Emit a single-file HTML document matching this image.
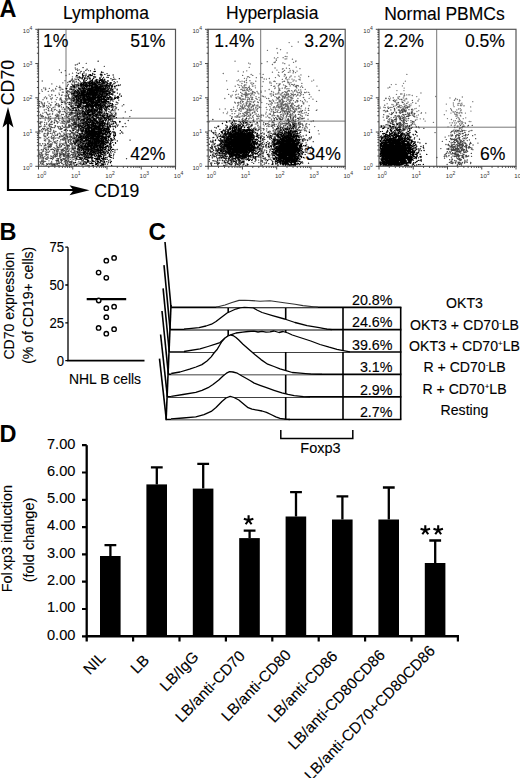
<!DOCTYPE html>
<html><head><meta charset="utf-8"><style>
html,body{margin:0;padding:0;background:#fff;overflow:hidden;width:520px;height:778px;}
svg{display:block;font-family:"Liberation Sans", sans-serif;}
text{stroke:#000;stroke-width:0.12px;}
text.t,text.b{stroke:none;}
</style></head><body>
<svg width="520" height="778" viewBox="0 0 520 778">
<rect width="520" height="778" fill="#fff"/>
<path d="M66 29.3V166.3 M38.5 118.2H175.5" stroke="#777" stroke-width="1" fill="none"/>
<path d="M103.3 123.4h.1M105.4 97.2h.1M97.7 121.9h.1M115.4 113.3h.1M100.6 87.1h.1M103.2 93.1h.1M110.2 99.9h.1M97.8 107.3h.1M112.2 118.9h.1M112.3 103.6h.1M105.2 117.8h.1M100.9 85.6h.1M104.3 66.4h.1M96.5 101.6h.1M114.9 112.0h.1M107.3 101.3h.1M102.8 92.9h.1M101.9 111.5h.1M110.2 131.1h.1M115.5 104.7h.1M99.8 96.6h.1M103.7 95.0h.1M97.0 131.6h.1M110.8 105.5h.1M107.9 114.0h.1M119.8 121.9h.1M106.3 120.0h.1M104.5 94.0h.1M103.0 118.4h.1M111.8 117.0h.1M97.8 112.4h.1M111.3 119.1h.1M108.4 98.7h.1M104.1 105.0h.1M101.9 99.2h.1M113.0 115.9h.1M117.6 97.5h.1M104.5 111.1h.1M110.0 91.8h.1M116.9 104.4h.1M103.5 101.3h.1M105.6 104.5h.1M100.1 107.7h.1M106.2 103.6h.1M106.5 103.1h.1M104.6 79.1h.1M102.8 120.4h.1M98.0 97.9h.1M99.3 102.8h.1M101.4 95.2h.1M110.7 119.0h.1M104.1 94.2h.1M102.1 112.6h.1M110.7 121.3h.1M110.2 127.4h.1M102.7 121.4h.1M103.4 114.1h.1M110.8 90.4h.1M109.1 122.8h.1M102.2 121.5h.1M108.4 116.9h.1M106.8 116.5h.1M113.4 107.0h.1M102.0 99.4h.1M112.0 120.1h.1M109.5 122.6h.1M101.2 92.6h.1M113.0 117.9h.1M112.2 109.3h.1M99.5 117.6h.1M118.3 109.7h.1M100.4 120.5h.1M101.7 119.4h.1M105.2 117.6h.1M111.4 88.3h.1M110.3 116.8h.1M106.5 106.8h.1M114.8 91.6h.1M109.3 115.3h.1M115.0 88.5h.1M123.2 117.8h.1M108.1 128.1h.1M92.2 99.7h.1M104.4 118.1h.1M100.8 112.1h.1M107.5 114.6h.1M107.6 88.8h.1M99.9 114.1h.1M100.4 108.0h.1M105.5 115.8h.1M105.9 106.4h.1M92.0 120.4h.1M112.6 109.8h.1M107.2 115.1h.1M106.9 124.0h.1M108.7 108.7h.1M101.1 119.1h.1M106.7 109.3h.1M113.0 113.1h.1M113.2 99.6h.1M109.7 116.3h.1M105.4 122.1h.1M102.2 105.3h.1M114.7 116.6h.1M110.0 111.9h.1M104.5 92.2h.1M94.4 110.9h.1M101.9 123.3h.1M95.8 100.2h.1M114.3 83.5h.1M108.1 109.0h.1M102.7 98.2h.1M105.4 130.8h.1M122.2 105.9h.1M114.1 106.4h.1M99.1 98.4h.1M106.2 109.6h.1M99.8 99.2h.1M96.9 94.9h.1M108.0 105.6h.1M121.1 96.1h.1M116.2 123.3h.1M107.3 91.5h.1M104.8 105.5h.1M108.2 97.6h.1M113.1 88.8h.1M98.4 127.7h.1M96.0 79.6h.1M118.1 125.0h.1M108.6 88.4h.1M116.5 107.6h.1M108.4 135.3h.1M115.7 79.3h.1M103.4 88.9h.1M109.9 123.2h.1M116.2 108.7h.1M113.0 99.5h.1M104.3 106.0h.1M112.3 94.2h.1M103.1 108.0h.1M98.6 125.5h.1M110.1 101.6h.1M115.3 108.2h.1M112.0 121.8h.1M99.5 131.8h.1M112.2 99.0h.1M111.0 110.3h.1M104.3 99.3h.1M92.2 98.2h.1M113.0 101.4h.1M112.3 98.4h.1M110.0 84.4h.1M96.7 81.1h.1M98.1 97.2h.1M113.0 108.1h.1M111.8 121.9h.1M109.9 99.7h.1M105.5 104.3h.1M109.3 114.9h.1M103.8 115.9h.1M105.1 105.0h.1M101.8 105.8h.1M108.5 130.3h.1M104.5 102.2h.1M112.7 100.2h.1M111.3 85.8h.1M102.2 112.0h.1M118.0 103.1h.1M100.3 130.8h.1M109.7 102.2h.1M113.5 116.8h.1M114.7 118.3h.1M93.8 127.4h.1M113.0 89.8h.1M114.3 126.4h.1M115.6 106.6h.1M93.7 105.1h.1M103.0 102.5h.1M106.4 101.4h.1M104.3 102.1h.1M61.3 72.5h.1M80.7 112.0h.1M77.7 101.0h.1M70.7 88.3h.1M76.8 79.4h.1M93.0 108.2h.1M79.8 98.7h.1M74.6 102.2h.1M89.0 93.2h.1M71.8 87.6h.1M76.2 105.1h.1M73.5 86.0h.1M75.6 105.5h.1M82.2 78.4h.1M81.2 86.3h.1M72.2 80.7h.1M76.4 109.8h.1M77.8 77.6h.1M74.4 84.0h.1M77.0 102.9h.1M72.3 98.4h.1M72.2 119.0h.1M77.5 115.4h.1M70.2 102.5h.1M80.1 103.3h.1M75.9 76.8h.1M70.9 86.7h.1M73.0 92.5h.1M74.0 94.1h.1M76.1 81.5h.1M78.0 86.2h.1M75.8 87.1h.1M71.3 107.2h.1M87.0 100.5h.1M83.4 92.5h.1M78.0 93.1h.1M83.7 99.1h.1M79.4 88.7h.1M75.5 93.2h.1M77.8 77.9h.1M95.4 103.0h.1M84.0 106.1h.1M84.3 99.8h.1M74.5 101.0h.1M81.3 99.8h.1M92.6 117.5h.1M80.1 98.1h.1M84.5 82.1h.1M85.8 85.0h.1M81.6 103.5h.1M87.9 107.2h.1M78.8 104.1h.1M80.6 104.8h.1M72.9 98.0h.1M95.1 80.3h.1M79.3 88.5h.1M78.0 76.9h.1M86.6 91.9h.1M73.9 81.6h.1M77.2 97.0h.1M71.9 94.2h.1M77.4 75.4h.1M74.6 103.7h.1M80.9 104.0h.1M76.3 81.3h.1M73.1 97.5h.1M75.2 103.5h.1M76.4 92.9h.1M73.7 105.0h.1M83.5 97.9h.1M81.8 107.3h.1M78.2 97.9h.1M69.1 94.2h.1M80.7 101.3h.1M68.5 104.2h.1M78.4 98.6h.1M77.5 91.2h.1M73.2 87.6h.1M71.6 92.0h.1M72.5 89.8h.1M91.1 98.1h.1M75.4 97.7h.1M75.8 95.0h.1M83.7 95.9h.1M80.0 97.7h.1M84.3 112.4h.1M68.9 108.6h.1M69.8 89.8h.1M99.7 100.3h.1M76.9 92.4h.1M75.2 94.8h.1M78.3 93.3h.1M83.9 89.2h.1M69.1 81.4h.1M79.1 69.8h.1M77.0 98.0h.1M81.7 108.4h.1M78.4 86.2h.1M73.6 101.2h.1M71.3 91.7h.1M60.7 98.8h.1M83.8 87.3h.1M67.3 93.4h.1M74.5 94.6h.1M88.4 70.6h.1M74.4 98.1h.1M81.3 94.3h.1M75.8 69.5h.1M81.9 102.7h.1M77.4 95.4h.1M73.8 98.0h.1M86.3 99.6h.1M75.4 91.4h.1M68.2 84.4h.1M75.0 91.0h.1M80.8 91.2h.1M69.7 119.3h.1M82.5 115.3h.1M82.3 90.6h.1M91.5 91.4h.1M72.9 99.2h.1M81.6 101.8h.1M65.9 88.4h.1M74.4 85.1h.1M77.9 116.3h.1M79.9 107.0h.1M76.8 79.2h.1M76.6 76.9h.1M73.1 86.9h.1M74.2 98.1h.1M79.2 101.5h.1M80.9 92.1h.1M81.5 78.5h.1M83.9 98.0h.1M85.2 102.1h.1M65.1 95.7h.1M73.7 90.4h.1M76.1 101.8h.1M72.9 95.1h.1M84.2 83.7h.1M82.2 96.7h.1M76.5 81.9h.1M78.0 106.0h.1M85.7 100.7h.1M74.8 85.0h.1M75.1 97.9h.1M83.3 109.0h.1M80.3 72.8h.1M86.7 94.2h.1M79.7 113.3h.1M82.2 79.1h.1M73.5 93.9h.1M70.9 80.4h.1M77.1 94.9h.1M59.4 69.9h.1M79.9 78.3h.1M83.7 89.9h.1M77.7 97.1h.1M75.7 99.7h.1M84.5 100.2h.1M76.9 108.0h.1M83.8 103.2h.1M91.9 103.6h.1M82.0 85.2h.1M83.5 94.0h.1M80.5 129.9h.1M78.9 120.0h.1M79.0 104.6h.1M77.6 103.6h.1M84.4 106.3h.1M66.4 91.3h.1M75.4 116.8h.1M81.6 91.6h.1M71.5 94.8h.1M76.5 119.1h.1M72.5 73.2h.1M80.1 99.6h.1M83.0 77.1h.1M86.9 88.6h.1M80.5 94.7h.1M72.4 91.9h.1M78.9 97.5h.1M81.0 87.4h.1M86.6 94.6h.1M62.8 82.8h.1M79.7 91.5h.1M65.0 80.7h.1M82.0 102.8h.1M80.2 81.7h.1M80.5 103.2h.1M83.1 91.2h.1M79.8 92.4h.1M72.9 108.5h.1M79.5 96.8h.1M85.2 75.1h.1M76.4 101.1h.1M77.4 64.2h.1M69.1 98.6h.1M84.9 91.3h.1M73.8 80.5h.1M72.2 96.5h.1M74.2 92.3h.1M71.4 117.5h.1M75.5 90.9h.1M85.7 116.8h.1M82.5 110.7h.1M86.7 89.0h.1M87.1 86.8h.1M71.2 110.0h.1M80.4 94.2h.1M87.2 97.4h.1M92.5 92.9h.1M67.7 82.5h.1M67.7 91.6h.1M80.3 85.2h.1M74.9 79.0h.1M70.5 92.5h.1M79.7 115.1h.1M71.9 113.3h.1M62.0 95.0h.1M77.0 97.2h.1M78.0 101.3h.1M81.4 110.5h.1M83.5 99.1h.1M78.4 90.5h.1M75.6 91.4h.1M72.7 108.1h.1M66.2 124.1h.1M74.2 88.8h.1M83.8 73.3h.1M81.5 104.5h.1M90.9 94.8h.1M76.1 97.2h.1M65.2 109.2h.1M82.7 96.4h.1M84.1 81.2h.1M69.3 74.2h.1M66.4 95.2h.1M78.2 83.0h.1M81.9 98.9h.1M69.7 81.7h.1M74.9 91.8h.1M72.0 79.6h.1M69.2 91.7h.1M68.3 90.8h.1M78.1 102.2h.1M74.6 110.4h.1M72.7 93.7h.1M59.7 86.2h.1M88.8 117.1h.1M70.8 99.7h.1M76.2 102.4h.1M69.5 102.4h.1M79.7 111.6h.1M67.0 106.8h.1M77.7 103.1h.1M75.9 104.1h.1M83.2 86.3h.1M69.8 89.0h.1M72.8 94.5h.1M75.5 96.7h.1M91.1 95.9h.1M67.3 99.1h.1M79.0 96.0h.1M72.7 91.0h.1M79.2 77.9h.1M81.5 104.9h.1M78.0 102.2h.1M78.8 86.1h.1M79.0 101.2h.1M73.2 100.0h.1M75.6 96.5h.1M66.0 75.5h.1M74.7 82.5h.1M71.9 89.1h.1M75.4 113.4h.1M82.0 86.3h.1M79.6 91.9h.1M80.2 83.5h.1M84.4 90.3h.1M61.1 99.5h.1M79.9 73.0h.1M76.9 64.6h.1M76.4 103.0h.1M68.3 96.1h.1M80.7 89.1h.1M84.7 106.4h.1M83.9 106.4h.1M76.5 72.7h.1M81.3 93.9h.1M83.2 107.9h.1M89.2 88.4h.1M85.2 92.3h.1M78.0 106.2h.1M77.7 92.8h.1M78.2 82.6h.1M78.6 88.2h.1M73.7 81.1h.1M82.2 101.8h.1M72.4 76.8h.1M71.7 106.7h.1M79.4 77.6h.1M73.2 96.2h.1M75.4 79.6h.1M63.2 92.2h.1M82.3 106.9h.1M77.0 108.0h.1M76.2 110.1h.1M80.1 94.7h.1M78.4 96.9h.1M72.4 98.3h.1M90.4 102.5h.1M74.0 91.3h.1M83.5 107.8h.1M89.2 99.3h.1M72.9 108.3h.1M77.6 101.0h.1M71.6 103.2h.1M84.0 87.7h.1M74.8 91.1h.1M69.7 81.5h.1M85.8 92.5h.1M83.2 93.8h.1M71.1 104.9h.1M84.9 81.9h.1M78.3 131.3h.1M95.2 94.4h.1M88.5 109.5h.1M73.3 107.1h.1M75.2 68.0h.1M71.2 92.8h.1M77.9 111.9h.1M77.3 69.0h.1M81.9 104.2h.1M77.6 85.6h.1M67.2 90.6h.1M71.6 98.2h.1M86.5 75.2h.1M84.7 97.9h.1M75.9 88.6h.1M76.1 87.5h.1M75.9 103.4h.1M77.2 134.3h.1M65.8 99.5h.1M83.0 101.8h.1M72.6 95.1h.1M78.0 87.7h.1M60.1 98.5h.1M78.6 112.4h.1M85.9 97.8h.1M82.6 125.2h.1M49.8 145.1h.1M75.1 96.6h.1M78.2 154.6h.1M89.8 97.1h.1M57.8 150.1h.1M58.7 122.1h.1M40.8 106.6h.1M46.7 105.7h.1M76.8 164.8h.1M52.5 113.7h.1M85.4 133.8h.1M54.9 107.0h.1M79.5 135.3h.1M57.1 156.2h.1M77.4 116.2h.1M61.1 149.9h.1M49.4 125.2h.1M49.1 103.5h.1M53.3 155.8h.1M44.6 124.3h.1M83.2 145.2h.1M86.0 163.7h.1M79.5 150.4h.1M83.9 143.7h.1M79.4 152.0h.1M81.9 113.1h.1M71.0 163.8h.1M49.2 114.2h.1M53.8 91.0h.1M58.5 138.2h.1M48.0 134.1h.1M39.9 106.9h.1M87.6 134.8h.1M58.6 118.2h.1M69.8 155.8h.1M44.0 135.4h.1M82.7 137.7h.1M77.2 105.7h.1M40.6 163.4h.1M48.9 116.6h.1M76.8 141.6h.1M41.4 153.7h.1M39.7 137.4h.1M44.6 122.3h.1M45.8 145.5h.1M78.3 150.1h.1M78.8 105.1h.1M67.9 116.8h.1M54.2 109.9h.1M78.9 88.1h.1M71.2 144.1h.1M48.2 118.3h.1M74.3 162.9h.1M67.7 127.5h.1M58.8 161.5h.1M65.8 99.7h.1M51.0 122.1h.1M68.7 157.8h.1M45.6 161.3h.1M89.3 155.2h.1M80.9 148.0h.1M64.1 121.5h.1M88.9 165.5h.1M73.4 141.0h.1M68.3 156.2h.1M71.8 128.6h.1M74.6 162.9h.1M89.5 144.2h.1M78.9 149.8h.1M50.7 105.6h.1M41.5 129.7h.1M85.9 100.1h.1M76.5 125.1h.1M68.5 140.6h.1M63.7 119.9h.1M87.4 83.7h.1M40.7 131.0h.1M46.5 152.6h.1M54.8 127.1h.1M89.9 153.7h.1M74.3 127.8h.1M69.4 139.4h.1M56.2 120.9h.1M46.6 98.7h.1M39.4 154.0h.1M45.8 136.9h.1M47.5 154.7h.1M64.8 154.2h.1M57.4 153.8h.1M88.9 127.2h.1M85.9 120.1h.1M67.1 114.0h.1M47.1 133.7h.1M54.8 142.9h.1M39.9 158.6h.1M58.3 150.9h.1M86.2 140.6h.1M54.8 119.7h.1M82.3 141.6h.1M58.8 119.3h.1M72.2 159.1h.1M56.8 114.2h.1M80.2 129.4h.1M50.0 113.9h.1M46.7 113.3h.1M41.2 153.0h.1M58.1 111.8h.1M76.3 122.5h.1M62.3 92.2h.1M81.9 161.4h.1M68.7 160.7h.1M66.0 126.8h.1M64.2 161.9h.1M40.6 114.3h.1M68.9 116.5h.1M48.3 139.8h.1M42.8 113.2h.1M43.8 161.2h.1M47.0 164.7h.1M70.5 103.2h.1M53.2 132.2h.1M53.7 130.5h.1M59.8 165.7h.1M87.8 165.5h.1M51.8 95.1h.1M54.0 163.9h.1M51.4 145.7h.1M54.7 133.9h.1M53.8 131.4h.1M81.3 158.3h.1M88.9 103.9h.1M58.8 128.5h.1M83.2 100.5h.1M44.0 128.5h.1M63.3 155.1h.1M80.9 157.0h.1M43.1 105.4h.1M89.9 116.2h.1M59.1 149.1h.1M64.2 108.8h.1M87.2 93.2h.1M85.9 159.0h.1M49.3 88.3h.1M62.0 160.3h.1M76.4 142.6h.1M62.2 128.3h.1M86.9 120.7h.1M48.8 128.1h.1M88.7 160.6h.1M70.5 141.4h.1M70.1 105.8h.1M73.7 140.2h.1M52.1 121.7h.1M61.4 160.9h.1M49.8 107.4h.1M80.0 135.6h.1M55.6 88.3h.1M45.9 117.5h.1M84.3 149.6h.1M56.2 143.6h.1M87.4 161.9h.1M61.4 107.0h.1M72.0 133.5h.1M79.0 100.8h.1M65.1 148.8h.1M87.1 101.1h.1M80.2 162.1h.1M84.4 135.0h.1M65.9 138.7h.1M45.2 126.2h.1M47.4 128.6h.1M46.0 159.3h.1M66.0 152.7h.1M87.5 127.7h.1M67.0 156.0h.1M60.6 127.0h.1M44.3 97.9h.1M57.8 114.3h.1M48.0 130.5h.1M62.0 131.8h.1M62.1 109.1h.1M86.6 149.3h.1M58.9 115.2h.1M84.0 145.9h.1M40.7 137.8h.1M56.3 145.8h.1M75.7 160.4h.1M61.5 149.8h.1M42.6 143.7h.1M56.9 148.0h.1M67.0 137.1h.1M50.7 156.0h.1M43.1 107.2h.1M77.5 106.9h.1M70.2 131.4h.1M56.5 162.0h.1M58.6 105.6h.1M55.4 115.2h.1M83.1 151.9h.1M53.9 139.0h.1M85.4 108.1h.1M60.1 90.0h.1M63.8 123.2h.1M51.7 110.6h.1M43.0 159.9h.1M48.9 137.1h.1M51.4 136.4h.1M61.0 143.5h.1M63.9 135.5h.1M82.0 115.2h.1M57.0 151.1h.1M77.9 151.4h.1M51.6 161.3h.1M63.1 135.2h.1M42.4 104.2h.1M84.4 164.3h.1M56.7 86.3h.1M71.5 107.1h.1M67.4 149.5h.1M63.6 158.7h.1M50.8 163.2h.1M80.9 142.4h.1M62.8 118.6h.1M45.3 89.8h.1M43.6 151.2h.1M64.4 145.4h.1M67.6 102.5h.1M52.7 151.9h.1M50.6 163.6h.1M81.3 110.2h.1M73.7 142.9h.1M45.9 130.0h.1M80.1 143.7h.1M41.5 102.7h.1M81.9 160.7h.1M81.6 120.1h.1M44.9 145.4h.1M89.5 114.8h.1M84.9 109.5h.1M47.7 164.1h.1M72.2 117.0h.1M62.4 163.8h.1M45.9 158.6h.1M49.1 139.9h.1M49.1 140.2h.1M73.1 89.7h.1M68.0 153.3h.1M88.5 148.0h.1M54.3 141.8h.1M63.3 155.9h.1M57.7 133.9h.1M58.2 127.3h.1M68.6 151.5h.1M79.0 135.6h.1M73.7 143.1h.1M44.4 106.6h.1M52.7 111.7h.1M70.8 109.8h.1M77.7 155.2h.1M57.1 164.9h.1M62.1 139.5h.1M41.0 154.2h.1M65.2 103.0h.1M54.2 123.1h.1M65.6 163.0h.1M69.4 120.4h.1M47.3 107.3h.1M42.4 131.2h.1M75.2 153.2h.1M75.7 165.6h.1M89.4 90.1h.1M64.4 145.1h.1M42.0 157.4h.1M42.5 156.0h.1M88.5 161.9h.1M76.4 145.7h.1M47.0 157.9h.1M60.3 128.9h.1M48.6 142.1h.1M78.5 139.3h.1M76.2 131.8h.1M86.2 132.3h.1M72.4 149.5h.1M59.4 106.5h.1M85.4 157.0h.1M58.2 149.7h.1M76.4 111.7h.1M49.8 124.7h.1M52.8 157.5h.1M69.7 130.5h.1M53.6 157.8h.1M82.8 128.6h.1M86.3 128.0h.1M69.5 165.4h.1M68.2 127.5h.1M64.6 130.2h.1M48.5 108.9h.1M56.6 154.3h.1M84.6 97.6h.1M73.4 154.0h.1M78.2 135.8h.1M59.9 158.6h.1M48.9 144.1h.1M79.4 163.4h.1M60.0 137.0h.1M78.6 114.1h.1M42.0 162.1h.1M56.6 160.5h.1M72.0 157.4h.1M86.4 142.7h.1M48.8 117.5h.1M89.1 86.9h.1M73.3 155.8h.1M48.8 146.5h.1M39.3 131.7h.1M86.3 136.9h.1M73.3 154.4h.1M75.7 114.6h.1M59.8 87.6h.1M43.0 99.7h.1M63.1 165.7h.1M71.6 112.4h.1M52.8 165.1h.1M87.9 89.3h.1M78.4 147.3h.1M39.5 137.8h.1M53.7 135.6h.1M84.9 80.4h.1M77.0 140.6h.1M79.8 143.8h.1M48.2 157.1h.1M83.9 156.9h.1M72.4 155.7h.1M59.3 94.7h.1M73.7 159.5h.1M51.1 137.6h.1M84.7 159.1h.1M42.6 161.3h.1M52.3 98.0h.1M75.5 129.4h.1M60.0 136.4h.1M84.0 142.9h.1M81.1 162.9h.1M73.5 90.6h.1M57.0 142.9h.1M61.1 135.4h.1M55.6 104.6h.1M54.6 148.1h.1M39.1 150.8h.1M51.8 102.3h.1M74.3 101.0h.1M66.4 135.1h.1M55.5 163.9h.1M55.3 156.9h.1M47.8 146.8h.1M42.5 128.4h.1M46.5 163.6h.1M70.5 134.1h.1M86.4 105.1h.1M73.9 142.6h.1M56.3 99.6h.1M67.5 158.8h.1M45.4 136.2h.1M42.7 151.3h.1M41.7 158.0h.1M67.7 154.4h.1M68.7 154.6h.1M46.5 154.2h.1M87.0 127.6h.1M45.7 89.4h.1M64.8 116.6h.1M71.9 146.0h.1M40.1 122.0h.1M52.5 165.6h.1M65.9 122.0h.1M73.4 149.6h.1M73.6 103.2h.1M72.6 132.8h.1M42.3 155.2h.1M41.5 161.4h.1M82.8 96.7h.1M46.1 155.3h.1M57.2 164.4h.1M81.8 88.2h.1M40.8 155.9h.1M82.7 92.1h.1M72.2 147.7h.1M58.4 165.6h.1M50.9 98.5h.1M65.3 151.9h.1M81.0 101.8h.1M48.9 141.7h.1M51.2 124.5h.1M64.2 139.9h.1M80.2 152.6h.1M60.0 110.9h.1M59.7 120.6h.1M88.1 102.4h.1M66.0 129.3h.1M79.0 97.9h.1M73.2 89.4h.1M66.7 151.1h.1M60.9 149.3h.1M72.2 89.4h.1M81.4 146.2h.1M45.9 147.5h.1M52.4 124.3h.1M49.4 120.2h.1M80.2 114.4h.1M55.2 142.9h.1M61.6 104.5h.1M65.0 139.3h.1M87.8 129.1h.1M48.0 152.6h.1M83.2 114.0h.1M62.0 121.7h.1M57.4 134.7h.1M87.1 122.8h.1M44.0 148.0h.1M39.3 105.5h.1M85.2 161.7h.1M80.7 163.2h.1M66.2 103.7h.1M52.2 135.0h.1M78.6 124.4h.1M46.6 124.3h.1M60.5 111.6h.1M47.3 138.6h.1M59.5 155.2h.1M62.2 154.1h.1M61.8 152.0h.1M89.1 144.7h.1M58.0 160.1h.1M65.9 142.9h.1M46.3 155.1h.1M53.0 163.9h.1M50.3 158.2h.1M88.6 141.1h.1M45.1 119.9h.1M71.6 143.0h.1M81.3 150.4h.1M87.0 150.3h.1M74.8 128.5h.1M47.8 152.1h.1M85.9 123.3h.1M65.1 103.9h.1M65.7 164.0h.1M84.5 161.8h.1M39.3 130.5h.1M75.6 139.4h.1M77.7 86.4h.1M73.0 163.7h.1M48.5 125.1h.1M85.5 143.5h.1M50.8 104.7h.1M55.2 105.1h.1M81.5 141.9h.1M85.9 147.4h.1M52.1 165.2h.1M63.2 149.0h.1M82.3 143.4h.1M66.2 143.0h.1M50.2 118.5h.1M57.6 126.3h.1M71.1 144.4h.1M75.8 104.8h.1M54.4 120.9h.1M48.3 108.3h.1M78.7 90.8h.1M54.1 132.5h.1M51.2 126.6h.1M53.3 140.0h.1M50.4 128.5h.1M45.4 96.8h.1M58.4 158.6h.1M48.2 91.4h.1M71.8 87.9h.1M43.8 88.0h.1M56.9 154.4h.1M87.3 126.2h.1M62.1 163.4h.1M84.4 122.1h.1M50.2 129.3h.1M79.0 149.0h.1M42.9 163.4h.1M87.5 161.5h.1M88.0 126.8h.1M74.1 147.9h.1M48.9 95.1h.1M77.5 140.9h.1M79.9 145.7h.1M72.2 118.7h.1M78.5 146.3h.1M51.6 121.2h.1M78.7 153.1h.1M50.1 96.6h.1M64.6 137.4h.1M58.9 163.6h.1M49.5 144.6h.1M51.8 163.0h.1M84.1 163.4h.1M41.7 152.9h.1M63.8 155.3h.1M63.3 151.2h.1M44.2 136.7h.1M42.8 154.5h.1M61.0 154.4h.1M56.9 158.7h.1M51.8 83.9h.1M51.6 90.9h.1M50.3 133.4h.1M71.4 150.1h.1M88.8 130.1h.1M54.3 127.3h.1M59.1 87.6h.1M74.4 143.2h.1M54.3 163.9h.1M45.0 143.7h.1M71.9 115.8h.1M56.8 145.0h.1M55.4 126.0h.1M83.8 94.3h.1M41.2 149.9h.1M84.4 80.9h.1M70.1 157.4h.1M81.4 83.7h.1M67.4 153.8h.1M75.1 124.7h.1M84.1 124.7h.1M47.4 135.3h.1M44.2 110.0h.1M67.9 112.2h.1M63.2 149.9h.1M65.3 161.3h.1M57.0 105.3h.1M89.0 118.5h.1M69.6 165.3h.1M69.9 148.3h.1M40.0 161.7h.1M52.7 127.6h.1M53.0 153.2h.1M89.6 149.7h.1M45.6 151.8h.1M64.5 134.3h.1M76.2 120.1h.1M70.5 125.9h.1M77.7 105.6h.1M57.1 97.6h.1M46.9 127.1h.1M50.2 158.4h.1M66.8 123.2h.1M65.3 140.1h.1M59.4 156.5h.1M85.8 101.1h.1M59.1 126.4h.1M49.4 126.4h.1M69.5 149.8h.1M68.5 161.0h.1M78.9 84.1h.1M67.3 139.0h.1M63.4 120.7h.1M48.0 128.7h.1M50.6 119.0h.1M78.2 129.6h.1M88.1 125.7h.1M83.4 135.9h.1M50.6 116.3h.1M60.4 127.9h.1M82.8 113.4h.1M81.8 130.2h.1M41.5 149.6h.1M52.8 89.8h.1M48.6 106.2h.1M39.5 154.6h.1M49.9 119.6h.1M66.4 96.5h.1M75.3 154.4h.1M76.5 140.4h.1M67.6 117.4h.1M69.3 127.2h.1M65.3 158.8h.1M79.4 149.5h.1M72.0 118.8h.1M73.7 115.1h.1M85.0 140.4h.1M44.5 103.0h.1M40.5 114.3h.1M65.9 155.4h.1M61.5 150.6h.1M85.3 88.7h.1M54.4 132.2h.1M73.3 128.6h.1M74.3 151.4h.1M50.8 130.6h.1M60.1 157.5h.1M48.9 110.9h.1M48.3 145.8h.1M62.2 119.2h.1M47.7 143.9h.1M67.3 108.8h.1M70.2 159.4h.1M62.7 126.3h.1M67.6 147.8h.1M48.7 152.1h.1M68.1 133.7h.1M82.5 138.6h.1M82.2 102.8h.1M44.2 138.8h.1M55.2 138.2h.1M75.5 160.5h.1M68.9 124.9h.1M58.4 106.7h.1M81.4 129.1h.1M84.6 154.2h.1M67.5 85.3h.1M51.4 90.8h.1M63.2 139.8h.1M56.3 150.2h.1M45.0 133.5h.1M87.0 111.1h.1M74.1 147.0h.1M42.2 115.5h.1M47.9 132.5h.1M86.1 112.5h.1M42.4 161.2h.1M73.3 128.2h.1M67.8 148.7h.1M64.3 109.8h.1M74.1 143.3h.1M55.8 120.3h.1M70.7 102.8h.1M83.7 122.0h.1M68.0 95.5h.1M65.5 142.9h.1M70.0 139.8h.1M48.1 158.2h.1M55.7 89.1h.1M75.4 129.3h.1M67.7 165.5h.1M44.6 124.5h.1M83.2 94.6h.1M59.7 155.1h.1M51.2 99.6h.1M46.2 149.9h.1M86.1 137.8h.1M76.1 159.5h.1M54.4 136.9h.1M48.4 147.8h.1M82.4 116.9h.1M46.1 165.4h.1M65.4 112.4h.1M72.9 157.2h.1M86.8 147.9h.1M73.8 134.7h.1M44.0 126.6h.1M65.3 98.5h.1M85.4 154.7h.1M52.4 114.2h.1M43.0 159.2h.1M41.5 160.1h.1M81.5 112.6h.1M86.6 119.9h.1M62.3 149.7h.1M54.3 153.0h.1M59.0 93.1h.1M47.7 156.6h.1M61.0 156.0h.1M62.8 144.2h.1M66.0 160.3h.1M43.9 165.0h.1M88.7 112.1h.1M70.7 163.2h.1M68.0 158.6h.1M81.1 141.9h.1M41.0 101.8h.1M68.7 164.2h.1M57.5 151.7h.1M71.5 126.4h.1M86.8 122.6h.1M42.1 163.6h.1M47.4 114.5h.1M56.6 156.3h.1M66.0 131.9h.1M81.2 148.9h.1M76.3 156.3h.1M66.8 100.4h.1M48.4 117.2h.1M64.4 102.2h.1M61.2 128.8h.1M44.3 105.5h.1M85.6 161.7h.1M81.8 154.3h.1M70.1 141.5h.1M51.2 110.7h.1M68.2 112.6h.1M55.2 142.2h.1M71.9 161.2h.1M40.4 162.6h.1M69.6 162.4h.1M67.3 122.6h.1M86.2 148.9h.1M67.9 137.3h.1M78.8 139.8h.1M49.9 147.6h.1M67.0 120.2h.1M55.2 117.9h.1M89.2 129.6h.1M87.8 114.7h.1M51.1 158.6h.1M70.6 126.0h.1M42.2 91.3h.1M66.7 144.9h.1M89.2 165.5h.1M45.7 139.3h.1M76.1 119.2h.1M65.1 160.9h.1M89.7 144.6h.1M59.5 144.0h.1M81.1 133.2h.1M69.2 153.4h.1M79.7 147.2h.1M82.4 139.1h.1M71.9 123.5h.1M56.5 154.1h.1M69.2 161.4h.1M79.2 99.3h.1M80.8 88.9h.1M71.0 100.4h.1M62.0 159.3h.1M42.8 143.8h.1M44.5 128.5h.1M71.7 165.0h.1M58.9 163.3h.1M73.4 130.5h.1M65.3 126.3h.1M59.0 138.2h.1M49.0 142.2h.1M82.1 157.5h.1M52.5 159.6h.1M71.0 119.4h.1M43.7 158.2h.1M88.1 97.4h.1M46.4 112.4h.1M64.4 130.2h.1M80.3 97.2h.1M50.5 124.5h.1M71.7 89.1h.1M59.5 155.4h.1M88.1 147.6h.1M45.4 117.2h.1M48.4 137.6h.1M66.6 127.9h.1M73.6 156.2h.1M68.2 120.1h.1M47.9 115.0h.1M63.8 153.7h.1M41.8 152.5h.1M73.2 149.3h.1M55.4 95.5h.1M88.0 91.8h.1M59.1 162.5h.1M41.2 164.8h.1M39.1 112.0h.1M55.5 135.4h.1M52.0 133.4h.1M87.5 119.3h.1M78.7 97.6h.1M57.4 116.6h.1M51.9 164.2h.1M42.0 131.9h.1M44.9 112.2h.1M76.7 97.2h.1M41.4 145.7h.1M78.9 157.4h.1M58.8 116.5h.1M73.7 152.4h.1M70.2 87.9h.1M44.1 104.0h.1M77.4 145.2h.1M83.7 99.7h.1M44.2 133.5h.1M88.5 134.9h.1M80.0 89.2h.1M69.7 156.4h.1M74.3 151.4h.1M40.9 154.5h.1M50.2 146.1h.1M85.2 119.1h.1M82.9 148.7h.1M49.7 140.8h.1M66.7 144.2h.1M56.2 152.2h.1M48.1 119.8h.1M78.8 161.6h.1M73.3 133.3h.1M42.0 122.0h.1M72.9 137.9h.1M39.1 164.8h.1M43.4 149.3h.1M59.8 99.9h.1M40.3 118.6h.1M65.3 147.4h.1M73.7 164.0h.1M51.8 138.6h.1M74.4 138.8h.1M42.2 81.0h.1M43.1 106.7h.1M64.2 155.4h.1M40.0 115.6h.1M77.6 138.5h.1M84.4 148.0h.1M79.7 153.1h.1M67.8 145.6h.1M88.7 121.5h.1M79.7 141.8h.1M85.0 148.8h.1M82.5 96.3h.1M82.4 164.4h.1M77.5 144.0h.1M85.2 165.0h.1M43.0 158.7h.1M79.9 89.9h.1M73.4 98.2h.1M57.2 158.3h.1M61.0 115.9h.1M44.3 161.5h.1M54.5 165.2h.1M75.3 153.2h.1M66.9 144.3h.1M86.2 131.6h.1M51.6 161.3h.1M50.3 144.6h.1M76.5 99.6h.1M87.8 150.7h.1M57.4 123.3h.1M58.8 104.8h.1M41.3 126.1h.1M50.6 158.5h.1M85.3 151.6h.1M88.8 127.1h.1M63.8 156.5h.1M82.5 140.0h.1M49.6 123.9h.1M71.9 100.7h.1M85.5 147.9h.1M56.5 116.1h.1M71.4 136.4h.1M76.8 115.3h.1M45.7 144.7h.1M51.8 94.7h.1M69.0 118.8h.1M51.8 144.4h.1M46.8 157.6h.1M46.8 150.8h.1M78.8 119.7h.1M62.2 128.5h.1M67.1 136.0h.1M71.2 163.4h.1M55.2 109.3h.1M72.4 154.4h.1M61.8 102.2h.1M43.3 157.4h.1M65.5 101.8h.1M64.2 127.3h.1M74.0 126.3h.1M87.9 147.0h.1M41.0 122.0h.1M70.2 155.4h.1M74.7 165.5h.1M63.2 150.2h.1M60.7 87.8h.1M75.1 99.9h.1M66.4 155.3h.1M59.9 129.3h.1M72.2 136.8h.1M69.8 157.7h.1M43.0 149.9h.1M57.0 137.8h.1M84.5 120.7h.1M46.7 97.8h.1M65.4 102.1h.1M71.3 93.8h.1M44.7 128.7h.1M48.8 163.4h.1M55.1 101.8h.1M69.4 137.0h.1M45.0 143.7h.1M78.0 163.1h.1M79.9 146.3h.1M50.9 141.4h.1M66.4 149.5h.1M82.7 131.4h.1M61.0 153.9h.1M67.9 157.2h.1M59.6 113.0h.1M76.6 137.9h.1M70.8 121.8h.1M77.2 103.5h.1M88.4 130.2h.1M78.6 143.0h.1M68.0 137.2h.1M51.6 127.5h.1M64.9 139.8h.1M87.2 136.3h.1M89.2 89.1h.1M44.8 148.4h.1M73.1 154.4h.1M39.7 133.2h.1M44.1 146.0h.1M57.6 115.5h.1M43.5 150.9h.1M72.0 132.8h.1M64.2 145.3h.1M58.3 147.4h.1M82.3 131.1h.1M56.8 110.3h.1M51.2 162.9h.1M53.1 156.7h.1M39.7 127.4h.1M75.7 127.0h.1M71.7 157.8h.1M59.9 152.2h.1M80.6 118.7h.1M55.6 156.3h.1M49.5 123.9h.1M40.2 157.5h.1M47.7 101.8h.1M61.6 163.4h.1M55.5 126.0h.1M61.4 162.0h.1M41.3 116.0h.1M39.9 126.6h.1M73.3 116.6h.1M59.9 141.8h.1M79.0 116.6h.1M82.1 147.5h.1M57.1 147.8h.1M62.1 153.1h.1M77.9 132.6h.1M45.4 130.8h.1M80.0 116.3h.1M57.4 135.0h.1M51.3 137.9h.1M62.6 118.7h.1M71.8 139.9h.1M81.7 108.7h.1M80.8 130.1h.1M40.3 122.7h.1M46.9 138.3h.1M55.9 153.6h.1M41.6 89.8h.1M61.5 131.6h.1M61.8 100.5h.1M65.5 125.1h.1M56.5 151.3h.1M50.8 145.0h.1M68.8 150.1h.1M41.4 155.9h.1M40.6 124.0h.1M76.8 126.6h.1M48.3 110.4h.1M46.7 123.0h.1M51.2 143.9h.1M68.1 147.2h.1M50.8 149.7h.1M72.6 138.5h.1M71.5 93.4h.1M59.3 145.6h.1M86.2 157.8h.1M77.4 159.3h.1M45.6 88.1h.1M50.3 126.9h.1M44.1 135.3h.1M75.2 144.3h.1M48.4 154.8h.1M61.8 89.1h.1M43.3 160.8h.1M83.7 131.4h.1M76.9 164.5h.1M72.7 154.4h.1M74.5 128.4h.1M57.2 163.6h.1M48.3 133.5h.1M39.4 101.5h.1M59.6 111.6h.1M85.3 138.4h.1M39.9 152.6h.1M48.5 121.6h.1M65.6 162.9h.1M42.3 116.9h.1M53.8 165.1h.1M77.2 145.8h.1M49.5 151.2h.1M54.2 127.7h.1M53.0 138.2h.1M49.1 125.0h.1M80.0 136.3h.1M87.4 157.5h.1M68.9 153.1h.1M51.6 156.5h.1M51.0 129.6h.1M74.0 120.4h.1M75.5 142.2h.1M80.6 163.7h.1M45.5 149.4h.1M48.7 114.7h.1M56.1 154.6h.1M60.6 160.0h.1M80.4 151.3h.1M43.0 150.6h.1M53.9 147.6h.1M44.4 140.5h.1M80.0 128.2h.1M75.1 150.1h.1M80.1 130.3h.1M54.8 109.3h.1M65.5 160.6h.1M84.2 161.7h.1M39.5 103.6h.1M79.7 155.3h.1M78.0 144.1h.1M60.9 123.2h.1M78.4 123.1h.1M77.5 105.9h.1M47.8 132.1h.1M88.3 112.7h.1M86.9 147.4h.1M51.7 163.3h.1M87.7 120.4h.1M66.6 117.0h.1M64.8 137.5h.1M78.4 102.4h.1M85.6 105.5h.1M51.7 109.3h.1M44.8 156.7h.1M81.7 136.2h.1M61.3 154.3h.1M66.9 157.0h.1M63.2 120.8h.1M83.7 109.1h.1M67.8 94.9h.1M74.8 151.1h.1M78.1 138.6h.1M67.4 146.3h.1M69.6 108.5h.1M43.8 134.9h.1M47.1 129.1h.1M42.0 102.9h.1M59.8 105.4h.1M78.4 149.4h.1M51.1 146.6h.1M83.4 130.2h.1M42.0 103.5h.1M56.3 116.9h.1M50.5 131.6h.1M87.8 151.4h.1M47.1 129.8h.1M82.4 152.4h.1M65.2 126.0h.1M52.4 142.9h.1M60.0 152.0h.1M45.2 130.1h.1M69.8 133.8h.1M72.8 93.9h.1M61.3 102.0h.1M79.3 147.9h.1M78.0 100.0h.1M73.2 110.4h.1M77.2 134.9h.1M60.6 162.3h.1M65.7 153.6h.1M62.3 125.7h.1M46.1 109.3h.1M74.3 129.3h.1M61.4 95.3h.1M73.3 119.3h.1M48.3 149.5h.1M50.5 144.0h.1M43.4 162.5h.1M85.3 121.8h.1M74.0 130.0h.1M54.4 151.2h.1M41.2 116.5h.1M55.8 115.3h.1M78.7 165.1h.1M84.8 124.6h.1M47.1 159.4h.1M86.1 128.9h.1M48.9 160.8h.1M40.3 156.8h.1M45.3 120.1h.1M39.5 93.3h.1M50.9 146.8h.1M78.2 124.1h.1M63.2 123.2h.1M79.3 150.0h.1M43.3 129.5h.1M77.0 118.7h.1M45.5 158.6h.1M55.1 154.8h.1M86.6 155.5h.1M76.1 122.9h.1M76.1 165.1h.1M71.8 136.7h.1M57.4 122.0h.1M70.8 105.1h.1M60.7 155.6h.1M79.2 149.4h.1M73.2 162.9h.1M84.3 99.6h.1M81.6 94.0h.1M81.7 160.2h.1M43.4 116.5h.1M39.6 123.3h.1M58.2 103.8h.1M87.2 136.1h.1M69.7 112.2h.1M68.3 94.8h.1M81.0 163.8h.1M71.1 105.1h.1M44.3 126.1h.1M62.9 111.6h.1M83.2 156.5h.1M80.0 154.0h.1M41.7 161.9h.1M89.9 134.2h.1M65.3 154.3h.1M53.4 155.7h.1M60.7 157.3h.1M87.1 107.1h.1M84.7 135.3h.1" stroke="#555" stroke-width="1.3" stroke-linecap="round" fill="none"/>
<path d="M81.9 97.7h.1M68.6 125.5h.1M71.0 136.6h.1M76.9 138.3h.1M76.2 157.9h.1M83.7 130.9h.1M81.3 103.9h.1M93.6 112.4h.1M85.4 122.8h.1M91.5 139.2h.1M71.2 101.8h.1M74.3 136.9h.1M84.3 132.4h.1M78.9 106.4h.1M83.8 131.7h.1M80.4 108.3h.1M72.5 121.2h.1M93.5 116.1h.1M88.4 125.4h.1M64.1 101.1h.1M72.6 130.3h.1M78.3 84.2h.1M84.3 114.4h.1M77.5 111.6h.1M65.9 148.2h.1M85.6 130.5h.1M76.3 113.0h.1M89.0 106.0h.1M80.9 121.9h.1M87.2 110.6h.1M85.7 159.5h.1M86.1 73.9h.1M73.6 122.4h.1M87.4 79.3h.1M80.0 139.0h.1M66.9 107.6h.1M74.6 148.7h.1M75.1 112.0h.1M82.4 139.8h.1M84.3 124.8h.1M68.2 141.5h.1M84.7 121.7h.1M77.6 70.5h.1M68.7 108.9h.1M85.7 94.7h.1M71.3 137.5h.1M67.5 130.5h.1M85.0 121.4h.1M86.3 129.1h.1M72.3 124.7h.1M87.7 111.6h.1M87.2 154.7h.1M73.6 125.4h.1M96.2 118.0h.1M77.7 96.3h.1M80.2 110.7h.1M56.8 121.5h.1M83.9 118.3h.1M72.7 113.2h.1M82.2 120.5h.1M62.9 102.1h.1M88.6 121.5h.1M91.3 94.9h.1M95.2 106.6h.1M51.7 108.7h.1M83.5 136.2h.1M81.3 129.7h.1M51.1 122.6h.1M71.7 101.7h.1M77.5 114.5h.1M91.1 135.0h.1M70.8 142.7h.1M80.1 96.1h.1M77.8 114.0h.1M81.6 123.2h.1M74.7 127.3h.1M86.3 121.5h.1M87.0 132.8h.1M66.1 96.6h.1M88.4 148.0h.1M71.6 101.8h.1M75.9 122.4h.1M88.4 130.3h.1M79.2 141.3h.1M83.5 136.9h.1M85.4 136.3h.1M83.7 143.3h.1M73.5 118.8h.1M69.8 134.3h.1M84.5 147.8h.1M85.2 108.5h.1M81.6 97.5h.1M76.7 104.3h.1M86.1 145.7h.1M78.2 142.8h.1M66.1 115.4h.1M80.9 125.7h.1M83.0 129.6h.1M85.4 139.5h.1M70.4 89.3h.1M71.7 112.0h.1M81.4 117.1h.1M74.4 127.0h.1M77.9 122.9h.1M86.9 116.1h.1M82.0 126.5h.1M94.9 77.5h.1M93.9 135.7h.1M88.1 136.8h.1M101.4 110.3h.1M78.7 128.7h.1M77.8 156.9h.1M90.3 152.9h.1M74.0 122.9h.1M74.5 100.3h.1M80.8 124.4h.1M82.0 116.5h.1M66.1 136.3h.1M80.9 99.7h.1M75.9 118.4h.1M78.4 126.3h.1M80.3 113.6h.1M77.0 139.8h.1M88.3 102.1h.1M83.1 100.4h.1M77.1 115.7h.1M79.4 136.0h.1M88.1 116.5h.1M85.8 111.5h.1M90.1 135.6h.1M77.6 125.5h.1M80.1 112.6h.1M96.8 123.8h.1M78.5 117.6h.1M93.9 132.2h.1M86.4 124.2h.1M75.0 107.9h.1M66.4 113.5h.1M84.6 114.5h.1M72.6 128.1h.1M72.6 128.2h.1M63.4 107.4h.1M89.5 118.4h.1M79.8 127.0h.1M79.1 140.6h.1M82.4 126.0h.1M81.1 155.3h.1M79.8 122.1h.1M83.5 134.3h.1M76.5 116.1h.1M55.9 104.5h.1M85.5 123.5h.1M82.7 130.0h.1M79.1 127.3h.1M93.1 124.2h.1M66.5 115.9h.1M53.1 107.5h.1M92.2 116.5h.1M82.6 129.7h.1M64.3 138.1h.1M75.3 65.0h.1M84.5 132.2h.1M68.1 140.3h.1M83.9 143.4h.1M97.9 128.3h.1M91.4 133.2h.1M78.7 114.0h.1M81.8 120.2h.1M70.5 130.7h.1M80.1 102.8h.1M76.0 108.0h.1M70.1 125.1h.1M66.9 98.7h.1M96.2 122.6h.1M79.7 96.1h.1M69.8 125.0h.1M75.2 122.1h.1M92.2 112.0h.1M93.4 105.4h.1M73.4 112.9h.1M80.7 83.0h.1M86.9 114.8h.1M75.8 123.7h.1M68.4 142.4h.1M70.2 112.9h.1M79.0 118.6h.1M72.0 145.6h.1M67.4 151.6h.1M76.8 113.2h.1M87.3 139.7h.1M85.0 142.0h.1M76.9 130.6h.1M96.0 104.6h.1M71.9 105.4h.1M78.2 131.6h.1M66.7 161.9h.1M85.9 118.6h.1M77.8 148.7h.1M63.9 154.4h.1M71.5 100.1h.1M95.0 111.3h.1M85.4 147.7h.1M79.9 138.5h.1M86.6 131.1h.1M64.6 121.5h.1M71.5 132.5h.1M67.0 110.8h.1M71.5 164.9h.1M75.5 101.8h.1M83.6 90.6h.1M87.9 124.2h.1M87.6 146.6h.1M102.9 113.2h.1M74.5 120.7h.1M78.7 104.0h.1M83.4 120.4h.1M71.5 104.1h.1M76.3 104.3h.1M82.5 96.2h.1M71.0 112.2h.1M83.1 153.8h.1M89.8 120.7h.1M68.9 125.0h.1M58.4 160.3h.1M79.6 110.7h.1M69.5 104.4h.1M80.4 130.7h.1M74.8 100.4h.1M81.5 127.4h.1M88.9 141.6h.1M86.1 103.0h.1M75.6 112.6h.1M68.4 151.0h.1M56.6 103.3h.1M59.4 109.9h.1M71.7 125.8h.1M79.6 116.2h.1M72.7 106.9h.1M73.4 149.3h.1M64.4 111.6h.1M63.9 127.4h.1M63.2 114.5h.1M84.2 117.7h.1M60.9 97.9h.1M84.6 137.7h.1M70.5 114.2h.1M83.3 143.7h.1M80.6 101.5h.1M85.2 113.3h.1M89.0 129.9h.1M71.4 123.6h.1M69.7 110.3h.1M74.4 119.3h.1M71.4 99.2h.1M84.2 122.6h.1M77.2 75.7h.1M78.3 124.6h.1M81.9 145.1h.1M73.9 137.1h.1M88.0 136.4h.1M61.7 114.4h.1M80.2 130.1h.1M82.6 114.7h.1M71.2 120.1h.1M71.9 119.9h.1M86.2 63.3h.1M75.2 137.7h.1M60.9 129.5h.1M66.0 136.2h.1M87.1 105.2h.1M70.2 133.7h.1M89.8 130.0h.1M90.3 83.0h.1M76.2 91.1h.1M82.9 122.6h.1M70.6 110.1h.1M74.4 121.4h.1M71.8 110.6h.1M83.3 147.6h.1M66.5 88.7h.1M76.8 98.0h.1M78.4 104.7h.1M82.6 98.0h.1M59.0 111.6h.1M62.0 121.1h.1M70.1 98.4h.1M76.0 128.0h.1M79.2 144.4h.1M79.7 140.6h.1M96.0 156.4h.1M83.8 141.3h.1M83.2 121.1h.1M73.6 152.6h.1M84.9 133.9h.1M84.1 154.2h.1M83.9 118.4h.1M76.9 85.3h.1M83.5 101.5h.1M91.5 124.8h.1M70.8 131.3h.1M58.6 118.2h.1M85.2 139.1h.1M84.5 101.8h.1M75.8 109.6h.1M73.9 138.9h.1M102.5 122.7h.1M73.7 123.5h.1M67.0 146.2h.1M73.6 140.8h.1M82.4 108.1h.1M72.4 125.3h.1M74.4 92.3h.1M80.6 121.7h.1M74.0 128.6h.1M79.0 91.8h.1M77.5 148.9h.1M68.4 156.5h.1M78.5 130.5h.1M67.5 137.9h.1M86.2 147.9h.1M69.5 118.9h.1M75.7 140.0h.1M61.6 128.6h.1M73.9 95.4h.1M66.7 106.3h.1M91.2 112.2h.1M76.8 140.5h.1M82.5 123.7h.1M62.2 139.1h.1M66.8 113.8h.1M76.3 99.9h.1M65.7 157.8h.1M74.2 128.7h.1M79.1 118.6h.1M80.5 142.6h.1M76.5 102.8h.1M84.7 118.4h.1M71.8 97.2h.1M81.1 130.4h.1M88.5 126.3h.1M79.7 115.1h.1M78.9 110.8h.1M74.8 95.7h.1M78.3 107.7h.1M83.8 143.4h.1M75.6 115.9h.1M62.8 143.9h.1M79.2 107.0h.1M76.5 120.6h.1M82.0 114.1h.1M78.1 117.5h.1M91.8 135.4h.1M67.1 86.4h.1M69.2 134.9h.1M83.6 134.1h.1M68.6 122.1h.1M80.7 123.4h.1M77.6 118.2h.1M60.3 134.0h.1M83.7 123.0h.1M89.9 107.4h.1M79.6 124.7h.1M65.3 138.6h.1M84.7 128.5h.1M68.5 122.6h.1M76.7 125.6h.1M81.4 113.5h.1M70.8 114.1h.1M62.8 89.4h.1M76.5 118.9h.1M77.4 139.1h.1M70.2 115.3h.1M70.8 106.4h.1M84.3 137.6h.1M76.9 124.9h.1M73.6 124.5h.1M72.5 130.2h.1M79.2 134.1h.1M78.6 121.3h.1M76.2 107.7h.1M65.5 152.1h.1M74.4 123.0h.1M72.2 108.7h.1M78.3 125.2h.1M87.9 142.6h.1M86.1 97.6h.1M83.4 144.6h.1M78.7 119.7h.1M74.9 156.5h.1M80.7 133.6h.1M73.5 120.2h.1M74.7 143.7h.1M70.3 144.0h.1M77.2 116.0h.1M77.0 126.1h.1M93.9 113.2h.1M82.5 137.9h.1M74.4 97.9h.1M84.5 119.0h.1M73.5 85.4h.1M86.5 132.2h.1M84.5 83.7h.1M103.0 103.9h.1M68.2 126.6h.1M77.0 116.0h.1M76.7 114.4h.1M80.3 105.5h.1M83.9 114.0h.1M69.2 91.9h.1M71.3 127.6h.1M80.3 135.9h.1M86.2 135.2h.1M67.9 121.4h.1M64.1 143.1h.1M87.7 130.0h.1M85.0 138.5h.1M87.2 128.8h.1M69.2 122.6h.1M75.9 109.0h.1M79.7 76.9h.1M81.5 133.1h.1M76.7 120.1h.1M77.3 156.2h.1M86.5 88.1h.1M73.9 136.5h.1M72.9 105.8h.1M73.9 122.0h.1M73.3 106.9h.1M78.8 128.1h.1M75.9 121.6h.1M73.9 137.1h.1M90.0 124.6h.1M80.3 130.3h.1M74.8 144.0h.1M88.7 131.0h.1M72.9 119.8h.1M77.7 143.3h.1M76.9 120.2h.1M72.7 129.1h.1M74.4 116.6h.1M78.4 110.7h.1M65.3 70.7h.1M74.3 134.0h.1M79.9 102.3h.1M80.1 134.7h.1M80.3 153.0h.1M97.9 99.5h.1M83.4 137.2h.1M76.5 120.5h.1M76.6 129.9h.1M77.7 101.6h.1M81.4 122.6h.1M75.1 124.8h.1M90.7 146.6h.1M68.2 158.9h.1M83.1 127.5h.1M82.0 115.9h.1M67.9 160.1h.1M83.1 120.3h.1M82.5 121.2h.1M72.2 123.9h.1M97.6 130.1h.1M83.8 134.3h.1M74.9 112.3h.1M73.6 120.3h.1M71.3 154.4h.1M79.9 149.6h.1M78.2 129.8h.1M65.6 126.9h.1M68.8 118.3h.1M71.5 139.8h.1M74.2 113.4h.1M74.6 124.4h.1M72.0 114.4h.1M83.2 111.6h.1M85.8 122.9h.1M78.3 122.3h.1M58.9 112.3h.1M76.3 121.2h.1M82.5 123.4h.1M77.0 114.2h.1M80.0 111.1h.1M78.5 119.9h.1M64.9 134.3h.1M56.0 141.2h.1M83.0 125.5h.1M73.2 117.7h.1M81.2 121.8h.1M75.1 155.0h.1M76.2 137.9h.1M89.4 106.0h.1M67.4 121.4h.1M77.6 113.2h.1M68.3 116.1h.1M78.3 93.5h.1M81.7 122.8h.1M83.2 99.1h.1M78.9 112.2h.1" stroke="#444" stroke-width="1.3" stroke-linecap="round" fill="none"/>
<path d="M106.3 110.4h.1M92.9 130.6h.1M125.9 126.6h.1M75.9 132.8h.1M102.7 133.2h.1M102.1 115.3h.1M98.8 129.4h.1M82.2 139.4h.1M82.0 120.6h.1M92.8 121.5h.1M96.8 110.8h.1M81.1 135.5h.1M82.8 149.9h.1M102.3 107.8h.1M108.0 134.8h.1M88.9 136.6h.1M87.2 118.1h.1M86.9 120.4h.1M125.3 111.9h.1M101.5 115.2h.1M94.8 127.3h.1M107.7 133.4h.1M123.1 126.7h.1M109.6 136.0h.1M78.4 127.8h.1M94.5 110.4h.1M90.7 143.6h.1M91.4 140.2h.1M80.9 116.2h.1M90.9 147.7h.1M82.5 131.2h.1M99.6 126.9h.1M96.1 149.5h.1M78.6 93.6h.1M75.0 104.9h.1M89.8 134.3h.1M103.4 122.1h.1M101.5 113.3h.1M94.7 144.4h.1M55.8 131.5h.1M89.6 109.1h.1M86.6 116.9h.1M91.5 136.0h.1M80.9 147.9h.1M90.3 99.9h.1M87.5 128.5h.1M128.2 120.5h.1M104.0 103.2h.1M93.2 123.2h.1M94.9 105.0h.1M94.1 118.5h.1M97.8 145.9h.1M90.6 131.9h.1M95.3 135.3h.1M107.9 133.0h.1M105.5 129.9h.1M99.2 137.7h.1M111.5 110.6h.1M98.2 120.8h.1M83.7 136.2h.1M74.5 116.2h.1M87.1 119.9h.1M94.8 140.7h.1M100.3 144.9h.1M108.5 117.8h.1M88.6 115.1h.1M85.8 132.9h.1M104.8 128.9h.1M109.7 116.9h.1M89.8 133.0h.1M99.6 132.5h.1M112.1 126.5h.1M99.4 162.8h.1M94.9 142.7h.1M70.5 135.8h.1M111.5 138.5h.1M103.3 163.1h.1M97.0 139.4h.1M89.9 116.4h.1M80.5 129.6h.1M94.3 126.4h.1M94.2 118.3h.1M108.7 128.8h.1M80.9 128.7h.1M112.9 124.8h.1M95.9 119.4h.1M109.8 136.1h.1M83.8 105.3h.1M99.7 136.0h.1M110.2 125.7h.1M96.9 129.0h.1M77.8 95.4h.1M91.5 146.9h.1M102.0 103.6h.1M78.7 114.6h.1M78.1 133.7h.1M98.3 117.8h.1M84.1 120.4h.1M103.7 97.2h.1M81.4 120.0h.1M73.4 128.3h.1M86.2 134.2h.1M113.5 121.9h.1M85.1 128.3h.1M95.5 131.1h.1M98.5 117.0h.1M84.1 116.0h.1M108.6 150.5h.1M97.7 114.7h.1M100.9 141.3h.1M75.3 126.5h.1M74.5 144.3h.1M62.4 117.4h.1M93.3 132.2h.1M92.8 129.8h.1M104.2 122.7h.1M113.4 129.5h.1M92.5 115.8h.1M92.3 124.6h.1M101.0 120.5h.1M113.9 135.3h.1M85.6 124.4h.1M103.1 107.8h.1M92.6 120.8h.1M91.5 124.3h.1M105.3 114.1h.1M86.1 142.5h.1M82.7 130.7h.1M103.6 136.3h.1M95.3 115.9h.1M92.4 120.5h.1M94.0 138.4h.1M101.5 107.3h.1M91.1 130.3h.1M104.8 126.7h.1M100.5 119.2h.1M113.4 126.7h.1M110.8 111.9h.1M105.9 128.5h.1M93.1 110.1h.1M97.0 109.3h.1M88.5 143.4h.1M129.8 116.6h.1M92.9 98.6h.1M102.3 138.0h.1M111.9 115.7h.1M79.2 80.6h.1M85.7 124.9h.1M90.8 137.4h.1M83.6 130.1h.1M80.4 147.5h.1M89.4 124.0h.1M111.1 133.2h.1M104.3 112.7h.1M96.0 127.7h.1M95.9 145.2h.1M75.7 132.0h.1M104.0 127.7h.1M100.7 100.3h.1M82.6 120.8h.1M98.1 109.1h.1M93.3 135.5h.1M89.4 116.2h.1M83.7 130.2h.1M87.5 112.8h.1M84.3 149.7h.1M101.2 110.6h.1M100.0 127.4h.1M99.5 159.2h.1M93.4 128.4h.1M90.7 114.4h.1M120.1 133.5h.1M73.3 138.3h.1M110.0 136.7h.1M99.9 100.4h.1M96.5 128.4h.1M89.5 98.4h.1M93.0 149.9h.1M81.4 126.5h.1M79.0 119.7h.1M94.3 134.2h.1M75.8 131.9h.1M105.7 110.4h.1M109.0 146.4h.1M54.4 122.5h.1M77.0 103.1h.1M98.9 143.6h.1M98.2 145.3h.1M97.0 141.7h.1M100.7 132.7h.1M104.6 114.2h.1M106.0 137.7h.1M117.1 149.5h.1M96.0 136.1h.1M106.0 146.2h.1M76.2 115.7h.1M94.1 138.7h.1M81.0 137.7h.1M112.4 106.5h.1M123.7 104.7h.1M102.2 116.4h.1M80.1 126.7h.1M94.3 131.5h.1M96.0 122.8h.1M98.1 124.8h.1M108.8 124.2h.1M107.1 126.8h.1M63.9 133.2h.1M112.1 132.1h.1M89.7 125.0h.1M89.0 129.0h.1M112.7 119.9h.1M92.5 135.9h.1M79.3 119.2h.1M79.8 146.8h.1M96.4 125.4h.1M106.6 129.2h.1M113.7 115.9h.1M93.7 121.2h.1M90.1 127.8h.1M115.2 125.9h.1M90.2 117.7h.1M113.2 110.7h.1M98.5 126.2h.1M98.6 127.7h.1M92.9 132.8h.1M99.3 141.8h.1M90.2 121.7h.1M87.6 100.0h.1M94.1 123.8h.1M87.9 101.9h.1M99.4 109.1h.1M96.7 139.0h.1M92.6 133.0h.1M93.3 117.4h.1M93.0 117.5h.1M116.6 124.6h.1M95.6 103.0h.1M88.6 131.9h.1M92.2 121.2h.1M103.7 149.5h.1M93.3 112.0h.1M93.9 138.7h.1M92.6 116.9h.1M97.7 138.9h.1M100.4 113.1h.1M101.0 135.2h.1M76.1 120.0h.1M82.9 115.1h.1M64.2 123.8h.1M105.3 131.9h.1M109.0 131.0h.1M111.3 146.1h.1M97.4 136.4h.1M109.5 91.6h.1M95.3 120.5h.1M94.3 99.9h.1M77.2 120.8h.1M86.3 133.8h.1M88.6 108.4h.1M106.7 110.4h.1M115.6 127.6h.1M90.1 122.0h.1M100.2 146.2h.1M99.0 129.9h.1M86.4 132.6h.1M75.1 148.4h.1M86.7 119.2h.1M78.5 125.7h.1M91.9 112.9h.1M94.0 129.1h.1M93.5 139.1h.1M93.7 143.5h.1M101.5 125.3h.1M84.5 116.5h.1M106.3 115.8h.1M75.7 107.7h.1M96.4 127.3h.1M100.3 143.4h.1M86.2 95.0h.1M76.6 97.6h.1M103.3 143.9h.1M87.6 104.9h.1M105.0 130.1h.1M104.9 109.5h.1M95.6 135.9h.1M95.7 135.9h.1M107.5 128.0h.1M100.2 136.5h.1M84.5 126.5h.1M97.7 133.1h.1M102.3 149.5h.1M98.1 140.1h.1M97.9 117.3h.1M93.9 115.4h.1M94.3 122.7h.1M84.5 122.9h.1M78.6 126.8h.1M109.1 118.0h.1M88.1 134.3h.1M98.3 126.3h.1M77.7 130.6h.1M97.6 126.0h.1M85.8 133.9h.1M131.1 110.3h.1M83.5 146.4h.1M84.1 130.4h.1M106.9 131.7h.1M109.3 133.8h.1M70.5 140.0h.1M98.7 135.5h.1M106.2 129.0h.1M81.1 123.6h.1M103.8 104.6h.1M89.4 128.7h.1M83.7 121.9h.1M91.5 121.9h.1M90.2 157.2h.1M79.1 101.8h.1M122.4 126.7h.1M90.2 141.7h.1M86.8 138.5h.1M105.8 142.1h.1M94.8 109.5h.1M111.6 113.5h.1M92.5 134.0h.1M99.8 122.1h.1M96.8 148.2h.1M97.6 129.0h.1M93.2 128.6h.1M94.4 131.7h.1M115.6 122.5h.1M87.5 127.6h.1M89.1 117.3h.1M91.6 125.6h.1M102.5 119.8h.1M100.4 129.4h.1M106.8 107.6h.1M79.7 106.7h.1M98.7 132.0h.1M93.6 129.0h.1M92.2 113.6h.1M97.6 123.1h.1M72.2 112.5h.1M98.9 152.6h.1M97.4 105.8h.1M78.6 148.4h.1M94.5 115.4h.1M114.1 131.6h.1M91.0 122.7h.1M102.7 121.2h.1M93.0 138.3h.1M86.0 136.7h.1M84.7 122.4h.1M90.9 114.3h.1M111.1 153.1h.1M105.4 144.4h.1M87.3 128.0h.1M107.5 122.3h.1M94.1 130.0h.1M87.4 127.2h.1M100.8 141.7h.1M84.8 113.6h.1M77.0 126.4h.1M111.0 116.0h.1M73.9 143.1h.1M102.1 149.6h.1M77.5 125.0h.1M95.3 133.2h.1M93.3 144.4h.1M90.4 122.3h.1M69.7 114.0h.1M94.4 139.7h.1M95.2 132.8h.1M85.0 123.5h.1M94.9 145.2h.1M107.5 129.2h.1M87.1 103.0h.1M98.7 130.7h.1M82.0 125.4h.1M100.2 150.6h.1M103.3 126.0h.1M125.1 123.5h.1M106.4 131.9h.1M100.8 129.4h.1M112.4 107.9h.1M83.9 127.7h.1M108.4 121.9h.1M89.2 144.4h.1M88.4 157.4h.1M108.7 111.7h.1M98.5 113.6h.1M111.4 115.2h.1M78.6 117.7h.1M98.9 117.2h.1M89.5 126.9h.1M92.5 140.4h.1M73.2 109.3h.1M106.8 106.2h.1M98.2 102.3h.1M84.1 140.6h.1M79.8 143.5h.1M85.5 106.3h.1M112.3 105.0h.1M94.6 127.9h.1M91.8 140.4h.1M101.6 139.4h.1M95.9 128.7h.1M98.5 135.1h.1M104.6 130.5h.1M99.7 119.0h.1M106.2 151.0h.1M81.7 126.2h.1M96.6 111.8h.1M91.6 120.1h.1M97.1 106.2h.1M95.4 126.4h.1M88.3 140.5h.1M91.7 109.8h.1M107.0 140.9h.1M89.3 153.4h.1M81.2 131.1h.1M102.9 111.2h.1M107.3 115.1h.1M92.7 121.9h.1M97.4 109.6h.1M86.0 110.0h.1M93.5 122.9h.1M108.9 123.9h.1M105.4 134.1h.1M97.7 110.6h.1M92.7 150.6h.1M76.8 140.0h.1M99.6 137.8h.1M101.3 117.8h.1M108.4 148.9h.1M119.7 121.8h.1M100.4 149.8h.1M107.2 140.2h.1M82.8 114.6h.1M110.1 120.3h.1M106.2 150.6h.1M112.0 139.3h.1M103.9 124.2h.1M101.3 128.9h.1M113.4 128.8h.1M88.2 116.2h.1M103.6 123.6h.1M108.7 117.7h.1M86.8 120.7h.1M80.4 143.3h.1M59.1 163.6h.1M84.3 155.0h.1M75.1 158.6h.1M84.9 147.0h.1M86.8 165.1h.1M92.1 157.5h.1M82.9 122.6h.1M84.1 152.7h.1M70.7 161.6h.1M59.9 147.3h.1M69.7 143.8h.1M72.6 146.8h.1M80.1 158.0h.1M57.6 163.7h.1M64.8 156.5h.1M79.4 139.0h.1M87.4 149.6h.1M67.7 148.2h.1M68.8 139.8h.1M55.5 148.8h.1M81.5 152.5h.1M95.1 144.6h.1M40.0 126.4h.1M92.0 160.1h.1M78.0 150.1h.1M78.3 159.6h.1M82.1 140.1h.1M98.1 151.1h.1M82.6 147.6h.1M66.3 160.4h.1M76.6 136.1h.1M61.2 146.7h.1M65.5 141.2h.1M62.9 158.6h.1M83.9 146.5h.1M57.0 155.3h.1M62.6 149.5h.1M74.0 138.0h.1M105.2 152.5h.1M80.9 135.7h.1M79.1 152.4h.1M60.6 139.9h.1M53.0 158.2h.1M57.2 146.6h.1M100.4 147.2h.1M49.6 146.4h.1M64.1 154.8h.1M90.9 148.4h.1M83.4 129.6h.1M47.6 164.3h.1M71.7 148.1h.1M70.5 164.5h.1M64.7 159.0h.1M95.4 151.1h.1M45.6 140.8h.1M67.8 161.5h.1M80.5 114.0h.1M54.6 150.4h.1M63.9 159.5h.1M53.5 149.7h.1M85.3 157.9h.1M88.8 149.9h.1M67.6 145.6h.1M77.3 149.7h.1M55.0 165.4h.1M76.8 152.8h.1M85.3 127.0h.1M105.2 153.6h.1M73.9 145.8h.1M72.5 148.7h.1M76.6 136.7h.1M69.8 164.5h.1M66.3 165.5h.1M76.8 137.0h.1M62.9 144.3h.1M74.8 133.9h.1M88.4 131.1h.1M65.9 135.2h.1M83.4 131.6h.1M59.9 153.3h.1M67.7 162.6h.1M92.2 155.7h.1M61.7 145.7h.1M91.7 155.9h.1M51.1 164.9h.1M70.9 151.5h.1M87.1 156.9h.1M83.8 151.3h.1M58.0 147.9h.1M54.8 156.6h.1M86.6 138.8h.1M82.1 131.9h.1M65.4 163.2h.1M73.1 135.0h.1M86.0 143.5h.1M52.4 149.1h.1M78.1 138.6h.1M74.1 155.1h.1M71.7 162.4h.1M47.2 134.9h.1M75.2 147.0h.1M61.9 160.3h.1M54.0 164.4h.1M73.7 162.5h.1M74.5 153.0h.1M40.0 155.9h.1M51.5 158.4h.1M85.2 133.3h.1M87.6 148.4h.1M82.2 136.8h.1M76.9 141.1h.1M39.9 143.7h.1M93.6 137.7h.1M107.2 157.2h.1M84.0 138.5h.1M85.6 162.9h.1M74.4 165.1h.1M86.8 153.7h.1M55.1 125.6h.1M69.9 125.4h.1M60.7 154.5h.1M66.1 164.9h.1M64.6 150.6h.1M76.5 157.1h.1M57.9 159.9h.1M63.4 154.9h.1M88.5 139.1h.1M58.1 161.9h.1M70.0 136.4h.1M90.9 155.9h.1M65.8 129.5h.1M78.9 125.1h.1M62.0 152.3h.1M81.7 149.3h.1M54.7 164.7h.1M100.8 146.9h.1M59.5 136.5h.1M106.7 157.9h.1M89.1 151.1h.1M90.3 152.8h.1M66.7 165.1h.1M82.6 126.9h.1M80.8 157.8h.1M47.8 143.5h.1M82.1 157.8h.1M70.3 162.0h.1M92.7 150.3h.1M93.0 150.3h.1M63.3 138.2h.1M63.8 164.4h.1M76.0 145.6h.1M83.1 162.8h.1M66.8 134.0h.1M82.4 140.3h.1M90.8 149.1h.1M76.7 164.4h.1M59.5 153.8h.1M85.5 156.1h.1M67.0 145.3h.1M66.9 157.1h.1M59.3 133.2h.1M101.2 163.4h.1M79.9 152.9h.1M75.5 148.4h.1M84.2 156.8h.1M61.4 159.6h.1M69.5 126.7h.1M67.6 163.8h.1M111.2 140.7h.1M85.2 155.9h.1M112.8 131.6h.1M58.3 158.8h.1M126.5 158.7h.1M88.4 151.4h.1M64.3 137.7h.1M68.8 153.8h.1M54.0 141.8h.1M40.0 145.1h.1M90.6 146.0h.1M55.3 155.3h.1M78.7 136.9h.1M78.1 149.1h.1M63.0 153.9h.1M73.7 148.5h.1M71.5 152.1h.1M73.7 162.7h.1M73.7 135.4h.1M57.2 149.4h.1M59.8 146.0h.1M74.8 157.3h.1M94.3 155.6h.1M95.6 164.1h.1M77.8 153.2h.1M87.5 153.8h.1M74.8 142.8h.1M90.0 161.5h.1M74.9 141.7h.1M68.5 155.7h.1M72.8 152.6h.1M54.3 154.7h.1M72.9 157.4h.1M63.7 155.2h.1M87.7 144.8h.1M101.0 141.8h.1M68.1 145.2h.1M82.4 146.4h.1M82.4 149.8h.1M46.8 149.1h.1M83.3 164.4h.1M79.7 157.8h.1M76.6 151.3h.1M56.4 163.8h.1M61.8 136.5h.1M80.3 159.4h.1M57.5 140.7h.1M99.0 133.7h.1M75.3 151.8h.1M64.2 148.0h.1M74.4 165.6h.1M75.7 126.7h.1M56.9 154.1h.1M92.4 155.4h.1M67.4 136.5h.1M57.7 153.0h.1M87.3 140.1h.1M72.0 144.1h.1M76.0 156.6h.1M82.5 148.6h.1M56.0 160.3h.1M85.1 132.7h.1M62.9 136.2h.1M62.3 122.9h.1M84.0 142.8h.1M84.3 152.4h.1M80.0 147.9h.1M71.9 161.1h.1M69.1 146.0h.1M70.4 138.0h.1M76.1 154.1h.1M57.0 135.2h.1M49.1 131.3h.1M42.9 164.4h.1M91.6 114.3h.1M51.4 149.3h.1M97.5 133.7h.1M63.1 139.9h.1M90.7 151.6h.1M45.3 154.0h.1M61.0 159.5h.1M105.6 157.7h.1M86.1 150.9h.1M75.6 155.4h.1M57.5 160.7h.1M82.4 158.1h.1M65.7 142.8h.1M49.6 164.2h.1M88.2 161.1h.1M81.6 142.5h.1M85.4 145.1h.1M63.2 153.6h.1M65.1 160.8h.1M91.3 152.2h.1M79.5 133.7h.1M60.0 144.7h.1M80.3 163.9h.1M83.5 134.5h.1M74.1 150.4h.1M64.3 130.3h.1M78.7 147.4h.1M74.7 157.0h.1M62.0 150.7h.1M77.7 147.0h.1M53.1 137.4h.1M76.0 127.5h.1M67.7 155.4h.1M87.4 151.8h.1M88.8 130.9h.1M108.4 162.7h.1" stroke="#333" stroke-width="1.3" stroke-linecap="round" fill="none"/>
<path d="M99.6 78.1h.1M106.8 99.7h.1M102.6 80.6h.1M94.0 89.7h.1M108.6 85.5h.1M106.9 77.3h.1M106.2 86.8h.1M109.1 93.3h.1M109.7 87.8h.1M101.8 95.1h.1M92.5 86.6h.1M92.3 89.0h.1M111.4 86.5h.1M107.0 91.2h.1M102.7 101.3h.1M99.0 91.4h.1M102.2 90.3h.1M102.2 85.0h.1M99.6 84.1h.1M97.1 98.5h.1M117.2 81.8h.1M103.6 83.1h.1M97.8 88.4h.1M92.9 86.2h.1M96.9 101.7h.1M107.0 73.6h.1M107.3 91.3h.1M100.5 93.6h.1M102.4 81.7h.1M99.9 84.8h.1M94.2 91.8h.1M111.1 99.6h.1M104.6 83.0h.1M119.3 78.7h.1M96.7 95.3h.1M101.0 98.9h.1M108.2 86.8h.1M100.3 74.6h.1M92.3 98.4h.1M95.4 87.7h.1M102.7 96.3h.1M104.4 88.7h.1M101.3 86.6h.1M109.0 86.1h.1M108.9 98.6h.1M104.3 98.3h.1M102.2 75.1h.1M100.2 82.9h.1M105.9 100.6h.1M108.4 86.6h.1M102.4 80.2h.1M105.1 89.0h.1M99.7 88.3h.1M92.1 88.4h.1M95.0 85.9h.1M107.4 87.0h.1M105.1 86.0h.1M113.1 91.2h.1M102.4 83.7h.1M108.1 87.1h.1M111.3 88.1h.1M109.0 97.5h.1M97.7 91.4h.1M100.7 88.3h.1M102.9 92.5h.1M95.1 91.6h.1M105.3 96.1h.1M109.2 92.3h.1M98.6 100.7h.1M115.8 97.7h.1M100.0 88.7h.1M100.6 86.3h.1M100.3 94.7h.1M97.0 92.4h.1M104.9 88.4h.1M102.1 79.4h.1M113.6 77.1h.1M106.3 91.3h.1M105.8 94.0h.1M100.4 94.2h.1M92.1 80.6h.1M101.4 95.7h.1M96.0 85.5h.1M108.7 91.5h.1M101.8 91.7h.1M113.7 83.8h.1M107.1 85.2h.1M107.8 75.5h.1M103.6 83.0h.1M103.5 77.3h.1M106.6 91.8h.1M108.5 89.4h.1M97.0 94.9h.1M105.4 91.3h.1M120.3 84.9h.1M101.4 91.3h.1M100.2 86.5h.1M97.2 93.0h.1M91.9 91.0h.1M110.3 82.6h.1M102.4 89.0h.1M104.1 89.4h.1M114.9 87.0h.1M119.6 94.8h.1M95.8 100.1h.1M109.4 86.6h.1M106.4 86.7h.1M104.8 74.4h.1M105.4 88.2h.1M101.8 86.2h.1M113.1 75.0h.1M106.3 90.9h.1M104.4 92.8h.1M110.7 84.2h.1M108.3 86.6h.1M105.2 82.7h.1M104.3 94.0h.1M114.3 79.1h.1M105.6 87.0h.1M101.4 101.7h.1M96.0 89.3h.1M99.6 92.0h.1M94.7 88.0h.1M102.8 81.4h.1M103.8 88.8h.1M87.7 91.6h.1M102.1 82.4h.1M106.6 91.2h.1M103.2 97.1h.1M95.3 96.0h.1M110.9 78.7h.1M97.1 82.7h.1M93.4 78.5h.1M94.5 96.0h.1M101.9 93.0h.1M108.9 93.6h.1M110.2 83.3h.1M103.5 81.4h.1M93.7 89.5h.1M97.4 89.7h.1M95.7 83.4h.1M100.8 89.9h.1M89.6 93.2h.1M102.8 90.5h.1M106.5 82.2h.1M101.0 75.3h.1M105.2 87.3h.1M95.4 90.1h.1M91.8 87.3h.1M97.5 86.2h.1M110.1 84.5h.1M109.2 93.7h.1M98.8 88.7h.1M110.4 89.8h.1M99.7 82.7h.1M112.6 85.0h.1M105.4 90.1h.1M98.8 82.5h.1M107.6 80.8h.1M96.6 86.9h.1M95.5 96.8h.1M91.8 90.2h.1M103.8 98.5h.1M101.6 88.1h.1M101.5 87.0h.1M99.1 80.0h.1M112.1 85.3h.1M99.0 98.3h.1M96.9 91.1h.1M110.7 93.8h.1M111.9 93.6h.1M104.4 88.9h.1M89.8 87.7h.1M97.8 89.8h.1M106.3 93.4h.1M102.1 92.0h.1M112.9 92.2h.1M92.4 90.0h.1M106.7 84.0h.1M97.6 87.3h.1M111.3 82.9h.1M101.5 95.5h.1M109.2 75.3h.1M97.5 87.6h.1M92.1 104.5h.1M94.2 86.8h.1M97.8 81.6h.1M94.8 88.9h.1M110.4 97.4h.1M111.4 88.0h.1M103.9 93.0h.1M94.8 89.6h.1M101.2 86.6h.1M97.2 109.5h.1M112.2 89.5h.1M104.2 85.5h.1M105.4 85.8h.1M99.2 91.5h.1M87.9 91.7h.1M96.6 94.0h.1M94.2 89.9h.1M104.6 79.7h.1M102.7 92.5h.1M96.4 87.0h.1M99.3 87.1h.1M113.0 79.4h.1M95.3 85.3h.1M95.6 84.3h.1M100.4 88.8h.1M97.1 79.6h.1M99.0 89.3h.1M105.7 89.8h.1M114.1 81.7h.1M89.5 84.9h.1M101.9 83.4h.1M102.3 94.9h.1M101.4 72.6h.1M100.7 86.8h.1M99.6 78.2h.1M109.0 86.2h.1M98.7 94.5h.1M101.1 84.9h.1M102.0 89.9h.1M102.8 83.5h.1M100.8 101.6h.1M109.0 94.9h.1M101.9 96.3h.1M103.2 80.4h.1M101.6 81.8h.1M95.0 96.0h.1M96.2 87.7h.1M94.6 87.3h.1M103.3 91.2h.1M97.0 80.8h.1M94.6 94.0h.1M103.7 89.1h.1M105.7 92.1h.1M89.7 84.6h.1M113.8 92.3h.1M102.2 84.4h.1M101.3 95.2h.1M109.5 96.3h.1M102.5 94.9h.1M97.8 92.4h.1M117.4 93.1h.1M94.5 71.4h.1M101.3 94.4h.1M107.9 87.2h.1M94.5 89.6h.1M101.3 87.2h.1M104.7 80.0h.1M118.8 85.5h.1M95.8 93.3h.1M101.7 98.2h.1M106.6 85.0h.1M102.6 83.1h.1M93.6 98.4h.1M104.9 83.3h.1M102.8 102.5h.1M105.1 89.3h.1M109.9 83.3h.1M109.1 95.4h.1M104.9 100.0h.1M104.2 79.7h.1M94.3 99.1h.1M101.1 87.2h.1M103.5 98.7h.1M99.2 86.5h.1M102.7 78.7h.1M96.2 92.3h.1M112.7 95.0h.1M117.1 102.6h.1M99.3 100.2h.1M104.8 93.5h.1M100.4 87.5h.1M110.8 85.6h.1M105.0 87.1h.1M102.5 83.6h.1M100.4 87.2h.1M102.9 72.5h.1M95.0 90.2h.1M106.7 88.8h.1M97.0 105.7h.1M105.7 93.9h.1M102.9 85.9h.1M109.7 92.7h.1M101.9 81.0h.1M109.2 85.1h.1M95.5 76.9h.1M106.3 98.3h.1M100.4 92.9h.1M103.4 81.4h.1M102.5 88.6h.1M108.6 95.2h.1M87.9 92.2h.1M104.3 91.5h.1M91.5 83.4h.1M110.4 84.9h.1M88.2 89.6h.1M95.0 95.0h.1" stroke="#111" stroke-width="1.3" stroke-linecap="round" fill="none"/>
<path d="M93.0 102.5h.1M95.8 95.0h.1M90.4 70.8h.1M84.5 95.9h.1M88.7 85.6h.1M83.6 91.7h.1M93.6 111.0h.1M105.7 85.1h.1M88.3 85.6h.1M87.1 110.1h.1M97.7 97.1h.1M96.4 111.1h.1M94.0 99.2h.1M84.2 87.4h.1M92.7 95.4h.1M99.6 108.0h.1M80.2 105.2h.1M88.7 96.0h.1M74.9 96.5h.1M80.7 94.9h.1M75.5 90.4h.1M90.8 114.9h.1M81.0 96.1h.1M95.6 85.0h.1M94.5 91.3h.1M91.2 103.1h.1M69.1 102.3h.1M87.9 94.7h.1M92.5 89.5h.1M94.1 96.2h.1M78.5 79.7h.1M88.5 83.3h.1M83.7 103.8h.1M85.3 91.3h.1M103.1 99.7h.1M85.3 107.9h.1M92.7 102.3h.1M101.4 96.2h.1M87.5 116.8h.1M91.9 102.5h.1M94.0 92.5h.1M93.6 103.2h.1M81.4 100.0h.1M93.7 87.6h.1M105.9 96.7h.1M78.3 94.4h.1M101.2 76.8h.1M94.1 94.3h.1M86.9 93.2h.1M112.0 91.7h.1M100.2 79.9h.1M81.6 92.5h.1M93.7 95.6h.1M98.5 97.0h.1M91.2 84.9h.1M99.5 102.2h.1M92.4 84.1h.1M99.3 93.8h.1M106.7 108.7h.1M86.6 89.2h.1M94.9 91.0h.1M88.6 106.5h.1M94.2 92.3h.1M81.7 93.1h.1M87.5 98.2h.1M91.1 106.2h.1M101.5 74.5h.1M103.9 87.9h.1M80.4 86.2h.1M85.5 85.4h.1M99.1 87.7h.1M74.1 87.8h.1M88.6 98.9h.1M92.1 87.3h.1M104.9 97.2h.1M99.5 99.9h.1M89.9 88.9h.1M89.5 97.3h.1M90.6 111.9h.1M107.5 99.1h.1M88.9 89.8h.1M90.1 95.4h.1M96.3 87.1h.1M91.9 98.6h.1M91.1 104.4h.1M82.4 88.0h.1M92.9 94.0h.1M88.8 106.8h.1M104.1 91.2h.1M99.2 97.8h.1M92.8 86.1h.1M99.3 88.1h.1M89.8 91.0h.1M103.0 116.7h.1M92.9 92.1h.1M98.5 91.0h.1M80.7 90.6h.1M96.3 94.4h.1M77.0 102.2h.1M73.7 97.8h.1M90.1 115.5h.1M84.5 98.0h.1M94.6 109.8h.1M114.3 98.6h.1M85.1 101.8h.1M87.1 82.3h.1M95.0 94.8h.1M97.7 95.3h.1M91.3 93.7h.1M91.0 75.5h.1M99.7 104.4h.1M97.9 92.3h.1M83.2 91.8h.1M92.2 93.6h.1M93.3 93.8h.1M83.0 99.9h.1M95.5 83.9h.1M84.8 87.2h.1M102.2 98.8h.1M94.8 97.4h.1M93.8 92.4h.1M87.4 90.5h.1M91.9 88.1h.1M74.0 95.4h.1M82.3 107.2h.1M96.4 85.9h.1M72.8 110.5h.1M101.0 104.0h.1M76.4 91.7h.1M100.2 103.4h.1M85.0 82.1h.1M100.4 79.6h.1M94.2 83.7h.1M78.4 92.1h.1M104.9 92.9h.1M106.7 91.1h.1M92.4 96.9h.1M90.4 75.7h.1M91.5 100.7h.1M83.7 82.5h.1M103.4 89.7h.1M87.8 92.1h.1M92.5 85.0h.1M85.5 83.0h.1M87.1 86.4h.1M80.9 95.9h.1M104.9 101.6h.1M91.5 101.4h.1M102.2 86.6h.1M93.1 88.5h.1M86.4 87.3h.1M89.9 100.3h.1M87.7 76.6h.1M93.1 107.8h.1M89.4 91.4h.1M90.2 88.6h.1M79.9 99.2h.1M85.3 105.8h.1M108.7 99.3h.1M86.6 106.0h.1M83.0 97.3h.1M96.2 107.7h.1M106.4 107.8h.1M79.2 95.1h.1M91.0 109.7h.1M87.0 97.6h.1M76.3 96.8h.1M100.0 87.2h.1M92.8 93.3h.1M93.7 103.4h.1M85.9 83.5h.1M97.3 102.2h.1M87.9 99.3h.1M91.6 98.6h.1M82.5 75.0h.1M81.4 95.0h.1M105.7 102.2h.1M88.2 88.8h.1M95.8 96.9h.1M92.7 73.4h.1M88.8 102.4h.1M88.2 89.7h.1M99.0 104.3h.1M90.1 78.5h.1M91.6 102.6h.1M93.2 93.7h.1M104.2 103.7h.1M99.5 87.2h.1M96.6 90.1h.1M87.6 117.3h.1M79.9 88.1h.1M102.0 89.3h.1M102.2 93.4h.1M91.7 86.3h.1M98.1 107.3h.1M100.4 112.4h.1M100.9 89.3h.1M101.8 79.6h.1M88.7 107.1h.1M107.4 106.5h.1M81.2 103.8h.1M101.2 107.0h.1M97.7 87.8h.1M101.3 94.4h.1M110.9 82.9h.1M107.1 82.5h.1M82.1 105.3h.1M77.0 89.6h.1M100.8 117.7h.1M83.4 96.7h.1M92.9 89.9h.1M101.0 103.6h.1M77.4 113.1h.1M73.0 100.6h.1M95.5 84.4h.1M93.4 99.5h.1M90.7 109.1h.1M93.4 91.3h.1M84.8 88.7h.1M78.6 105.7h.1M91.4 97.3h.1M83.8 85.5h.1M77.4 92.4h.1M97.8 88.8h.1M92.4 98.8h.1M96.9 97.0h.1M83.6 106.9h.1M86.7 102.7h.1M83.5 81.1h.1M84.6 99.9h.1M94.9 104.5h.1M85.6 100.3h.1M96.4 105.8h.1M96.2 90.8h.1M112.2 87.0h.1M79.8 104.8h.1M101.4 85.9h.1M92.1 75.5h.1M92.9 105.7h.1M79.2 89.1h.1M88.6 93.1h.1M100.1 82.7h.1M92.2 83.4h.1M93.8 85.0h.1M90.2 92.6h.1M104.0 99.5h.1M92.8 74.2h.1M72.1 103.1h.1M86.4 84.8h.1M74.3 85.9h.1M62.1 102.4h.1M88.0 95.3h.1M105.7 81.4h.1M93.4 113.5h.1M81.9 87.8h.1M84.1 98.3h.1M103.7 97.9h.1M94.5 109.4h.1M93.5 91.7h.1M92.5 105.6h.1M93.4 89.0h.1M100.7 106.7h.1M98.2 88.8h.1M95.0 92.6h.1M83.1 114.0h.1M97.9 99.0h.1M86.5 97.0h.1M103.4 117.3h.1M80.9 99.4h.1M91.7 88.2h.1M92.9 103.0h.1M80.4 84.8h.1M109.4 106.7h.1M106.9 107.5h.1M88.6 90.6h.1M100.3 90.0h.1M96.6 97.7h.1M68.2 96.1h.1M95.4 86.7h.1M92.4 101.4h.1M93.8 76.6h.1M82.8 91.9h.1M90.4 92.2h.1M91.3 93.4h.1M104.3 98.9h.1M96.2 84.3h.1M92.9 101.6h.1M107.5 94.3h.1M87.7 89.8h.1M89.3 83.0h.1M75.7 84.8h.1M107.9 99.4h.1M102.2 86.8h.1M101.7 96.6h.1M99.4 106.1h.1M94.0 105.8h.1M95.0 110.8h.1M90.6 93.2h.1M91.1 85.7h.1M93.5 105.7h.1M107.4 98.9h.1M98.3 106.7h.1M92.4 96.1h.1M87.5 107.4h.1M87.0 104.0h.1M108.2 102.8h.1M97.8 100.8h.1M93.6 99.8h.1M89.7 98.2h.1M82.5 98.1h.1M92.4 105.4h.1M101.3 91.1h.1M89.3 112.5h.1M90.8 95.0h.1M90.9 105.4h.1M94.0 95.1h.1M77.9 93.7h.1M90.8 115.3h.1M84.9 93.1h.1M101.4 83.9h.1M85.7 89.2h.1M98.5 93.0h.1M107.5 116.5h.1M90.0 98.0h.1M87.3 104.9h.1M94.8 86.5h.1M93.0 99.3h.1M83.6 102.4h.1M97.4 113.1h.1M112.1 89.4h.1M90.5 101.7h.1M91.1 98.9h.1M83.1 86.3h.1M96.0 95.8h.1M81.2 93.5h.1M82.5 73.9h.1M105.2 101.7h.1M84.4 101.1h.1M103.3 91.8h.1M107.5 83.3h.1M95.5 110.1h.1M98.3 98.5h.1M111.5 105.7h.1M91.1 109.4h.1M87.4 91.1h.1M80.1 103.7h.1M93.4 93.7h.1M107.1 95.4h.1M102.1 95.2h.1M84.1 96.0h.1M84.9 106.6h.1M88.2 97.2h.1M95.8 94.5h.1M91.0 93.4h.1M95.0 99.2h.1M95.8 87.5h.1M90.2 91.2h.1M92.6 95.5h.1M95.0 90.6h.1M92.2 94.9h.1M97.8 90.2h.1M110.8 115.0h.1M98.6 108.6h.1M93.5 100.3h.1M77.0 95.5h.1M96.7 116.8h.1M74.5 99.1h.1M79.6 95.2h.1M101.1 98.9h.1M99.7 98.9h.1M91.6 109.4h.1M76.8 95.8h.1M89.5 115.9h.1M86.6 87.6h.1M99.0 102.6h.1M114.4 86.5h.1M95.1 113.3h.1M85.6 92.9h.1M81.9 95.4h.1M92.5 104.8h.1M91.3 107.9h.1M82.1 85.4h.1M94.1 92.7h.1M82.1 82.7h.1M103.6 97.3h.1M103.1 95.0h.1M103.3 92.7h.1M88.5 89.5h.1M97.9 92.3h.1M91.7 88.9h.1M89.3 101.0h.1M89.8 110.4h.1M80.7 77.7h.1M79.3 94.9h.1M100.5 92.0h.1M91.2 100.7h.1M95.1 87.0h.1M102.5 94.6h.1M76.5 86.1h.1M85.6 102.6h.1M94.7 96.9h.1M96.7 94.5h.1M89.4 99.5h.1M102.8 93.7h.1M95.0 81.2h.1M81.5 101.7h.1M84.2 98.7h.1M100.7 94.5h.1M97.4 105.4h.1M75.0 107.6h.1M105.8 85.6h.1M98.7 88.6h.1M105.8 110.7h.1M89.4 109.5h.1M90.2 89.0h.1M82.3 84.8h.1M117.1 89.9h.1M91.3 91.3h.1M108.1 81.0h.1M86.9 96.3h.1M94.6 83.8h.1M77.1 84.5h.1M89.4 104.7h.1M102.3 89.5h.1M81.1 95.3h.1M103.2 102.0h.1M96.2 103.7h.1M83.1 92.8h.1M88.2 96.4h.1M88.6 88.2h.1M92.5 112.6h.1M87.9 102.2h.1M85.1 85.5h.1M90.1 96.0h.1M83.2 102.8h.1M80.7 100.6h.1M92.5 113.4h.1M101.4 109.0h.1M78.5 90.9h.1M93.0 95.2h.1M86.8 83.8h.1M83.7 98.4h.1M101.1 97.4h.1M88.1 121.7h.1M107.2 96.9h.1M85.6 76.1h.1M96.7 89.6h.1M90.8 97.1h.1M85.8 84.1h.1M98.6 87.8h.1M91.5 92.5h.1M98.7 99.2h.1M92.6 94.4h.1M82.7 87.6h.1M92.0 103.5h.1M93.5 90.9h.1M102.1 91.3h.1M84.4 82.9h.1M92.6 88.5h.1M76.6 102.2h.1M99.2 80.6h.1M82.7 95.3h.1M75.8 102.8h.1M92.4 92.4h.1M103.5 98.3h.1M78.5 85.4h.1M82.7 108.4h.1M85.9 106.5h.1M82.3 98.2h.1M96.6 79.3h.1M85.3 86.1h.1M86.1 105.3h.1M98.5 112.3h.1M85.8 98.8h.1M97.1 107.8h.1M83.8 90.2h.1M81.5 94.2h.1M75.6 96.0h.1M110.7 100.0h.1M90.0 81.5h.1M95.3 104.9h.1M92.7 108.6h.1M94.5 85.1h.1M93.5 83.1h.1M111.1 99.3h.1M83.1 89.8h.1M78.2 73.5h.1M83.4 103.7h.1M80.3 97.5h.1M100.1 91.5h.1M100.8 116.1h.1M83.9 97.3h.1M79.8 88.8h.1M89.6 97.0h.1M106.2 86.1h.1M66.2 88.8h.1M98.0 99.7h.1M82.8 90.7h.1M102.9 91.7h.1M82.8 111.9h.1M90.3 104.2h.1M78.7 103.6h.1M83.7 101.0h.1M106.2 100.6h.1M100.8 109.8h.1M89.2 95.8h.1M84.7 113.6h.1M75.0 87.0h.1M89.3 93.6h.1M92.7 82.9h.1M92.2 92.7h.1M92.1 100.9h.1M82.3 109.8h.1M92.4 89.7h.1M92.6 96.1h.1M105.3 92.6h.1M110.7 89.0h.1M91.7 84.7h.1M85.7 96.6h.1M92.4 79.5h.1M87.2 97.1h.1M85.9 96.2h.1M92.4 89.8h.1M83.1 86.4h.1M98.8 82.8h.1M92.0 113.8h.1M95.4 83.3h.1M91.3 110.8h.1M86.1 101.7h.1M84.0 92.5h.1M90.7 85.0h.1M87.8 105.9h.1M95.2 112.4h.1M93.0 87.1h.1M80.1 93.2h.1M93.6 106.0h.1M80.2 99.2h.1M87.1 115.0h.1M90.2 90.6h.1M73.3 101.2h.1M93.9 84.1h.1M94.4 115.9h.1M91.5 89.1h.1M89.0 75.0h.1M89.5 94.8h.1M83.7 94.7h.1M90.4 114.2h.1M87.8 92.8h.1M93.9 95.9h.1M81.6 101.6h.1M95.2 111.1h.1M94.4 95.4h.1M91.7 105.9h.1M88.8 100.9h.1M98.2 93.2h.1M77.2 96.7h.1M97.4 96.3h.1M95.3 87.3h.1M95.7 107.5h.1M96.6 82.8h.1M86.8 107.1h.1M90.5 105.1h.1M99.1 95.1h.1M97.1 88.7h.1M95.0 93.8h.1M78.6 100.5h.1M98.1 103.1h.1M104.1 98.7h.1M102.6 105.4h.1M95.2 90.7h.1M78.2 98.2h.1M102.0 81.1h.1M91.6 103.3h.1M68.9 97.5h.1M96.6 92.1h.1M78.8 107.0h.1M80.7 102.6h.1M87.0 69.2h.1M105.1 96.4h.1M89.5 82.2h.1M95.6 106.1h.1M109.6 119.6h.1M108.1 91.1h.1M92.0 96.7h.1M90.7 93.6h.1M81.0 99.3h.1M86.4 102.1h.1M97.0 108.2h.1M96.8 86.6h.1M94.0 110.9h.1M102.5 87.2h.1M85.7 98.6h.1M92.5 107.0h.1M99.9 102.8h.1M98.5 87.1h.1M103.2 89.3h.1M96.8 91.6h.1M90.1 95.5h.1M96.4 106.9h.1M83.5 83.7h.1M77.4 100.4h.1M98.5 101.8h.1M92.5 101.3h.1M95.9 100.4h.1M76.9 110.4h.1M89.5 100.6h.1M87.3 104.1h.1M84.8 101.4h.1M71.6 113.0h.1M89.8 78.0h.1M101.5 108.2h.1M96.6 93.5h.1M87.3 93.3h.1M92.9 86.8h.1M100.2 78.2h.1M66.8 92.4h.1M91.8 89.5h.1M98.2 100.7h.1M99.5 82.0h.1M109.2 109.6h.1M103.8 98.6h.1M96.0 93.6h.1M95.9 89.3h.1M100.5 88.5h.1M87.9 85.3h.1M92.6 90.8h.1M101.6 96.1h.1M111.6 94.3h.1M91.5 82.6h.1M92.5 93.5h.1M94.9 87.5h.1M105.8 97.5h.1M92.7 113.7h.1M107.0 101.9h.1M83.8 93.0h.1M91.2 80.6h.1M91.1 82.6h.1M100.5 80.0h.1M102.9 102.9h.1M78.7 88.7h.1M84.3 96.6h.1M96.2 90.1h.1M86.7 96.9h.1M78.5 109.3h.1M102.9 89.5h.1M97.7 92.8h.1M97.7 88.3h.1M88.5 104.3h.1M102.8 86.3h.1M90.7 85.2h.1M103.4 82.8h.1M84.3 82.6h.1M84.9 100.5h.1M94.9 120.4h.1M86.3 86.5h.1M99.4 105.0h.1M95.5 98.4h.1M84.2 85.5h.1M93.7 93.4h.1M89.7 93.8h.1M101.7 89.4h.1M87.0 114.3h.1M88.8 77.9h.1M104.5 99.6h.1M114.3 99.1h.1M112.0 90.5h.1M93.6 97.4h.1M95.1 104.3h.1M107.6 97.5h.1M91.8 100.0h.1M83.7 102.6h.1M94.1 76.7h.1M97.3 110.0h.1M85.1 117.6h.1M77.4 105.3h.1M79.4 105.6h.1M99.3 82.6h.1M85.8 94.9h.1M91.7 88.3h.1M95.0 90.4h.1M98.9 105.2h.1M89.8 88.4h.1M97.7 94.8h.1M84.5 77.9h.1M89.6 94.5h.1M83.3 96.9h.1M103.8 89.3h.1M92.7 89.2h.1M86.0 113.9h.1M89.7 84.5h.1M90.9 86.0h.1M99.7 88.3h.1M77.8 107.4h.1M83.1 116.0h.1M89.4 99.2h.1M117.1 89.2h.1M102.1 91.9h.1M91.9 106.1h.1M99.8 87.3h.1M112.5 109.8h.1M90.8 109.5h.1M89.5 96.7h.1M104.5 102.1h.1M97.7 103.1h.1M99.4 110.8h.1M88.2 86.0h.1M111.3 107.2h.1M109.2 92.4h.1M98.4 88.7h.1M99.5 97.0h.1M73.7 94.0h.1M99.1 86.6h.1M91.2 80.8h.1M97.1 87.1h.1M99.5 109.8h.1M89.8 114.6h.1M76.9 102.2h.1M96.5 107.3h.1M86.0 91.1h.1M89.9 95.3h.1M87.3 98.7h.1M89.8 85.7h.1M71.1 86.6h.1M104.6 96.9h.1M95.4 93.0h.1M103.6 85.9h.1M111.8 99.7h.1M93.2 93.5h.1M75.9 105.7h.1M84.5 96.0h.1M81.5 93.1h.1M88.2 97.2h.1M93.8 94.4h.1M74.0 89.7h.1M96.3 92.2h.1M78.7 103.1h.1M95.8 102.1h.1M92.0 108.2h.1M90.0 79.9h.1M92.3 92.3h.1M87.9 92.1h.1M87.2 97.6h.1M77.0 91.7h.1M92.7 91.1h.1M110.5 103.4h.1M111.8 97.7h.1M105.6 84.9h.1M99.7 108.7h.1M86.6 105.5h.1M106.7 90.5h.1M92.5 103.9h.1M92.3 89.0h.1M90.2 106.7h.1M93.9 93.9h.1M88.9 88.4h.1M92.2 92.5h.1M82.7 88.7h.1M89.5 97.8h.1M114.7 97.7h.1M92.3 96.3h.1M90.7 90.7h.1M98.1 61.2h.1M99.7 96.9h.1M82.4 78.0h.1M91.0 98.3h.1M101.7 106.7h.1M95.6 98.6h.1M94.2 92.3h.1M107.8 94.3h.1M86.6 94.7h.1M93.8 90.8h.1M88.1 90.5h.1M107.2 87.2h.1M74.5 107.3h.1M86.6 95.9h.1M88.0 105.1h.1M99.3 93.6h.1M98.8 96.7h.1M106.3 94.4h.1M78.0 100.4h.1M100.1 103.9h.1M90.2 98.3h.1M86.7 89.6h.1M98.1 88.6h.1M84.3 111.8h.1M73.3 93.3h.1M89.5 93.2h.1M78.8 109.9h.1M86.8 106.3h.1M96.5 101.1h.1M96.0 92.2h.1M108.1 118.4h.1M91.1 99.7h.1M78.4 101.2h.1M85.8 94.4h.1M84.3 82.6h.1M81.4 83.3h.1M97.1 99.9h.1M86.9 99.7h.1M74.2 93.7h.1M99.6 84.9h.1M91.9 82.3h.1M96.4 92.9h.1M94.0 82.2h.1M99.0 104.5h.1M93.4 107.0h.1M104.7 122.9h.1M97.0 104.3h.1M96.7 90.4h.1M96.9 87.7h.1M79.2 63.2h.1M91.4 90.3h.1M90.5 94.3h.1M95.0 105.2h.1M80.1 101.8h.1M108.5 101.6h.1M94.0 98.0h.1M81.5 102.3h.1M76.8 109.8h.1M90.3 85.9h.1M92.1 91.7h.1M86.2 82.8h.1M93.9 111.4h.1M86.9 108.3h.1M98.2 103.1h.1M86.1 84.6h.1M92.6 97.6h.1M102.3 93.8h.1M117.4 96.8h.1M83.4 94.2h.1M88.6 100.9h.1M85.0 92.2h.1M100.5 104.1h.1M82.1 98.3h.1M88.4 93.2h.1M92.7 94.9h.1M83.7 91.8h.1M83.9 103.7h.1M88.5 93.4h.1M73.0 98.8h.1M79.3 92.3h.1M89.1 81.9h.1M94.4 104.6h.1M91.2 85.9h.1M76.1 102.5h.1M88.6 100.0h.1M100.6 80.3h.1M98.3 87.0h.1M92.3 91.1h.1M84.6 88.2h.1M99.0 84.8h.1M87.5 103.0h.1M81.9 93.7h.1M85.4 99.7h.1M106.8 91.9h.1M95.1 98.9h.1M104.0 88.9h.1M88.4 95.7h.1M101.9 101.5h.1M87.3 96.4h.1M91.5 91.7h.1M116.6 85.7h.1M100.3 97.6h.1M88.2 99.3h.1M92.2 93.5h.1M96.1 88.7h.1M104.5 101.2h.1M88.4 119.6h.1M76.5 93.1h.1M90.3 99.2h.1M93.1 99.6h.1M94.0 71.6h.1M105.5 97.2h.1M96.0 89.3h.1M100.7 109.2h.1M82.5 93.6h.1M101.2 88.6h.1M112.9 93.9h.1M100.3 97.6h.1M95.4 90.7h.1M94.5 95.5h.1M110.0 83.1h.1M84.2 93.9h.1M91.9 103.4h.1M97.4 114.7h.1M100.1 102.7h.1M88.8 98.6h.1M95.9 107.2h.1M90.4 105.7h.1M94.1 111.8h.1M91.7 106.3h.1M82.2 94.9h.1M92.8 98.5h.1M101.3 97.7h.1M83.8 98.9h.1M90.7 97.9h.1M99.3 88.6h.1M82.8 76.0h.1M94.7 89.6h.1M82.9 76.8h.1M103.8 96.6h.1M115.0 96.0h.1M112.2 80.1h.1M90.9 102.5h.1M100.0 104.2h.1M94.1 96.9h.1M94.0 111.8h.1M107.7 113.8h.1M80.5 84.5h.1M103.0 105.8h.1M92.5 100.2h.1M106.4 100.0h.1M94.8 104.9h.1M86.6 89.2h.1M95.6 90.4h.1M100.0 88.1h.1M93.3 88.8h.1M97.6 95.1h.1M88.0 82.2h.1M72.7 86.1h.1M101.6 101.5h.1M99.6 95.3h.1M94.4 99.6h.1M93.6 78.1h.1M102.8 88.6h.1M88.7 90.7h.1M86.3 96.3h.1M91.2 90.4h.1M104.3 104.9h.1M79.8 95.4h.1M104.3 96.2h.1M86.9 96.1h.1M82.5 102.7h.1M105.0 91.5h.1M92.1 106.7h.1M80.6 100.4h.1M89.6 97.5h.1M101.8 96.4h.1M104.3 100.9h.1M88.9 105.6h.1M96.9 105.0h.1M99.8 99.6h.1M86.9 104.3h.1M96.4 97.1h.1M92.7 107.9h.1M87.9 95.7h.1M88.3 76.3h.1M93.6 108.7h.1M93.3 97.0h.1M87.6 84.9h.1M89.0 94.1h.1M103.6 87.6h.1M95.0 116.0h.1M101.4 100.7h.1M104.4 81.1h.1M98.6 101.2h.1M114.6 92.2h.1M85.2 114.2h.1M100.7 86.0h.1M90.0 74.7h.1M110.6 96.6h.1M109.2 92.7h.1M74.4 92.0h.1M83.8 75.7h.1M99.3 100.1h.1M100.5 111.9h.1M100.0 77.9h.1M92.3 107.1h.1M97.3 90.6h.1M99.2 118.3h.1M92.3 100.1h.1M102.8 94.2h.1M71.5 106.5h.1M99.0 101.0h.1M83.2 90.4h.1M102.1 102.7h.1M90.8 91.1h.1M84.6 79.0h.1M96.6 115.3h.1M84.3 92.7h.1M84.3 90.2h.1M78.1 99.2h.1M92.7 81.2h.1M97.7 83.1h.1M102.7 91.3h.1M91.7 91.1h.1M103.0 96.7h.1M93.2 106.7h.1M92.1 91.5h.1M98.4 100.7h.1M103.1 101.7h.1M89.8 85.7h.1M90.7 98.2h.1M91.5 87.0h.1M93.8 106.1h.1M84.4 100.3h.1M102.8 96.2h.1M89.2 83.3h.1M97.4 97.1h.1M85.2 88.7h.1M96.4 102.7h.1M96.7 94.9h.1M89.0 88.3h.1M112.2 104.8h.1M96.5 102.9h.1M109.9 90.4h.1M102.1 107.0h.1M86.7 93.2h.1M89.4 93.1h.1M97.1 97.2h.1M93.6 88.8h.1M93.5 91.8h.1M90.3 94.5h.1M75.8 110.5h.1M90.9 110.2h.1M71.9 93.5h.1M96.5 111.3h.1M86.1 95.6h.1M86.2 99.6h.1M90.9 104.4h.1M95.6 98.8h.1M79.4 118.9h.1M76.4 98.3h.1M82.9 84.6h.1M73.6 108.4h.1M83.8 92.1h.1M108.1 93.1h.1M83.0 67.6h.1M99.2 105.5h.1M80.0 103.8h.1M95.8 103.6h.1M90.0 105.3h.1M92.4 112.1h.1M98.4 95.6h.1M109.7 104.9h.1M94.8 88.9h.1M94.2 92.6h.1M83.8 106.0h.1M98.5 99.7h.1M90.7 83.3h.1M100.9 99.4h.1M92.6 94.3h.1M109.5 88.2h.1M74.2 100.1h.1M90.2 92.2h.1M101.4 81.1h.1M89.7 85.4h.1M85.5 112.8h.1M90.5 81.6h.1M79.9 98.1h.1M94.1 101.8h.1M116.2 102.1h.1M103.9 84.4h.1M82.5 92.9h.1M84.7 97.3h.1M89.2 103.6h.1M102.5 89.9h.1M85.2 84.9h.1M86.4 105.5h.1M101.4 106.5h.1M101.2 99.5h.1M89.4 90.2h.1M82.4 99.9h.1M78.3 97.0h.1M86.4 104.0h.1M71.8 84.1h.1M100.1 97.1h.1M87.0 94.5h.1M97.6 85.5h.1M110.7 98.0h.1M104.1 96.3h.1M82.1 92.1h.1M101.3 99.8h.1M104.0 82.5h.1M85.9 95.5h.1M83.9 100.1h.1M92.0 98.7h.1M77.8 106.2h.1M107.0 84.6h.1M70.1 81.7h.1M82.5 98.3h.1M90.4 100.3h.1M90.8 116.1h.1M94.6 101.9h.1M95.6 87.7h.1M91.0 103.7h.1M103.8 88.0h.1M72.7 81.9h.1M93.0 120.8h.1M86.2 99.1h.1M94.3 102.8h.1M95.1 101.4h.1M84.3 113.2h.1M86.9 98.7h.1M100.5 107.6h.1M96.3 86.2h.1M86.5 82.8h.1M112.4 109.6h.1M114.9 110.0h.1M79.1 100.9h.1M95.9 98.1h.1M116.8 97.6h.1M100.4 89.5h.1M95.1 110.6h.1M91.0 102.3h.1M87.9 100.8h.1M91.0 99.6h.1M87.8 106.0h.1M100.1 100.8h.1M89.2 103.1h.1M88.8 84.9h.1M81.6 100.8h.1M92.5 116.8h.1M84.5 91.1h.1M91.3 94.8h.1M102.9 104.5h.1M96.5 105.1h.1M97.8 101.9h.1M96.4 80.6h.1M93.6 100.8h.1M91.8 84.8h.1M90.1 88.2h.1M100.2 101.2h.1M82.7 93.2h.1M105.7 103.7h.1M93.3 125.9h.1M85.9 103.4h.1M88.4 102.9h.1M86.6 87.5h.1M94.5 89.9h.1M86.2 85.9h.1M103.9 90.9h.1M85.6 85.6h.1M71.4 89.7h.1M86.1 94.0h.1M73.9 86.5h.1M92.6 82.5h.1M103.1 83.1h.1M99.2 100.3h.1M80.3 96.6h.1M85.8 105.7h.1M109.9 105.9h.1M96.0 92.8h.1M93.0 102.4h.1M103.0 82.3h.1M116.3 117.7h.1M105.3 107.4h.1M94.3 94.0h.1M96.4 84.9h.1M98.9 99.6h.1M87.2 78.2h.1M82.9 88.6h.1M93.5 103.1h.1M84.0 96.7h.1M92.4 91.3h.1M93.9 105.0h.1M115.2 86.1h.1M84.9 98.7h.1M91.8 91.3h.1M91.4 87.9h.1M97.2 100.4h.1M102.9 86.6h.1M88.3 114.1h.1M85.2 90.4h.1M77.4 114.9h.1M84.2 85.6h.1M98.1 101.8h.1M93.4 84.6h.1M83.4 83.3h.1M89.5 97.5h.1M93.3 102.4h.1M97.8 83.9h.1M87.4 107.2h.1M90.6 88.4h.1M75.7 97.2h.1M82.1 99.6h.1M108.4 101.6h.1M72.2 78.9h.1M89.8 111.4h.1M95.1 101.3h.1M89.4 92.0h.1M85.3 86.3h.1M92.4 79.9h.1M93.0 83.1h.1M92.2 101.2h.1M75.2 92.8h.1M91.6 85.3h.1M84.9 91.0h.1M87.8 110.9h.1M95.2 92.9h.1M99.1 90.4h.1M101.5 108.8h.1M88.3 100.4h.1M101.8 96.4h.1M104.2 90.2h.1M103.8 81.3h.1M106.2 84.9h.1M91.6 91.4h.1M91.3 93.9h.1M100.8 99.4h.1M80.0 101.2h.1M95.0 98.1h.1M88.0 98.1h.1M89.5 86.4h.1M76.5 75.5h.1M84.5 91.1h.1M92.8 86.9h.1M101.4 89.8h.1M102.4 93.4h.1M92.2 84.2h.1M91.2 85.5h.1M85.1 95.0h.1M96.8 97.1h.1M90.6 89.8h.1M98.8 100.7h.1M109.6 93.9h.1M92.7 86.3h.1M78.8 96.4h.1M84.8 113.9h.1M79.1 89.6h.1M81.6 107.1h.1M105.4 109.1h.1M95.2 110.2h.1M78.6 88.2h.1M99.2 115.1h.1M105.0 97.1h.1M89.6 93.6h.1M86.6 93.8h.1M89.8 101.7h.1M95.7 96.5h.1M99.1 94.3h.1M104.2 108.2h.1M104.5 89.1h.1M104.3 86.1h.1M105.9 103.5h.1M99.3 102.7h.1M78.5 106.4h.1M91.8 85.8h.1M96.0 106.3h.1M89.4 100.6h.1M101.7 112.7h.1M89.6 84.1h.1M84.2 98.1h.1M106.7 93.4h.1M99.3 80.9h.1M95.1 89.2h.1M101.8 106.7h.1M103.1 91.5h.1M96.2 89.1h.1M69.7 104.2h.1M86.6 105.4h.1M88.7 105.4h.1M83.7 88.5h.1M94.9 95.4h.1M104.3 105.8h.1M88.4 89.8h.1M82.2 88.9h.1M112.3 103.9h.1M88.7 110.8h.1M81.3 85.1h.1M95.3 71.3h.1M97.0 82.2h.1M86.3 86.4h.1M100.5 94.7h.1M88.4 101.9h.1M84.2 94.6h.1M94.7 89.3h.1M100.3 97.5h.1M87.0 86.9h.1M96.1 95.6h.1M92.1 89.9h.1M119.8 121.5h.1M86.3 103.8h.1M106.1 88.1h.1M92.5 86.5h.1M91.8 91.8h.1M99.9 80.4h.1M101.5 89.1h.1M105.0 89.0h.1M96.1 104.4h.1M87.3 91.9h.1M87.9 88.5h.1M97.8 83.3h.1M98.5 84.8h.1M106.3 95.4h.1M97.0 94.0h.1M103.1 106.8h.1M107.4 90.0h.1M94.6 106.1h.1M78.9 98.4h.1M81.8 96.0h.1M79.3 76.9h.1M108.1 83.7h.1M84.9 103.0h.1M104.7 109.3h.1M98.6 98.0h.1M109.3 103.2h.1M102.5 92.1h.1M92.0 92.5h.1M91.1 89.7h.1M93.8 105.3h.1M94.7 99.3h.1M88.0 93.8h.1M92.7 92.9h.1M108.3 101.3h.1M76.8 99.1h.1M95.5 88.1h.1M84.4 112.3h.1M94.8 98.4h.1M101.0 96.1h.1M92.5 110.0h.1M100.3 105.7h.1M77.9 95.2h.1M103.5 101.1h.1M87.3 85.8h.1M98.9 89.9h.1M94.7 74.5h.1M68.4 107.6h.1M85.8 78.0h.1M95.1 102.5h.1M107.8 88.1h.1M95.7 86.7h.1M95.4 94.1h.1M79.6 98.5h.1M106.6 101.8h.1M110.2 112.8h.1M93.3 99.4h.1M90.9 104.4h.1M77.6 90.3h.1M101.4 102.8h.1M118.7 97.5h.1M99.8 91.6h.1M105.0 95.1h.1M98.1 95.4h.1M83.6 97.8h.1M105.7 99.8h.1M81.3 91.2h.1M91.0 89.0h.1M95.6 103.1h.1M101.4 79.9h.1M97.0 90.1h.1M96.7 110.7h.1M85.8 70.3h.1M80.8 89.4h.1M93.6 102.5h.1M86.3 80.3h.1M80.6 120.7h.1M81.0 71.4h.1M88.3 109.6h.1M75.4 110.8h.1M80.2 104.7h.1M77.5 93.9h.1M94.7 99.4h.1M96.9 87.5h.1M112.1 103.7h.1M78.8 85.4h.1M86.5 93.4h.1M101.7 105.5h.1M90.9 85.4h.1M89.9 92.5h.1M109.2 97.6h.1M89.8 83.3h.1M82.0 107.1h.1M80.5 99.2h.1M96.2 81.6h.1M95.9 95.6h.1M80.0 88.6h.1M83.6 89.8h.1M98.1 96.7h.1M98.5 89.3h.1M86.9 105.2h.1M98.9 89.3h.1M98.4 105.3h.1M76.1 95.6h.1M90.0 104.1h.1M96.9 90.9h.1M87.6 91.2h.1M72.7 85.1h.1M90.3 101.5h.1M100.1 104.9h.1M108.0 116.1h.1M72.2 108.3h.1M117.8 98.4h.1M82.3 94.0h.1M102.1 99.7h.1M104.7 95.7h.1M102.3 109.9h.1M94.4 105.0h.1M82.0 88.1h.1M99.0 89.5h.1M86.2 109.0h.1M69.0 98.9h.1M119.9 93.8h.1M99.7 107.3h.1M110.3 92.3h.1M84.3 93.3h.1M106.9 91.6h.1M108.1 77.4h.1M107.8 104.2h.1M92.8 84.5h.1M81.6 90.6h.1M91.3 88.9h.1M72.1 102.9h.1M76.8 95.3h.1M93.9 96.1h.1M83.6 80.0h.1M91.4 95.2h.1M92.0 82.0h.1M111.3 98.9h.1M105.3 99.5h.1M92.6 95.8h.1M104.5 115.4h.1M85.6 101.0h.1M89.8 101.7h.1M101.6 97.4h.1M81.2 94.2h.1M90.3 105.2h.1M80.5 106.5h.1M94.1 83.6h.1M108.5 106.0h.1M85.9 100.9h.1M95.1 105.1h.1M84.5 100.4h.1M82.1 84.2h.1M81.3 84.9h.1M106.8 113.3h.1M115.4 98.4h.1M97.6 82.5h.1M86.2 99.3h.1M99.7 92.6h.1M89.8 78.5h.1M100.6 74.2h.1M95.8 80.8h.1M95.7 98.6h.1M98.8 95.5h.1M87.5 93.6h.1M89.2 98.7h.1M76.6 101.7h.1M88.8 76.0h.1M79.5 93.1h.1M91.6 88.1h.1M83.9 84.3h.1M94.0 90.8h.1M97.3 94.8h.1M79.5 93.5h.1M85.3 82.2h.1M84.0 91.4h.1M100.1 115.2h.1M109.2 86.0h.1M101.1 80.0h.1M89.7 98.6h.1M106.9 101.7h.1M78.6 100.4h.1M107.2 85.4h.1M86.8 105.5h.1M66.6 88.5h.1M118.2 85.2h.1M108.0 90.2h.1M83.2 95.0h.1M94.6 102.8h.1M91.0 101.9h.1M94.0 95.8h.1M78.9 104.9h.1M86.5 96.8h.1M97.4 104.5h.1M95.1 82.7h.1M104.4 81.0h.1M93.8 103.4h.1M115.3 82.8h.1M86.2 93.1h.1M95.5 95.1h.1M74.8 91.4h.1M81.1 91.7h.1M105.6 109.2h.1M84.0 72.0h.1M98.0 104.4h.1M92.4 117.8h.1M83.1 96.2h.1M89.7 95.8h.1M88.1 102.9h.1M88.4 113.4h.1M100.2 84.7h.1M99.2 96.8h.1M87.5 94.2h.1M84.4 101.3h.1M95.7 97.5h.1M92.0 102.3h.1M102.8 92.0h.1M118.2 96.5h.1M101.0 89.6h.1M92.7 89.7h.1M91.4 94.7h.1M84.9 94.7h.1M84.4 84.9h.1M83.5 110.9h.1M89.2 94.7h.1M88.9 82.9h.1M100.1 106.5h.1M89.2 88.9h.1M91.1 100.8h.1M81.4 95.8h.1M108.6 98.4h.1M97.8 97.6h.1M110.0 90.5h.1M100.6 96.4h.1M107.2 115.3h.1M90.6 74.7h.1M99.8 96.6h.1M118.7 100.1h.1M81.4 86.0h.1M104.2 83.0h.1M109.1 116.5h.1M97.0 92.5h.1M100.3 115.8h.1M105.2 101.1h.1M86.6 96.7h.1M97.0 100.5h.1M84.6 102.0h.1M86.4 107.2h.1M87.0 100.1h.1M91.6 97.4h.1M94.4 97.7h.1M97.4 108.8h.1M79.2 103.8h.1M112.3 86.5h.1M104.2 90.0h.1M100.1 99.1h.1M89.5 90.1h.1M92.1 92.4h.1M98.3 86.9h.1M97.0 93.5h.1M76.6 100.0h.1M100.2 105.5h.1M121.4 96.1h.1M75.0 115.7h.1M102.7 95.3h.1M96.6 126.3h.1M91.9 105.5h.1M106.4 100.7h.1M81.5 91.3h.1M94.6 69.2h.1M107.3 94.5h.1M91.1 97.7h.1M88.9 114.3h.1M94.1 82.9h.1M88.7 114.1h.1M108.1 93.6h.1M84.1 102.9h.1M101.5 71.9h.1M80.8 97.3h.1M88.5 136.6h.1M86.0 126.1h.1M105.2 164.2h.1M87.6 148.2h.1M104.7 133.4h.1M97.6 156.9h.1M103.0 141.4h.1M110.3 148.6h.1M101.4 142.5h.1M102.1 123.6h.1M87.7 153.6h.1M89.6 141.4h.1M101.0 123.9h.1M108.5 127.6h.1M107.3 153.3h.1M115.2 133.5h.1M98.1 139.7h.1M97.2 148.8h.1M104.1 140.9h.1M95.7 116.1h.1M95.0 148.6h.1M86.6 153.1h.1M103.9 152.0h.1M86.4 163.3h.1M99.9 144.5h.1M83.4 150.7h.1M104.8 162.8h.1M86.8 134.6h.1M102.7 165.0h.1M82.0 165.0h.1M91.8 150.7h.1M88.7 151.8h.1M96.1 125.8h.1M91.4 156.1h.1M75.9 143.9h.1M98.1 145.2h.1M99.2 141.3h.1M86.1 159.4h.1M100.4 147.3h.1M88.7 128.6h.1M87.0 146.3h.1M95.6 149.9h.1M89.7 128.1h.1M115.0 132.5h.1M82.3 133.3h.1M101.8 129.9h.1M103.9 144.2h.1M78.7 154.3h.1M100.3 156.9h.1M91.4 154.3h.1M98.8 156.1h.1M105.2 159.0h.1M92.3 133.3h.1M86.5 149.4h.1M72.3 143.8h.1M97.2 137.1h.1M87.6 132.2h.1M98.2 131.4h.1M97.5 135.0h.1M83.7 120.5h.1M110.2 146.8h.1M104.7 138.7h.1M102.7 140.6h.1M85.4 144.1h.1M92.0 149.9h.1M90.9 130.1h.1M92.0 137.4h.1M85.9 114.9h.1M99.2 105.7h.1M97.4 109.9h.1M98.6 162.1h.1M91.2 111.6h.1M106.5 146.1h.1M97.1 161.2h.1M72.2 132.1h.1M90.1 163.4h.1M103.7 153.2h.1M93.4 148.3h.1M89.9 128.1h.1M101.2 146.9h.1M91.7 132.4h.1M90.4 119.5h.1M89.2 119.9h.1M91.0 131.0h.1M81.3 138.7h.1M100.8 129.1h.1M89.5 141.2h.1M98.5 135.5h.1M98.7 133.0h.1M105.7 121.0h.1M104.4 118.0h.1M90.6 128.0h.1M94.1 143.6h.1M109.8 155.0h.1M107.4 146.5h.1M92.8 137.9h.1M78.1 119.4h.1M108.5 139.3h.1M96.3 107.1h.1M96.6 134.7h.1M96.0 163.7h.1M101.0 144.2h.1M100.0 156.2h.1M82.0 133.6h.1M104.7 118.6h.1M91.0 132.1h.1M91.5 133.4h.1M110.2 157.4h.1M92.6 128.2h.1M79.7 133.9h.1M96.9 137.2h.1M100.1 134.1h.1M94.8 120.7h.1M84.9 140.8h.1M88.8 144.8h.1M84.8 145.2h.1M97.3 121.3h.1M102.5 137.7h.1M104.2 113.3h.1M89.3 153.1h.1M97.5 124.1h.1M100.2 135.3h.1M91.2 132.7h.1M94.2 130.7h.1M113.6 123.5h.1M97.2 112.9h.1M103.0 165.4h.1M91.8 143.3h.1M95.9 143.4h.1M95.3 137.9h.1M105.6 147.7h.1M113.3 139.8h.1M105.7 157.3h.1M101.3 147.0h.1M96.0 144.2h.1M90.4 135.6h.1M94.1 143.7h.1M100.7 156.9h.1M88.8 108.3h.1M103.4 137.5h.1M87.1 133.2h.1M80.4 135.0h.1M86.9 109.8h.1M81.3 150.5h.1M83.8 126.8h.1M105.1 136.1h.1M93.8 131.9h.1M97.4 114.4h.1M105.3 132.8h.1M106.2 111.9h.1M91.2 125.4h.1M106.8 134.8h.1M98.8 139.4h.1M95.5 140.3h.1M99.3 137.4h.1M88.8 146.0h.1M94.6 121.2h.1M100.7 130.3h.1M92.3 129.6h.1M94.4 136.8h.1M103.7 130.4h.1M107.5 126.7h.1M102.0 164.2h.1M106.3 140.2h.1M92.1 134.4h.1M92.9 135.7h.1M98.2 136.2h.1M92.9 160.4h.1M91.2 146.7h.1M109.5 156.4h.1M93.8 92.7h.1M87.3 144.4h.1M99.6 155.4h.1M96.2 140.0h.1M106.0 113.8h.1M91.8 148.4h.1M91.3 130.5h.1M89.6 112.6h.1M94.3 130.2h.1M111.1 155.4h.1M85.7 157.6h.1M109.4 150.4h.1M86.9 123.8h.1M102.6 122.0h.1M100.9 138.4h.1M97.9 117.9h.1M81.5 159.3h.1M98.6 146.2h.1M86.8 152.9h.1M117.3 140.9h.1M93.7 138.5h.1M97.1 142.2h.1M85.8 111.3h.1M91.4 154.5h.1M84.5 153.3h.1M103.8 133.7h.1M93.3 139.4h.1M100.3 144.1h.1M89.7 163.2h.1M91.2 146.1h.1M106.4 140.3h.1M87.2 132.0h.1M80.2 117.1h.1M99.0 130.7h.1M85.8 140.7h.1M91.8 135.9h.1M103.2 140.8h.1M88.5 150.8h.1M103.0 146.2h.1M89.7 143.8h.1M108.2 149.5h.1M106.8 142.5h.1M91.5 139.2h.1M93.7 146.7h.1M88.4 113.8h.1M97.2 158.5h.1M105.3 120.4h.1M83.2 152.3h.1M103.3 139.9h.1M84.2 156.3h.1M88.2 140.2h.1M80.3 125.6h.1M113.4 155.8h.1M96.0 142.5h.1M97.6 141.5h.1M89.8 141.0h.1M104.6 154.8h.1M77.6 152.0h.1M95.7 143.2h.1M114.3 116.5h.1M92.3 133.7h.1M95.6 141.4h.1M88.6 145.5h.1M95.7 138.4h.1M103.7 157.7h.1M97.2 138.1h.1M98.7 139.4h.1M92.5 142.2h.1M98.2 117.3h.1M96.0 154.2h.1M107.9 146.2h.1M101.7 135.6h.1M93.4 122.7h.1M74.7 143.0h.1M101.6 160.8h.1M101.9 130.2h.1M87.7 123.9h.1M78.5 146.1h.1M85.8 115.9h.1M103.4 106.5h.1M86.4 133.2h.1M91.6 129.5h.1M97.4 135.7h.1M105.9 131.6h.1M95.3 144.8h.1M94.6 136.5h.1M90.8 130.9h.1M109.4 133.0h.1M104.6 149.3h.1M94.7 154.2h.1M83.6 153.4h.1M88.8 150.3h.1M100.4 90.4h.1M89.4 124.8h.1M103.1 135.2h.1M98.6 143.0h.1M98.0 115.6h.1M101.1 161.2h.1M99.7 144.4h.1M88.2 130.6h.1M92.7 142.3h.1M115.4 134.7h.1M85.2 128.5h.1M91.5 147.5h.1M104.6 133.1h.1M94.1 118.7h.1M88.6 130.4h.1M84.3 138.2h.1M100.1 123.7h.1M104.2 158.8h.1M107.4 123.6h.1M104.4 153.3h.1M86.7 125.8h.1M96.9 141.9h.1M89.7 157.7h.1M97.0 137.1h.1M101.9 122.1h.1M104.6 141.6h.1M106.3 117.6h.1M91.5 148.3h.1M86.8 140.1h.1M94.0 138.2h.1M83.1 134.1h.1M95.5 135.2h.1M98.0 155.6h.1M93.8 149.0h.1M100.1 125.0h.1M92.8 163.4h.1M95.5 120.6h.1M83.3 150.0h.1M95.9 142.8h.1M88.3 158.0h.1M91.7 145.4h.1M94.7 155.9h.1M97.1 139.7h.1M81.5 154.6h.1M82.2 145.2h.1M99.5 129.6h.1M98.6 158.0h.1M103.1 147.0h.1M106.6 142.7h.1M99.7 131.6h.1M95.3 146.8h.1M86.7 118.0h.1M87.5 119.6h.1M91.5 150.8h.1M97.8 116.8h.1M97.4 161.7h.1M95.5 136.0h.1M94.2 143.9h.1M100.9 141.2h.1M97.3 146.4h.1M98.0 135.9h.1M98.1 134.6h.1M90.9 138.2h.1M86.7 155.9h.1M99.7 157.1h.1M99.0 159.2h.1M93.6 145.6h.1M92.0 137.1h.1M114.9 114.9h.1M89.0 149.8h.1M93.7 152.7h.1M97.8 134.1h.1M85.7 152.2h.1M96.5 159.5h.1M110.8 141.6h.1M103.4 156.0h.1M100.9 144.8h.1M100.5 114.1h.1M96.5 133.1h.1M103.6 134.0h.1M94.2 148.1h.1M91.9 127.2h.1M96.4 133.6h.1M103.2 125.7h.1M98.3 139.6h.1M101.2 141.2h.1M78.3 154.8h.1M105.6 152.1h.1M115.4 142.6h.1M106.8 143.8h.1M92.8 141.8h.1M88.3 141.8h.1M97.9 163.4h.1M87.1 102.9h.1M101.7 137.5h.1M91.0 144.8h.1M103.7 157.1h.1M107.1 123.7h.1M78.2 145.4h.1M98.0 153.1h.1M89.6 133.5h.1M83.5 111.5h.1M90.3 134.8h.1M93.6 122.1h.1M104.3 149.9h.1M82.6 127.4h.1M112.7 142.3h.1M100.6 128.1h.1M100.1 132.6h.1M95.4 123.8h.1M85.5 146.0h.1M100.0 162.5h.1M98.8 136.9h.1M101.7 154.0h.1M117.3 126.0h.1M101.7 144.8h.1M108.8 119.1h.1M84.1 158.6h.1M85.8 157.8h.1M92.3 112.0h.1M89.9 118.6h.1M101.4 125.5h.1M92.8 154.7h.1M110.3 133.7h.1M108.4 137.6h.1M102.0 150.8h.1M92.2 141.9h.1M100.7 143.5h.1M102.4 135.3h.1M86.4 157.0h.1M98.5 128.5h.1M101.5 165.3h.1M97.3 135.1h.1M108.9 128.2h.1M105.8 149.8h.1M88.5 146.9h.1M96.6 110.4h.1M88.4 143.4h.1M100.4 119.9h.1M88.1 127.7h.1M103.3 151.9h.1M98.8 127.2h.1M103.8 145.4h.1M94.3 134.4h.1M110.5 138.7h.1M94.0 122.5h.1M107.2 123.5h.1M99.2 126.5h.1M101.2 142.0h.1M111.1 140.0h.1M98.4 154.6h.1M107.4 142.6h.1M82.9 142.0h.1M102.9 144.9h.1M93.4 138.1h.1M94.4 144.4h.1M95.6 151.8h.1M98.4 151.8h.1M109.6 131.8h.1M79.7 113.5h.1M95.9 127.9h.1M89.4 144.2h.1M105.4 102.6h.1M91.9 132.8h.1M99.4 146.7h.1M92.1 131.5h.1M101.2 123.2h.1M92.1 160.7h.1M95.9 136.1h.1M83.4 159.8h.1M98.1 159.4h.1M102.8 123.0h.1M105.0 125.8h.1M77.9 135.9h.1M79.8 123.4h.1M83.7 141.0h.1M91.4 120.1h.1M95.7 139.8h.1M94.8 156.1h.1M94.9 143.0h.1M101.7 135.9h.1M91.5 163.0h.1M84.8 126.4h.1M84.9 154.3h.1M113.5 135.3h.1M75.5 143.0h.1M94.0 140.3h.1M107.9 141.7h.1M99.6 139.0h.1M88.4 128.0h.1M95.5 131.2h.1M102.8 146.4h.1M105.8 138.1h.1M87.9 122.3h.1M102.0 129.1h.1M97.6 129.3h.1M104.9 138.9h.1M107.3 142.4h.1M92.6 141.0h.1M83.2 129.9h.1M98.9 139.9h.1M110.6 119.1h.1M101.3 96.4h.1M97.5 138.8h.1M115.9 114.8h.1M86.7 125.4h.1M103.2 121.5h.1M90.7 149.0h.1M95.9 121.4h.1M96.3 143.7h.1M108.4 132.2h.1M87.5 121.0h.1M91.0 115.9h.1M82.0 146.4h.1M99.6 145.2h.1M91.6 151.0h.1M86.4 143.5h.1M92.4 143.6h.1M104.3 137.5h.1M94.0 140.9h.1M100.8 134.1h.1M100.0 125.9h.1M82.2 111.4h.1M103.9 143.1h.1M97.0 145.9h.1M103.9 141.5h.1M78.4 124.8h.1M81.4 136.3h.1M77.3 132.3h.1M88.0 123.1h.1M104.4 138.5h.1M100.3 133.0h.1M95.2 130.8h.1M96.6 149.4h.1M102.0 123.2h.1M92.9 145.7h.1M98.9 129.9h.1M96.7 145.5h.1M76.9 140.1h.1M92.2 142.6h.1M107.0 124.3h.1M92.1 127.4h.1M94.3 126.2h.1M90.3 141.6h.1M91.4 150.2h.1M105.1 155.1h.1M93.2 131.4h.1M86.8 140.2h.1M69.1 114.7h.1M90.6 105.7h.1M78.8 125.9h.1M80.0 128.9h.1M102.3 115.6h.1M101.5 112.2h.1M79.2 146.8h.1M102.7 126.8h.1M99.4 113.7h.1M101.7 141.4h.1M81.7 134.0h.1M85.3 148.9h.1M83.3 127.4h.1M86.1 162.5h.1M103.0 115.7h.1M84.2 119.2h.1M85.7 136.7h.1M87.4 127.3h.1M97.2 159.8h.1M92.6 114.7h.1M102.8 127.7h.1M89.5 142.2h.1M84.5 147.0h.1M91.2 153.6h.1M95.8 143.7h.1M97.8 131.5h.1M110.9 141.2h.1M90.5 151.4h.1M95.8 133.8h.1M106.9 134.1h.1M89.9 131.6h.1M88.2 128.9h.1M86.1 121.6h.1M98.8 130.2h.1M99.8 115.3h.1M94.1 144.1h.1M95.7 114.6h.1M102.7 163.8h.1M83.4 154.9h.1M95.2 135.2h.1M96.2 129.6h.1M101.4 156.7h.1M93.4 141.1h.1M89.8 146.7h.1M91.4 127.6h.1M80.2 154.3h.1M95.1 126.4h.1M90.2 139.9h.1M99.2 112.5h.1M86.5 128.5h.1M91.5 145.8h.1M86.9 131.6h.1M86.2 131.6h.1M101.2 150.1h.1M91.3 137.2h.1M99.0 156.8h.1M85.7 102.1h.1M96.0 146.7h.1M80.8 145.8h.1M91.1 115.2h.1M90.9 118.8h.1M100.1 151.4h.1M96.7 122.3h.1M93.7 128.7h.1M102.3 147.2h.1M96.8 133.3h.1M99.7 145.3h.1M101.7 125.3h.1M94.6 142.7h.1M92.6 154.4h.1M97.9 143.1h.1M91.6 105.4h.1M98.4 147.9h.1M104.5 139.1h.1M102.4 124.7h.1M91.9 159.0h.1M84.2 112.2h.1M94.0 128.7h.1M104.5 161.7h.1M91.9 137.5h.1M93.3 118.3h.1M101.3 139.6h.1M91.1 143.1h.1M93.8 146.3h.1M109.6 154.0h.1M107.7 124.8h.1M100.4 145.5h.1M97.4 149.2h.1M86.9 134.1h.1M99.8 124.2h.1M95.6 123.9h.1M97.0 149.4h.1M90.7 150.1h.1M95.0 125.8h.1M93.5 118.2h.1M97.8 156.7h.1M107.2 115.0h.1M98.2 140.6h.1M81.0 126.1h.1M86.9 112.0h.1M81.7 140.0h.1M88.4 135.3h.1M99.8 159.7h.1M90.0 135.4h.1M97.4 153.5h.1M88.7 153.8h.1M83.0 130.4h.1M83.2 125.2h.1M87.8 162.2h.1M107.1 132.7h.1M83.7 137.8h.1M105.6 133.8h.1M106.4 136.2h.1M93.5 129.1h.1M94.7 149.3h.1M89.9 156.9h.1M94.9 132.6h.1M100.7 117.6h.1M95.2 138.9h.1M103.5 116.0h.1M105.1 128.6h.1M98.0 156.5h.1M94.5 143.8h.1M98.0 122.3h.1M85.6 149.8h.1M98.5 104.6h.1M96.8 127.8h.1M87.7 160.9h.1M113.3 149.3h.1M86.8 117.6h.1M87.7 113.3h.1M97.4 150.9h.1M78.6 137.4h.1M88.3 129.3h.1M82.1 144.3h.1M86.9 129.6h.1M93.9 109.5h.1M97.8 150.2h.1M104.4 128.5h.1M101.9 123.2h.1M105.1 118.3h.1M100.0 141.9h.1M91.1 126.1h.1M104.5 147.5h.1M90.9 134.2h.1M89.8 154.3h.1M108.0 132.4h.1M101.7 128.4h.1M96.9 108.8h.1M101.4 121.8h.1M102.5 148.9h.1M94.2 119.5h.1M85.0 122.7h.1M96.1 143.2h.1M89.3 145.3h.1M106.6 128.1h.1M99.4 139.3h.1M88.1 114.2h.1M94.9 133.7h.1M84.7 151.6h.1M95.4 162.6h.1M99.7 135.7h.1M97.3 134.3h.1M78.6 144.9h.1M92.2 154.7h.1M99.3 145.4h.1M97.6 127.0h.1M104.9 143.5h.1M84.1 152.6h.1M99.5 127.5h.1M89.5 118.2h.1M96.7 145.8h.1M98.5 143.6h.1M100.9 152.6h.1M90.1 139.5h.1M96.6 128.6h.1M85.1 131.7h.1M83.0 122.8h.1M99.7 124.1h.1M94.6 129.8h.1M81.3 131.0h.1M87.8 154.8h.1M95.2 119.9h.1M108.2 137.5h.1M103.9 129.4h.1M101.8 160.4h.1M79.8 142.1h.1M94.2 132.7h.1M99.1 150.4h.1M98.4 139.2h.1M98.5 131.2h.1M93.0 161.2h.1M109.9 148.9h.1M107.5 164.1h.1M94.2 155.5h.1M86.7 149.8h.1M112.5 140.3h.1M90.3 122.1h.1M105.2 148.9h.1M111.2 139.4h.1M87.0 148.4h.1M97.5 138.2h.1M92.0 128.0h.1M99.4 123.3h.1M97.7 148.8h.1M111.5 157.6h.1M100.0 134.0h.1M94.9 145.1h.1M104.6 159.0h.1M92.7 125.9h.1M91.9 133.3h.1M114.0 121.7h.1M88.0 155.9h.1M90.8 142.3h.1M95.4 131.5h.1M86.0 113.7h.1M77.1 135.7h.1M104.0 153.2h.1M88.3 134.0h.1M90.4 132.1h.1M91.8 147.9h.1M86.7 120.0h.1M85.9 139.2h.1M96.4 147.3h.1M115.4 126.8h.1M101.3 126.0h.1M101.3 142.1h.1M82.2 136.9h.1M94.8 134.9h.1M84.9 141.5h.1M101.6 141.7h.1M93.1 124.6h.1M95.3 128.5h.1M94.2 145.1h.1M90.0 155.1h.1M82.1 158.6h.1M99.9 125.8h.1M83.2 154.7h.1M85.0 149.7h.1M92.5 138.0h.1M89.0 145.7h.1M97.2 150.8h.1M103.6 165.1h.1M97.1 122.8h.1M96.7 147.4h.1M95.2 136.4h.1M102.3 135.4h.1M79.3 155.6h.1M98.1 150.7h.1M87.1 123.4h.1M84.5 134.3h.1M95.0 141.9h.1M91.7 117.5h.1M100.0 151.4h.1M104.4 137.4h.1M75.2 140.9h.1M94.4 143.5h.1M111.6 165.4h.1M102.4 139.1h.1M107.3 133.2h.1M95.9 164.4h.1M82.8 131.1h.1M85.4 130.7h.1M101.0 117.9h.1M103.1 154.6h.1M88.8 142.6h.1M92.7 145.5h.1M97.2 141.0h.1M80.1 136.5h.1M92.0 126.9h.1M108.8 127.0h.1M113.6 145.0h.1M94.1 140.4h.1M110.6 162.8h.1M90.5 127.3h.1M88.1 131.3h.1M76.0 123.4h.1M103.1 159.0h.1M91.8 120.3h.1M114.9 150.0h.1M97.8 159.9h.1M96.6 136.5h.1M79.7 149.3h.1M107.8 107.0h.1M91.9 132.8h.1M93.6 114.0h.1M76.3 141.1h.1M102.9 138.7h.1M103.4 127.2h.1M89.9 152.6h.1M95.8 143.9h.1M98.3 130.8h.1M103.2 131.0h.1M95.9 116.8h.1M109.7 135.9h.1M89.9 128.1h.1M91.1 144.8h.1M73.4 130.5h.1M88.2 150.5h.1M103.6 145.1h.1M97.3 135.2h.1M88.1 112.2h.1M98.0 131.0h.1M77.9 156.4h.1M92.6 135.0h.1M99.5 147.9h.1M101.0 131.5h.1M88.5 111.0h.1M102.8 144.9h.1M110.9 143.4h.1M91.4 130.1h.1M101.3 133.1h.1M81.8 142.9h.1M78.4 129.8h.1M100.2 143.8h.1M95.4 135.6h.1M96.7 103.7h.1M90.1 136.5h.1M92.6 129.8h.1M101.9 126.2h.1M109.7 144.6h.1M93.2 131.4h.1M81.0 146.6h.1M105.9 154.9h.1M100.2 140.8h.1M100.9 115.7h.1M96.6 127.8h.1M114.8 152.2h.1M95.7 134.8h.1M99.4 126.7h.1M79.3 137.3h.1M90.1 146.1h.1M89.2 142.5h.1M94.8 148.2h.1M98.0 126.4h.1M88.7 134.6h.1M109.8 134.9h.1M86.0 138.4h.1M91.2 107.6h.1M97.1 135.2h.1M84.4 118.8h.1M99.9 159.3h.1M100.4 161.8h.1M92.6 163.6h.1M111.3 150.7h.1M95.8 131.5h.1M97.5 152.9h.1M86.9 135.7h.1M80.8 147.8h.1M89.7 125.3h.1M92.3 130.0h.1M91.2 145.6h.1M101.6 165.0h.1M74.8 138.4h.1M106.5 119.7h.1M90.3 138.3h.1M90.7 124.6h.1M85.7 136.7h.1M102.7 130.8h.1M91.6 137.8h.1M97.0 153.0h.1M77.8 152.7h.1M105.0 142.6h.1M98.4 138.8h.1M99.8 140.5h.1M105.6 140.6h.1M93.4 147.3h.1M93.7 138.8h.1M101.2 146.2h.1M98.7 119.3h.1M93.0 150.5h.1M95.5 164.7h.1M90.8 141.5h.1M101.2 117.8h.1M103.0 158.8h.1M95.1 133.9h.1M111.1 94.4h.1M82.0 135.5h.1M93.1 147.8h.1M109.7 144.5h.1M91.5 157.2h.1M81.5 148.0h.1M107.0 140.6h.1M99.7 109.5h.1M84.9 122.3h.1M101.7 141.5h.1M86.4 148.8h.1M83.7 123.6h.1M93.8 129.7h.1M91.0 145.8h.1M85.7 110.5h.1M92.0 109.9h.1M86.5 135.4h.1M95.6 142.5h.1M94.9 131.7h.1M101.4 104.8h.1M91.2 139.2h.1M83.7 119.1h.1M83.9 148.5h.1M93.0 137.3h.1M108.2 142.7h.1M102.3 148.3h.1M89.6 131.0h.1M103.1 151.1h.1M85.2 157.3h.1M103.7 144.7h.1M91.8 158.6h.1M101.6 129.5h.1M100.4 152.4h.1M92.7 142.8h.1M97.9 124.2h.1M86.0 137.7h.1M94.5 131.0h.1M104.3 130.6h.1M130.0 140.1h.1M101.1 154.6h.1M95.9 134.1h.1M86.5 140.7h.1M104.1 117.0h.1M81.0 140.4h.1M88.3 156.0h.1M98.2 150.9h.1M84.8 145.9h.1M108.2 131.0h.1M104.4 124.4h.1M90.3 137.4h.1M90.4 119.0h.1M83.9 120.5h.1M83.2 152.8h.1M98.9 125.2h.1M100.4 165.5h.1M98.1 117.6h.1M97.4 145.2h.1M90.3 121.4h.1M98.2 141.4h.1M82.6 123.4h.1M95.2 139.4h.1M107.7 136.5h.1M106.4 132.1h.1M91.2 146.4h.1M92.3 161.2h.1M106.9 130.0h.1M110.4 152.0h.1M82.3 140.1h.1M91.5 138.4h.1M105.5 106.6h.1M88.0 128.7h.1M100.6 111.9h.1M92.5 134.2h.1M115.4 135.4h.1M94.0 144.0h.1M92.3 165.5h.1M104.1 158.1h.1M100.9 132.3h.1M85.9 145.9h.1M97.0 163.6h.1M83.7 141.4h.1M88.7 141.9h.1M84.1 146.3h.1M83.8 116.5h.1M89.3 126.8h.1M86.8 143.8h.1M99.6 146.9h.1M101.9 125.2h.1M93.1 134.0h.1M85.6 137.0h.1M102.0 136.6h.1M77.8 149.1h.1M78.6 140.4h.1M101.3 141.3h.1M100.7 117.8h.1M103.4 123.1h.1M93.3 143.6h.1M84.4 115.1h.1M90.8 142.8h.1M100.0 129.0h.1M88.6 126.7h.1M89.1 148.4h.1M83.2 128.7h.1M85.2 126.0h.1M102.3 128.7h.1M99.0 139.6h.1M85.9 107.2h.1M90.3 138.5h.1M99.8 135.1h.1M85.1 152.9h.1M93.7 133.2h.1M76.8 101.9h.1M84.4 158.5h.1M98.7 122.5h.1M102.8 137.8h.1M85.2 118.3h.1M88.5 122.4h.1M101.9 131.3h.1M91.8 151.5h.1M90.5 151.2h.1M99.6 129.8h.1M96.8 146.1h.1M104.6 133.1h.1M101.9 140.3h.1M90.2 140.9h.1M94.1 147.9h.1M94.6 129.5h.1M83.6 136.7h.1M86.8 141.9h.1M103.4 140.0h.1M81.6 126.7h.1M103.6 164.3h.1M97.6 131.7h.1M93.9 149.9h.1M99.7 141.6h.1M99.2 156.8h.1M105.5 106.0h.1M93.2 135.4h.1M93.0 120.2h.1M111.2 140.5h.1M87.3 146.1h.1M92.3 120.2h.1M89.1 131.7h.1M95.3 158.5h.1M97.0 117.6h.1M114.7 135.9h.1M79.6 134.2h.1M98.9 134.2h.1M89.2 158.1h.1M93.9 128.5h.1M90.9 126.6h.1M95.6 153.5h.1M103.7 147.8h.1M82.2 112.8h.1M106.4 148.1h.1M92.0 148.1h.1M108.0 129.4h.1M98.7 141.8h.1M105.7 142.5h.1M100.0 131.3h.1M104.4 129.8h.1M95.7 128.5h.1M88.1 134.5h.1M100.9 118.7h.1M101.3 137.9h.1M113.1 116.3h.1M78.1 139.6h.1M93.5 137.3h.1M104.2 123.1h.1M84.5 151.2h.1M113.3 158.2h.1M107.3 118.2h.1M87.7 157.5h.1M107.4 141.8h.1M105.3 137.7h.1M101.8 129.6h.1M98.5 138.4h.1M97.3 159.2h.1M87.8 146.6h.1M90.8 132.3h.1M101.5 128.5h.1M96.4 132.3h.1M111.0 147.2h.1M74.8 122.7h.1M92.4 138.5h.1M97.6 132.8h.1M98.5 127.3h.1M95.8 144.4h.1M88.2 146.7h.1M108.0 117.4h.1M89.6 123.1h.1M101.3 156.3h.1M92.8 143.2h.1M85.1 146.2h.1M107.3 131.0h.1M73.9 132.8h.1M88.0 145.3h.1M99.0 131.1h.1M92.2 122.0h.1M101.7 138.5h.1M94.4 151.9h.1M91.4 123.2h.1M113.7 154.2h.1M93.4 148.9h.1M94.0 125.7h.1M86.1 138.6h.1M88.9 137.9h.1M100.8 147.9h.1M100.1 148.4h.1M95.3 119.1h.1M89.4 118.5h.1M101.2 153.8h.1M80.8 140.2h.1M92.4 144.7h.1M93.2 143.4h.1M88.1 161.2h.1M96.6 120.6h.1M89.7 154.7h.1M88.5 126.3h.1M110.7 149.3h.1M101.7 158.4h.1M105.6 118.0h.1M95.8 144.5h.1M103.6 134.4h.1M102.0 134.2h.1M105.7 139.1h.1M115.5 122.9h.1M93.5 124.2h.1M97.6 148.2h.1M95.0 151.0h.1M65.5 130.1h.1M83.5 116.9h.1M100.8 154.8h.1M90.5 143.8h.1M105.1 123.2h.1M106.4 129.9h.1M91.9 142.1h.1M107.6 124.3h.1M110.3 162.2h.1M99.4 140.5h.1M87.1 144.3h.1M107.9 123.2h.1M94.1 125.0h.1M92.3 126.8h.1M96.5 142.6h.1M90.9 134.6h.1M104.6 134.2h.1M102.1 143.2h.1M105.9 141.8h.1M100.4 160.4h.1M88.7 135.6h.1M94.1 123.5h.1M102.9 138.3h.1M92.0 160.1h.1M120.3 130.3h.1M93.4 139.2h.1M90.5 133.2h.1M105.3 144.5h.1M101.9 142.3h.1M95.3 126.5h.1M93.5 135.1h.1M99.1 152.4h.1M102.6 154.7h.1M102.0 152.1h.1M92.9 151.2h.1M99.2 133.6h.1M102.7 133.1h.1M102.0 152.2h.1M69.3 121.2h.1M87.9 137.6h.1M88.9 111.1h.1M93.5 132.9h.1M97.0 128.1h.1M103.3 120.7h.1M100.8 147.0h.1M94.4 127.7h.1M95.7 133.1h.1M110.5 134.7h.1M90.3 127.7h.1M98.1 159.5h.1M108.8 131.2h.1M98.4 141.4h.1M78.1 119.3h.1M98.7 131.5h.1M92.2 133.7h.1M94.5 134.0h.1M104.4 129.9h.1M99.5 140.6h.1M93.3 161.5h.1M103.1 136.6h.1M99.2 136.5h.1M96.4 132.8h.1M97.7 162.3h.1M92.6 146.7h.1M91.6 148.9h.1M95.7 128.1h.1M87.4 136.3h.1M84.8 141.6h.1M106.6 140.3h.1M93.5 125.9h.1M95.3 127.0h.1M94.4 146.1h.1M95.7 143.1h.1M95.7 107.5h.1M96.1 139.9h.1M88.7 157.2h.1M103.4 129.0h.1M89.6 142.1h.1M104.3 117.1h.1M79.2 150.8h.1M86.5 122.1h.1M103.9 120.1h.1M94.2 133.9h.1M98.7 129.5h.1M86.6 120.0h.1M96.2 145.3h.1M76.7 141.9h.1M91.7 162.9h.1M90.0 119.9h.1M100.1 115.1h.1M102.9 133.9h.1M88.2 144.1h.1M109.2 143.8h.1M90.5 154.5h.1M78.0 116.6h.1M75.3 126.4h.1M108.6 136.6h.1M94.8 150.9h.1M90.0 145.5h.1M89.1 132.3h.1M86.2 123.5h.1M107.0 151.5h.1M94.8 152.5h.1M93.8 135.9h.1M75.5 162.4h.1M102.7 120.8h.1M92.4 130.6h.1M93.5 128.6h.1M108.8 131.7h.1M93.3 125.7h.1M105.4 130.6h.1M95.5 137.8h.1M89.1 131.9h.1M99.8 148.3h.1M90.4 137.3h.1M105.9 138.5h.1M103.7 160.2h.1M96.0 143.2h.1M100.7 140.8h.1M100.3 138.3h.1M93.2 139.5h.1M103.1 147.0h.1M93.6 126.8h.1M100.7 155.4h.1M87.4 161.7h.1M96.4 155.5h.1M99.0 131.3h.1M88.8 115.2h.1M92.0 132.1h.1M91.0 140.8h.1M101.7 150.7h.1M89.4 135.9h.1M99.3 134.1h.1M108.5 160.9h.1M98.6 128.7h.1M81.8 154.2h.1M96.6 151.9h.1M104.4 119.0h.1M93.1 142.7h.1M105.0 130.4h.1M100.8 124.6h.1M99.1 111.4h.1M93.3 115.5h.1M91.2 144.7h.1M93.4 132.9h.1M96.1 142.6h.1M100.0 122.9h.1M99.2 133.9h.1M93.0 134.6h.1M96.1 115.9h.1M98.9 114.1h.1M81.8 145.0h.1M89.1 140.7h.1M88.8 124.9h.1M93.9 137.1h.1M93.3 148.3h.1M93.4 165.5h.1M88.2 125.5h.1M101.3 147.6h.1M81.7 139.5h.1M95.7 160.1h.1M86.0 100.6h.1M110.1 159.9h.1M91.8 138.4h.1M92.3 111.0h.1M96.3 150.0h.1M93.9 154.0h.1M95.1 156.3h.1M108.8 156.2h.1M97.6 138.1h.1M102.7 127.6h.1M105.2 131.8h.1M87.4 138.1h.1M110.0 144.5h.1M101.5 131.5h.1M103.8 139.3h.1M88.3 151.5h.1M102.6 143.3h.1M115.1 121.7h.1M100.5 130.2h.1M93.6 119.3h.1M97.3 121.4h.1M103.4 146.6h.1M105.3 124.0h.1M100.6 123.2h.1M106.0 134.6h.1M108.2 150.3h.1M85.2 133.3h.1M91.5 133.3h.1M87.7 152.1h.1M96.5 145.5h.1M107.9 145.3h.1M101.2 152.5h.1M86.8 123.7h.1M93.2 141.7h.1M104.4 129.2h.1M91.2 153.7h.1M94.8 150.6h.1M98.3 123.2h.1M80.2 158.3h.1M102.3 121.3h.1M98.6 155.8h.1M100.5 141.6h.1M87.4 125.7h.1M89.1 122.1h.1M90.6 134.1h.1M97.8 138.2h.1M96.3 128.1h.1M96.8 146.9h.1M110.9 117.9h.1M106.8 138.5h.1M89.6 138.6h.1M90.1 110.9h.1M110.3 143.1h.1M93.0 119.9h.1M107.4 101.7h.1M109.3 129.5h.1M91.1 135.2h.1M93.4 151.9h.1M96.4 131.4h.1M88.3 160.3h.1M87.4 159.8h.1M92.3 154.7h.1M102.9 158.1h.1M91.9 143.7h.1M93.9 130.3h.1M91.7 148.1h.1M84.1 152.8h.1M108.3 142.1h.1M75.8 134.9h.1M90.1 115.4h.1M100.4 148.5h.1M83.8 143.7h.1M100.8 119.3h.1M106.3 140.0h.1M88.4 149.2h.1M97.4 136.9h.1M86.2 150.1h.1M100.0 149.7h.1M96.4 116.7h.1M97.5 134.1h.1M107.3 145.7h.1M99.7 152.1h.1M107.1 159.4h.1M101.1 110.2h.1M85.5 137.6h.1M97.9 149.1h.1M99.8 156.7h.1M83.4 163.5h.1M107.0 124.7h.1M96.2 133.0h.1M98.8 122.9h.1M88.0 150.7h.1M96.3 118.9h.1M98.2 156.1h.1M92.9 152.4h.1M96.3 145.8h.1M77.6 106.4h.1M107.2 128.5h.1M86.2 149.6h.1M77.1 117.6h.1M87.5 135.0h.1M88.6 137.0h.1M100.3 151.7h.1M87.9 142.7h.1M98.1 142.6h.1M87.5 132.0h.1M114.4 138.6h.1M100.3 136.5h.1M112.3 149.3h.1M87.0 135.9h.1M101.3 153.9h.1M87.5 113.4h.1M100.6 156.3h.1M101.4 136.0h.1M82.1 155.3h.1M86.0 139.8h.1M85.7 151.2h.1M82.9 160.7h.1M89.4 130.3h.1M87.5 139.7h.1M83.4 136.0h.1M96.5 141.6h.1M100.3 114.5h.1M84.5 136.0h.1M90.9 134.8h.1M95.7 126.9h.1M93.6 135.6h.1M89.7 115.7h.1M102.5 159.2h.1M102.8 145.1h.1M93.8 125.6h.1M112.5 121.2h.1M110.4 142.7h.1M92.2 113.8h.1M94.6 141.9h.1M105.7 128.1h.1M88.8 133.5h.1M99.0 142.3h.1M96.0 139.2h.1M93.6 147.9h.1M82.2 119.3h.1M91.0 153.0h.1M78.6 118.6h.1M115.0 139.8h.1M108.4 120.0h.1M106.0 126.2h.1M98.1 157.9h.1M104.1 130.2h.1M106.4 128.9h.1M104.2 130.1h.1M103.4 133.8h.1M87.8 159.8h.1M99.2 121.0h.1M91.0 120.1h.1M85.5 147.0h.1M85.9 114.8h.1M99.2 133.0h.1M104.5 155.2h.1M83.9 138.4h.1M110.4 131.3h.1M108.0 127.9h.1M92.3 124.8h.1M91.6 129.6h.1M94.9 140.4h.1M103.9 156.8h.1M92.3 152.7h.1M86.1 130.0h.1M98.4 127.5h.1M78.0 148.7h.1M96.7 111.4h.1M105.4 131.8h.1M98.1 133.5h.1M102.1 121.9h.1M99.7 123.6h.1M101.7 143.4h.1M96.7 113.8h.1M88.5 124.7h.1M93.6 128.6h.1M94.9 139.4h.1M106.2 117.9h.1M109.3 154.3h.1M99.1 133.6h.1M89.1 134.3h.1M89.3 132.8h.1M93.9 128.2h.1M107.3 123.6h.1M98.3 155.1h.1M95.0 141.1h.1M89.0 136.5h.1M103.0 152.8h.1M98.0 127.6h.1M95.1 147.4h.1M96.4 138.4h.1M109.8 124.9h.1M94.1 149.3h.1M109.9 115.9h.1M106.1 147.6h.1M95.9 124.9h.1M103.0 144.0h.1M94.4 158.4h.1M88.5 146.4h.1M93.2 129.1h.1M87.8 137.5h.1M99.8 132.5h.1M95.6 120.6h.1M100.3 121.6h.1M102.5 138.5h.1M69.0 145.8h.1M98.1 111.8h.1M80.2 136.8h.1M96.9 145.3h.1M88.0 139.5h.1M96.4 123.0h.1M107.1 153.1h.1M81.0 119.8h.1M97.1 147.3h.1M94.8 161.4h.1M79.4 107.6h.1M101.0 141.5h.1M95.8 142.4h.1M91.2 141.1h.1M89.4 126.4h.1M122.8 133.1h.1M92.2 117.1h.1M80.2 139.6h.1M87.6 145.6h.1M92.4 127.9h.1M92.2 124.0h.1M94.8 130.7h.1M86.6 137.5h.1M100.1 138.5h.1M91.4 136.1h.1M83.9 138.6h.1M88.6 118.3h.1M92.2 97.4h.1M102.7 146.7h.1M99.6 158.5h.1M92.6 116.7h.1M95.7 127.8h.1M97.3 142.0h.1M112.8 151.6h.1M90.3 147.1h.1M99.5 156.4h.1M101.7 136.8h.1M87.4 143.7h.1M97.1 143.6h.1M96.9 131.2h.1M91.5 155.2h.1M100.3 146.7h.1M104.2 151.9h.1M105.1 131.8h.1M93.9 152.7h.1M97.1 122.0h.1M115.5 143.3h.1M86.1 99.1h.1M97.4 122.7h.1M103.1 148.4h.1M96.8 130.9h.1M101.1 140.1h.1M97.0 113.7h.1M101.9 160.3h.1M106.4 146.3h.1M93.6 137.1h.1M97.2 143.6h.1M95.0 142.3h.1M92.1 158.3h.1M95.3 140.7h.1M85.9 115.9h.1M101.8 133.8h.1M110.0 156.4h.1M110.0 145.9h.1M106.3 131.3h.1M87.3 146.5h.1M108.4 139.2h.1M89.4 146.5h.1M95.0 114.2h.1M111.2 124.3h.1M86.4 147.3h.1M102.7 134.2h.1M97.9 142.7h.1M88.1 132.9h.1M99.1 141.0h.1M91.6 129.3h.1M104.4 128.3h.1M105.9 136.4h.1M83.8 116.2h.1M91.2 106.6h.1M92.8 157.5h.1M85.5 136.0h.1M86.0 154.0h.1M96.3 139.3h.1M93.7 139.7h.1M81.5 147.3h.1M90.9 148.0h.1M99.9 119.9h.1M85.2 155.2h.1M87.6 123.3h.1M109.0 140.5h.1M81.7 138.7h.1M84.0 161.9h.1M98.7 132.4h.1M85.4 146.5h.1M93.4 138.3h.1M91.7 143.6h.1M100.3 125.0h.1M74.0 124.1h.1M76.8 142.4h.1M85.1 114.6h.1M104.1 125.2h.1M94.2 146.9h.1M81.0 128.5h.1M99.7 124.5h.1M101.5 121.3h.1M93.4 139.7h.1M92.7 132.2h.1M99.2 139.7h.1M105.8 134.8h.1M96.8 164.6h.1M100.0 131.1h.1M95.1 108.9h.1M92.3 139.2h.1M87.7 137.6h.1M97.7 139.8h.1M92.9 114.0h.1M93.4 154.1h.1M103.4 137.1h.1M99.6 136.9h.1M102.9 114.4h.1M82.1 144.5h.1M100.2 136.6h.1M90.5 157.3h.1M88.6 131.5h.1M88.3 119.5h.1M105.8 139.4h.1M102.5 124.2h.1M89.4 143.6h.1M85.8 121.7h.1M95.6 135.6h.1M91.6 134.2h.1M109.6 137.0h.1M83.1 130.0h.1M79.9 125.7h.1M93.3 136.7h.1M95.6 129.1h.1M96.6 139.8h.1M101.9 133.6h.1M113.1 104.8h.1M92.6 136.6h.1M90.9 157.8h.1M80.5 142.0h.1M97.6 146.3h.1M102.8 144.2h.1M93.3 130.7h.1M105.5 118.1h.1M95.8 149.3h.1M108.4 152.9h.1M98.3 145.8h.1M86.5 143.7h.1M90.1 143.3h.1M82.5 137.1h.1M80.7 141.5h.1M97.8 137.7h.1M102.9 142.3h.1M112.1 123.8h.1M95.0 128.4h.1M93.5 145.8h.1M86.1 132.6h.1M103.9 102.5h.1M98.8 139.4h.1M90.4 104.4h.1M101.4 165.2h.1M100.3 148.0h.1M79.6 147.3h.1M101.8 127.9h.1M96.7 121.2h.1M92.2 134.5h.1M92.0 137.9h.1M110.4 126.4h.1M108.6 139.9h.1M111.0 147.5h.1M85.7 146.2h.1M89.9 122.6h.1M103.2 106.4h.1M85.2 137.6h.1M89.4 128.1h.1M80.2 144.1h.1M111.3 161.3h.1M104.5 161.3h.1M99.4 141.8h.1M97.4 153.6h.1M92.0 161.3h.1M92.1 138.3h.1M100.7 141.6h.1M89.4 149.9h.1M105.9 137.2h.1M91.3 130.5h.1M88.1 126.9h.1M106.5 137.8h.1M94.3 128.8h.1M100.2 149.2h.1M92.0 132.9h.1M76.4 158.7h.1M100.2 155.1h.1M84.1 120.0h.1M104.7 153.3h.1M82.3 132.0h.1M79.6 157.4h.1M98.1 145.1h.1M99.1 137.1h.1M96.4 147.4h.1M85.2 129.8h.1M103.1 142.5h.1M83.1 143.4h.1M91.6 135.7h.1M88.8 143.4h.1M92.3 123.6h.1M102.7 145.9h.1M90.1 120.6h.1M100.3 146.8h.1M101.4 144.7h.1M81.0 148.1h.1M85.6 130.0h.1M90.5 134.7h.1M98.1 140.1h.1M79.1 127.2h.1M101.6 158.4h.1M101.8 131.3h.1M94.1 152.2h.1M83.7 124.6h.1M95.5 142.5h.1M90.9 132.8h.1M100.3 151.4h.1M94.8 133.9h.1M101.7 125.8h.1M91.8 144.6h.1M107.8 121.1h.1M75.9 124.5h.1M86.9 149.1h.1M99.7 111.5h.1M82.7 149.0h.1M101.8 132.5h.1M85.2 125.2h.1M96.3 141.7h.1M87.7 147.2h.1M91.7 129.9h.1M97.0 135.7h.1M94.6 149.6h.1M92.3 149.0h.1M113.8 137.6h.1M95.6 127.4h.1M87.3 124.9h.1M103.4 129.9h.1M102.5 148.0h.1M105.9 146.5h.1M110.7 142.7h.1M87.5 158.1h.1M104.5 134.1h.1M105.2 133.0h.1M95.5 132.9h.1M97.6 165.5h.1M70.0 109.3h.1M90.6 142.6h.1M110.7 144.8h.1M80.3 139.4h.1M97.9 155.1h.1M100.4 149.4h.1M109.4 125.8h.1M80.5 145.6h.1M95.9 133.3h.1M102.8 139.2h.1M84.3 141.4h.1M95.2 131.8h.1M111.5 147.5h.1M106.7 161.7h.1M100.1 153.3h.1M73.3 141.7h.1M94.4 111.3h.1M98.8 154.0h.1M92.9 153.9h.1M94.9 136.0h.1M121.7 132.0h.1M93.7 148.0h.1M87.3 127.3h.1M97.6 150.0h.1M92.8 123.5h.1M92.9 125.8h.1M94.8 139.0h.1M102.1 118.2h.1M97.5 138.8h.1M85.3 146.3h.1M94.4 120.2h.1M99.5 151.9h.1M91.5 130.9h.1M105.3 146.6h.1M102.1 141.8h.1M87.1 132.4h.1M98.2 131.5h.1M112.4 114.8h.1M108.8 129.0h.1M95.0 128.0h.1M103.1 162.0h.1M89.8 153.2h.1M83.2 119.6h.1M100.2 150.2h.1M97.6 142.0h.1M99.9 133.5h.1M95.3 145.4h.1M98.3 150.0h.1M91.1 130.9h.1M99.5 135.0h.1M102.6 141.2h.1M95.0 125.1h.1M102.4 141.5h.1M80.4 137.8h.1M88.8 129.4h.1M107.8 127.1h.1M110.5 143.2h.1M97.6 151.2h.1M94.6 143.6h.1M84.7 126.9h.1M98.6 149.5h.1M102.1 141.3h.1M82.9 147.3h.1M100.3 155.3h.1M99.7 126.3h.1M99.2 137.0h.1M85.9 130.6h.1M100.1 126.7h.1M108.2 152.1h.1M96.6 114.2h.1M85.6 144.9h.1M106.9 131.2h.1M105.3 155.1h.1M90.0 140.1h.1M114.2 136.5h.1M87.0 141.0h.1M98.2 144.4h.1M105.6 139.4h.1M76.2 135.9h.1M104.0 137.0h.1M94.9 146.1h.1M95.4 123.1h.1M86.3 139.0h.1M98.3 137.3h.1M86.1 132.2h.1M87.3 149.3h.1M91.7 120.9h.1M85.1 133.9h.1M108.9 127.0h.1M84.2 146.6h.1M89.1 132.4h.1M92.8 139.7h.1M95.5 144.4h.1M102.2 116.6h.1M102.5 145.3h.1M92.9 128.5h.1M92.2 135.4h.1M95.8 137.4h.1M102.5 150.3h.1M101.4 149.3h.1M91.1 163.7h.1M78.0 141.5h.1M113.7 132.3h.1M103.6 132.0h.1M97.7 148.2h.1M98.4 161.4h.1M91.1 143.8h.1M87.0 130.9h.1M92.7 142.8h.1M93.6 142.6h.1M90.2 139.5h.1M83.1 128.6h.1M92.8 103.4h.1M100.4 131.5h.1M91.3 153.7h.1M95.7 142.0h.1M77.9 108.1h.1M93.7 139.1h.1M94.5 113.1h.1M80.8 141.7h.1M99.0 122.1h.1M88.6 150.2h.1M99.7 128.0h.1M91.9 146.9h.1M100.8 139.3h.1M92.6 122.5h.1M82.7 148.3h.1M94.8 120.2h.1M92.7 157.8h.1M101.1 139.8h.1M91.7 124.6h.1M92.2 113.6h.1M102.8 161.6h.1M105.4 159.3h.1M102.0 121.4h.1M104.3 162.1h.1M99.4 141.3h.1M102.0 135.9h.1M103.0 137.8h.1M98.9 135.2h.1M96.0 159.0h.1M96.7 141.1h.1M115.9 113.2h.1M93.5 151.4h.1M92.4 123.7h.1M95.2 134.0h.1M97.6 126.3h.1M85.9 139.7h.1M78.7 144.5h.1M98.0 142.3h.1M81.8 130.6h.1M97.7 127.8h.1M96.7 150.9h.1M105.3 137.6h.1M98.6 127.7h.1M90.8 150.0h.1M85.5 139.7h.1M88.8 128.4h.1M95.8 158.1h.1M77.9 140.7h.1M96.1 126.5h.1M95.4 134.5h.1M101.0 153.3h.1M92.7 121.8h.1M96.4 158.3h.1M89.2 148.6h.1M91.6 135.1h.1M80.4 158.0h.1M96.6 163.5h.1M108.7 147.4h.1M96.9 141.4h.1M98.6 164.9h.1M87.2 160.0h.1M107.7 126.0h.1M89.0 136.1h.1M102.3 136.0h.1M96.4 133.2h.1M87.3 118.0h.1M104.2 151.7h.1M95.6 140.2h.1M97.0 140.4h.1M99.3 158.8h.1M95.3 131.1h.1M92.3 138.2h.1M99.5 142.8h.1M92.1 132.9h.1M96.1 137.4h.1M89.8 149.8h.1M82.8 138.9h.1M89.8 157.7h.1M91.3 128.4h.1M95.6 141.8h.1M105.6 118.9h.1M81.1 137.3h.1M96.6 129.1h.1M76.7 158.2h.1M86.6 149.5h.1M91.2 146.2h.1M76.3 165.0h.1M79.7 159.3h.1M96.8 149.1h.1M96.2 129.3h.1M94.5 118.6h.1M88.7 138.6h.1M113.8 134.0h.1" stroke="#000" stroke-width="1.3" stroke-linecap="round" fill="none"/>
<rect x="38.5" y="29.3" width="137" height="137" fill="none" stroke="#555" stroke-width="1.2"/>
<path d="M35.3 166.3h3.2M38.5 166.3v3.2M36.9 155.99h1.6M48.81 166.3v1.6M36.9 149.96h1.6M54.84 166.3v1.6M36.9 145.68h1.6M59.12 166.3v1.6M36.9 142.36h1.6M62.44 166.3v1.6M36.9 139.65h1.6M65.15 166.3v1.6M36.9 137.36h1.6M67.44 166.3v1.6M36.9 135.37h1.6M69.43 166.3v1.6M36.9 133.62h1.6M71.18 166.3v1.6M35.3 132.05h3.2M72.75 166.3v3.2M36.9 121.74h1.6M83.06 166.3v1.6M36.9 115.71h1.6M89.09 166.3v1.6M36.9 111.43h1.6M93.37 166.3v1.6M36.9 108.11h1.6M96.69 166.3v1.6M36.9 105.4h1.6M99.4 166.3v1.6M36.9 103.11h1.6M101.69 166.3v1.6M36.9 101.12h1.6M103.68 166.3v1.6M36.9 99.37h1.6M105.43 166.3v1.6M35.3 97.8h3.2M107 166.3v3.2M36.9 87.49h1.6M117.31 166.3v1.6M36.9 81.46h1.6M123.34 166.3v1.6M36.9 77.18h1.6M127.62 166.3v1.6M36.9 73.86h1.6M130.94 166.3v1.6M36.9 71.15h1.6M133.65 166.3v1.6M36.9 68.86h1.6M135.94 166.3v1.6M36.9 66.87h1.6M137.93 166.3v1.6M36.9 65.12h1.6M139.68 166.3v1.6M35.3 63.55h3.2M141.25 166.3v3.2M36.9 53.24h1.6M151.56 166.3v1.6M36.9 47.21h1.6M157.59 166.3v1.6M36.9 42.93h1.6M161.87 166.3v1.6M36.9 39.61h1.6M165.19 166.3v1.6M36.9 36.9h1.6M167.9 166.3v1.6M36.9 34.61h1.6M170.19 166.3v1.6M36.9 32.62h1.6M172.18 166.3v1.6M36.9 30.87h1.6M173.93 166.3v1.6M35.3 29.3h3.2M175.5 166.3v3.2" stroke="#333" stroke-width="0.9" fill="none"/>
<text x="22.8" y="169.9" class="t" font-size="6" fill="#333">10<tspan dy="-2.6" font-size="5">0</tspan></text>
<text x="36.8" y="177.8" class="t" font-size="6" fill="#333">10<tspan dy="-2.6" font-size="5">0</tspan></text>
<text x="22.8" y="135.65" class="t" font-size="6" fill="#333">10<tspan dy="-2.6" font-size="5">1</tspan></text>
<text x="71.05" y="177.8" class="t" font-size="6" fill="#333">10<tspan dy="-2.6" font-size="5">1</tspan></text>
<text x="22.8" y="101.4" class="t" font-size="6" fill="#333">10<tspan dy="-2.6" font-size="5">2</tspan></text>
<text x="105.3" y="177.8" class="t" font-size="6" fill="#333">10<tspan dy="-2.6" font-size="5">2</tspan></text>
<text x="22.8" y="67.15" class="t" font-size="6" fill="#333">10<tspan dy="-2.6" font-size="5">3</tspan></text>
<text x="139.55" y="177.8" class="t" font-size="6" fill="#333">10<tspan dy="-2.6" font-size="5">3</tspan></text>
<text x="22.8" y="32.9" class="t" font-size="6" fill="#333">10<tspan dy="-2.6" font-size="5">4</tspan></text>
<text x="173.8" y="177.8" class="t" font-size="6" fill="#333">10<tspan dy="-2.6" font-size="5">4</tspan></text>
<path d="M260.7 29.3V166.3 M208.2 121.1H345.2" stroke="#777" stroke-width="1" fill="none"/>
<path d="M249.5 101.9h.1M258.4 127.8h.1M238.7 104.0h.1M263.5 130.1h.1M242.8 113.5h.1M243.9 114.3h.1M240.9 89.5h.1M244.6 82.2h.1M263.1 81.7h.1M248.6 119.0h.1M238.1 71.2h.1M245.8 134.9h.1M249.2 104.2h.1M255.1 85.8h.1M244.4 116.4h.1M248.7 87.6h.1M271.8 110.8h.1M246.0 105.3h.1M248.1 131.8h.1M237.1 126.4h.1M255.1 127.1h.1M243.2 101.7h.1M262.6 132.7h.1M257.3 108.8h.1M253.9 112.2h.1M242.9 118.1h.1M244.3 115.0h.1M243.9 85.9h.1M247.8 121.8h.1M244.2 81.4h.1M242.6 118.6h.1M248.0 108.8h.1M246.9 111.4h.1M244.0 90.3h.1M254.8 128.1h.1M255.9 107.4h.1M242.4 125.4h.1M265.1 96.9h.1M250.3 97.1h.1M257.4 111.3h.1M262.9 128.6h.1M235.2 86.2h.1M251.4 99.6h.1M254.8 101.0h.1M257.2 105.2h.1M253.8 101.8h.1M255.6 129.5h.1M234.5 122.9h.1M239.1 110.5h.1M252.0 125.3h.1M230.0 128.7h.1M242.5 98.9h.1M245.6 96.9h.1M250.3 122.6h.1M254.7 148.4h.1M249.2 67.3h.1M240.2 98.8h.1M239.1 124.2h.1M250.6 95.5h.1M252.1 125.8h.1M250.3 114.2h.1M248.3 87.4h.1M248.1 101.7h.1M235.4 116.8h.1M246.9 93.9h.1M253.6 120.7h.1M237.7 115.7h.1M250.8 104.6h.1M253.0 117.2h.1M266.8 103.6h.1M246.6 114.0h.1M245.1 92.1h.1M237.0 135.6h.1M238.0 105.3h.1M233.5 131.1h.1M232.1 148.8h.1M253.1 138.6h.1M247.1 109.8h.1M249.7 112.9h.1M233.8 109.3h.1M230.1 115.7h.1M232.2 95.1h.1M260.8 77.3h.1M256.6 115.9h.1M235.9 110.9h.1M248.0 137.9h.1M248.6 142.9h.1M238.9 85.3h.1M241.8 93.3h.1M255.2 124.1h.1M253.2 131.4h.1M254.8 112.4h.1M249.9 111.2h.1M248.2 76.7h.1M251.4 151.6h.1M245.9 97.4h.1M261.5 120.3h.1M249.1 116.3h.1M251.8 93.9h.1M246.5 125.6h.1M241.6 136.6h.1M246.9 109.2h.1M244.5 112.7h.1M240.5 122.1h.1M254.1 127.9h.1M264.1 125.8h.1M249.7 94.0h.1M246.4 93.2h.1M241.3 100.1h.1M235.0 61.2h.1M252.4 86.1h.1M252.1 106.6h.1M240.6 98.0h.1M248.0 94.8h.1M240.2 126.1h.1M259.3 116.2h.1M248.3 125.0h.1M251.1 107.0h.1M261.7 102.5h.1M228.6 94.4h.1M250.8 114.6h.1M249.6 77.3h.1M244.9 94.3h.1M247.6 120.7h.1M257.9 125.5h.1M241.9 108.9h.1M242.0 89.2h.1M262.0 120.4h.1M256.0 96.7h.1M251.6 107.8h.1M254.3 92.5h.1M248.3 143.1h.1M245.0 137.1h.1M246.3 94.7h.1M250.2 88.9h.1M243.7 109.1h.1M234.2 121.4h.1M246.2 132.8h.1M249.9 109.0h.1M246.4 87.6h.1M253.2 115.4h.1M250.0 114.9h.1M255.7 81.2h.1M248.6 105.3h.1M246.2 104.6h.1M252.4 92.3h.1M255.0 114.1h.1M243.9 129.2h.1M240.4 128.4h.1M258.8 93.9h.1M243.2 99.4h.1M250.7 122.6h.1M243.7 104.0h.1M249.4 103.7h.1M259.3 150.0h.1M261.7 63.5h.1M236.7 98.2h.1M235.5 94.8h.1M219.6 109.1h.1M252.5 141.0h.1M260.6 107.4h.1M249.8 104.9h.1M245.2 112.9h.1M254.5 104.5h.1M239.8 116.9h.1M253.1 156.1h.1M258.9 97.5h.1M257.9 106.3h.1M253.5 108.7h.1M243.4 71.9h.1M244.8 121.0h.1M240.0 108.9h.1M263.1 74.4h.1M258.0 105.1h.1M247.1 113.0h.1M247.0 93.8h.1M249.6 129.7h.1M242.1 99.2h.1M251.9 82.9h.1M251.7 124.6h.1M251.2 107.5h.1M248.0 112.5h.1M226.6 80.8h.1M245.9 84.9h.1M235.8 91.6h.1M233.5 107.2h.1M266.2 107.5h.1M243.4 135.0h.1M245.9 137.9h.1M245.0 112.4h.1M240.4 108.3h.1M261.0 144.4h.1M232.1 111.1h.1M251.5 128.3h.1M242.5 101.2h.1M258.0 108.1h.1M254.5 105.0h.1M248.1 97.4h.1M234.9 116.8h.1M254.0 95.0h.1M255.6 108.0h.1M252.9 117.5h.1M245.0 148.3h.1M252.7 75.4h.1M240.9 111.4h.1M249.4 121.9h.1M250.5 103.7h.1M245.4 125.8h.1M239.1 119.6h.1M245.5 118.8h.1M240.0 102.4h.1M237.4 106.1h.1M256.1 105.9h.1M246.1 92.1h.1M243.0 113.3h.1M243.0 90.8h.1M250.9 93.1h.1M244.6 84.8h.1M241.4 130.0h.1M249.6 99.8h.1M248.5 93.9h.1M239.8 124.4h.1M238.3 102.4h.1M258.2 116.1h.1M245.0 106.7h.1M257.4 116.5h.1M252.3 113.4h.1M246.7 70.8h.1M245.3 136.6h.1M260.9 128.2h.1M241.9 83.6h.1M244.0 126.1h.1M240.4 105.9h.1M246.0 112.1h.1M239.4 133.2h.1M248.3 128.0h.1M236.8 127.7h.1M251.6 146.3h.1M250.1 129.7h.1M249.0 99.1h.1M242.2 86.8h.1M258.0 125.1h.1M264.1 79.0h.1M246.2 103.6h.1M240.8 103.5h.1M252.6 97.3h.1M245.5 134.5h.1M248.5 115.8h.1M252.7 105.9h.1M235.9 126.2h.1M253.3 102.6h.1M238.5 131.7h.1M236.8 147.0h.1M244.0 107.6h.1M259.5 107.0h.1M241.9 130.8h.1M251.1 74.5h.1M239.4 87.3h.1M252.5 91.4h.1M249.9 80.7h.1M256.9 109.9h.1M248.7 115.3h.1M247.3 109.5h.1M231.6 109.5h.1M249.9 126.5h.1M253.8 129.4h.1M248.9 132.4h.1M248.7 107.4h.1M251.9 110.3h.1M254.5 136.6h.1M239.7 117.4h.1M246.6 133.8h.1M250.8 101.4h.1M249.4 109.1h.1M239.2 98.4h.1M230.6 109.6h.1M249.9 117.7h.1M253.2 101.9h.1M261.2 145.4h.1M250.7 83.1h.1M239.9 125.6h.1M250.9 90.3h.1M246.2 115.3h.1M241.5 96.0h.1M235.2 111.3h.1M231.9 111.3h.1M241.3 95.5h.1M243.7 87.9h.1M247.7 97.1h.1M247.3 110.3h.1M249.1 124.6h.1M263.2 139.0h.1M246.6 78.8h.1M258.7 118.2h.1M240.6 101.4h.1M241.1 110.1h.1M242.8 115.7h.1M232.1 124.2h.1M261.0 117.2h.1M249.3 109.5h.1M253.2 138.1h.1M261.6 115.0h.1M250.9 109.8h.1M260.8 130.5h.1M227.4 89.3h.1M257.8 92.9h.1M249.7 136.1h.1M242.5 106.3h.1M256.3 77.7h.1M247.4 124.3h.1M241.3 131.6h.1M230.8 95.9h.1M262.1 86.3h.1M225.2 108.9h.1M247.7 116.3h.1M260.6 99.1h.1M252.6 93.3h.1M241.9 119.3h.1M244.9 119.4h.1M242.0 81.2h.1M249.2 89.7h.1M246.5 103.9h.1M236.3 98.4h.1M234.7 113.6h.1M256.7 119.0h.1M236.4 143.1h.1M237.6 116.2h.1M266.7 126.3h.1M240.0 81.7h.1M235.9 97.3h.1M238.9 128.7h.1M253.5 83.5h.1M240.7 133.8h.1M245.8 119.6h.1M227.5 112.1h.1M241.8 107.5h.1M247.3 88.7h.1M247.4 90.2h.1M259.4 100.1h.1M251.2 101.9h.1M222.5 131.8h.1M233.2 91.3h.1M239.4 98.4h.1M244.4 78.3h.1M247.3 112.6h.1M252.2 109.6h.1M232.6 129.3h.1M228.0 144.1h.1M253.6 119.3h.1M238.3 94.2h.1M226.9 113.7h.1M238.7 114.7h.1M243.0 108.5h.1M236.5 90.2h.1M236.8 115.8h.1M255.4 87.8h.1M237.4 108.1h.1M249.3 104.2h.1M248.6 63.1h.1M243.7 120.5h.1M266.8 147.9h.1M235.3 103.0h.1M268.7 98.5h.1M238.6 126.3h.1M244.5 86.0h.1M249.3 109.9h.1M256.2 113.9h.1M252.7 99.5h.1M243.8 108.3h.1M243.8 94.4h.1M256.8 99.2h.1M259.8 121.5h.1M242.3 93.9h.1M257.2 99.3h.1M251.6 97.1h.1M249.0 118.7h.1M237.5 102.9h.1M236.1 94.3h.1M250.5 115.5h.1M223.2 73.5h.1M242.6 75.4h.1M250.5 114.8h.1M232.7 143.0h.1M260.7 100.8h.1M261.0 115.7h.1M237.8 84.6h.1M245.9 111.8h.1M245.8 113.1h.1M242.3 119.9h.1M242.7 96.2h.1M251.0 144.3h.1M261.0 92.4h.1M247.6 136.9h.1M247.8 90.3h.1M248.1 123.8h.1M241.1 133.7h.1M252.2 148.6h.1M242.7 107.6h.1M238.6 80.0h.1M252.5 124.8h.1M231.1 96.9h.1M242.6 90.3h.1M243.6 99.1h.1M245.8 93.3h.1M233.9 123.4h.1M238.9 113.1h.1M245.7 122.0h.1M252.1 125.2h.1M246.0 102.8h.1M245.2 122.4h.1M239.9 131.6h.1M247.1 143.2h.1M223.3 112.8h.1M252.4 105.1h.1M255.2 93.0h.1M246.8 102.7h.1M238.7 110.0h.1M258.3 114.3h.1M241.2 85.6h.1M258.4 102.5h.1M244.7 106.2h.1M240.5 99.1h.1M245.2 98.8h.1M241.2 116.1h.1M245.6 92.3h.1M251.2 118.3h.1M244.8 90.4h.1M243.1 113.7h.1M246.8 89.8h.1M250.3 131.0h.1M247.0 123.1h.1M251.6 134.0h.1M251.9 94.7h.1M249.4 86.1h.1M253.0 86.1h.1M247.1 105.8h.1M256.6 128.9h.1M250.4 122.6h.1M254.1 121.9h.1M245.4 87.6h.1M235.0 129.3h.1M243.2 123.0h.1M247.3 100.0h.1M250.1 63.9h.1M246.7 95.5h.1M259.4 107.4h.1M236.1 138.2h.1M232.1 113.7h.1M245.5 108.6h.1M241.3 138.5h.1M247.3 137.9h.1M252.5 116.6h.1M269.8 121.0h.1M236.0 132.4h.1M238.0 96.8h.1M246.5 117.1h.1M234.6 102.2h.1M240.6 92.4h.1M257.8 118.8h.1M246.5 129.8h.1M246.8 143.6h.1M256.3 123.9h.1M232.7 130.4h.1M248.0 106.7h.1M246.6 82.7h.1M249.3 98.4h.1M238.7 117.1h.1M243.4 99.2h.1M246.2 144.6h.1M253.1 132.0h.1M240.9 106.4h.1M252.1 141.3h.1M229.3 121.7h.1M250.6 139.7h.1M253.5 106.8h.1M239.4 124.2h.1M244.6 105.8h.1M247.0 110.3h.1M249.4 130.8h.1M257.0 144.7h.1M248.6 112.3h.1M245.1 115.5h.1M245.4 94.1h.1M249.3 106.2h.1M253.5 119.1h.1M249.1 87.4h.1M242.4 102.2h.1M244.2 89.8h.1M240.4 113.7h.1M239.8 126.3h.1M243.0 116.3h.1M242.2 105.0h.1M253.4 91.8h.1M237.1 80.8h.1M247.6 110.4h.1M237.3 137.7h.1M253.6 105.3h.1M249.5 108.9h.1M257.5 102.0h.1M251.5 89.7h.1M238.5 129.4h.1M247.3 123.0h.1M241.8 83.3h.1M242.7 87.6h.1M238.6 134.5h.1M244.5 94.2h.1M247.8 109.3h.1M248.8 91.4h.1M267.5 116.0h.1M245.7 95.9h.1M247.7 99.2h.1M246.3 89.9h.1M244.9 144.6h.1M244.5 157.3h.1M247.5 114.2h.1M245.4 122.3h.1M253.0 120.5h.1M250.5 110.3h.1M239.8 108.5h.1M247.0 103.6h.1M249.5 124.4h.1M244.8 87.9h.1M245.1 95.0h.1M246.2 123.0h.1M252.0 84.6h.1M248.5 139.6h.1M242.6 105.2h.1M246.6 113.6h.1M257.1 134.3h.1M239.2 109.3h.1M252.4 112.6h.1M245.0 99.5h.1M277.4 119.5h.1M252.2 122.8h.1M247.5 94.1h.1M246.1 122.1h.1M234.6 127.9h.1M242.8 118.8h.1M263.4 96.5h.1M250.0 127.2h.1M244.7 135.1h.1M247.0 101.3h.1M247.4 76.9h.1M239.3 97.3h.1M247.9 110.5h.1M251.2 133.9h.1M235.0 132.0h.1M245.1 122.7h.1M224.8 98.5h.1M233.3 124.1h.1M253.8 110.0h.1M257.0 91.5h.1M262.2 77.5h.1M236.5 128.4h.1M246.3 80.5h.1M244.3 133.0h.1M255.7 151.3h.1M249.7 110.8h.1M247.7 94.8h.1M251.9 98.5h.1M302.1 123.7h.1M304.2 121.2h.1M284.3 132.6h.1M298.4 154.3h.1M297.7 136.4h.1M288.3 72.3h.1M291.2 100.3h.1M278.0 150.5h.1M290.6 118.7h.1M280.4 123.8h.1M285.2 120.0h.1M288.8 82.5h.1M298.1 124.6h.1M285.0 111.3h.1M284.7 91.6h.1M283.0 123.6h.1M317.9 155.0h.1M283.0 110.5h.1M292.9 84.7h.1M271.0 111.8h.1M288.2 93.6h.1M274.4 57.9h.1M281.4 103.2h.1M295.9 123.6h.1M306.7 92.2h.1M289.5 112.3h.1M294.4 111.3h.1M289.6 103.7h.1M282.7 105.0h.1M288.6 106.8h.1M298.4 107.8h.1M289.9 111.1h.1M283.4 126.3h.1M282.4 102.8h.1M293.0 94.8h.1M284.0 125.8h.1M297.9 98.5h.1M272.1 164.2h.1M296.1 108.4h.1M278.6 160.6h.1M286.8 120.2h.1M311.1 121.5h.1M299.2 135.3h.1M282.0 124.2h.1M283.4 111.2h.1M297.6 106.3h.1M298.1 92.8h.1M287.4 91.9h.1M296.0 134.1h.1M283.1 57.7h.1M257.2 154.3h.1M299.8 136.0h.1M282.2 106.9h.1M294.3 154.7h.1M285.8 158.0h.1M284.5 140.2h.1M277.8 57.6h.1M296.2 67.1h.1M297.0 129.2h.1M301.7 86.0h.1M295.5 123.3h.1M292.5 104.1h.1M281.9 122.8h.1M288.2 106.0h.1M292.5 113.7h.1M260.1 73.8h.1M274.8 112.4h.1M285.7 92.6h.1M296.8 137.8h.1M303.3 97.4h.1M306.7 123.7h.1M279.3 126.8h.1M288.4 109.6h.1M281.9 93.6h.1M278.7 116.3h.1M283.7 109.8h.1M288.9 131.1h.1M296.7 91.1h.1M271.2 85.4h.1M286.2 129.1h.1M276.6 118.5h.1M303.2 140.5h.1M306.6 144.5h.1M282.4 69.1h.1M279.7 118.5h.1M294.4 116.1h.1M298.2 114.3h.1M276.6 134.5h.1M282.8 158.0h.1M290.6 108.2h.1M275.9 109.4h.1M304.2 127.8h.1M288.0 130.1h.1M288.2 109.5h.1M274.6 132.7h.1M301.1 144.4h.1M272.6 99.9h.1M279.4 141.9h.1M280.8 94.1h.1M286.0 142.4h.1M271.5 91.3h.1M278.8 92.3h.1M294.0 80.0h.1M287.0 104.7h.1M288.8 110.9h.1M298.3 108.5h.1M292.4 103.1h.1M298.6 106.0h.1M287.7 100.1h.1M277.5 102.6h.1M305.8 114.9h.1M268.6 98.4h.1M272.2 115.2h.1M274.7 86.1h.1M313.6 80.1h.1M288.3 129.4h.1M299.4 92.7h.1M270.1 113.6h.1M275.2 87.8h.1M290.9 76.2h.1M282.3 79.3h.1M288.7 90.5h.1M294.1 141.6h.1M288.5 94.4h.1M288.4 116.6h.1M289.8 101.9h.1M285.2 113.6h.1M290.9 82.6h.1M298.2 136.5h.1M277.2 115.8h.1M290.5 100.3h.1M297.3 129.9h.1M285.4 74.9h.1M286.5 94.1h.1M308.0 119.2h.1M299.9 148.0h.1M312.9 99.2h.1M308.2 153.7h.1M283.8 138.9h.1M279.9 90.3h.1M284.4 123.3h.1M297.2 137.9h.1M249.7 88.5h.1M288.1 146.3h.1M300.9 74.9h.1M288.1 143.9h.1M291.2 138.4h.1M285.0 150.7h.1M269.1 131.5h.1M298.1 118.1h.1M284.5 74.3h.1M292.9 153.3h.1M287.9 127.1h.1M309.2 131.6h.1M292.8 98.2h.1M292.4 59.2h.1M286.6 123.3h.1M278.6 90.9h.1M292.1 111.1h.1M299.6 125.1h.1M287.7 81.2h.1M263.7 122.5h.1M279.0 93.9h.1M309.1 98.3h.1M281.4 129.7h.1M289.7 77.2h.1M266.6 98.3h.1M281.3 106.0h.1M278.1 135.7h.1M296.4 109.7h.1M294.6 127.4h.1M293.7 85.7h.1M298.9 76.2h.1M282.3 107.9h.1M306.4 148.5h.1M285.0 123.8h.1M297.8 101.4h.1M311.0 96.8h.1M281.9 143.3h.1M291.8 126.5h.1M286.3 77.8h.1M289.1 65.2h.1M291.0 157.2h.1M286.8 115.3h.1M287.8 112.0h.1M295.5 120.1h.1M273.0 109.6h.1M279.5 108.1h.1M282.1 110.1h.1M272.4 64.5h.1M291.4 103.8h.1M282.6 100.5h.1M278.1 136.8h.1M272.6 134.7h.1M277.8 102.6h.1M292.5 108.5h.1M273.6 113.5h.1M297.7 158.1h.1M294.5 136.8h.1M290.8 95.7h.1M269.0 145.8h.1M279.1 89.5h.1M299.1 138.3h.1M283.4 114.1h.1M279.2 83.9h.1M279.6 101.3h.1M291.8 107.2h.1M267.3 137.0h.1M298.8 142.6h.1M290.1 70.3h.1M276.1 100.1h.1M294.3 137.1h.1M257.6 123.6h.1M273.9 123.9h.1M290.9 127.1h.1M304.0 129.7h.1M274.4 142.4h.1M271.9 102.5h.1M286.7 58.8h.1M288.5 123.1h.1M279.1 96.5h.1M278.7 72.4h.1M304.6 112.8h.1M277.2 93.9h.1M269.6 110.0h.1M282.9 63.0h.1M301.8 123.9h.1M295.0 110.2h.1M286.9 115.9h.1M273.1 94.1h.1M286.4 92.3h.1M319.0 133.9h.1M294.0 126.4h.1M298.9 105.2h.1M269.8 82.9h.1M282.8 123.4h.1M281.2 99.6h.1M306.5 131.2h.1M284.1 94.8h.1M286.6 115.5h.1M282.0 119.7h.1M255.9 98.4h.1M299.9 123.9h.1M266.4 79.1h.1M280.9 142.1h.1M269.9 101.5h.1M280.7 101.3h.1M282.2 107.0h.1M281.6 102.8h.1M303.3 94.7h.1M274.0 115.7h.1M283.8 96.6h.1M293.2 104.2h.1M282.7 115.1h.1M281.5 106.4h.1M308.7 92.4h.1M295.8 129.8h.1M278.0 157.1h.1M290.1 97.2h.1M277.3 131.7h.1M292.3 94.6h.1M271.5 104.9h.1M296.1 85.8h.1M291.4 97.6h.1M291.0 93.5h.1M287.2 108.8h.1M289.7 103.5h.1M277.6 162.1h.1M287.9 90.9h.1M293.8 125.8h.1M292.0 130.7h.1M276.9 70.1h.1M293.5 71.5h.1M273.9 131.7h.1M279.1 84.0h.1M277.7 104.1h.1M280.5 49.7h.1M285.8 86.3h.1M294.7 105.7h.1M298.9 138.0h.1M292.1 159.3h.1M279.0 97.2h.1M295.4 145.8h.1M298.0 111.9h.1M278.7 106.5h.1M274.0 106.9h.1M285.4 106.5h.1M308.6 76.5h.1M283.8 110.3h.1M285.2 85.7h.1M294.9 120.1h.1M275.1 81.6h.1M285.8 150.9h.1M296.4 85.9h.1M283.7 104.4h.1M279.9 136.3h.1M268.6 124.2h.1M304.6 140.2h.1M273.2 143.8h.1M301.6 105.7h.1M279.2 99.9h.1M299.8 127.1h.1M306.0 124.2h.1M277.4 152.3h.1M293.5 62.3h.1M295.2 136.4h.1M300.9 124.1h.1M283.7 105.5h.1M300.7 93.4h.1M288.2 93.9h.1M275.9 94.1h.1M298.2 150.2h.1M301.1 113.1h.1M286.9 106.2h.1M285.7 113.8h.1M295.6 125.7h.1M305.7 130.2h.1M273.4 112.3h.1M298.8 107.9h.1M309.5 94.4h.1M277.3 111.6h.1M293.4 109.4h.1M287.8 98.1h.1M291.0 105.3h.1M300.9 141.9h.1M269.4 131.2h.1M281.4 119.3h.1M271.8 140.7h.1M283.6 115.6h.1M307.7 139.8h.1M275.5 112.4h.1M281.9 146.6h.1M280.3 125.4h.1M291.5 105.5h.1M283.5 84.9h.1M278.4 115.9h.1M278.5 116.1h.1M285.3 87.3h.1M273.5 107.8h.1M260.4 98.8h.1M299.9 119.2h.1M288.5 82.8h.1M280.4 112.4h.1M285.2 157.6h.1M295.1 135.5h.1M277.5 112.2h.1M287.3 148.7h.1M281.1 104.0h.1M300.6 132.3h.1M260.1 120.0h.1M271.5 102.8h.1M302.6 124.5h.1M278.2 92.8h.1M273.5 92.2h.1M261.2 152.7h.1M285.9 97.8h.1M294.5 110.2h.1M290.4 102.2h.1M273.3 95.4h.1M281.1 124.2h.1M305.2 89.3h.1M284.9 88.6h.1M276.6 107.0h.1M296.8 125.7h.1M283.7 146.6h.1M266.2 112.2h.1M277.4 134.5h.1M297.1 145.1h.1M285.1 123.9h.1M285.8 132.7h.1M294.0 108.2h.1M278.3 75.2h.1M270.3 131.3h.1M286.7 86.3h.1M279.9 126.2h.1M286.8 93.6h.1M278.8 85.3h.1M278.6 110.1h.1M271.2 83.1h.1M290.0 114.8h.1M308.4 108.4h.1M273.2 107.7h.1M299.7 148.7h.1M294.4 132.0h.1M279.8 107.3h.1M275.7 132.1h.1M292.9 122.3h.1M283.0 105.2h.1M283.8 81.3h.1M281.9 95.9h.1M308.1 158.9h.1M269.1 114.1h.1M291.8 126.2h.1M308.0 153.2h.1M288.8 95.9h.1M310.7 138.5h.1M287.1 52.9h.1M288.9 88.7h.1M295.7 61.6h.1M279.1 112.6h.1M287.4 113.3h.1M293.5 95.5h.1M279.7 97.6h.1M299.2 122.5h.1M274.2 125.4h.1M285.8 91.9h.1M291.5 94.3h.1M279.2 117.6h.1M298.4 105.3h.1M300.8 108.8h.1M280.9 106.0h.1M289.9 72.0h.1M280.2 121.7h.1M285.9 118.1h.1M292.4 126.0h.1M285.5 129.5h.1M289.1 155.9h.1M282.3 103.6h.1M300.4 117.8h.1M297.6 145.1h.1M280.4 104.2h.1M293.4 140.2h.1M316.5 101.4h.1M282.2 102.4h.1M302.6 87.4h.1M316.9 109.8h.1M285.1 162.0h.1M296.3 156.4h.1M263.1 115.2h.1M302.7 125.3h.1M294.6 140.3h.1M296.7 87.9h.1M289.6 103.3h.1M298.2 108.7h.1M299.9 68.7h.1M295.4 94.4h.1M284.5 98.3h.1M285.7 105.2h.1M287.9 107.8h.1M285.1 59.0h.1M278.3 123.2h.1M273.5 100.9h.1M286.4 123.7h.1M277.3 126.7h.1M283.5 108.4h.1M273.4 154.8h.1M272.4 72.2h.1M282.9 111.3h.1M284.9 114.2h.1M311.5 146.3h.1M286.6 110.0h.1M299.1 125.2h.1M293.0 116.8h.1M290.8 160.9h.1M284.2 104.5h.1M294.6 91.2h.1M293.3 100.6h.1M272.0 122.3h.1M294.9 146.2h.1M285.2 56.4h.1M269.9 81.8h.1M278.9 145.9h.1M295.3 102.3h.1M297.9 94.9h.1M286.2 101.4h.1M301.0 91.3h.1M296.3 86.9h.1M270.4 114.4h.1M275.4 94.1h.1M291.3 153.1h.1M277.5 53.0h.1M280.5 125.1h.1M290.7 95.6h.1M284.2 152.3h.1M279.8 88.8h.1M271.9 124.2h.1M310.2 151.1h.1M272.0 125.7h.1M282.7 97.3h.1M299.5 108.0h.1M286.3 117.0h.1M276.9 147.3h.1M274.7 115.7h.1M300.2 127.1h.1M296.0 86.0h.1M265.7 113.9h.1M272.0 142.1h.1M294.4 105.6h.1M305.4 100.8h.1M281.3 103.3h.1M298.0 139.9h.1M269.6 124.6h.1M268.7 121.9h.1M273.4 95.0h.1M292.9 70.3h.1M289.6 137.5h.1M295.3 101.9h.1M267.7 132.6h.1M305.9 124.6h.1M282.8 98.3h.1M316.9 86.1h.1M290.2 134.4h.1M267.2 61.7h.1M286.9 56.7h.1M277.8 149.5h.1M304.5 92.5h.1M289.8 116.5h.1M301.3 137.6h.1M278.3 162.0h.1M278.7 88.0h.1M288.9 107.8h.1M288.1 133.8h.1M276.8 111.8h.1M293.1 93.1h.1M300.3 134.7h.1M283.3 71.4h.1M281.7 135.5h.1M281.7 110.9h.1M293.2 112.0h.1M285.8 95.5h.1M292.1 106.0h.1M299.6 137.0h.1M283.8 117.9h.1M284.1 138.7h.1M283.8 125.8h.1M303.8 102.8h.1M285.9 105.4h.1M287.9 113.1h.1M283.7 101.2h.1M297.2 145.2h.1M291.7 84.4h.1M274.2 152.8h.1M297.7 95.3h.1M291.7 90.7h.1M300.6 111.2h.1M293.0 81.1h.1M286.5 151.5h.1M275.9 150.9h.1M298.2 146.0h.1M301.0 154.0h.1M277.3 141.7h.1M286.4 68.2h.1M292.3 127.9h.1M285.6 94.8h.1M291.4 132.4h.1M282.8 105.2h.1M279.9 101.2h.1M300.7 89.9h.1M268.0 125.7h.1M294.2 138.1h.1M278.2 86.0h.1M287.4 120.8h.1M279.5 122.7h.1M288.8 109.2h.1M280.1 107.2h.1M290.1 140.2h.1M271.1 143.3h.1M275.0 129.5h.1M285.5 128.8h.1M294.0 130.1h.1M277.6 98.1h.1M308.8 110.4h.1M282.7 112.9h.1M295.7 89.9h.1M266.6 130.9h.1M275.8 156.9h.1M275.7 160.5h.1M273.9 106.7h.1M269.3 100.7h.1M282.1 92.8h.1M277.4 128.3h.1M305.1 110.2h.1M286.1 139.7h.1M290.1 85.9h.1M263.5 115.8h.1M303.7 97.7h.1M304.2 118.2h.1M274.5 106.8h.1M275.0 68.0h.1M278.3 131.6h.1M302.8 113.3h.1M272.0 116.0h.1M275.4 110.0h.1M269.1 89.5h.1M290.0 112.8h.1M296.4 130.6h.1M276.0 151.7h.1M299.7 117.2h.1M288.7 99.3h.1M277.5 140.0h.1M293.2 107.2h.1M301.2 106.5h.1M301.3 111.9h.1M292.8 126.7h.1M301.8 83.4h.1M287.0 114.8h.1M290.6 110.9h.1M307.1 101.8h.1M285.8 152.0h.1M278.0 74.8h.1M273.4 111.4h.1M281.2 116.9h.1M266.0 117.1h.1M276.5 147.3h.1M274.1 62.5h.1M285.0 104.2h.1M271.6 91.5h.1M285.7 78.7h.1M286.9 97.9h.1M295.9 121.8h.1M298.7 105.4h.1M304.7 158.0h.1M284.2 76.1h.1M271.6 120.1h.1M295.8 119.4h.1M291.7 115.2h.1M282.2 127.5h.1M296.3 106.6h.1M309.2 124.5h.1M291.4 106.8h.1M282.5 101.2h.1M289.5 91.0h.1M276.9 102.8h.1M309.5 129.8h.1M273.6 101.3h.1M275.7 130.0h.1M298.6 108.5h.1M285.0 112.9h.1M273.4 143.6h.1M297.7 85.6h.1M300.2 111.2h.1M269.0 134.5h.1M294.5 126.7h.1M298.4 122.4h.1M308.0 146.3h.1M292.6 103.1h.1M295.7 116.5h.1M288.5 155.2h.1M295.3 86.5h.1M306.6 126.8h.1M295.3 128.0h.1M280.4 121.6h.1M286.5 124.1h.1M309.3 94.5h.1M273.3 117.8h.1M280.6 111.5h.1M279.9 123.1h.1M302.0 118.1h.1M277.5 157.7h.1M282.6 137.9h.1M286.6 164.2h.1M293.6 138.3h.1M294.2 124.8h.1M274.5 132.2h.1M274.5 145.8h.1M271.2 96.0h.1M300.1 79.9h.1M284.5 81.4h.1M289.3 132.7h.1M287.3 106.9h.1M270.6 108.1h.1M268.8 117.5h.1M274.7 133.4h.1M309.1 105.7h.1M282.9 95.9h.1M292.8 103.3h.1M275.9 132.6h.1M316.3 110.4h.1M288.3 128.8h.1M269.6 138.5h.1M281.8 108.5h.1M290.9 95.6h.1M298.4 86.0h.1M283.3 102.2h.1M294.6 90.3h.1M290.4 119.1h.1M289.6 83.9h.1M282.6 118.3h.1M291.5 104.5h.1M299.6 132.5h.1M287.1 88.6h.1M283.4 116.3h.1M318.3 130.7h.1M294.9 76.8h.1M294.5 122.0h.1M270.9 101.0h.1M299.4 92.3h.1M269.3 78.5h.1M300.5 115.0h.1M290.9 99.6h.1M281.8 104.8h.1M279.5 130.7h.1M289.1 42.6h.1M282.8 134.1h.1M299.1 111.7h.1M270.2 104.0h.1M285.2 110.7h.1M281.8 134.1h.1M270.1 94.0h.1M298.2 42.0h.1M292.3 120.2h.1M254.8 111.3h.1M271.4 109.3h.1M279.3 107.9h.1M275.3 62.0h.1M289.5 120.3h.1M293.3 96.1h.1M298.7 119.8h.1M278.9 101.7h.1M292.9 91.8h.1M284.5 70.3h.1M292.8 145.5h.1M286.4 111.1h.1M286.8 121.2h.1M283.4 149.2h.1M292.8 124.8h.1M288.3 118.7h.1M276.2 58.9h.1M263.8 139.8h.1M298.2 133.7h.1M295.6 86.7h.1M286.2 77.2h.1M300.2 121.9h.1M286.5 108.9h.1M285.7 146.8h.1M282.4 81.9h.1M301.3 111.2h.1M307.3 127.9h.1M284.8 123.4h.1M280.2 83.8h.1M299.0 79.3h.1M297.1 101.9h.1M294.3 162.8h.1M271.2 93.9h.1M290.5 102.1h.1M289.3 133.1h.1M284.0 123.5h.1M292.3 145.0h.1M285.5 96.8h.1M291.7 97.2h.1M287.1 132.1h.1M284.1 107.4h.1M306.2 112.5h.1M286.8 88.9h.1M294.1 94.7h.1M297.7 94.4h.1M276.8 98.1h.1M285.3 96.2h.1M277.7 105.3h.1M285.4 104.6h.1M274.3 137.9h.1M297.0 154.2h.1M287.3 105.0h.1M273.7 149.3h.1M292.5 124.2h.1M276.3 60.3h.1M271.4 119.1h.1M292.0 79.1h.1M287.9 138.4h.1M279.2 100.5h.1M295.2 149.6h.1M292.4 146.0h.1M289.3 101.3h.1M298.6 90.0h.1M290.6 137.9h.1M301.2 92.4h.1M291.2 110.9h.1M291.1 136.0h.1M256.1 110.0h.1M283.5 129.7h.1M308.5 158.2h.1M281.0 121.1h.1M285.9 129.5h.1M282.5 99.5h.1M267.4 50.3h.1M294.0 116.8h.1M308.3 113.6h.1M305.8 125.8h.1M284.8 114.1h.1M277.5 98.9h.1M281.3 99.1h.1M293.0 114.9h.1M283.0 92.3h.1M296.0 81.0h.1M290.5 119.2h.1M273.7 112.5h.1M274.7 126.4h.1M296.7 100.5h.1M296.7 109.9h.1M287.5 91.6h.1M303.6 103.9h.1M286.7 132.8h.1M284.2 153.2h.1M286.9 106.6h.1M293.5 123.6h.1M262.1 96.0h.1M288.9 79.1h.1M289.0 100.0h.1M278.1 107.6h.1M277.9 106.0h.1M301.0 94.5h.1M282.2 117.3h.1M284.0 139.6h.1M297.6 100.6h.1M273.8 122.6h.1M314.6 126.6h.1M279.1 136.5h.1M280.3 128.5h.1M271.4 136.4h.1M280.5 115.0h.1M276.7 83.6h.1M282.2 88.2h.1M275.0 103.0h.1M260.8 90.8h.1M300.2 95.6h.1M295.6 108.8h.1M294.5 112.7h.1M293.2 103.8h.1M293.9 121.4h.1M279.4 158.2h.1M319.1 90.5h.1M280.6 100.7h.1M273.8 86.4h.1M309.8 139.6h.1M282.8 133.7h.1M287.8 82.7h.1M276.1 124.5h.1M284.3 81.1h.1M292.5 122.5h.1M290.8 114.0h.1M273.7 115.0h.1M295.5 72.6h.1M278.6 118.0h.1M269.9 118.0h.1M297.2 144.2h.1M290.8 116.6h.1M284.7 112.6h.1M278.6 97.5h.1M295.6 126.2h.1M284.2 132.7h.1M279.5 131.2h.1M293.4 134.8h.1M290.3 110.1h.1M273.8 81.3h.1M301.0 115.7h.1M268.7 147.7h.1M278.2 142.8h.1M291.2 98.2h.1M286.1 161.9h.1M296.0 146.1h.1M293.5 133.6h.1M261.0 91.3h.1M301.8 130.0h.1M281.6 136.2h.1M287.2 165.4h.1M278.8 104.2h.1M275.2 108.0h.1M294.2 142.1h.1M292.4 141.1h.1M290.0 135.1h.1M280.0 102.7h.1M304.6 99.6h.1M291.4 120.5h.1M293.7 125.5h.1M288.2 135.6h.1M290.5 97.7h.1M300.1 77.8h.1M298.8 140.0h.1M299.5 112.3h.1M288.6 111.3h.1M288.8 136.8h.1M274.5 81.1h.1M285.2 114.0h.1M281.1 106.4h.1M278.2 125.2h.1M287.3 113.5h.1M288.1 130.1h.1M279.5 84.6h.1M268.6 104.5h.1M284.4 94.2h.1M287.3 139.5h.1M290.7 144.1h.1M277.5 116.5h.1M272.8 130.8h.1M266.9 109.6h.1M287.0 99.8h.1M280.7 146.5h.1M293.7 112.4h.1M271.4 146.3h.1M285.0 87.6h.1M284.8 128.4h.1M288.7 107.3h.1M294.8 124.1h.1M295.9 61.0h.1M266.8 128.9h.1M280.8 94.9h.1M292.0 121.7h.1M293.5 125.1h.1M289.5 134.3h.1M277.3 115.3h.1M291.7 122.3h.1M285.1 108.2h.1M287.1 79.7h.1M300.5 100.7h.1M285.9 103.4h.1M292.1 107.2h.1M303.1 118.5h.1M298.1 120.3h.1M273.3 139.7h.1M275.4 161.0h.1M265.1 90.9h.1M298.7 118.5h.1M285.2 125.1h.1M281.1 109.3h.1M286.2 130.8h.1M274.2 62.6h.1M293.3 130.6h.1M277.3 110.1h.1M297.0 71.1h.1M290.0 108.9h.1M286.4 159.9h.1M293.2 112.5h.1M284.4 163.0h.1M300.3 122.0h.1M305.5 108.1h.1M293.2 131.4h.1M302.5 149.2h.1M269.8 157.3h.1M288.7 123.4h.1M287.0 95.1h.1M282.0 151.1h.1M293.1 72.9h.1M308.3 110.2h.1M292.9 117.0h.1M299.6 127.3h.1M302.4 101.5h.1M301.9 119.1h.1M288.2 136.8h.1M280.7 116.6h.1M299.9 95.9h.1M297.0 133.9h.1M282.5 119.5h.1M305.2 92.6h.1M278.4 98.8h.1M274.1 159.5h.1M286.8 111.5h.1M273.1 128.2h.1M285.8 104.3h.1M286.8 112.0h.1M281.2 114.5h.1M288.2 103.8h.1M273.8 133.5h.1M262.8 140.5h.1M296.4 134.8h.1M297.6 106.2h.1M296.8 100.8h.1M283.0 68.7h.1M292.4 140.9h.1M283.9 108.3h.1M300.4 87.1h.1M274.7 88.6h.1M290.6 134.3h.1M282.4 108.9h.1M295.2 133.3h.1M288.3 119.9h.1M268.2 137.6h.1M284.0 121.6h.1M276.9 48.5h.1M292.5 147.4h.1M296.8 85.3h.1M274.5 151.0h.1M292.1 118.9h.1M276.5 97.3h.1M282.0 103.4h.1M289.2 96.2h.1M300.7 124.2h.1M292.6 127.6h.1M294.5 84.3h.1M282.3 72.2h.1M285.9 145.7h.1M294.2 124.5h.1M289.3 84.3h.1M289.3 139.3h.1M291.9 143.5h.1M305.5 126.8h.1M302.4 127.7h.1M303.0 102.9h.1M291.8 46.3h.1M279.2 132.5h.1M274.9 96.6h.1M289.2 162.6h.1M276.9 105.7h.1M266.6 128.9h.1M284.3 97.4h.1M311.8 81.1h.1M287.8 103.0h.1M289.3 165.4h.1M287.0 115.9h.1M289.4 68.6h.1M273.3 140.0h.1M290.6 143.5h.1M296.3 96.0h.1M290.6 117.9h.1M290.9 115.2h.1M288.1 96.9h.1M295.6 117.4h.1M275.4 77.6h.1M266.3 123.8h.1M282.4 139.0h.1M287.5 94.9h.1M294.4 131.1h.1M279.7 133.5h.1M289.6 128.7h.1M287.3 149.7h.1M295.6 115.1h.1M282.7 97.0h.1M294.5 133.9h.1M295.8 127.6h.1M284.7 63.7h.1M286.1 116.7h.1M282.7 96.9h.1M280.0 106.0h.1M280.8 117.2h.1M276.0 151.5h.1M295.5 124.8h.1M292.1 98.8h.1M286.3 101.4h.1M288.8 119.9h.1M288.1 124.5h.1M297.1 92.2h.1M284.1 101.4h.1M295.1 138.0h.1M269.9 106.5h.1M282.3 119.2h.1M279.3 76.2h.1M291.1 75.8h.1M281.7 131.2h.1M279.1 90.6h.1M279.7 133.1h.1M272.1 103.4h.1M273.3 122.3h.1M276.9 143.3h.1" stroke="#666" stroke-width="1.3" stroke-linecap="round" fill="none"/>
<path d="M258.7 157.0h.1M258.8 149.3h.1M272.2 144.3h.1M264.4 150.2h.1M263.2 138.8h.1M270.5 146.1h.1M257.4 149.8h.1M264.0 129.2h.1M255.0 161.5h.1M268.8 159.4h.1M265.5 157.9h.1M254.0 157.1h.1M266.5 144.4h.1M264.0 134.4h.1M272.3 161.1h.1M258.5 147.2h.1M266.4 162.2h.1M261.8 157.8h.1M263.6 141.9h.1M261.8 149.3h.1M267.6 137.2h.1M255.7 150.6h.1M262.1 148.1h.1M266.6 159.6h.1M271.6 153.3h.1M265.5 146.9h.1M272.1 151.5h.1M273.0 149.1h.1M263.3 144.8h.1M277.9 153.0h.1M274.8 137.0h.1M262.2 140.3h.1M263.3 153.0h.1M260.9 161.2h.1M263.4 156.2h.1M266.6 146.9h.1M266.1 163.3h.1M261.4 153.9h.1M272.6 156.1h.1M270.4 150.1h.1M268.8 136.0h.1M261.9 165.1h.1M262.1 161.7h.1M264.5 143.8h.1M258.9 137.5h.1M275.6 150.1h.1M253.8 121.5h.1M275.6 157.8h.1M257.4 135.2h.1M264.7 163.0h.1M259.9 127.0h.1M257.6 154.1h.1M257.1 150.0h.1M255.5 157.3h.1M261.6 135.9h.1M271.2 133.4h.1M262.4 160.7h.1M277.6 126.9h.1M262.5 148.9h.1M259.3 155.2h.1M264.1 158.8h.1M275.6 154.2h.1M264.1 164.3h.1M271.1 148.3h.1M260.7 148.5h.1M267.7 141.5h.1M263.0 152.4h.1M263.2 158.5h.1M262.4 149.0h.1M269.3 136.1h.1M253.3 120.7h.1M255.3 149.2h.1M260.8 141.1h.1M253.5 154.5h.1M257.5 136.9h.1M255.7 158.9h.1M263.1 147.4h.1M252.3 142.8h.1M261.9 153.7h.1M259.4 144.5h.1M271.0 149.6h.1M252.8 141.3h.1M252.5 155.5h.1M253.0 130.1h.1M256.0 148.8h.1M257.5 156.7h.1M267.8 160.3h.1M258.1 156.5h.1M262.2 165.4h.1M262.7 153.0h.1M253.9 143.9h.1M257.9 126.1h.1M263.4 124.2h.1M272.9 127.7h.1M258.9 149.6h.1M258.4 129.7h.1M268.5 132.5h.1M264.1 158.1h.1M263.5 128.7h.1M276.0 150.6h.1M258.5 160.1h.1M268.7 163.7h.1M276.6 152.6h.1M260.5 133.3h.1M279.3 138.1h.1M273.8 144.8h.1M265.3 160.1h.1M246.6 158.8h.1M265.6 145.7h.1M262.7 162.2h.1M253.8 139.3h.1M268.7 156.8h.1M260.1 157.0h.1M257.8 148.1h.1M278.9 143.2h.1M274.5 140.4h.1M276.1 139.3h.1M255.0 133.3h.1M276.7 147.2h.1M256.8 147.7h.1M256.8 140.2h.1M266.3 163.2h.1M261.6 151.4h.1M275.8 156.9h.1M261.5 133.5h.1M268.4 146.1h.1M258.8 162.6h.1M262.1 155.6h.1M261.0 163.8h.1M265.1 158.9h.1M263.0 153.9h.1M269.9 155.1h.1M262.1 156.0h.1M266.0 145.5h.1M283.2 152.4h.1M264.9 150.1h.1M268.3 156.0h.1M272.1 157.6h.1M269.4 156.3h.1M263.9 151.8h.1M262.8 146.7h.1M261.4 160.2h.1M264.1 133.4h.1M253.6 163.4h.1M256.2 148.2h.1M273.9 146.4h.1M271.1 148.9h.1M262.5 144.3h.1M266.3 162.1h.1M258.4 137.9h.1M250.7 126.2h.1M262.3 151.0h.1M260.6 144.8h.1M259.8 141.6h.1M254.5 142.1h.1M268.1 143.5h.1M269.4 147.3h.1M267.7 123.7h.1M271.4 160.2h.1M258.4 146.9h.1" stroke="#444" stroke-width="1.3" stroke-linecap="round" fill="none"/>
<path d="M284.3 157.4h.1M284.8 150.9h.1M295.0 130.7h.1M290.3 149.3h.1M307.5 140.5h.1M268.3 131.8h.1M295.0 150.5h.1M296.3 146.3h.1M261.6 146.2h.1M292.6 142.9h.1M286.5 147.0h.1M286.3 134.1h.1M287.4 134.1h.1M291.0 131.1h.1M284.0 146.2h.1M281.0 142.0h.1M296.1 147.0h.1M287.5 133.8h.1M295.0 134.3h.1M311.4 137.0h.1M275.2 137.3h.1M279.4 134.8h.1M281.0 151.6h.1M286.5 139.1h.1M302.4 110.7h.1M291.4 131.0h.1M297.2 139.7h.1M304.4 138.8h.1M269.5 137.8h.1M284.2 135.0h.1M281.2 152.6h.1M291.1 129.1h.1M278.1 144.9h.1M302.0 146.7h.1M282.8 147.1h.1M280.4 159.5h.1M277.9 128.4h.1M275.5 130.8h.1M286.9 141.2h.1M282.0 142.8h.1M290.1 143.2h.1M282.9 130.6h.1M291.4 133.6h.1M289.1 153.3h.1M297.1 144.3h.1M293.8 144.2h.1M282.4 146.0h.1M298.4 155.7h.1M282.1 136.0h.1M279.1 140.7h.1M295.1 121.5h.1M275.9 134.0h.1M281.1 140.7h.1M273.5 143.9h.1M273.7 130.2h.1M289.8 123.7h.1M278.8 128.9h.1M302.2 116.2h.1M300.1 126.6h.1M290.3 135.9h.1M281.1 142.1h.1M286.9 152.1h.1M284.8 138.9h.1M297.2 129.5h.1M270.0 139.3h.1M285.6 133.5h.1M287.8 147.8h.1M290.7 148.0h.1M293.3 120.5h.1M283.5 134.4h.1M292.6 158.1h.1M276.4 149.4h.1M297.1 135.1h.1M290.4 106.0h.1M285.9 144.1h.1M297.0 141.0h.1M280.6 135.6h.1M271.8 145.3h.1M291.5 139.9h.1M287.8 142.9h.1M284.0 134.5h.1M280.9 135.3h.1M291.1 140.9h.1M294.9 133.7h.1M278.8 124.9h.1M274.4 124.3h.1M293.1 139.7h.1M277.3 128.4h.1M298.4 128.0h.1M299.7 129.9h.1M281.8 143.6h.1M307.8 115.4h.1M284.7 111.7h.1M286.2 138.6h.1M286.1 134.4h.1M291.0 151.6h.1M294.5 133.4h.1M290.2 121.7h.1M280.8 139.2h.1M284.1 139.6h.1M273.2 139.9h.1M277.9 140.0h.1M288.6 158.3h.1M287.1 132.8h.1M281.9 140.4h.1M289.1 135.9h.1M280.3 119.0h.1M286.7 124.1h.1M287.5 127.1h.1M295.9 133.0h.1M296.2 124.0h.1M278.0 150.4h.1M283.5 135.2h.1M271.2 126.3h.1M304.9 128.7h.1M268.0 136.6h.1M286.3 129.7h.1M273.0 125.2h.1M287.4 123.6h.1M288.9 135.7h.1M292.4 153.5h.1M281.4 108.1h.1M293.2 132.0h.1M280.7 136.2h.1M278.4 127.6h.1M279.7 158.1h.1M280.0 137.5h.1M301.9 118.6h.1M294.9 138.4h.1M292.5 123.8h.1M268.8 143.7h.1M286.1 135.8h.1M292.6 147.6h.1M271.1 126.1h.1M295.6 139.5h.1M277.2 152.1h.1M286.7 133.1h.1M289.1 125.4h.1M285.8 132.1h.1M286.7 137.9h.1M291.1 131.9h.1M297.3 140.2h.1M300.6 147.1h.1M299.1 127.2h.1M288.1 120.0h.1M268.9 126.5h.1M276.9 119.4h.1M282.6 127.8h.1M292.6 132.9h.1M297.5 118.3h.1M283.5 135.8h.1M280.9 134.7h.1M287.8 119.2h.1M288.8 130.8h.1M293.1 118.5h.1M293.8 140.9h.1M285.0 131.9h.1M264.7 139.4h.1M283.2 148.6h.1M260.3 141.3h.1M285.4 134.5h.1M311.1 137.6h.1M298.0 129.8h.1M290.2 134.1h.1M307.0 151.9h.1M277.6 128.7h.1M290.6 133.3h.1M291.8 136.7h.1M280.8 138.0h.1M281.8 141.7h.1M293.2 122.9h.1M289.3 129.3h.1M281.9 133.4h.1M285.9 137.2h.1M293.0 140.6h.1M285.2 138.4h.1M280.4 135.0h.1M290.5 125.2h.1M285.9 122.9h.1M288.2 122.6h.1M276.4 142.5h.1M286.6 149.8h.1M283.7 125.9h.1M274.0 120.5h.1M300.8 130.6h.1M288.3 136.4h.1M289.3 128.8h.1M294.8 131.9h.1M299.6 140.7h.1M296.2 137.7h.1M280.9 129.7h.1M289.1 121.4h.1M281.7 132.7h.1M285.0 144.7h.1M290.6 117.5h.1M297.8 149.2h.1M277.5 135.9h.1M294.0 149.0h.1M290.5 127.7h.1M277.8 126.3h.1M313.2 120.9h.1M286.1 136.5h.1M297.9 135.4h.1M286.6 132.1h.1M290.5 135.0h.1M295.1 138.6h.1M287.6 126.4h.1M287.3 143.3h.1M298.4 118.6h.1M297.1 129.5h.1M309.4 137.6h.1M289.9 131.6h.1M271.2 135.8h.1M274.3 118.7h.1M292.0 131.1h.1M278.2 133.6h.1M274.3 120.2h.1M297.6 139.7h.1M272.5 121.8h.1M272.5 125.9h.1M288.7 121.2h.1M298.0 135.9h.1M294.5 126.3h.1M276.8 139.8h.1M294.0 142.2h.1M278.0 130.5h.1M289.9 139.3h.1M259.4 151.3h.1M275.7 117.6h.1M290.4 117.0h.1M285.7 151.4h.1M290.7 125.3h.1M252.0 162.3h.1M299.7 142.6h.1M295.0 111.4h.1M306.0 142.8h.1M282.1 132.8h.1M295.6 135.2h.1M292.6 142.5h.1M285.3 128.3h.1M291.8 131.1h.1M288.0 135.7h.1M293.4 117.3h.1M285.5 131.4h.1M287.9 136.8h.1M280.3 134.6h.1M283.4 135.7h.1M289.1 134.3h.1M290.0 115.0h.1M290.7 125.6h.1M295.3 115.1h.1M280.5 137.5h.1M280.3 143.9h.1M272.1 136.0h.1M298.9 114.4h.1M304.8 130.7h.1M290.6 142.4h.1M293.0 139.2h.1M280.3 142.0h.1M288.4 142.7h.1M300.1 124.0h.1M290.1 137.0h.1M274.4 137.7h.1M290.0 124.6h.1M287.3 128.9h.1M295.3 133.5h.1M302.3 153.9h.1M287.8 145.1h.1M291.9 135.0h.1M296.3 135.4h.1M279.5 119.0h.1M285.4 135.2h.1M272.3 144.7h.1M289.7 130.8h.1M294.0 140.2h.1M290.6 148.5h.1M291.5 131.9h.1M280.6 119.7h.1M279.9 133.9h.1M299.1 133.4h.1M293.5 161.6h.1M284.2 134.0h.1M292.9 133.8h.1M280.6 144.9h.1M278.5 127.6h.1M290.6 131.6h.1M286.7 133.4h.1M290.2 133.1h.1M309.0 138.6h.1M291.3 136.5h.1M289.0 111.8h.1M306.1 145.9h.1M280.3 130.4h.1M286.2 141.8h.1M283.1 135.7h.1M286.7 140.9h.1M308.2 148.0h.1M269.9 133.0h.1M299.0 130.6h.1M275.5 138.8h.1M273.0 134.0h.1M286.1 152.6h.1M286.6 132.8h.1M284.7 129.2h.1M277.4 154.7h.1M293.5 128.3h.1M275.8 142.8h.1M293.2 129.2h.1M313.2 141.7h.1M275.6 150.9h.1M289.9 148.9h.1M288.6 131.3h.1M273.6 140.8h.1M287.7 147.2h.1M296.5 136.6h.1M296.1 153.8h.1M293.8 150.9h.1M282.3 152.4h.1M286.5 135.8h.1M279.6 139.5h.1M298.3 123.5h.1M280.9 126.8h.1M277.8 141.3h.1M282.3 128.5h.1M303.1 136.0h.1M273.0 125.0h.1M295.8 128.6h.1M294.6 123.5h.1M282.7 138.6h.1M289.6 128.3h.1M274.1 137.0h.1M291.2 141.5h.1M291.9 132.1h.1M280.7 135.8h.1M289.3 158.5h.1M288.0 141.1h.1M293.0 151.5h.1M294.1 150.6h.1M297.6 144.4h.1M286.8 141.0h.1M293.1 119.6h.1M295.9 140.6h.1M303.0 125.8h.1M288.8 122.4h.1M283.5 135.0h.1M281.8 147.1h.1M286.9 141.6h.1M272.1 143.0h.1M278.0 143.5h.1M294.0 143.5h.1" stroke="#333" stroke-width="1.3" stroke-linecap="round" fill="none"/>
<path d="M221.7 153.7h.1M232.7 148.8h.1M233.0 161.9h.1M234.1 126.6h.1M210.4 141.2h.1M217.4 158.9h.1M232.1 146.0h.1M232.5 156.0h.1M226.9 165.0h.1M243.5 157.5h.1M225.9 135.9h.1M239.3 147.7h.1M241.0 139.0h.1M232.2 154.4h.1M225.7 159.8h.1M236.9 147.6h.1M233.4 154.8h.1M235.5 148.0h.1M233.6 151.2h.1M247.1 152.1h.1M224.7 155.3h.1M229.7 160.0h.1M225.2 156.6h.1M238.6 149.7h.1M247.2 154.8h.1M234.2 155.6h.1M225.4 146.4h.1M231.4 144.5h.1M241.6 147.7h.1M232.5 154.4h.1M236.1 145.7h.1M242.5 139.7h.1M230.1 146.8h.1M237.0 145.3h.1M245.8 155.7h.1M234.9 145.1h.1M220.7 146.1h.1M252.5 154.2h.1M224.3 141.2h.1M233.6 161.4h.1M233.3 146.5h.1M238.7 142.3h.1M223.3 156.2h.1M227.9 136.6h.1M251.5 149.4h.1M236.4 155.3h.1M220.8 157.1h.1M237.6 145.0h.1M228.9 145.3h.1M246.5 149.2h.1M209.0 161.5h.1M229.4 133.0h.1M239.9 157.8h.1M213.1 152.9h.1M219.3 163.0h.1M233.9 139.4h.1M228.6 161.0h.1M224.6 141.8h.1M231.9 152.9h.1M211.7 146.3h.1M218.2 126.7h.1M248.8 149.5h.1M220.5 153.8h.1M233.4 158.2h.1M227.6 144.1h.1M238.4 139.0h.1M232.1 156.8h.1M233.0 146.7h.1M242.1 160.0h.1M232.1 163.6h.1M220.4 148.5h.1M245.2 143.2h.1M240.8 130.8h.1M225.5 150.0h.1M209.3 157.0h.1M219.7 160.2h.1M253.0 149.9h.1M242.7 145.1h.1M209.1 149.9h.1M212.1 144.9h.1M221.2 145.9h.1M212.1 147.5h.1M229.5 143.6h.1M215.2 146.1h.1M233.8 152.8h.1M225.6 151.2h.1M221.6 140.2h.1M235.9 154.9h.1M233.5 142.4h.1M229.7 154.5h.1M223.9 150.8h.1M227.6 131.9h.1M220.2 144.0h.1M229.8 143.9h.1M249.1 146.0h.1M232.9 151.2h.1M216.5 155.6h.1M222.4 147.3h.1M227.7 144.7h.1M227.1 145.7h.1M227.7 148.4h.1M231.4 151.7h.1M240.5 164.1h.1M214.5 146.9h.1M238.2 148.6h.1M216.2 156.2h.1M232.7 149.0h.1M229.3 158.4h.1M248.1 140.1h.1M227.0 158.3h.1M227.0 129.4h.1M224.9 155.2h.1M238.4 156.5h.1M225.0 141.5h.1M238.1 156.8h.1M253.1 156.4h.1M247.4 141.2h.1M246.0 152.6h.1M221.9 142.1h.1M227.1 139.0h.1M230.1 135.7h.1M248.6 140.1h.1M211.2 130.3h.1M233.0 152.9h.1M213.7 133.7h.1M229.7 156.7h.1M238.0 152.4h.1M234.4 142.2h.1M218.1 134.9h.1M220.6 141.4h.1M239.2 137.1h.1M227.5 146.4h.1M229.7 146.5h.1M231.3 144.4h.1M243.2 155.4h.1M249.4 159.9h.1M236.4 162.9h.1M219.6 140.6h.1M239.7 157.8h.1M250.4 122.3h.1M220.8 147.9h.1M219.8 158.3h.1M226.5 156.9h.1M223.5 136.4h.1M212.9 142.8h.1M220.9 136.7h.1M233.4 152.6h.1M222.1 142.6h.1M230.4 155.8h.1M244.4 148.9h.1M263.6 146.7h.1M216.8 161.3h.1M240.0 137.2h.1M228.3 163.4h.1M232.3 157.4h.1M239.7 162.9h.1M237.4 154.4h.1M212.8 132.5h.1M214.8 146.3h.1M231.4 126.4h.1M236.6 136.4h.1M253.1 143.2h.1M235.4 162.3h.1M224.0 150.4h.1M222.5 152.1h.1M219.9 157.1h.1M213.0 141.2h.1M212.9 160.7h.1M221.7 152.1h.1M229.4 140.6h.1M219.2 144.4h.1M228.4 147.6h.1M224.9 155.9h.1M225.5 163.8h.1M223.1 146.9h.1M231.6 147.8h.1M229.4 151.8h.1M221.0 146.4h.1M230.2 156.6h.1M220.0 152.9h.1M229.6 142.2h.1M217.9 163.2h.1M232.3 141.7h.1M211.1 142.2h.1M220.0 145.0h.1M236.4 137.6h.1M233.0 157.9h.1M229.8 135.9h.1M214.8 156.5h.1M220.2 153.8h.1M230.1 157.2h.1M231.7 135.4h.1M228.0 151.4h.1M218.4 152.6h.1M225.5 158.6h.1M222.3 153.6h.1M214.5 144.2h.1M215.2 161.1h.1M218.6 163.5h.1M210.5 163.2h.1M233.7 142.6h.1M237.2 155.1h.1M238.5 141.0h.1M219.0 148.3h.1M219.3 157.3h.1M231.0 135.9h.1M224.4 162.0h.1M224.4 142.4h.1M209.2 144.4h.1M243.0 149.2h.1M211.2 148.6h.1M209.6 138.1h.1M237.5 148.6h.1M215.2 134.8h.1M240.6 143.9h.1M232.2 149.3h.1M223.6 146.1h.1M211.5 165.4h.1M214.1 153.1h.1M229.2 156.1h.1M226.8 144.3h.1M213.9 160.8h.1M214.7 146.7h.1M217.9 158.6h.1M227.3 156.3h.1M238.6 159.8h.1M223.7 149.8h.1M244.8 139.5h.1M236.4 147.0h.1M245.3 143.1h.1M217.8 165.1h.1M234.8 145.6h.1M240.7 127.3h.1M238.8 158.0h.1M232.8 140.9h.1M238.7 157.0h.1M230.0 136.9h.1M241.4 152.4h.1M223.1 148.4h.1M221.9 153.0h.1M236.4 154.1h.1M236.5 143.3h.1M212.3 157.9h.1M242.0 145.0h.1M241.7 151.1h.1M240.0 164.0h.1M219.5 140.8h.1M242.7 150.7h.1M238.8 162.4h.1M227.4 143.2h.1M223.0 143.8h.1M219.8 155.4h.1M220.9 143.5h.1M238.5 150.7h.1M219.0 136.4h.1M220.9 156.2h.1M231.8 134.0h.1M225.0 151.3h.1M220.4 143.3h.1M223.8 134.4h.1M246.7 137.3h.1M235.8 130.9h.1M215.2 130.8h.1M222.7 137.1h.1M230.6 153.2h.1M218.9 150.4h.1M233.1 160.2h.1M211.7 163.0h.1M231.8 154.4h.1M241.9 149.3h.1M227.7 148.1h.1M231.0 159.4h.1M233.2 156.0h.1M229.2 156.2h.1M227.2 133.2h.1M231.3 142.3h.1M229.3 143.1h.1M229.1 144.5h.1M246.3 139.4h.1M239.9 156.7h.1M238.7 160.5h.1M222.4 144.7h.1M240.3 148.9h.1M215.8 150.9h.1M239.8 149.9h.1M212.4 141.6h.1M252.7 157.9h.1M242.4 129.8h.1M221.6 145.1h.1M222.6 130.9h.1M227.4 136.1h.1M241.8 138.4h.1M235.1 149.8h.1M225.0 139.5h.1M251.8 152.4h.1M234.4 146.1h.1M224.6 137.8h.1M234.8 141.8h.1M258.4 155.7h.1M233.2 151.1h.1M230.5 147.0h.1M250.2 159.4h.1M241.8 153.4h.1M222.0 163.2h.1M232.1 136.4h.1M210.9 152.5h.1M235.4 147.7h.1M217.8 154.0h.1M221.8 140.6h.1M221.4 158.1h.1M219.7 136.6h.1M247.7 158.8h.1M245.1 155.5h.1M224.7 131.9h.1M229.1 154.0h.1M247.6 130.6h.1M224.7 155.6h.1M222.8 133.9h.1M218.2 149.3h.1M246.1 147.3h.1M229.9 133.7h.1M228.1 131.4h.1M223.1 155.0h.1M217.4 145.2h.1M239.1 160.9h.1M219.0 149.5h.1M222.0 153.5h.1M222.3 150.9h.1M210.4 155.4h.1M220.8 142.5h.1M226.3 143.6h.1M234.7 148.1h.1M224.7 138.5h.1M212.3 155.2h.1M224.7 141.7h.1M233.0 150.9h.1M227.8 161.5h.1M228.4 163.1h.1M235.4 161.9h.1M212.1 156.8h.1M221.0 155.7h.1M232.3 153.2h.1M228.2 149.9h.1M224.6 149.5h.1M228.1 149.1h.1M209.0 121.8h.1M211.1 151.9h.1M226.3 144.1h.1M239.2 165.5h.1M242.0 144.1h.1M227.9 149.7h.1M246.3 159.8h.1M231.9 153.5h.1M228.6 151.5h.1M240.4 160.3h.1M213.7 137.4h.1M214.0 155.1h.1M244.1 121.7h.1M238.2 141.5h.1M230.0 149.9h.1M225.8 150.6h.1M232.3 135.7h.1M217.7 164.5h.1M236.7 154.8h.1M216.5 150.8h.1M243.4 161.4h.1M223.8 147.0h.1M217.0 149.8h.1M224.4 161.0h.1M217.0 155.4h.1M226.2 160.7h.1M228.6 136.8h.1M232.2 137.3h.1M223.2 156.1h.1M241.8 148.0h.1M225.2 151.5h.1M222.1 149.6h.1M227.6 140.5h.1M224.6 154.2h.1M243.8 164.3h.1M227.7 142.8h.1M228.2 142.8h.1M225.8 159.3h.1M238.0 140.3h.1M220.7 150.0h.1M225.1 140.3h.1M237.7 145.9h.1M213.9 132.7h.1M222.4 149.7h.1M238.7 140.8h.1M248.6 142.3h.1M226.8 131.5h.1M226.5 151.6h.1M210.5 147.6h.1M219.6 149.7h.1M218.4 139.9h.1M222.9 135.6h.1M238.3 142.3h.1M235.5 146.0h.1M242.4 154.3h.1M226.0 154.0h.1M243.3 164.1h.1M217.5 160.4h.1M212.5 146.9h.1M231.7 133.4h.1M227.8 149.2h.1M235.1 151.9h.1M227.6 161.1h.1M242.2 152.5h.1M230.7 147.8h.1M223.3 157.7h.1M236.0 141.9h.1M219.9 141.0h.1M238.9 148.0h.1M241.2 153.1h.1M238.8 157.9h.1M212.8 119.5h.1M232.9 162.2h.1M237.9 164.5h.1M209.5 159.5h.1M220.7 149.7h.1M226.8 156.5h.1M244.1 163.8h.1M220.8 141.2h.1M238.2 157.6h.1M229.5 156.0h.1M250.4 149.5h.1M208.9 143.9h.1M224.5 141.1h.1M230.8 150.4h.1M242.6 144.6h.1M235.5 164.3h.1M224.5 134.2h.1M212.9 137.7h.1M228.2 153.9h.1M226.4 158.3h.1M243.4 138.9h.1M238.7 163.8h.1M211.4 131.6h.1M222.9 141.9h.1M231.0 146.0h.1M221.7 150.1h.1M241.8 144.3h.1M236.5 153.1h.1M231.9 151.4h.1M229.7 143.0h.1M225.4 152.7h.1M234.5 138.3h.1M234.7 143.8h.1M257.0 144.9h.1M230.5 157.1h.1M219.2 145.7h.1M222.0 155.4h.1M236.3 162.1h.1M235.0 133.7h.1M234.2 150.0h.1M231.0 139.1h.1M222.6 157.0h.1M228.7 153.1h.1M213.6 150.5h.1M236.6 145.2h.1M233.4 140.9h.1M230.0 133.6h.1M217.8 160.2h.1M224.8 148.5h.1M221.1 150.9h.1M231.5 153.7h.1M224.5 158.4h.1M238.8 148.7h.1M242.8 157.1h.1M215.9 134.2h.1M224.0 146.6h.1M215.0 143.4h.1M242.6 144.3h.1M217.9 162.1h.1M243.8 151.6h.1M222.0 151.2h.1M240.0 151.3h.1M221.6 148.3h.1M225.3 148.3h.1M229.4 144.1h.1M229.0 145.2h.1M226.2 146.2h.1M235.8 148.7h.1M242.0 131.9h.1M238.1 151.2h.1M222.3 150.1h.1M229.3 139.4h.1M235.9 158.5h.1M235.3 143.3h.1M213.7 155.3h.1M234.8 143.8h.1M220.2 138.6h.1M242.8 136.0h.1M219.0 144.4h.1M218.2 145.8h.1M220.3 138.3h.1M230.8 164.6h.1M215.8 150.7h.1M254.5 141.7h.1M223.6 165.3h.1M248.6 158.7h.1M224.6 143.0h.1M224.2 140.3h.1M219.6 148.6h.1M219.0 157.7h.1M233.1 136.6h.1M242.1 161.9h.1M229.2 146.7h.1M217.5 158.8h.1M230.5 149.1h.1M218.7 155.3h.1M229.4 163.3h.1M228.6 137.9h.1M223.3 153.6h.1M224.9 157.3h.1M246.2 150.8h.1M239.2 159.3h.1M245.8 134.6h.1M230.5 150.1h.1M230.6 160.4h.1M248.7 150.7h.1M220.6 139.7h.1M231.9 152.2h.1M229.5 152.5h.1M231.4 140.8h.1M235.0 163.7h.1M229.4 145.3h.1M237.5 140.5h.1M218.0 151.7h.1M233.8 144.2h.1M215.7 148.7h.1M240.6 152.9h.1M239.5 146.5h.1M225.5 156.5h.1M222.0 153.5h.1M227.6 162.6h.1M234.4 140.8h.1M210.2 151.3h.1M216.1 153.2h.1M238.9 153.5h.1M225.4 129.9h.1M212.8 140.1h.1M222.7 156.3h.1M229.3 152.5h.1M226.9 162.7h.1M249.3 147.2h.1M213.1 143.1h.1M235.2 165.4h.1M213.8 156.7h.1M215.7 149.1h.1M225.3 143.6h.1M249.0 148.0h.1M227.1 142.7h.1M218.9 163.2h.1M254.7 136.2h.1M218.4 149.2h.1M223.3 156.9h.1M225.2 147.9h.1M218.5 145.6h.1M234.7 155.0h.1M241.5 138.7h.1M212.5 148.6h.1M221.9 157.8h.1M223.2 139.9h.1M211.2 164.4h.1M212.2 148.6h.1M223.2 150.0h.1M217.0 146.0h.1M231.1 156.4h.1M237.0 146.0h.1M229.6 152.9h.1M230.8 163.1h.1M216.7 163.0h.1M220.4 135.7h.1M232.0 164.0h.1M234.1 145.9h.1M226.4 153.7h.1M233.7 151.7h.1M224.5 153.5h.1M213.8 144.8h.1M231.0 156.5h.1M222.5 160.7h.1M237.1 150.5h.1M231.8 158.7h.1M235.8 161.3h.1M221.9 154.0h.1M244.6 153.3h.1M232.9 155.4h.1M238.7 147.4h.1M219.8 154.0h.1M223.8 148.0h.1M242.2 147.3h.1M227.1 127.5h.1M227.7 133.0h.1M244.6 154.3h.1M240.8 158.0h.1M230.0 155.0h.1M249.5 151.7h.1M210.2 147.7h.1M226.6 156.2h.1M221.0 146.7h.1M244.5 150.6h.1M245.7 165.4h.1M221.9 137.0h.1M229.1 144.7h.1M238.3 148.2h.1M233.5 131.7h.1M230.5 138.9h.1M239.0 161.0h.1M249.9 155.6h.1M228.9 149.2h.1M214.8 163.4h.1M226.3 140.8h.1M223.2 149.9h.1M235.6 144.6h.1M236.0 161.2h.1M238.0 155.7h.1M233.0 152.5h.1M230.6 149.3h.1M215.8 132.7h.1M223.6 130.0h.1M217.7 150.5h.1M231.2 159.9h.1M226.2 142.7h.1M227.1 151.3h.1M233.6 135.0h.1M224.2 135.7h.1M239.8 149.9h.1M239.6 157.3h.1M216.7 157.7h.1M242.6 162.2h.1M223.7 142.6h.1M219.3 148.8h.1M224.0 158.1h.1M213.0 140.3h.1M231.5 147.4h.1M241.4 150.3h.1M210.2 150.2h.1M232.4 159.0h.1M234.2 154.5h.1M235.1 146.0h.1M234.9 127.5h.1M232.5 158.1h.1M222.2 160.1h.1M237.8 155.4h.1M231.4 153.8h.1M236.7 154.7h.1M231.1 162.2h.1M224.6 145.3h.1M227.0 149.7h.1M234.5 140.5h.1M239.4 148.1h.1M213.0 142.2h.1M208.9 130.7h.1M221.5 149.3h.1M219.9 160.2h.1M229.8 120.7h.1M224.1 162.8h.1M242.7 149.9h.1M220.5 143.5h.1M219.4 153.2h.1M218.1 147.7h.1M224.1 149.4h.1M229.4 164.2h.1M222.0 151.8h.1M217.0 153.8h.1M211.9 147.5h.1M229.6 148.4h.1M221.2 141.2h.1M216.3 148.9h.1M224.4 142.5h.1M231.3 161.4h.1M250.9 147.8h.1M246.0 157.4h.1M217.3 162.8h.1M222.3 160.1h.1M237.8 164.1h.1M225.7 125.2h.1M210.7 141.2h.1M219.7 149.3h.1M221.7 143.1h.1M219.9 129.3h.1M244.1 135.3h.1M222.2 133.2h.1M230.2 156.3h.1M232.9 161.4h.1M229.5 152.5h.1M213.0 149.6h.1M220.8 146.1h.1M236.2 161.9h.1M263.0 156.3h.1M239.0 153.3h.1M224.0 160.8h.1M237.4 158.5h.1M241.1 144.4h.1M214.8 127.3h.1M238.2 160.9h.1M212.8 154.3h.1M229.1 142.8h.1M211.5 146.1h.1M243.8 153.3h.1M228.2 153.9h.1M233.1 134.6h.1M245.8 158.9h.1M233.4 143.7h.1M242.5 154.7h.1M244.0 140.0h.1M215.6 153.7h.1M252.6 155.5h.1M241.2 135.6h.1M229.4 153.2h.1M237.1 141.3h.1M231.4 162.3h.1M230.4 153.7h.1M216.4 150.6h.1M224.0 158.3h.1M240.2 146.3h.1M233.3 158.7h.1" stroke="#222" stroke-width="1.3" stroke-linecap="round" fill="none"/>
<path d="M251.7 160.4h.1M247.7 156.2h.1M233.5 134.7h.1M232.3 145.5h.1M233.2 132.3h.1M225.8 141.9h.1M232.7 144.4h.1M238.1 147.8h.1M232.2 136.4h.1M245.9 142.7h.1M239.7 135.6h.1M236.1 145.9h.1M253.5 148.2h.1M245.5 143.5h.1M240.7 152.0h.1M254.2 148.9h.1M250.1 145.8h.1M234.8 152.1h.1M242.6 133.1h.1M236.8 142.6h.1M229.2 128.9h.1M254.6 142.8h.1M251.6 139.2h.1M230.5 149.4h.1M243.9 139.4h.1M227.6 137.8h.1M248.3 142.2h.1M239.7 141.9h.1M237.9 147.0h.1M249.7 136.0h.1M240.2 131.0h.1M238.2 130.3h.1M247.1 152.0h.1M237.8 132.9h.1M246.8 139.2h.1M240.2 134.2h.1M246.5 149.9h.1M244.9 138.4h.1M246.2 152.6h.1M232.5 137.3h.1M254.5 145.3h.1M238.9 148.9h.1M253.6 150.6h.1M235.6 133.5h.1M238.1 140.0h.1M238.1 142.3h.1M249.0 128.4h.1M236.9 148.6h.1M243.3 146.0h.1M228.1 147.0h.1M236.5 131.9h.1M241.9 144.4h.1M239.3 146.4h.1M225.8 151.1h.1M244.0 138.8h.1M232.7 148.3h.1M255.0 158.5h.1M238.7 139.5h.1M257.5 139.7h.1M245.3 140.4h.1M243.7 131.1h.1M236.5 140.1h.1M239.3 155.8h.1M243.6 135.6h.1M225.2 141.4h.1M247.8 152.4h.1M231.1 147.4h.1M238.2 144.8h.1M219.1 140.3h.1M243.7 142.1h.1M245.9 143.1h.1M242.3 148.4h.1M242.6 143.6h.1M237.3 150.4h.1M241.3 128.2h.1M249.5 149.5h.1M236.9 138.8h.1M244.0 143.1h.1M245.8 139.6h.1M238.3 148.1h.1M242.0 142.1h.1M241.8 147.9h.1M236.3 136.6h.1M258.9 144.5h.1M236.8 152.7h.1M253.4 151.8h.1M248.4 140.2h.1M224.4 144.1h.1M242.1 140.1h.1M248.1 142.1h.1M246.5 143.1h.1M233.2 152.6h.1M242.1 147.6h.1M230.9 154.5h.1M232.1 155.1h.1M238.3 133.0h.1M241.6 145.5h.1M252.6 139.5h.1M242.9 130.3h.1M248.3 134.5h.1M230.8 139.0h.1M231.2 156.2h.1M236.4 143.7h.1M253.7 141.6h.1M229.8 142.8h.1M227.9 137.1h.1M239.5 144.4h.1M249.4 142.3h.1M227.5 130.2h.1M238.2 138.8h.1M251.4 148.0h.1M245.5 142.3h.1M242.3 148.3h.1M239.8 135.4h.1M238.3 143.8h.1M241.2 149.9h.1M235.1 130.4h.1M233.3 137.3h.1M231.5 139.9h.1M240.2 140.8h.1M233.9 139.0h.1M246.9 145.2h.1M223.8 151.1h.1M244.5 145.8h.1M244.3 151.1h.1M249.6 151.3h.1M238.1 138.4h.1M228.4 145.2h.1M232.9 140.1h.1M248.9 148.2h.1M237.7 140.3h.1M236.9 141.6h.1M235.6 156.4h.1M239.6 141.7h.1M238.3 130.8h.1M228.0 144.0h.1M235.4 145.4h.1M247.9 139.1h.1M251.4 143.6h.1M239.1 151.1h.1M236.1 139.0h.1M250.6 141.6h.1M238.7 137.5h.1M230.9 145.7h.1M239.1 142.1h.1M245.5 135.9h.1M252.2 141.9h.1M236.3 157.4h.1M244.3 129.7h.1M237.5 132.3h.1M249.0 145.7h.1M242.1 132.2h.1M242.1 158.4h.1M232.4 131.4h.1M237.6 132.9h.1M237.6 139.1h.1M212.1 151.5h.1M246.7 149.4h.1M240.0 147.6h.1M238.5 145.4h.1M237.3 153.3h.1M240.3 128.9h.1M242.0 145.3h.1M229.9 154.3h.1M241.0 134.8h.1M241.0 145.6h.1M240.3 152.7h.1M228.5 152.9h.1M239.0 142.0h.1M230.1 157.7h.1M242.8 147.1h.1M250.3 151.5h.1M246.8 134.7h.1M237.4 137.2h.1M235.9 137.2h.1M235.7 156.9h.1M242.8 124.9h.1M234.9 128.8h.1M235.9 149.3h.1M220.6 144.3h.1M233.4 120.0h.1M234.0 140.0h.1M235.9 140.7h.1M249.5 152.6h.1M229.5 128.2h.1M229.7 139.0h.1M244.7 151.4h.1M232.4 149.1h.1M238.8 136.0h.1M241.4 140.9h.1M240.2 131.6h.1M234.0 153.8h.1M247.2 139.8h.1M251.7 153.0h.1M232.2 149.4h.1M237.9 136.2h.1M247.4 142.0h.1M238.4 148.2h.1M232.3 146.6h.1M236.7 155.0h.1M246.5 151.8h.1M232.3 145.7h.1M242.0 148.5h.1M243.0 137.6h.1M235.0 138.5h.1M244.4 147.9h.1M245.2 145.8h.1M247.8 134.6h.1M247.3 142.6h.1M228.5 137.0h.1M247.0 138.9h.1M244.6 153.2h.1M247.6 135.9h.1M233.4 138.1h.1M247.1 147.6h.1M242.9 143.8h.1M231.0 144.5h.1M249.9 132.0h.1M234.0 143.0h.1M232.2 140.3h.1M243.1 136.9h.1M235.4 138.9h.1M242.9 140.9h.1M238.1 149.7h.1M242.3 157.8h.1M246.4 144.1h.1M239.8 154.7h.1M246.8 144.1h.1M246.6 131.7h.1M233.6 143.7h.1M246.7 153.2h.1M244.9 154.1h.1M241.1 136.4h.1M248.7 160.6h.1M252.9 137.6h.1M246.0 137.6h.1M228.7 139.2h.1M243.5 154.5h.1M239.1 146.4h.1M238.0 150.3h.1M242.8 126.1h.1M237.5 142.9h.1M252.7 142.4h.1M242.2 148.7h.1M240.2 139.7h.1M246.2 152.5h.1M246.3 138.0h.1M249.3 132.5h.1M245.0 130.6h.1M239.8 153.1h.1M241.2 149.2h.1M223.4 137.3h.1M228.7 151.9h.1M248.2 142.0h.1M237.6 142.4h.1M254.2 132.0h.1M254.1 139.1h.1M230.4 144.2h.1M242.5 144.9h.1M262.5 139.0h.1M234.0 151.0h.1M243.2 154.5h.1M238.3 137.1h.1M238.3 146.5h.1M238.0 131.6h.1M240.0 146.6h.1M246.0 135.9h.1M233.9 142.2h.1M244.0 144.7h.1M234.7 141.5h.1M244.2 151.5h.1M242.6 137.4h.1M234.1 139.8h.1M241.2 145.9h.1M234.4 143.1h.1M233.6 145.4h.1M249.2 141.8h.1M226.0 137.2h.1M244.5 148.5h.1M245.6 144.0h.1M235.5 150.4h.1M248.6 153.7h.1M247.2 140.7h.1M230.1 137.7h.1M244.2 139.9h.1M243.8 138.4h.1M234.4 128.1h.1M244.6 156.1h.1M246.0 146.6h.1M234.5 161.4h.1M224.7 139.1h.1M243.3 148.0h.1M234.4 145.5h.1M226.8 142.9h.1M237.2 151.0h.1M221.6 143.5h.1M237.5 142.8h.1M251.8 144.7h.1M218.0 126.2h.1M243.7 137.9h.1M233.0 137.8h.1M236.9 156.2h.1M233.1 148.0h.1M245.1 149.5h.1M240.1 148.3h.1M234.1 142.0h.1M230.0 156.2h.1M236.8 141.9h.1M249.1 132.6h.1M230.7 148.3h.1M243.4 152.5h.1M242.8 144.3h.1M224.6 146.3h.1M248.7 150.9h.1M239.8 155.3h.1M257.5 148.0h.1M253.7 156.4h.1M238.2 145.7h.1M238.9 159.6h.1M232.3 132.9h.1M229.4 150.8h.1M246.3 145.7h.1M238.2 144.4h.1M237.0 133.6h.1M238.8 151.8h.1M245.4 142.0h.1M247.5 135.8h.1M240.1 138.6h.1M238.6 141.7h.1M240.9 144.3h.1M256.3 136.5h.1M223.9 136.4h.1M231.1 146.7h.1M243.9 142.9h.1M241.3 158.6h.1M249.8 140.2h.1M250.4 149.2h.1M255.6 156.9h.1M233.9 142.0h.1M245.0 151.1h.1M238.3 145.8h.1M247.8 143.9h.1M241.6 155.8h.1M247.1 135.9h.1M234.4 138.8h.1M241.5 129.9h.1M236.2 142.6h.1M238.1 151.1h.1M236.6 141.5h.1M232.1 149.8h.1M248.9 137.7h.1M242.5 152.3h.1M248.7 142.6h.1M232.4 139.8h.1M224.9 156.1h.1M235.1 143.4h.1M239.0 147.9h.1M246.4 144.4h.1M248.5 148.9h.1M249.8 144.4h.1M252.2 134.2h.1M245.9 145.7h.1M241.1 147.2h.1M234.2 146.5h.1M245.6 141.7h.1M236.3 157.4h.1M233.9 137.9h.1M244.8 144.4h.1M241.9 145.1h.1M246.9 135.2h.1M234.6 134.3h.1M249.4 148.6h.1M243.0 148.7h.1M238.9 144.6h.1M234.3 131.2h.1M231.7 141.2h.1M229.5 145.3h.1M251.2 148.2h.1M229.1 152.6h.1M245.2 147.0h.1M238.3 150.9h.1M235.7 156.2h.1M236.5 125.5h.1M239.4 151.1h.1M247.3 140.1h.1M244.6 147.2h.1M240.2 145.1h.1M229.4 135.6h.1M226.2 136.5h.1M254.9 146.8h.1M232.3 142.1h.1M227.9 149.1h.1M249.0 140.5h.1M228.4 159.9h.1M246.0 141.5h.1M247.5 159.4h.1M242.2 137.6h.1M247.8 147.7h.1M229.3 152.1h.1M230.6 133.4h.1M238.7 136.0h.1M240.2 146.6h.1M239.5 152.2h.1M243.8 153.9h.1M234.4 147.7h.1M223.5 151.5h.1M243.4 134.5h.1M238.4 140.2h.1M246.6 154.5h.1M256.5 139.2h.1M240.8 141.6h.1M244.7 130.1h.1M233.2 142.0h.1M247.3 131.2h.1M242.9 146.2h.1M242.1 154.7h.1M247.4 145.8h.1M231.3 144.7h.1M244.6 140.3h.1M243.8 147.6h.1M252.7 134.9h.1M226.0 139.9h.1M239.5 160.0h.1M257.4 133.4h.1M237.0 139.1h.1M236.7 132.7h.1M254.2 152.8h.1M259.9 141.6h.1M241.1 133.6h.1M234.6 133.8h.1M235.5 151.9h.1M237.1 148.5h.1M233.5 149.5h.1M233.8 142.9h.1M241.5 150.2h.1M240.5 153.4h.1M243.9 148.4h.1M240.4 131.1h.1M230.7 128.2h.1M246.0 132.1h.1M242.1 145.4h.1M235.6 131.8h.1M238.0 135.0h.1M242.7 143.5h.1M240.8 136.5h.1M239.1 133.4h.1M246.2 150.6h.1M248.5 147.0h.1M237.7 149.3h.1M240.0 150.3h.1M231.5 154.3h.1M238.8 142.9h.1M243.9 141.8h.1M246.9 129.7h.1M241.5 141.3h.1M239.5 138.6h.1M234.5 151.2h.1M241.8 148.3h.1M231.6 154.4h.1M241.2 151.5h.1M240.3 152.2h.1M233.0 147.2h.1M242.7 144.2h.1M238.5 140.2h.1M244.9 142.9h.1M236.4 135.8h.1M243.9 146.1h.1M252.4 142.4h.1M241.6 127.5h.1M246.3 122.3h.1M235.1 137.4h.1M237.4 139.4h.1M225.3 140.7h.1M239.0 153.0h.1M231.3 138.2h.1M241.0 133.3h.1M224.0 145.9h.1M233.4 150.7h.1M240.8 155.6h.1M243.2 135.2h.1M227.2 141.1h.1M236.9 139.7h.1M260.2 154.6h.1M246.3 148.3h.1M241.4 143.2h.1M218.5 148.5h.1M232.9 140.2h.1M244.2 141.4h.1M242.0 142.7h.1M243.7 139.1h.1M247.6 141.0h.1M240.9 145.7h.1M246.8 144.8h.1M226.1 154.3h.1M259.7 149.6h.1M237.8 142.4h.1M235.1 126.1h.1M251.9 131.6h.1M244.9 139.1h.1M247.7 140.0h.1M235.3 132.9h.1M242.3 140.0h.1M245.7 143.8h.1M231.2 138.0h.1M238.4 141.8h.1M238.2 142.1h.1M237.8 137.5h.1M234.6 136.2h.1M230.2 141.9h.1M243.5 144.9h.1M242.0 134.9h.1M249.1 127.2h.1M239.6 135.5h.1M234.8 146.7h.1M228.7 130.5h.1M240.8 149.9h.1M237.7 138.3h.1M255.9 143.8h.1M258.0 136.9h.1M252.4 147.2h.1M233.0 143.2h.1M229.2 145.6h.1M238.2 127.9h.1M233.1 148.3h.1M251.2 129.9h.1M241.0 140.2h.1M236.9 146.7h.1M240.0 141.3h.1M249.9 146.6h.1M232.7 144.0h.1M243.9 143.4h.1M229.7 136.6h.1M238.5 150.4h.1M234.9 151.3h.1M242.5 138.7h.1M241.3 135.9h.1M249.5 144.3h.1M245.4 137.0h.1M235.3 143.8h.1M229.7 148.9h.1M233.7 147.8h.1M236.7 154.0h.1M238.3 146.2h.1M234.1 134.8h.1M248.5 136.2h.1M247.4 146.8h.1M237.9 157.2h.1M236.2 140.0h.1M238.2 135.8h.1M239.7 153.3h.1M239.9 141.8h.1M227.4 148.0h.1M236.7 150.9h.1M225.4 135.3h.1M240.3 140.0h.1M245.3 138.5h.1M231.7 146.7h.1M241.3 147.7h.1M235.3 139.0h.1M234.6 146.9h.1M255.4 129.2h.1M247.0 145.4h.1M243.8 145.3h.1M236.6 142.7h.1M243.3 131.7h.1M238.5 141.9h.1M243.6 134.6h.1M233.0 153.7h.1M239.5 140.5h.1M237.0 141.1h.1M229.0 141.9h.1M253.3 146.8h.1M246.4 143.3h.1M233.9 146.7h.1M228.5 135.7h.1M234.4 151.0h.1M233.5 139.0h.1M235.3 148.4h.1M228.2 144.5h.1M233.5 150.8h.1M240.5 142.1h.1M243.3 131.6h.1M224.5 134.0h.1M240.0 141.0h.1M232.3 153.1h.1M231.9 139.5h.1M237.5 143.1h.1M234.6 152.1h.1M245.5 138.5h.1M245.5 145.0h.1M237.6 144.8h.1M235.0 138.2h.1M254.1 144.4h.1M254.7 150.6h.1M243.1 150.6h.1M238.8 140.2h.1M247.9 164.6h.1M251.4 145.3h.1M235.9 140.6h.1M254.2 137.3h.1M238.8 135.3h.1M248.6 148.8h.1M236.0 121.0h.1M240.6 141.5h.1M236.4 132.4h.1M240.2 141.4h.1M248.0 142.4h.1M233.0 132.9h.1M237.7 135.3h.1M244.3 152.2h.1M236.3 138.5h.1M256.1 142.6h.1M228.5 140.3h.1M260.0 148.9h.1M234.8 151.9h.1M247.7 149.6h.1M252.8 146.8h.1M244.2 146.9h.1M228.9 133.8h.1M237.4 152.5h.1M240.6 138.5h.1M244.5 136.0h.1M247.8 139.9h.1M248.9 136.7h.1M251.7 145.8h.1M232.5 148.1h.1M247.9 152.3h.1M226.2 142.0h.1M241.2 138.2h.1M231.6 140.6h.1M225.9 133.9h.1M247.3 137.2h.1M239.8 157.7h.1M247.9 136.9h.1M227.5 139.2h.1M230.4 147.4h.1M239.2 144.6h.1M234.7 148.4h.1M240.6 136.2h.1M235.1 134.7h.1M237.3 152.6h.1M230.9 137.6h.1M250.2 142.0h.1M237.5 144.3h.1M230.6 128.8h.1M245.4 141.2h.1M243.8 137.8h.1M241.7 146.6h.1M241.8 140.4h.1M236.9 125.8h.1M239.0 148.6h.1M222.4 123.5h.1M227.7 139.6h.1M230.2 137.5h.1M242.3 138.1h.1M249.7 142.6h.1M238.7 149.8h.1M237.9 136.1h.1M249.0 138.1h.1M237.1 148.3h.1M245.2 146.5h.1M243.4 148.1h.1M229.5 145.2h.1M242.5 140.9h.1M241.6 139.0h.1M230.9 139.1h.1M231.8 149.5h.1M229.9 153.9h.1M250.9 157.6h.1M256.8 134.9h.1M245.6 140.9h.1M252.5 142.7h.1M229.3 141.5h.1M251.2 134.2h.1M255.7 159.1h.1M252.9 154.1h.1M232.5 141.5h.1M248.6 139.3h.1M239.1 142.6h.1M248.6 133.6h.1M234.9 140.1h.1M240.1 148.5h.1M235.5 155.2h.1M243.8 149.4h.1M239.2 152.5h.1M248.9 134.8h.1M246.6 118.3h.1M243.3 153.1h.1M239.7 144.1h.1M237.6 142.1h.1M240.1 155.3h.1M246.0 135.4h.1M241.1 135.5h.1M242.3 137.1h.1M239.7 154.9h.1M239.4 149.9h.1M234.7 129.2h.1M225.1 155.2h.1M244.6 142.8h.1M244.5 145.9h.1M232.3 136.9h.1M255.3 156.9h.1M230.7 146.0h.1M248.0 152.7h.1M242.0 135.2h.1M242.5 148.0h.1M249.1 143.4h.1M247.4 141.0h.1M240.2 136.5h.1M231.6 137.4h.1M230.3 133.8h.1M241.5 137.7h.1M252.6 142.5h.1M247.0 147.1h.1M239.8 130.9h.1M242.7 134.8h.1M245.5 138.1h.1M253.7 130.3h.1M234.0 140.5h.1M245.8 140.7h.1M242.3 141.2h.1M234.0 145.8h.1M231.9 149.9h.1M250.2 148.8h.1M242.7 144.8h.1M238.4 147.2h.1M240.8 136.7h.1M247.9 135.5h.1M240.8 147.6h.1M252.8 147.0h.1M238.0 159.4h.1M233.8 141.0h.1M239.1 135.2h.1M232.5 144.9h.1M237.3 139.3h.1M249.8 135.9h.1M253.7 153.1h.1M245.1 157.4h.1M241.6 145.5h.1M232.8 137.7h.1M232.0 144.6h.1M243.0 142.3h.1M241.4 132.1h.1M235.4 149.1h.1M236.5 145.3h.1M252.5 152.3h.1M247.9 138.5h.1M240.5 142.6h.1M241.9 141.8h.1M250.2 129.6h.1M242.9 161.8h.1M241.9 126.8h.1M227.5 134.0h.1M226.6 140.0h.1M224.8 130.8h.1M222.0 145.9h.1M239.9 139.2h.1M242.7 143.3h.1M233.1 144.5h.1M243.6 143.3h.1M243.6 143.5h.1M239.4 141.6h.1M228.3 146.0h.1M251.6 149.0h.1M251.0 140.8h.1M235.4 139.4h.1M255.5 139.7h.1M240.4 145.2h.1M233.8 140.0h.1M236.8 139.9h.1M225.2 131.3h.1M237.2 157.6h.1M227.3 133.4h.1M249.1 155.7h.1M242.6 148.9h.1M228.9 150.7h.1M244.6 144.9h.1M226.3 146.6h.1M241.3 145.1h.1M243.9 147.4h.1M240.6 149.3h.1M231.0 154.6h.1M239.2 135.3h.1M238.6 146.7h.1M240.5 155.3h.1M251.9 153.6h.1M253.6 135.1h.1M252.7 145.3h.1M235.0 145.1h.1M234.1 144.9h.1M240.2 125.7h.1M243.5 149.6h.1M223.6 130.6h.1M235.1 159.8h.1M254.4 148.0h.1M230.1 142.3h.1M234.1 147.9h.1M234.4 144.1h.1M243.9 138.9h.1M239.5 142.3h.1M237.4 145.7h.1M227.9 136.8h.1M244.9 148.6h.1M240.0 151.7h.1M234.7 151.3h.1M240.2 152.2h.1M246.3 153.1h.1M228.2 148.5h.1M227.6 153.2h.1M231.8 143.6h.1M233.0 146.3h.1M215.6 154.1h.1M235.2 158.1h.1M248.9 140.4h.1M237.4 131.9h.1M248.1 159.7h.1M217.0 152.1h.1M239.1 157.3h.1M251.1 150.1h.1M252.6 145.0h.1M236.0 138.2h.1M233.4 135.7h.1M243.1 154.4h.1M230.3 150.8h.1M237.1 145.6h.1M226.6 134.5h.1M240.7 139.1h.1M240.0 138.3h.1M253.0 140.8h.1M242.9 120.8h.1M234.7 144.9h.1M239.3 155.3h.1M229.7 138.9h.1M240.3 143.4h.1M238.3 145.3h.1M243.4 135.4h.1M247.5 146.5h.1M224.0 136.8h.1M242.6 139.7h.1M245.9 145.1h.1M230.4 142.7h.1M255.2 143.9h.1M234.2 136.0h.1M259.7 148.8h.1M246.3 134.7h.1M247.8 149.7h.1M242.2 139.4h.1M248.1 133.9h.1M231.7 142.5h.1M233.5 134.9h.1M224.3 139.0h.1M244.3 142.0h.1M234.3 149.3h.1M246.0 149.4h.1M244.8 146.9h.1M229.3 141.0h.1M245.6 131.3h.1M242.1 141.4h.1M241.6 140.7h.1M243.7 142.2h.1M239.8 139.1h.1M240.1 139.1h.1M248.5 149.4h.1M232.0 132.8h.1M230.4 143.2h.1M233.9 153.0h.1M248.3 137.2h.1M237.4 135.5h.1M255.4 141.4h.1M215.3 140.5h.1M234.3 145.2h.1M236.4 153.7h.1M242.2 142.2h.1M250.7 147.5h.1M238.5 138.6h.1M231.8 139.4h.1M246.7 145.5h.1M252.4 137.9h.1M219.5 152.5h.1M244.6 140.0h.1M242.4 141.9h.1M233.3 135.0h.1M236.2 139.8h.1M242.3 135.3h.1M240.2 139.3h.1M238.0 129.3h.1M230.6 143.1h.1M242.3 156.8h.1M234.7 128.5h.1M240.7 156.7h.1M235.3 142.2h.1M241.6 150.1h.1M246.0 135.3h.1M241.9 159.0h.1M245.3 134.7h.1M228.9 142.5h.1M243.7 155.3h.1M242.3 133.1h.1M235.0 124.8h.1M238.7 142.6h.1M217.6 137.1h.1M240.6 135.5h.1M236.7 135.9h.1M221.8 131.6h.1M244.0 154.1h.1M234.9 152.7h.1M242.2 132.4h.1M238.1 142.3h.1M243.8 139.5h.1M240.7 151.8h.1M237.7 136.5h.1M243.9 155.9h.1M246.6 143.1h.1M221.8 136.9h.1M240.2 142.4h.1M235.2 138.5h.1M231.1 160.9h.1M250.4 144.3h.1M247.7 139.3h.1M231.7 143.9h.1M231.0 154.8h.1M246.5 135.5h.1M234.9 129.8h.1M237.3 153.5h.1M224.2 147.9h.1M238.9 139.5h.1M249.1 142.5h.1M236.3 151.8h.1M239.0 121.5h.1M253.9 153.2h.1M247.0 141.7h.1M251.4 148.4h.1M245.0 142.7h.1M226.6 138.2h.1M233.4 151.8h.1M226.7 122.4h.1M257.7 143.4h.1M241.4 149.3h.1M238.9 130.8h.1M233.9 126.9h.1M231.8 143.8h.1M217.5 151.1h.1M257.9 152.5h.1M239.3 137.6h.1M240.4 145.8h.1M228.7 131.8h.1M239.5 157.0h.1M243.0 138.5h.1M239.3 153.2h.1M244.9 140.9h.1M233.2 140.4h.1M242.5 156.0h.1M247.1 136.1h.1M244.4 153.4h.1M243.0 140.2h.1M239.1 136.0h.1M232.0 136.4h.1M244.4 152.0h.1M236.8 142.4h.1M232.4 140.2h.1M246.1 131.0h.1M227.1 152.4h.1M235.5 151.4h.1M246.1 145.6h.1M247.5 149.2h.1M236.9 117.1h.1M240.4 138.8h.1M244.3 144.3h.1M239.4 143.9h.1M233.8 138.5h.1M243.4 144.9h.1M241.2 137.2h.1M240.8 137.8h.1M248.9 133.0h.1M242.4 144.1h.1M236.3 137.2h.1M241.2 139.0h.1M255.5 154.1h.1M234.2 142.7h.1M237.8 142.7h.1M233.5 130.7h.1M242.8 138.8h.1M229.8 150.9h.1M243.5 147.4h.1M246.0 143.4h.1M233.7 141.6h.1M233.1 143.5h.1M228.0 146.2h.1M240.3 140.4h.1M231.0 123.1h.1M234.9 158.7h.1M236.6 152.1h.1M234.4 141.8h.1M246.6 154.3h.1M252.7 132.6h.1M222.9 153.3h.1M233.4 144.5h.1M241.9 150.1h.1M231.5 140.2h.1M235.6 144.2h.1M241.6 147.7h.1M251.1 151.4h.1M249.3 147.1h.1M237.6 146.5h.1M241.0 138.3h.1M237.0 156.7h.1M238.5 144.7h.1M230.5 141.2h.1M225.8 140.4h.1M237.0 133.4h.1M247.8 137.1h.1M246.1 130.8h.1M225.0 144.6h.1M238.4 142.3h.1M234.9 144.7h.1M242.3 133.0h.1M231.2 139.6h.1M247.3 137.9h.1M238.3 150.9h.1M244.6 131.1h.1M247.0 130.8h.1M224.4 153.3h.1M238.2 145.9h.1M252.1 130.4h.1M240.1 153.8h.1M248.3 154.9h.1M243.3 152.1h.1M236.0 126.5h.1M242.2 144.0h.1M248.4 136.1h.1M250.3 140.9h.1M251.5 130.3h.1M231.1 156.9h.1M246.6 137.4h.1M229.0 145.2h.1M238.9 149.4h.1M238.3 147.9h.1M245.0 146.3h.1M242.5 139.9h.1M249.9 144.8h.1M235.1 141.2h.1M246.7 124.8h.1M243.1 151.0h.1M240.0 138.0h.1M230.4 138.8h.1M244.5 139.7h.1M242.5 131.9h.1M246.3 133.3h.1M239.7 128.5h.1M237.9 146.7h.1M243.1 152.4h.1M243.7 143.6h.1M245.5 133.8h.1M255.1 153.4h.1M235.0 140.4h.1M256.0 130.2h.1M216.3 127.9h.1M247.6 144.4h.1M233.4 154.5h.1M256.0 139.9h.1M232.9 137.9h.1M248.4 140.8h.1M232.1 136.2h.1M230.9 138.6h.1M246.4 145.0h.1M246.9 137.2h.1M234.4 150.4h.1M259.2 135.1h.1M237.4 148.6h.1M252.5 145.7h.1M231.9 139.9h.1M232.3 140.6h.1M240.7 140.4h.1M231.9 156.4h.1M243.6 136.5h.1M222.8 152.5h.1M241.4 151.0h.1M235.5 140.2h.1M232.3 155.9h.1M241.7 123.9h.1M238.2 144.9h.1M236.4 144.0h.1M246.4 143.1h.1M242.3 149.6h.1M243.0 139.7h.1M250.6 141.5h.1M239.4 152.1h.1M246.7 142.0h.1M236.6 134.7h.1M244.8 147.5h.1M244.2 142.3h.1M235.6 138.4h.1M227.9 147.4h.1M229.8 136.8h.1M232.5 135.1h.1M244.4 140.9h.1M238.9 141.4h.1M237.6 143.4h.1M243.8 133.3h.1M245.8 156.7h.1M251.1 148.4h.1M235.2 144.1h.1M244.4 144.8h.1M245.6 122.9h.1M232.4 150.3h.1M241.0 134.8h.1M232.7 147.0h.1M238.2 133.4h.1M243.3 150.8h.1M226.4 138.7h.1M233.0 141.2h.1M233.6 155.2h.1M240.7 150.9h.1M234.1 131.9h.1M243.0 137.4h.1M233.2 144.5h.1M235.9 141.1h.1M244.8 149.4h.1M242.5 137.5h.1M241.2 127.9h.1M239.7 135.6h.1M248.0 141.5h.1M250.9 147.3h.1M237.0 148.9h.1M234.2 152.9h.1M231.7 144.8h.1M253.8 141.3h.1M232.9 148.8h.1M229.5 142.1h.1M242.1 139.2h.1M248.3 139.2h.1M230.2 150.4h.1M239.0 154.8h.1M228.6 153.5h.1M234.4 130.2h.1M252.9 151.7h.1M241.3 134.0h.1M237.9 140.2h.1M240.5 147.6h.1M242.2 132.3h.1M239.2 133.1h.1M230.5 136.9h.1M230.6 156.5h.1M256.0 151.6h.1M233.9 135.8h.1M249.5 144.1h.1M234.3 144.0h.1M250.3 145.4h.1M245.5 137.3h.1M238.3 154.5h.1M256.0 139.9h.1M232.6 149.5h.1M238.1 129.5h.1M233.2 146.1h.1M233.8 144.1h.1M237.1 153.8h.1M232.4 122.2h.1M237.4 147.4h.1M252.5 149.5h.1M226.2 140.8h.1M230.0 153.5h.1M232.4 159.8h.1M236.3 150.0h.1M248.0 149.4h.1M245.7 153.8h.1M243.8 146.5h.1M241.6 152.8h.1M259.0 147.8h.1M231.0 137.5h.1M230.8 134.6h.1M239.8 152.4h.1M241.6 147.8h.1M238.1 137.6h.1M233.3 143.2h.1M229.6 154.7h.1M237.8 129.2h.1M234.4 135.7h.1M236.2 148.6h.1M231.4 149.6h.1M250.6 133.6h.1M243.6 135.0h.1M254.7 144.3h.1M235.9 154.2h.1M240.5 143.1h.1M238.0 124.4h.1M240.2 151.2h.1M238.0 142.8h.1M238.7 139.3h.1M224.3 133.7h.1M237.8 152.5h.1M245.5 145.1h.1M224.5 146.2h.1M237.2 145.8h.1M244.5 146.5h.1M250.1 149.7h.1M239.3 156.7h.1M243.6 134.5h.1M253.9 142.4h.1M250.3 139.3h.1M236.4 156.4h.1M235.2 140.7h.1M248.1 130.1h.1M241.8 142.7h.1M235.7 137.1h.1M238.2 137.0h.1M242.5 139.4h.1M238.4 132.5h.1M238.0 127.5h.1M238.1 158.6h.1M228.1 142.0h.1M253.8 135.5h.1M249.7 148.0h.1M252.0 153.6h.1M238.9 129.0h.1M241.0 139.4h.1M244.6 145.2h.1M246.5 136.2h.1M225.5 146.6h.1M242.8 133.1h.1M232.1 137.6h.1M239.4 142.0h.1M234.7 146.4h.1M253.5 143.3h.1M244.3 137.5h.1M239.8 140.0h.1M251.1 126.0h.1M239.4 160.1h.1M234.2 139.7h.1M238.5 140.6h.1M237.1 145.1h.1M240.4 147.5h.1M246.7 145.7h.1M239.1 137.5h.1M239.5 129.7h.1M248.0 141.6h.1M242.3 136.6h.1M247.5 138.5h.1M241.1 142.9h.1M229.7 144.9h.1M231.1 153.3h.1M226.8 141.8h.1M249.0 129.1h.1M243.3 147.6h.1M236.2 150.4h.1M232.1 129.8h.1M242.9 147.8h.1M238.9 144.4h.1M242.5 138.6h.1M233.3 144.3h.1M231.2 146.0h.1M252.5 147.7h.1M232.4 152.1h.1M239.8 142.8h.1M250.6 142.9h.1M225.5 162.3h.1M245.6 134.4h.1M240.5 140.7h.1M238.9 140.1h.1M242.1 149.1h.1M230.6 151.8h.1M222.4 132.3h.1M255.0 152.8h.1M237.7 133.4h.1M247.1 163.8h.1M248.8 137.6h.1M242.3 151.8h.1M243.6 140.8h.1M245.6 148.6h.1M252.5 136.9h.1M243.9 144.0h.1M250.0 143.1h.1M237.7 143.7h.1M236.7 149.3h.1M240.7 139.4h.1M243.2 140.3h.1M244.3 132.4h.1M255.4 141.8h.1M246.7 139.0h.1M240.5 150.0h.1M255.8 148.3h.1M242.6 137.1h.1M242.8 146.5h.1M243.9 153.5h.1M237.4 141.3h.1M231.4 133.5h.1M241.1 162.7h.1M237.6 147.4h.1M233.2 148.6h.1M241.0 163.0h.1M238.4 136.5h.1M235.3 145.4h.1M226.0 127.8h.1M238.7 146.9h.1M253.9 146.1h.1M247.0 136.7h.1M248.6 136.1h.1M239.8 141.5h.1M248.4 141.1h.1M234.7 155.6h.1M236.4 141.0h.1M244.1 141.7h.1M228.7 141.5h.1M240.5 130.1h.1M242.4 139.0h.1M253.4 132.1h.1M234.5 144.0h.1M243.4 125.4h.1M234.9 133.9h.1M235.7 145.0h.1M218.7 126.1h.1M232.6 130.5h.1M249.1 150.9h.1M244.1 132.3h.1M241.3 142.9h.1M259.5 145.4h.1M244.3 134.4h.1M230.2 129.4h.1M238.4 155.2h.1M239.6 138.5h.1M252.7 147.1h.1M232.9 136.8h.1M243.4 145.9h.1M247.8 132.4h.1M233.6 131.9h.1M240.7 134.6h.1M224.1 137.9h.1M240.8 137.9h.1M222.6 140.3h.1M237.0 146.4h.1M253.6 138.6h.1M243.3 150.4h.1M240.4 137.6h.1M241.2 148.2h.1M257.1 153.4h.1M244.4 156.9h.1M248.3 127.0h.1M236.6 156.8h.1M236.6 128.8h.1M231.8 154.3h.1M238.7 142.8h.1M234.5 145.7h.1M247.8 135.4h.1M245.1 150.4h.1M239.1 148.4h.1M235.7 138.5h.1M217.2 138.0h.1M235.4 149.8h.1M242.5 151.2h.1M245.3 149.1h.1M215.6 139.9h.1M221.1 143.0h.1M241.3 150.5h.1M231.9 149.7h.1M238.3 152.0h.1M236.3 144.1h.1M244.7 137.3h.1M225.3 145.3h.1M235.5 146.6h.1M247.5 138.7h.1M241.7 146.5h.1M233.5 136.2h.1M243.6 145.0h.1M242.3 138.1h.1M233.0 159.9h.1M245.5 152.5h.1M245.4 145.1h.1M239.0 132.4h.1M247.5 133.1h.1M230.8 148.5h.1M246.1 141.7h.1M238.5 145.4h.1M232.6 130.3h.1M235.3 130.9h.1M249.3 143.9h.1M235.7 141.3h.1M237.3 132.3h.1M234.9 136.5h.1M233.8 149.2h.1M247.6 139.5h.1M257.5 147.6h.1M250.6 156.2h.1M244.1 145.6h.1M246.0 144.0h.1M237.3 138.2h.1M236.1 152.7h.1M230.8 131.4h.1M251.4 134.2h.1M237.4 142.8h.1M234.4 131.2h.1M235.0 150.8h.1M241.6 137.9h.1M235.7 147.2h.1M240.2 140.5h.1M241.4 140.9h.1M250.6 143.1h.1M230.2 127.2h.1M242.4 134.2h.1M234.6 139.2h.1M236.7 160.7h.1M252.9 149.5h.1M245.0 148.7h.1M237.0 134.6h.1M243.9 150.1h.1M239.9 152.9h.1M248.8 149.0h.1M236.2 163.9h.1M243.9 132.2h.1M238.4 134.3h.1M240.1 140.8h.1M238.9 135.1h.1M235.2 143.4h.1M240.9 147.1h.1M247.8 142.8h.1M235.3 143.7h.1M237.0 146.2h.1M243.0 149.1h.1M234.1 137.7h.1M246.9 137.6h.1M245.7 152.5h.1M221.9 140.2h.1M234.9 136.3h.1M231.5 145.2h.1M246.6 140.1h.1M247.5 143.9h.1M230.6 142.4h.1M234.7 148.0h.1M239.4 150.2h.1M237.2 136.3h.1M245.8 133.2h.1M247.8 155.7h.1M244.7 137.4h.1M248.7 130.5h.1M247.5 127.7h.1M239.5 142.6h.1M236.7 137.8h.1M234.3 128.3h.1M246.5 135.3h.1M247.1 134.4h.1M248.1 150.9h.1M237.5 144.8h.1M237.0 142.8h.1M242.2 132.7h.1M250.0 141.4h.1M242.9 148.2h.1M241.9 144.2h.1M233.6 151.3h.1M243.6 143.5h.1M244.3 148.4h.1M232.6 146.5h.1M253.9 138.3h.1M232.9 153.6h.1M247.4 145.8h.1M238.5 149.5h.1M241.4 134.4h.1M233.9 134.2h.1M235.7 141.4h.1M245.6 136.4h.1M238.6 147.8h.1M237.4 146.1h.1M247.1 152.7h.1M245.7 147.6h.1M241.4 133.8h.1M241.9 150.5h.1M253.7 137.7h.1M238.8 137.0h.1M243.2 143.4h.1M243.5 142.8h.1M229.1 151.2h.1M224.9 165.5h.1M241.1 146.3h.1M246.9 154.5h.1M241.7 141.2h.1M235.9 145.6h.1M235.0 138.7h.1M246.5 139.5h.1M237.8 153.6h.1M227.4 146.5h.1M245.5 146.4h.1M242.0 136.5h.1M243.1 156.5h.1M248.3 141.5h.1M250.5 137.7h.1M244.5 142.7h.1M238.7 148.3h.1M223.4 148.9h.1M242.4 154.6h.1M238.9 134.4h.1M250.5 139.4h.1M250.2 155.3h.1M243.9 161.0h.1M250.9 137.9h.1M239.5 142.1h.1M239.8 130.5h.1M233.4 136.3h.1M237.7 135.8h.1M241.8 142.1h.1M248.4 133.4h.1M234.3 150.3h.1M246.4 142.4h.1M258.5 140.9h.1M229.5 150.3h.1M238.1 140.8h.1M240.3 133.0h.1M248.0 143.1h.1M255.8 160.2h.1M249.8 143.7h.1M239.8 147.1h.1M233.4 141.3h.1M239.7 141.1h.1M239.8 146.9h.1M242.0 121.8h.1M233.1 133.0h.1M252.1 138.1h.1M234.4 140.8h.1M245.5 154.5h.1M241.8 162.5h.1M231.5 147.9h.1M240.6 146.1h.1M240.3 148.3h.1M238.6 154.9h.1M246.5 135.0h.1M236.4 139.0h.1M260.2 144.1h.1M249.0 145.3h.1M232.9 127.7h.1M220.5 146.3h.1M250.0 130.2h.1M242.1 149.0h.1M240.7 149.6h.1M232.4 124.9h.1M228.7 146.9h.1M225.4 144.5h.1M260.3 138.0h.1M252.7 150.5h.1M235.7 158.9h.1M254.9 146.9h.1M225.4 134.2h.1M245.6 131.4h.1M245.6 133.6h.1M233.3 134.8h.1M236.5 151.8h.1M231.8 145.2h.1M240.4 142.7h.1M250.5 149.8h.1M247.9 143.0h.1M243.4 143.2h.1M248.9 136.2h.1M225.9 137.9h.1M256.1 143.1h.1M239.7 133.6h.1M229.6 156.1h.1M237.0 143.9h.1M234.9 138.5h.1M240.8 150.7h.1M242.5 134.4h.1M221.5 151.3h.1M250.0 143.6h.1M253.7 157.9h.1M231.8 138.5h.1M251.7 139.7h.1M250.0 136.1h.1M248.1 132.9h.1M253.0 144.9h.1M229.0 134.4h.1M245.8 145.4h.1M232.0 137.8h.1M258.9 151.3h.1M232.3 122.5h.1M230.3 146.2h.1M249.0 143.2h.1M245.0 142.9h.1M240.3 137.8h.1M241.1 156.8h.1M244.9 139.6h.1M253.8 146.3h.1M234.4 140.8h.1M235.6 140.0h.1M235.4 143.6h.1M239.4 148.2h.1M240.1 134.0h.1M229.8 139.1h.1M242.4 131.6h.1M229.9 146.0h.1M237.5 136.0h.1M238.0 136.9h.1M238.1 148.0h.1M251.8 142.7h.1M253.1 146.1h.1M248.6 141.7h.1M252.7 146.1h.1M237.7 143.5h.1M251.3 133.9h.1M239.6 144.5h.1M241.8 140.1h.1M242.2 140.9h.1M229.3 145.1h.1M235.1 138.4h.1M238.7 134.4h.1M242.9 152.3h.1M239.0 157.5h.1M233.2 140.1h.1M230.8 152.0h.1M240.1 145.9h.1M230.6 137.7h.1M230.6 136.2h.1M239.2 140.6h.1M241.4 139.4h.1M233.4 140.2h.1M225.8 141.8h.1M242.3 133.8h.1M246.5 149.7h.1M236.7 133.8h.1M237.0 134.3h.1M221.4 150.2h.1M247.2 148.9h.1M231.2 154.4h.1M245.8 143.9h.1M235.3 137.7h.1M238.9 152.0h.1M238.5 142.1h.1M225.6 141.8h.1M262.0 136.1h.1M227.5 146.1h.1M240.9 124.0h.1M233.5 147.0h.1M238.1 126.9h.1M251.0 149.8h.1M225.1 130.4h.1M238.9 148.3h.1M243.9 162.6h.1M241.0 140.6h.1M243.2 133.5h.1M234.0 158.4h.1M226.9 139.3h.1M229.5 133.9h.1M236.7 152.9h.1M245.9 120.1h.1M240.6 131.0h.1M252.8 132.3h.1M240.8 137.3h.1M241.5 126.7h.1M241.6 149.4h.1M226.1 151.0h.1M244.6 142.4h.1M231.1 139.5h.1M237.0 130.3h.1M258.7 146.6h.1M230.1 137.2h.1M240.9 147.8h.1M242.3 151.0h.1M241.0 143.2h.1M240.0 125.9h.1M235.5 135.3h.1M255.9 153.8h.1M224.0 145.0h.1M231.8 154.2h.1M251.9 125.0h.1M244.4 141.9h.1M233.9 141.4h.1M232.8 129.8h.1M238.0 137.7h.1M261.1 150.7h.1M243.9 147.2h.1M231.8 138.6h.1M241.9 145.5h.1M235.0 152.4h.1M252.0 134.2h.1M242.4 145.2h.1M250.1 151.2h.1M241.3 137.3h.1M256.3 153.3h.1M243.3 142.1h.1M242.2 151.7h.1M231.8 150.2h.1M236.6 145.0h.1M243.1 140.5h.1M236.0 137.6h.1M259.9 144.2h.1M239.9 144.6h.1M233.9 154.1h.1M247.9 142.2h.1M235.8 145.7h.1M243.3 156.4h.1M239.3 145.5h.1M234.2 146.5h.1M251.1 155.8h.1M240.7 143.6h.1M248.7 146.1h.1M237.3 148.9h.1M228.6 141.9h.1M230.1 134.0h.1M235.9 131.2h.1M238.5 141.3h.1M240.4 151.9h.1M244.1 150.8h.1M230.1 155.9h.1M241.8 150.1h.1M230.3 137.7h.1M234.5 131.2h.1M260.5 138.8h.1M250.2 140.8h.1M237.1 136.9h.1M254.3 150.3h.1M251.4 136.5h.1M247.1 147.5h.1M251.7 149.1h.1M238.0 129.0h.1M239.0 139.5h.1M233.1 152.9h.1M244.7 149.6h.1M230.0 143.9h.1M236.0 134.0h.1M243.7 137.3h.1M236.0 143.6h.1M242.8 153.0h.1M254.6 146.8h.1M232.1 142.2h.1M251.2 144.7h.1M234.5 149.1h.1M232.5 128.9h.1M241.8 135.0h.1M248.2 143.1h.1M234.3 152.5h.1M234.2 151.5h.1M236.5 136.6h.1M234.2 143.1h.1M241.5 136.9h.1M234.3 139.7h.1M238.0 144.0h.1M242.8 140.0h.1M236.7 138.4h.1M249.2 133.5h.1M234.6 130.2h.1M233.8 141.3h.1M256.3 144.4h.1M252.0 147.8h.1M240.6 136.3h.1M246.6 137.1h.1M242.7 152.9h.1M235.9 146.2h.1M245.4 149.9h.1M242.4 138.3h.1M250.3 137.1h.1M225.3 133.6h.1M246.5 150.8h.1M241.3 133.8h.1M234.5 129.0h.1M236.6 136.9h.1M236.8 153.0h.1M229.4 143.1h.1M235.4 144.7h.1M246.3 143.8h.1M227.9 142.5h.1M237.0 141.5h.1M221.1 131.6h.1M235.4 156.1h.1M243.1 141.6h.1M239.6 152.5h.1M240.4 130.4h.1M231.1 147.2h.1M244.6 133.4h.1M232.8 132.5h.1M247.3 145.0h.1M241.7 151.1h.1M236.9 153.8h.1M251.9 153.5h.1M236.8 140.7h.1M248.2 149.1h.1M240.8 138.1h.1M240.0 138.5h.1M248.0 144.8h.1M243.5 141.9h.1M239.9 149.6h.1M239.1 128.2h.1M241.7 151.9h.1M240.7 138.2h.1M237.4 154.6h.1M231.7 152.0h.1M219.3 133.7h.1M239.1 142.4h.1M238.1 148.3h.1M249.7 136.5h.1M243.6 136.9h.1M249.1 140.4h.1M253.9 148.8h.1M239.1 150.1h.1M233.3 139.5h.1M246.5 149.5h.1M235.2 154.6h.1M238.0 150.2h.1M251.5 137.0h.1M244.4 136.2h.1M248.8 145.1h.1M229.2 149.4h.1M240.3 146.3h.1M249.0 139.8h.1M229.8 135.5h.1M241.6 153.0h.1M243.2 141.7h.1M221.6 157.7h.1M252.8 133.8h.1M234.3 140.3h.1M238.9 137.8h.1M253.5 157.6h.1M225.7 152.7h.1M243.7 139.0h.1M236.4 127.6h.1M240.4 152.1h.1M233.5 144.0h.1M250.9 133.9h.1M231.1 131.0h.1M242.9 146.1h.1M244.4 141.3h.1M239.3 144.1h.1M237.8 146.1h.1M237.9 140.0h.1M248.2 140.8h.1M243.6 148.2h.1M239.4 142.1h.1M231.3 140.7h.1M241.3 148.0h.1M244.3 127.2h.1M239.8 152.8h.1M251.5 146.5h.1M224.7 136.9h.1M260.0 141.5h.1M238.6 152.7h.1M230.9 147.4h.1M226.1 128.8h.1M247.0 134.9h.1M244.6 144.4h.1M238.3 157.1h.1M239.6 149.0h.1M241.4 141.4h.1M236.6 147.6h.1M249.3 143.1h.1M245.0 140.6h.1M239.1 146.0h.1M226.9 126.0h.1M251.0 151.0h.1M236.2 147.2h.1M231.8 139.5h.1M250.4 136.2h.1M244.0 133.4h.1M223.9 145.2h.1M226.7 144.2h.1M236.9 144.4h.1M230.0 156.6h.1M238.8 125.5h.1M261.0 137.3h.1M263.9 136.9h.1M239.7 150.5h.1M246.5 141.0h.1M247.2 135.5h.1M239.1 144.6h.1M228.2 146.2h.1M248.7 155.8h.1M238.6 145.0h.1M243.7 139.5h.1M245.7 139.0h.1M233.6 136.6h.1M253.6 146.9h.1M240.7 149.5h.1M241.9 141.2h.1M236.6 141.9h.1M245.8 153.9h.1M248.2 143.8h.1M235.6 147.0h.1M244.8 134.4h.1M236.6 138.2h.1M230.2 126.1h.1M237.4 132.2h.1M245.0 145.9h.1M244.5 152.9h.1M248.7 140.9h.1M234.7 133.5h.1M237.7 143.7h.1M240.7 152.1h.1M245.1 141.7h.1M239.1 150.3h.1M232.5 142.5h.1M227.7 133.2h.1M249.5 135.8h.1M248.7 141.0h.1M234.8 161.1h.1M252.0 147.6h.1M239.6 141.1h.1M243.7 145.3h.1M250.2 144.7h.1M236.2 139.5h.1M233.9 142.2h.1M226.2 141.0h.1M242.6 148.9h.1M243.7 155.4h.1M247.0 153.5h.1M245.0 140.5h.1M241.0 147.4h.1M249.3 137.3h.1M231.9 134.3h.1M243.2 143.6h.1M244.2 147.8h.1M239.1 142.5h.1M254.0 149.6h.1M243.6 149.6h.1M250.9 149.0h.1M247.3 141.8h.1M238.7 132.2h.1M255.7 157.3h.1M249.0 139.2h.1M240.3 148.8h.1M239.2 146.9h.1M231.8 140.3h.1M238.9 157.5h.1M238.2 148.4h.1M241.8 142.9h.1M236.7 139.7h.1M244.7 135.3h.1M239.5 133.0h.1M227.4 147.6h.1M236.1 139.5h.1M232.9 139.4h.1M229.9 147.0h.1M238.1 140.3h.1M247.5 148.2h.1M231.2 137.9h.1M224.0 138.9h.1M238.8 150.3h.1M264.1 137.6h.1M235.4 147.9h.1M242.3 147.0h.1M236.8 143.1h.1M247.0 129.9h.1M251.7 132.6h.1M238.9 134.4h.1M249.7 132.8h.1M231.4 149.8h.1M241.8 136.1h.1M230.0 133.2h.1M241.7 139.0h.1M235.2 142.2h.1M242.1 129.8h.1M231.2 147.8h.1M242.0 148.7h.1M241.1 138.3h.1M235.6 149.4h.1M233.7 130.7h.1M230.6 138.6h.1M237.0 141.7h.1M243.4 143.6h.1M239.1 152.1h.1M241.4 140.4h.1M250.4 135.0h.1M237.6 144.7h.1M242.5 144.2h.1M246.8 146.5h.1M244.3 140.4h.1M243.3 144.4h.1M240.8 138.5h.1M255.7 147.4h.1M239.6 137.8h.1M237.1 138.1h.1M244.9 152.2h.1M253.3 137.0h.1M251.6 143.0h.1M240.5 147.5h.1M246.9 140.5h.1M244.2 150.1h.1M240.8 138.4h.1M245.4 151.0h.1M245.2 130.7h.1M241.3 132.3h.1M254.0 143.5h.1M237.2 154.2h.1M251.4 155.7h.1M257.1 136.2h.1M257.2 142.8h.1M242.4 139.1h.1M238.7 126.1h.1M227.4 148.7h.1M239.7 140.0h.1M259.8 153.8h.1M227.6 145.2h.1M227.8 138.8h.1M246.9 137.5h.1M245.2 141.5h.1M225.6 146.6h.1M239.7 139.1h.1M242.9 165.1h.1M228.0 144.6h.1M247.9 134.0h.1M229.6 143.6h.1M249.3 152.0h.1M241.8 146.4h.1M234.6 140.4h.1M227.3 137.8h.1M237.5 136.8h.1M239.4 133.7h.1M239.2 138.9h.1M235.4 145.0h.1M238.5 138.5h.1M247.2 155.8h.1M232.9 146.0h.1M238.5 139.5h.1M243.9 142.7h.1M240.0 154.5h.1M247.1 129.6h.1M252.7 144.8h.1M237.4 164.1h.1M241.9 150.9h.1M216.6 135.9h.1M237.4 144.0h.1M245.6 141.1h.1M231.2 164.9h.1M250.9 137.7h.1M225.1 140.8h.1M251.0 140.4h.1M236.0 131.8h.1M232.0 117.0h.1M236.3 141.1h.1M238.0 147.0h.1M232.0 139.6h.1M229.1 146.9h.1M236.0 148.9h.1M247.8 148.5h.1M243.4 129.6h.1M250.9 154.9h.1M235.3 149.7h.1M237.3 149.3h.1M237.5 143.1h.1M241.3 143.0h.1M243.8 138.7h.1M254.2 146.3h.1M245.8 150.3h.1M241.5 138.5h.1M251.0 149.4h.1M233.9 139.3h.1M229.6 147.7h.1M245.5 141.8h.1M241.5 149.8h.1M241.1 158.2h.1M247.6 144.8h.1M237.4 139.1h.1M239.2 139.6h.1M243.2 147.9h.1M245.3 139.1h.1M248.0 150.7h.1M241.1 145.3h.1M242.2 150.1h.1M220.7 138.6h.1M249.9 135.5h.1M227.5 137.1h.1M239.8 146.1h.1M260.4 136.8h.1M237.5 148.5h.1M227.4 126.8h.1M253.0 137.8h.1M235.6 141.7h.1M238.8 128.6h.1M238.8 138.2h.1M246.0 131.2h.1M246.3 142.5h.1M239.1 141.1h.1M249.0 148.9h.1M232.9 136.4h.1M245.5 130.2h.1M235.1 138.7h.1M245.7 144.0h.1M234.7 143.8h.1M236.6 144.3h.1M251.9 152.6h.1M231.1 140.2h.1M230.7 141.4h.1M244.7 136.4h.1M237.9 138.4h.1M236.6 151.3h.1M238.9 145.9h.1M257.1 122.4h.1M231.8 152.5h.1M237.9 127.3h.1M241.4 139.8h.1M232.5 150.7h.1M239.8 144.1h.1M243.9 147.4h.1M232.8 149.9h.1M249.0 145.4h.1M230.9 133.1h.1M238.9 146.0h.1M242.7 137.5h.1M265.5 124.0h.1M226.0 140.7h.1M242.3 147.4h.1M260.2 144.0h.1M235.3 143.1h.1M248.8 156.8h.1M241.8 145.2h.1M228.6 150.3h.1M243.2 145.6h.1M232.9 156.0h.1M240.7 140.2h.1M228.0 152.4h.1M245.9 157.4h.1M220.7 140.1h.1M238.7 151.3h.1M250.3 132.4h.1M244.2 145.6h.1M237.2 148.9h.1M238.1 136.5h.1M236.6 129.0h.1M261.8 143.5h.1M239.6 140.5h.1M239.9 144.6h.1M234.1 145.4h.1M236.2 149.7h.1M244.9 155.4h.1M235.1 146.5h.1M233.6 131.1h.1M235.6 148.4h.1M237.2 146.2h.1M241.4 144.3h.1M236.1 155.6h.1M238.5 145.2h.1M234.0 140.3h.1M249.9 146.8h.1M240.7 130.6h.1M237.5 150.7h.1M242.3 143.7h.1M239.6 156.5h.1M227.5 148.6h.1M238.6 146.2h.1M253.2 144.7h.1M244.0 133.9h.1M249.4 142.6h.1M234.6 145.6h.1M228.1 151.0h.1M234.4 146.6h.1M250.8 148.7h.1M232.0 148.6h.1M233.6 139.1h.1M248.8 145.6h.1M238.0 141.5h.1M238.4 133.4h.1M243.0 131.4h.1M240.7 149.8h.1M237.6 154.6h.1M242.0 154.5h.1M234.3 136.6h.1M239.7 155.1h.1M245.2 155.6h.1M231.5 137.3h.1M238.3 147.1h.1M230.9 156.7h.1M246.0 144.0h.1M244.9 152.6h.1M247.5 138.4h.1M248.3 140.6h.1M248.2 150.2h.1M245.7 142.0h.1M233.8 144.3h.1M247.5 144.0h.1M232.7 135.3h.1M258.7 155.1h.1M242.3 142.2h.1M244.7 140.7h.1M230.1 139.8h.1M248.6 143.8h.1M249.4 136.0h.1M227.4 150.1h.1M235.5 140.6h.1M236.2 149.5h.1M234.8 136.4h.1M251.1 135.3h.1M257.3 136.0h.1M231.5 145.1h.1M248.4 132.9h.1M237.9 149.9h.1M251.0 140.7h.1M220.4 150.4h.1M236.5 140.3h.1M249.7 149.7h.1M233.9 135.2h.1M249.5 134.6h.1M235.9 147.9h.1M249.1 138.9h.1M244.7 151.6h.1M236.6 137.8h.1M233.9 147.3h.1M238.6 136.8h.1M249.3 129.5h.1M239.9 154.5h.1M234.7 141.6h.1M266.6 150.9h.1M227.4 144.6h.1M238.2 129.7h.1M244.3 146.4h.1M231.6 151.8h.1M239.9 153.4h.1M236.6 156.2h.1M228.1 146.3h.1M243.6 142.4h.1M230.9 143.8h.1M233.9 134.0h.1M249.8 149.0h.1M231.0 148.9h.1M244.8 146.0h.1M249.4 137.1h.1M247.9 148.3h.1M243.7 138.9h.1M238.1 153.0h.1M228.7 138.4h.1M241.1 139.0h.1M243.5 140.7h.1M235.9 135.1h.1M232.1 136.1h.1M246.9 141.0h.1M231.5 123.8h.1M243.5 159.0h.1M236.1 146.1h.1M226.4 145.5h.1M252.9 136.2h.1M244.8 144.7h.1M244.3 143.1h.1M228.6 143.9h.1M238.9 131.5h.1M242.1 142.2h.1M233.9 128.2h.1M253.1 141.6h.1M223.7 136.1h.1M245.5 138.3h.1M224.7 140.6h.1M227.3 149.8h.1M229.6 152.8h.1M244.4 143.4h.1M234.1 134.6h.1M234.4 154.9h.1M232.5 132.0h.1M227.9 138.7h.1M232.6 141.4h.1M231.8 137.3h.1M237.2 153.6h.1M236.7 146.3h.1M220.5 151.6h.1M234.5 140.7h.1M249.4 150.0h.1M235.8 141.9h.1M239.0 141.9h.1M233.8 145.5h.1M234.0 146.2h.1M238.9 147.6h.1M228.7 141.4h.1M238.1 131.2h.1M226.1 140.5h.1M242.1 121.8h.1M226.8 140.8h.1M244.6 136.6h.1M247.5 149.5h.1M226.4 121.6h.1M244.8 158.9h.1M236.1 140.3h.1M248.6 130.4h.1M235.0 146.4h.1M237.0 146.9h.1M236.9 146.4h.1M249.3 160.3h.1M223.8 136.4h.1M245.4 145.3h.1M240.0 144.2h.1M235.3 137.6h.1M237.3 145.3h.1M246.7 153.0h.1M245.8 136.3h.1M252.8 146.6h.1M234.1 151.0h.1M224.1 148.2h.1M234.8 130.3h.1M237.6 145.3h.1M235.7 139.9h.1M249.0 152.7h.1M257.4 142.0h.1M242.2 158.6h.1M224.9 133.2h.1M247.5 147.0h.1M234.0 136.1h.1M239.5 157.1h.1M245.9 155.5h.1M242.1 135.7h.1M238.6 149.0h.1M241.5 142.7h.1M245.2 130.1h.1M244.2 134.7h.1M255.7 143.8h.1M215.2 147.1h.1M232.9 140.0h.1M234.5 145.3h.1M245.7 145.5h.1M240.9 145.3h.1M246.0 133.6h.1M227.7 144.1h.1M237.4 147.2h.1M244.3 131.2h.1M238.7 155.2h.1M235.9 154.6h.1M241.3 144.3h.1M252.3 159.6h.1M222.3 136.6h.1M251.8 135.5h.1M241.4 138.1h.1M232.3 137.3h.1M244.4 157.7h.1M239.5 143.4h.1M248.8 142.6h.1M232.7 145.9h.1M246.9 155.6h.1M231.9 144.4h.1M241.7 140.0h.1M244.7 145.2h.1M238.5 153.0h.1M244.3 141.4h.1M234.4 154.2h.1M247.6 145.5h.1M235.1 141.6h.1M233.5 146.9h.1M238.2 158.7h.1M238.7 141.1h.1M232.4 153.9h.1M245.5 147.5h.1M238.2 144.3h.1M244.0 143.4h.1M227.2 149.5h.1M228.6 147.9h.1M237.0 146.0h.1M231.2 148.3h.1M238.1 136.2h.1M243.6 137.9h.1M248.1 135.1h.1M250.9 140.3h.1M245.4 141.4h.1M233.5 140.1h.1M243.5 147.3h.1M235.0 135.6h.1M243.5 141.1h.1M230.7 149.9h.1M249.9 156.4h.1M242.5 143.5h.1M236.9 152.5h.1M228.3 153.9h.1M241.4 135.0h.1M235.0 145.0h.1M241.2 134.8h.1M233.5 140.0h.1M234.8 146.3h.1M244.1 133.0h.1M251.0 147.2h.1M229.1 141.9h.1M237.6 141.1h.1M242.3 147.3h.1M237.9 136.5h.1M235.7 129.7h.1M256.5 143.3h.1M232.5 137.4h.1M242.1 141.5h.1M235.3 134.4h.1M238.4 135.6h.1M220.9 134.9h.1M246.3 132.9h.1M237.5 136.6h.1M231.5 136.8h.1M252.5 143.2h.1M234.3 138.1h.1M232.4 130.5h.1M247.7 147.5h.1M239.4 133.3h.1M236.7 136.0h.1M228.6 140.3h.1M232.0 143.3h.1M242.0 143.5h.1M239.0 144.9h.1M223.1 142.0h.1M232.2 151.6h.1M241.0 149.5h.1M260.7 138.7h.1M233.2 141.2h.1M221.4 132.3h.1M245.3 148.1h.1M235.4 141.3h.1M228.6 157.9h.1M243.7 137.6h.1M237.3 154.8h.1M231.5 135.7h.1M228.7 129.7h.1M238.2 136.2h.1M239.9 145.6h.1M225.0 150.9h.1M247.1 136.0h.1M229.0 150.5h.1M250.4 138.8h.1M241.8 138.9h.1M237.7 140.5h.1M241.9 155.8h.1M234.4 144.3h.1M238.7 145.3h.1M252.4 131.0h.1M234.6 144.2h.1M245.7 145.1h.1M232.0 155.7h.1M239.0 136.1h.1M246.9 137.3h.1M229.6 135.7h.1M241.9 137.8h.1M222.0 148.1h.1M230.0 136.6h.1M235.8 152.8h.1M246.3 143.1h.1M244.9 135.7h.1M231.9 137.7h.1M238.1 132.1h.1M240.7 131.5h.1M226.7 151.8h.1M242.6 149.7h.1M250.0 135.1h.1M249.1 139.3h.1M234.5 155.4h.1M235.9 137.1h.1M231.7 144.5h.1M235.2 146.8h.1M237.2 141.2h.1M244.6 141.3h.1M239.9 140.1h.1M231.8 143.7h.1M245.8 130.5h.1M246.2 143.1h.1M234.3 144.2h.1M237.2 132.4h.1M238.4 146.3h.1M226.0 135.5h.1M240.3 122.2h.1M244.6 127.6h.1M254.8 143.5h.1M240.7 147.1h.1M236.9 139.4h.1M238.0 131.3h.1M244.1 141.5h.1M245.6 149.9h.1M232.3 142.4h.1M240.8 131.2h.1M244.4 146.4h.1M223.2 141.1h.1M250.2 141.3h.1M237.5 143.2h.1M246.2 147.1h.1M238.9 141.8h.1M237.3 135.2h.1M238.6 141.8h.1M241.5 143.7h.1M246.2 151.9h.1M237.1 133.1h.1M230.3 141.6h.1M233.6 135.8h.1M231.4 144.8h.1M245.3 138.4h.1M231.6 118.6h.1M251.4 150.1h.1M240.3 137.5h.1M238.5 134.1h.1M249.7 130.9h.1M236.3 134.3h.1M236.9 132.5h.1M245.5 141.5h.1M245.2 143.8h.1M231.3 142.0h.1M258.9 145.5h.1M243.8 136.1h.1M229.3 147.4h.1M237.9 141.8h.1M246.7 146.1h.1M241.1 147.5h.1M246.2 139.8h.1M258.2 152.4h.1M246.8 148.9h.1M255.4 139.5h.1M244.8 156.4h.1M234.0 155.7h.1M251.4 130.7h.1M233.8 125.1h.1M247.0 137.8h.1M244.6 146.3h.1M232.6 150.0h.1M233.8 147.9h.1M238.0 142.6h.1M242.6 150.3h.1M250.1 148.3h.1M240.1 139.3h.1M254.7 144.2h.1M246.5 151.0h.1M234.4 137.7h.1M234.6 137.8h.1M240.2 136.2h.1M235.4 154.2h.1M238.8 148.0h.1M245.8 149.3h.1M241.7 139.8h.1M247.4 142.5h.1M234.1 152.2h.1M232.7 140.6h.1M228.4 152.0h.1M225.4 142.6h.1M236.1 142.6h.1M240.2 147.1h.1M238.1 149.5h.1M239.7 156.5h.1M256.0 140.1h.1M231.0 156.0h.1M237.5 136.9h.1M235.8 136.1h.1M232.4 125.4h.1M250.5 149.4h.1M239.5 154.4h.1M249.8 133.5h.1M230.7 140.3h.1M254.8 140.8h.1M257.9 130.7h.1M232.8 143.4h.1M239.7 145.2h.1M238.7 138.9h.1M244.2 134.9h.1M229.4 143.9h.1M243.5 147.5h.1M245.6 131.8h.1M235.0 142.1h.1M221.7 147.2h.1M234.4 121.0h.1M236.6 145.4h.1M245.9 156.2h.1M234.9 132.8h.1M230.6 153.0h.1M244.7 140.5h.1M242.8 147.6h.1M245.7 141.6h.1M240.2 133.9h.1M248.3 129.5h.1M243.9 161.5h.1M225.5 132.4h.1M241.4 140.7h.1M246.0 154.0h.1M240.1 145.2h.1M251.5 144.2h.1M236.2 127.1h.1M245.4 138.0h.1M230.0 132.5h.1M239.8 128.9h.1M235.5 145.7h.1M231.8 149.4h.1M229.4 136.9h.1M241.6 137.8h.1M243.3 146.2h.1M234.8 149.8h.1M230.0 134.6h.1M232.8 152.0h.1M245.9 150.2h.1M230.2 142.9h.1M249.0 134.2h.1M226.5 147.3h.1M242.1 148.3h.1M245.2 156.6h.1M249.6 138.2h.1M236.4 155.3h.1M233.8 140.1h.1M228.5 147.0h.1M247.1 142.0h.1M238.8 143.5h.1M236.2 154.4h.1M236.5 137.5h.1M241.9 149.4h.1M240.1 140.8h.1M249.3 142.6h.1M222.7 137.3h.1M246.6 144.5h.1M235.6 127.3h.1M239.3 140.9h.1M237.4 150.8h.1M239.2 149.5h.1M245.9 130.2h.1M241.7 134.1h.1M228.4 139.7h.1M239.4 157.6h.1M239.1 139.6h.1M242.9 142.8h.1M240.2 141.0h.1M239.3 145.3h.1M248.1 135.8h.1M231.2 144.9h.1M257.4 146.7h.1M235.4 151.1h.1M231.6 136.0h.1M246.2 150.0h.1M248.5 158.0h.1M249.9 149.1h.1M251.6 148.3h.1M243.8 123.7h.1M240.5 153.5h.1M243.0 158.0h.1M239.9 152.5h.1M235.6 146.9h.1M252.8 149.5h.1M240.0 137.3h.1M238.1 139.8h.1M236.0 151.6h.1M226.5 145.0h.1M234.6 125.9h.1M235.9 144.7h.1M239.8 145.7h.1M232.0 135.6h.1M224.8 146.0h.1M245.2 144.9h.1M253.8 128.7h.1M223.0 147.0h.1M238.9 160.0h.1M246.9 156.8h.1M230.7 134.0h.1M228.5 132.5h.1M240.3 143.4h.1M238.1 145.2h.1M234.9 132.4h.1M253.2 137.1h.1M252.0 153.7h.1M245.3 144.9h.1M239.5 151.2h.1M237.4 142.7h.1M247.1 151.1h.1M238.2 138.8h.1M252.0 138.8h.1M250.1 135.4h.1M235.3 127.7h.1M246.2 139.8h.1M252.7 132.2h.1M245.4 139.2h.1M232.6 144.1h.1M238.0 144.3h.1M237.5 146.0h.1M241.2 139.8h.1M240.5 142.5h.1M237.4 152.1h.1M247.1 141.7h.1M251.1 143.1h.1M235.8 123.5h.1M228.5 134.2h.1M243.3 151.6h.1M240.4 136.0h.1M243.7 134.4h.1M234.9 150.6h.1M242.7 133.2h.1M233.1 150.8h.1M249.1 142.1h.1M253.8 137.9h.1M233.0 126.6h.1M219.6 153.4h.1M236.5 128.4h.1M236.2 133.1h.1M242.0 149.1h.1M240.6 133.0h.1M244.4 146.9h.1M262.2 142.6h.1M236.0 140.7h.1M237.5 134.4h.1M244.0 137.6h.1M225.7 145.0h.1M246.8 135.0h.1M235.6 147.9h.1M229.0 144.7h.1M233.8 147.2h.1M244.6 144.7h.1M247.3 147.3h.1M250.6 145.9h.1M244.1 149.4h.1M234.8 145.8h.1M245.1 145.4h.1M240.0 135.5h.1M259.3 129.1h.1M224.2 143.2h.1M253.5 150.5h.1M246.8 135.4h.1M243.9 130.2h.1M239.9 138.5h.1M236.2 145.7h.1M233.0 149.6h.1M228.2 140.3h.1M257.0 133.5h.1M248.2 142.3h.1M246.1 148.2h.1M243.6 142.4h.1M225.4 150.9h.1M238.5 138.8h.1M241.7 149.8h.1M250.0 155.9h.1M232.7 134.9h.1M243.0 135.9h.1M238.9 148.0h.1M234.6 146.9h.1M243.7 142.6h.1M241.5 153.2h.1M225.9 141.9h.1M250.5 130.0h.1M258.4 135.2h.1M233.8 153.6h.1M250.0 129.4h.1M233.0 131.5h.1M236.6 149.4h.1M254.9 144.0h.1M242.5 152.5h.1M253.0 134.4h.1M243.2 137.0h.1M249.0 140.1h.1M239.6 133.0h.1M252.4 141.0h.1M255.2 141.5h.1M246.4 149.7h.1M236.4 142.1h.1M238.0 139.6h.1M233.4 146.8h.1M245.8 151.6h.1M245.1 151.1h.1M235.4 145.0h.1M248.3 139.8h.1M236.4 139.1h.1M255.6 132.4h.1M247.6 143.4h.1M253.7 142.6h.1M235.3 156.0h.1M233.1 144.6h.1M226.4 148.8h.1M246.2 153.3h.1M232.1 127.9h.1M251.8 137.7h.1M242.2 140.9h.1M247.2 143.8h.1M230.8 133.8h.1M236.3 149.7h.1M242.6 150.0h.1M247.0 146.8h.1M230.8 148.3h.1M243.8 134.1h.1M234.5 151.9h.1M247.6 138.0h.1M239.3 127.8h.1M238.7 143.8h.1M244.6 146.2h.1M250.4 137.4h.1M239.2 129.6h.1M250.9 133.7h.1M233.2 141.6h.1M243.4 122.6h.1M232.2 151.0h.1M242.8 150.8h.1M233.8 141.4h.1M241.4 151.3h.1M246.1 141.5h.1M233.4 133.8h.1M227.1 147.9h.1M239.7 147.3h.1M245.3 135.4h.1M243.0 131.6h.1M233.9 135.0h.1M247.8 152.1h.1M238.8 140.4h.1M247.2 165.2h.1M234.0 137.6h.1M244.6 147.6h.1M250.5 145.4h.1M235.8 141.0h.1M238.8 149.5h.1M246.0 136.0h.1M245.2 142.4h.1M243.9 133.5h.1M240.1 125.4h.1M228.6 143.4h.1M241.0 133.7h.1M230.8 132.4h.1M241.7 147.5h.1M222.4 141.5h.1M252.5 145.9h.1M256.2 156.6h.1M244.6 144.3h.1M234.3 146.4h.1M238.6 133.3h.1M248.1 149.5h.1M246.2 149.6h.1M235.5 134.5h.1M250.5 148.1h.1M246.8 145.4h.1M245.2 141.1h.1M238.2 143.5h.1M241.0 162.2h.1M235.3 137.7h.1M242.5 140.2h.1M235.7 143.7h.1M250.3 141.4h.1M241.3 128.3h.1M242.6 148.0h.1M243.6 150.2h.1M243.5 156.7h.1M229.7 138.3h.1M251.1 132.8h.1M241.7 148.1h.1M236.6 134.6h.1M233.3 142.8h.1M235.5 139.6h.1M236.1 144.4h.1M241.1 139.3h.1M234.1 148.4h.1M241.8 135.5h.1M242.1 161.9h.1M235.5 149.1h.1M258.5 137.9h.1M240.0 135.1h.1M243.6 141.4h.1M241.8 139.1h.1M239.6 136.3h.1M246.2 154.0h.1M251.8 150.6h.1M240.3 134.2h.1M234.1 147.3h.1M245.2 143.0h.1M223.8 149.0h.1M242.1 137.6h.1M239.4 159.9h.1M243.4 143.5h.1M228.9 158.8h.1M237.4 139.1h.1M232.7 153.7h.1M236.5 142.0h.1M245.4 156.2h.1M239.2 141.4h.1M236.0 134.4h.1M250.1 134.3h.1M240.8 137.8h.1M224.7 147.7h.1M232.4 145.9h.1M243.9 143.9h.1M244.1 151.4h.1M242.4 156.0h.1M242.7 134.9h.1M233.5 151.0h.1M239.8 161.4h.1M231.2 138.0h.1M233.9 138.4h.1M233.3 146.2h.1M233.9 144.8h.1M237.8 138.6h.1M238.7 142.4h.1M234.1 155.8h.1M249.0 150.3h.1M236.8 136.5h.1M252.5 129.3h.1M248.3 134.1h.1M230.8 144.4h.1M247.4 136.7h.1M229.3 136.2h.1M251.7 148.7h.1M242.9 140.7h.1M232.4 139.9h.1M223.0 144.7h.1M237.1 154.6h.1M229.5 145.4h.1M248.8 148.5h.1M230.4 143.6h.1M238.3 155.3h.1M244.0 133.1h.1M240.2 134.0h.1M242.2 138.9h.1M238.1 159.2h.1M245.8 155.3h.1M232.7 134.2h.1M244.5 139.3h.1M230.6 147.4h.1M241.4 143.5h.1M231.1 150.1h.1M238.4 139.0h.1M244.6 129.7h.1M249.8 147.9h.1M225.8 153.0h.1M233.9 130.7h.1M232.3 128.0h.1M249.5 139.4h.1M233.1 128.0h.1M245.5 146.4h.1M235.9 133.7h.1M228.6 148.9h.1M240.8 140.2h.1M231.0 144.1h.1M245.7 148.3h.1M246.5 141.4h.1M250.4 134.9h.1M231.9 150.3h.1M252.4 131.2h.1M247.6 154.3h.1M225.8 138.1h.1M283.3 156.2h.1M289.9 146.9h.1M293.8 162.4h.1M282.8 150.4h.1M285.5 155.7h.1M283.5 145.1h.1M294.7 145.7h.1M293.7 154.2h.1M282.3 157.9h.1M285.6 145.1h.1M288.6 161.3h.1M276.4 148.6h.1M284.2 163.6h.1M288.4 140.4h.1M278.8 147.7h.1M288.9 156.0h.1M287.8 150.0h.1M284.1 145.8h.1M294.0 156.0h.1M281.7 158.5h.1M290.2 147.3h.1M286.0 157.0h.1M294.4 147.1h.1M282.7 144.1h.1M291.3 161.3h.1M291.4 146.0h.1M294.7 146.6h.1M297.6 156.9h.1M278.1 142.5h.1M287.1 142.8h.1M280.8 148.5h.1M293.6 151.4h.1M296.1 158.3h.1M285.7 149.1h.1M289.1 145.2h.1M295.7 140.0h.1M288.8 147.9h.1M286.7 146.8h.1M277.3 159.8h.1M283.1 137.3h.1M293.8 135.9h.1M278.4 135.1h.1M289.4 148.6h.1M288.9 154.2h.1M287.5 163.9h.1M292.5 137.1h.1M282.9 151.8h.1M296.2 145.4h.1M284.8 163.9h.1M293.9 153.4h.1M283.9 163.1h.1M289.2 150.3h.1M285.5 159.4h.1M298.1 153.5h.1M281.0 145.2h.1M283.6 158.3h.1M296.7 148.0h.1M292.6 131.8h.1M287.3 149.6h.1M285.9 140.3h.1M279.5 154.9h.1M285.8 163.2h.1M289.8 153.0h.1M295.1 155.1h.1M293.4 140.3h.1M296.6 143.9h.1M290.0 145.6h.1M285.4 147.0h.1M297.2 152.8h.1M288.2 135.2h.1M296.4 146.3h.1M277.6 151.5h.1M284.5 149.3h.1M282.5 148.0h.1M289.2 154.1h.1M282.6 154.5h.1M279.2 140.4h.1M287.1 139.3h.1M273.2 155.1h.1M283.8 157.2h.1M290.2 139.1h.1M280.3 156.1h.1M287.2 138.8h.1M282.0 149.0h.1M285.4 161.0h.1M289.1 136.8h.1M290.5 150.4h.1M290.3 148.6h.1M282.8 140.9h.1M297.2 156.7h.1M289.6 142.5h.1M283.5 144.8h.1M296.0 141.2h.1M285.1 154.0h.1M299.9 155.0h.1M292.9 161.7h.1M286.9 148.3h.1M284.6 143.4h.1M282.3 162.8h.1M282.6 145.2h.1M285.8 156.0h.1M296.1 163.8h.1M288.8 156.9h.1M287.1 135.1h.1M290.3 141.5h.1M285.6 143.7h.1M279.7 157.3h.1M278.2 143.7h.1M296.6 156.7h.1M285.9 152.1h.1M297.8 151.6h.1M299.7 150.1h.1M289.4 143.9h.1M292.5 161.7h.1M285.4 151.3h.1M286.8 162.8h.1M288.2 142.6h.1M287.6 136.0h.1M297.2 161.9h.1M287.1 140.4h.1M293.4 151.1h.1M288.5 147.0h.1M291.7 148.8h.1M299.4 147.3h.1M277.8 140.9h.1M295.1 140.0h.1M283.7 151.9h.1M289.0 144.1h.1M285.5 164.5h.1M284.7 150.7h.1M279.0 161.8h.1M270.6 146.0h.1M301.4 156.7h.1M293.2 145.0h.1M286.2 142.1h.1M275.8 148.0h.1M292.0 148.3h.1M290.5 138.8h.1M276.7 144.5h.1M284.4 156.0h.1M289.4 148.6h.1M287.2 151.2h.1M294.8 156.5h.1M281.5 148.8h.1M283.6 143.9h.1M271.7 138.5h.1M295.0 149.4h.1M291.8 154.5h.1M284.9 151.7h.1M276.1 159.8h.1M293.3 146.4h.1M278.5 152.3h.1M279.4 142.9h.1M275.2 133.7h.1M278.4 154.8h.1M281.5 145.9h.1M280.6 155.3h.1M294.7 144.7h.1M292.2 136.9h.1M288.1 142.2h.1M283.9 147.3h.1M287.3 144.1h.1M279.0 147.5h.1M290.1 154.5h.1M281.5 149.7h.1M284.2 153.8h.1M289.7 148.5h.1M281.8 144.0h.1M278.5 141.5h.1M294.2 131.3h.1M276.3 154.7h.1M279.2 159.1h.1M279.9 141.4h.1M282.8 141.8h.1M286.6 142.6h.1M266.5 152.6h.1M284.2 150.6h.1M296.7 147.8h.1M295.3 149.3h.1M293.3 135.7h.1M287.0 148.7h.1M288.9 148.1h.1M283.9 153.8h.1M276.6 143.7h.1M289.8 145.3h.1M294.5 151.5h.1M287.3 144.7h.1M289.6 142.0h.1M294.8 150.2h.1M284.7 141.9h.1M275.7 161.3h.1M290.7 150.9h.1M293.3 151.5h.1M282.4 158.5h.1M289.0 160.8h.1M292.2 144.3h.1M269.6 151.9h.1M303.6 145.7h.1M292.6 159.6h.1M286.2 132.1h.1M277.1 147.9h.1M309.4 132.4h.1M285.3 152.2h.1M292.1 142.8h.1M283.2 150.1h.1M285.4 150.9h.1M291.8 158.9h.1M281.3 134.5h.1M287.0 153.2h.1M286.2 159.6h.1M290.7 138.9h.1M293.1 156.2h.1M286.3 156.7h.1M296.7 145.3h.1M284.3 133.7h.1M284.9 151.2h.1M288.1 145.9h.1M285.8 163.1h.1M292.6 147.9h.1M268.7 155.8h.1M275.8 152.8h.1M273.1 151.5h.1M296.8 139.4h.1M292.9 143.8h.1M282.9 150.8h.1M290.1 149.2h.1M275.8 149.0h.1M285.5 156.4h.1M297.3 150.3h.1M291.8 155.9h.1M301.6 150.7h.1M284.2 153.1h.1M295.1 145.5h.1M288.2 137.3h.1M289.6 157.1h.1M289.2 157.2h.1M292.6 155.4h.1M296.3 143.1h.1M288.0 159.2h.1M290.0 150.7h.1M286.9 151.3h.1M289.5 144.3h.1M282.2 145.8h.1M294.2 144.6h.1M292.2 153.0h.1M289.7 144.1h.1M287.5 149.7h.1M283.2 145.3h.1M281.3 139.1h.1M280.2 150.4h.1M282.4 151.0h.1M293.7 150.5h.1M290.4 125.0h.1M278.2 158.6h.1M281.2 149.8h.1M296.5 141.8h.1M293.2 150.1h.1M301.6 156.1h.1M283.1 151.0h.1M290.6 130.4h.1M283.5 160.0h.1M302.4 140.3h.1M290.6 159.0h.1M290.5 148.8h.1M290.2 142.7h.1M283.2 129.3h.1M287.4 145.9h.1M272.7 141.4h.1M284.9 150.2h.1M281.2 140.6h.1M293.0 155.9h.1M296.7 145.4h.1M289.7 146.1h.1M280.6 156.5h.1M292.8 144.4h.1M286.1 153.0h.1M286.2 136.3h.1M280.8 143.6h.1M289.5 148.4h.1M289.3 143.6h.1M293.2 141.4h.1M281.8 155.2h.1M287.7 144.8h.1M278.6 143.1h.1M289.5 144.8h.1M288.0 144.3h.1M285.5 156.5h.1M293.9 152.3h.1M279.6 137.3h.1M298.3 161.0h.1M290.7 158.9h.1M291.8 147.4h.1M289.8 141.5h.1M283.4 150.0h.1M284.3 145.0h.1M294.3 154.1h.1M287.9 149.5h.1M290.1 160.4h.1M285.7 136.2h.1M293.6 144.7h.1M292.3 152.2h.1M279.5 145.7h.1M301.0 146.3h.1M294.9 140.2h.1M290.2 148.3h.1M287.7 155.6h.1M293.7 143.3h.1M305.1 145.9h.1M287.5 149.2h.1M280.8 163.5h.1M287.9 161.2h.1M294.4 162.5h.1M280.0 162.2h.1M285.1 148.0h.1M286.0 144.0h.1M294.5 160.7h.1M295.4 143.8h.1M289.4 154.3h.1M295.1 144.7h.1M288.7 141.1h.1M288.7 150.3h.1M272.9 142.4h.1M282.1 147.3h.1M280.6 157.1h.1M290.9 148.2h.1M288.4 158.1h.1M280.8 146.1h.1M288.2 152.7h.1M287.1 141.4h.1M290.4 160.8h.1M284.2 132.8h.1M283.1 152.2h.1M295.9 154.4h.1M286.1 128.1h.1M294.5 136.2h.1M282.0 137.1h.1M286.3 149.1h.1M285.7 147.6h.1M281.4 147.0h.1M292.5 154.9h.1M289.3 141.3h.1M273.7 152.8h.1M292.3 150.1h.1M288.0 158.8h.1M295.2 132.1h.1M301.0 136.3h.1M283.3 140.8h.1M287.8 140.7h.1M279.3 151.8h.1M284.7 145.8h.1M288.1 133.0h.1M288.0 143.5h.1M292.9 136.3h.1M291.0 143.4h.1M294.1 148.1h.1M283.2 143.2h.1M288.7 159.9h.1M286.6 153.9h.1M269.8 136.9h.1M287.0 161.6h.1M284.6 148.2h.1M285.0 152.9h.1M276.5 158.8h.1M283.4 151.4h.1M283.7 160.2h.1M289.1 154.3h.1M290.6 144.6h.1M284.7 145.6h.1M286.7 147.6h.1M289.9 144.0h.1M281.8 160.6h.1M294.2 152.4h.1M300.9 148.1h.1M290.1 156.4h.1M284.5 150.4h.1M289.0 158.4h.1M295.2 163.2h.1M295.9 151.1h.1M278.9 144.8h.1M289.7 139.9h.1M282.9 164.4h.1M284.7 152.9h.1M289.4 144.7h.1M291.1 148.9h.1M285.8 140.3h.1M282.1 160.9h.1M286.3 152.2h.1M280.9 146.7h.1M298.9 137.4h.1M291.5 150.7h.1M288.3 131.2h.1M287.7 144.9h.1M280.8 149.4h.1M284.4 150.9h.1M285.4 140.6h.1M284.1 159.3h.1M286.0 154.5h.1M288.3 150.0h.1M284.7 144.2h.1M290.4 134.9h.1M292.3 145.9h.1M284.1 147.9h.1M292.3 139.8h.1M287.9 152.1h.1M283.9 156.3h.1M290.6 145.7h.1M294.7 146.3h.1M285.5 149.5h.1M275.7 163.5h.1M292.6 161.5h.1M294.0 135.9h.1M280.3 145.5h.1M290.5 146.9h.1M272.1 164.3h.1M292.5 153.9h.1M292.2 160.2h.1M292.7 146.7h.1M297.2 150.4h.1M280.7 154.2h.1M293.6 149.6h.1M302.2 149.2h.1M272.8 161.6h.1M285.0 148.4h.1M292.0 160.7h.1M282.8 144.7h.1M275.6 147.1h.1M289.4 155.8h.1M288.5 154.0h.1M282.7 157.8h.1M289.0 150.1h.1M293.3 149.5h.1M293.9 145.8h.1M290.1 136.6h.1M279.3 146.3h.1M285.4 158.4h.1M272.6 149.2h.1M280.4 151.4h.1M288.4 160.1h.1M290.9 142.1h.1M287.2 152.6h.1M287.2 145.1h.1M274.6 159.1h.1M279.0 137.6h.1M279.8 146.8h.1M283.4 145.5h.1M283.4 147.0h.1M301.5 145.1h.1M293.8 165.3h.1M280.6 147.9h.1M282.9 148.5h.1M283.7 137.8h.1M283.4 138.8h.1M283.8 143.5h.1M273.9 139.7h.1M294.8 154.0h.1M291.6 144.9h.1M291.4 146.0h.1M287.9 148.6h.1M290.2 142.2h.1M284.9 139.3h.1M274.3 144.2h.1M288.0 151.4h.1M287.4 148.9h.1M278.6 142.7h.1M272.6 162.9h.1M294.6 152.8h.1M280.5 155.3h.1M285.8 162.4h.1M282.6 142.2h.1M298.1 157.7h.1M277.5 151.9h.1M294.0 152.2h.1M270.7 137.2h.1M293.2 143.1h.1M283.9 149.8h.1M272.5 149.4h.1M287.5 162.5h.1M286.7 146.7h.1M276.6 151.8h.1M289.5 147.2h.1M286.9 139.0h.1M290.3 146.9h.1M278.0 150.6h.1M282.2 164.1h.1M280.8 160.0h.1M287.9 145.4h.1M283.7 142.4h.1M280.6 149.6h.1M296.1 145.1h.1M294.3 156.8h.1M292.6 149.4h.1M282.4 145.4h.1M275.1 141.0h.1M288.4 149.1h.1M291.6 128.7h.1M294.8 146.7h.1M289.7 146.1h.1M290.0 162.4h.1M283.0 135.4h.1M282.4 157.3h.1M308.2 147.1h.1M294.6 156.3h.1M278.5 143.8h.1M289.1 153.2h.1M290.1 156.8h.1M285.3 143.3h.1M290.9 148.8h.1M298.0 149.0h.1M297.8 145.0h.1M284.9 149.1h.1M285.1 150.1h.1M284.1 147.1h.1M288.7 135.8h.1M292.8 152.1h.1M280.4 138.0h.1M286.0 149.2h.1M283.3 158.2h.1M282.1 139.4h.1M283.8 148.8h.1M299.2 151.5h.1M298.6 149.5h.1M296.8 146.1h.1M276.3 150.1h.1M289.2 155.5h.1M302.9 141.6h.1M289.9 148.6h.1M282.6 155.8h.1M291.1 145.0h.1M285.5 140.1h.1M284.6 156.2h.1M288.9 155.6h.1M290.4 157.8h.1M286.1 149.8h.1M287.1 144.6h.1M280.5 162.4h.1M286.9 160.1h.1M291.9 156.5h.1M287.8 145.9h.1M286.1 150.9h.1M277.8 142.7h.1M294.6 141.4h.1M279.6 150.7h.1M291.7 152.6h.1M284.9 154.6h.1M292.5 150.8h.1M285.2 142.0h.1M267.3 160.7h.1M273.8 146.7h.1M280.8 157.7h.1M281.2 142.5h.1M300.3 161.8h.1M291.6 136.9h.1M286.4 160.7h.1M296.1 151.6h.1M286.0 157.5h.1M292.9 150.1h.1M289.7 149.0h.1M274.6 138.8h.1M293.6 146.3h.1M298.8 149.9h.1M285.0 136.4h.1M292.3 142.1h.1M290.7 150.2h.1M285.5 153.8h.1M284.8 146.4h.1M293.8 161.6h.1M283.1 145.9h.1M283.8 155.3h.1M292.9 160.9h.1M293.4 143.8h.1M297.6 159.7h.1M283.5 149.1h.1M278.6 143.3h.1M294.5 163.4h.1M277.2 163.7h.1M284.6 147.7h.1M285.9 159.1h.1M298.6 158.4h.1M287.5 150.1h.1M287.2 149.4h.1M296.1 144.9h.1M275.5 150.6h.1M278.7 149.5h.1M294.1 146.8h.1M288.1 148.1h.1M280.7 139.4h.1M286.0 155.4h.1M287.8 139.2h.1M279.8 159.5h.1M283.6 156.1h.1M296.9 147.2h.1M289.4 147.2h.1M294.7 145.0h.1M287.1 150.5h.1M283.7 164.8h.1M289.4 153.1h.1M281.3 146.9h.1M289.7 164.9h.1M285.3 147.2h.1M285.4 147.5h.1M281.1 156.0h.1M296.3 160.3h.1M277.5 155.6h.1M288.8 154.9h.1M279.1 156.1h.1M293.3 156.8h.1M288.6 140.9h.1M290.4 130.9h.1M289.7 148.2h.1M288.6 138.3h.1M289.7 151.8h.1M289.6 140.7h.1M284.3 150.8h.1M285.4 159.6h.1M285.8 146.3h.1M282.7 144.4h.1M283.8 157.0h.1M296.0 144.3h.1M278.0 149.8h.1M298.4 149.3h.1M283.9 139.9h.1M291.4 158.2h.1M287.4 141.5h.1M286.2 157.9h.1M291.0 153.6h.1M298.4 141.7h.1M286.6 147.6h.1M287.1 157.5h.1M283.8 148.1h.1M295.0 142.3h.1M294.7 160.3h.1M287.6 136.8h.1M275.0 148.3h.1M290.5 158.7h.1M275.7 134.7h.1M283.3 152.7h.1M293.7 141.3h.1M283.6 139.5h.1M282.9 144.3h.1M273.5 145.9h.1M292.0 146.3h.1M290.1 145.4h.1M284.2 143.2h.1M289.7 128.8h.1M276.9 161.5h.1M288.6 154.1h.1M293.1 148.0h.1M287.2 142.2h.1M279.3 152.6h.1M284.2 152.7h.1M294.6 142.9h.1M283.5 148.8h.1M289.0 156.5h.1M290.2 152.7h.1M283.8 149.9h.1M287.5 151.3h.1M275.7 144.3h.1M283.6 149.8h.1M287.6 150.9h.1M291.5 144.2h.1M295.8 149.3h.1M284.2 157.8h.1M290.4 158.9h.1M286.5 132.2h.1M282.2 138.4h.1M282.3 158.6h.1M286.9 153.8h.1M287.4 153.9h.1M282.4 138.7h.1M305.2 150.9h.1M287.1 155.1h.1M291.6 153.8h.1M285.6 144.3h.1M305.4 145.5h.1M272.8 152.9h.1M285.0 151.8h.1M288.5 161.1h.1M295.0 131.5h.1M287.0 145.4h.1M280.9 160.5h.1M297.5 140.8h.1M291.6 151.2h.1M285.6 162.2h.1M285.7 141.9h.1M285.7 153.0h.1M276.2 139.7h.1M288.2 133.8h.1M283.3 159.0h.1M290.4 146.2h.1M289.4 149.8h.1M280.5 150.9h.1M296.0 160.5h.1M292.2 147.9h.1M281.4 158.5h.1M280.4 156.6h.1M282.8 150.2h.1M289.5 159.0h.1M295.4 152.8h.1M281.4 149.5h.1M290.6 133.6h.1M286.9 140.6h.1M286.9 141.7h.1M286.5 146.7h.1M285.2 151.7h.1M298.6 148.4h.1M285.1 145.9h.1M295.4 141.2h.1M299.5 150.3h.1M290.3 146.6h.1M289.2 146.1h.1M284.1 157.9h.1M288.0 152.8h.1M288.7 159.6h.1M295.7 141.3h.1M281.1 155.3h.1M276.7 150.3h.1M284.0 145.0h.1M289.6 137.1h.1M274.3 149.5h.1M285.9 140.5h.1M282.0 156.2h.1M280.0 154.0h.1M288.1 154.1h.1M278.4 160.7h.1M288.7 133.3h.1M286.1 155.1h.1M291.4 151.9h.1M287.2 151.9h.1M283.1 146.0h.1M292.9 157.8h.1M290.0 126.6h.1M280.6 139.0h.1M274.3 155.3h.1M282.6 151.7h.1M288.5 157.8h.1M292.2 146.9h.1M283.5 145.6h.1M284.7 156.6h.1M275.5 151.5h.1M284.2 135.6h.1M287.9 158.0h.1M283.4 141.0h.1M286.5 157.5h.1M280.8 151.7h.1M281.3 154.9h.1M288.9 158.6h.1M277.1 141.6h.1M287.2 155.6h.1M294.8 149.6h.1M283.4 148.0h.1M283.9 150.1h.1M281.7 145.9h.1M278.7 150.4h.1M283.3 152.1h.1M278.9 144.7h.1M285.6 159.2h.1M283.5 150.9h.1M279.7 140.9h.1M287.2 153.9h.1M293.5 154.4h.1M292.1 138.1h.1M285.2 152.5h.1M286.8 146.9h.1M280.2 152.2h.1M285.4 148.6h.1M291.2 153.3h.1M291.8 151.6h.1M295.6 131.0h.1M277.2 150.7h.1M297.0 154.7h.1M289.4 156.1h.1M296.9 160.4h.1M286.9 152.9h.1M294.8 161.1h.1M286.7 157.3h.1M280.1 146.1h.1M288.9 144.3h.1M283.6 160.8h.1M286.6 156.0h.1M290.2 135.4h.1M291.9 141.3h.1M291.1 159.8h.1M293.1 151.4h.1M276.9 135.6h.1M294.3 153.8h.1M281.5 158.4h.1M287.5 155.6h.1M284.2 149.7h.1M279.4 148.4h.1M292.6 145.6h.1M280.3 145.8h.1M283.3 152.4h.1M276.0 148.7h.1M293.0 137.7h.1M284.2 149.3h.1M291.9 147.7h.1M286.8 148.0h.1M283.8 136.1h.1M291.4 149.5h.1M282.3 144.6h.1M283.3 150.5h.1M288.4 137.1h.1M279.8 150.4h.1M277.6 139.9h.1M276.2 143.1h.1M292.9 144.6h.1M299.3 145.5h.1M294.5 145.5h.1M282.8 145.3h.1M283.5 144.9h.1M280.5 144.2h.1M286.9 145.2h.1M293.6 147.1h.1M286.8 157.8h.1M266.0 145.0h.1M288.9 138.6h.1M279.2 159.6h.1M285.3 149.9h.1M289.2 153.0h.1M287.7 159.8h.1M291.7 134.1h.1M296.8 144.9h.1M272.2 151.6h.1M276.9 161.8h.1M297.6 149.4h.1M290.1 150.7h.1M282.3 149.8h.1M285.3 149.7h.1M287.1 151.3h.1M293.8 145.3h.1M284.9 144.1h.1M287.0 146.9h.1M278.4 155.3h.1M296.5 159.9h.1M290.0 151.2h.1M284.0 147.8h.1M278.4 160.4h.1M286.9 154.8h.1M292.8 156.3h.1M302.0 149.0h.1M299.5 146.6h.1M284.7 154.2h.1M284.4 148.8h.1M280.8 159.9h.1M290.1 142.7h.1M282.2 152.8h.1M290.9 150.2h.1M289.3 141.6h.1M289.9 147.1h.1M280.8 141.3h.1M294.7 147.1h.1M285.9 147.8h.1M287.0 141.4h.1M288.4 155.5h.1M287.6 146.2h.1M293.4 153.1h.1M295.0 147.3h.1M302.0 143.4h.1M286.6 162.1h.1M295.1 159.5h.1M270.4 135.5h.1M299.5 148.9h.1M287.1 147.1h.1M295.5 136.7h.1M285.7 151.5h.1M290.8 154.3h.1M291.4 150.5h.1M283.3 154.0h.1M283.6 164.9h.1M268.5 146.3h.1M290.9 160.6h.1M285.8 125.8h.1M295.3 148.2h.1M289.6 161.5h.1M288.8 153.0h.1M275.0 145.0h.1M288.3 162.1h.1M285.4 157.6h.1M293.7 136.7h.1M284.1 157.0h.1M279.3 148.6h.1M285.8 151.8h.1M299.4 140.3h.1M281.6 154.7h.1M295.7 151.5h.1M286.2 142.3h.1M274.1 147.3h.1M291.4 162.1h.1M302.7 163.0h.1M290.3 137.7h.1M280.4 154.4h.1M285.9 147.7h.1M281.6 145.9h.1M306.0 152.3h.1M290.9 162.9h.1M271.9 154.8h.1M292.7 142.2h.1M290.3 150.7h.1M280.6 154.0h.1M283.3 159.5h.1M286.9 149.7h.1M298.6 151.4h.1M283.9 152.2h.1M282.4 155.7h.1M293.6 134.5h.1M283.2 161.9h.1M280.5 152.9h.1M286.4 150.3h.1M292.7 141.1h.1M288.3 152.5h.1M296.7 145.3h.1M296.4 136.6h.1M276.9 153.9h.1M279.8 150.5h.1M281.3 149.9h.1M285.9 137.5h.1M288.4 153.8h.1M286.8 155.6h.1M287.8 114.0h.1M290.3 151.6h.1M278.9 156.7h.1M273.1 142.7h.1M289.3 132.3h.1M295.5 151.0h.1M284.6 153.3h.1M285.2 153.1h.1M278.8 148.4h.1M284.9 143.7h.1M292.3 162.2h.1M289.5 139.1h.1M291.8 145.1h.1M284.1 146.8h.1M291.0 152.8h.1M296.7 150.7h.1M285.2 137.8h.1M284.2 140.4h.1M295.4 164.7h.1M288.0 151.0h.1M279.8 150.3h.1M284.7 147.4h.1M296.0 152.7h.1M289.8 144.0h.1M299.6 159.7h.1M291.6 157.5h.1M289.1 150.2h.1M294.3 158.0h.1M283.5 148.9h.1M294.4 146.7h.1M286.9 158.6h.1M285.8 149.5h.1M290.0 143.5h.1M284.4 163.7h.1M280.1 148.7h.1M281.6 154.1h.1M290.8 163.0h.1M289.4 139.6h.1M288.0 147.7h.1M292.2 158.5h.1M281.7 147.8h.1M284.8 146.6h.1M298.1 149.1h.1M281.3 147.8h.1M295.8 147.7h.1M285.7 153.7h.1M290.9 151.1h.1M289.0 164.9h.1M285.8 153.1h.1M288.2 164.4h.1M293.7 151.5h.1M283.0 165.0h.1M281.3 149.3h.1M293.1 160.7h.1M284.9 151.8h.1M286.4 164.0h.1M286.3 143.8h.1M284.8 146.5h.1M275.8 153.7h.1M286.9 142.3h.1M284.5 162.7h.1M278.8 148.9h.1M283.9 154.9h.1M289.0 159.1h.1M298.7 155.5h.1M284.0 144.2h.1M296.2 139.2h.1M284.6 136.4h.1M290.5 142.8h.1M285.9 144.1h.1M292.4 143.7h.1M288.4 154.2h.1M285.0 139.0h.1M277.5 136.8h.1M293.9 151.9h.1M277.8 165.4h.1M283.6 142.6h.1M299.0 149.4h.1M289.1 149.9h.1M288.1 159.5h.1M288.4 157.6h.1M289.1 146.6h.1M285.3 158.1h.1M289.7 150.9h.1M286.5 157.1h.1M285.4 165.6h.1M290.6 132.0h.1M291.6 138.4h.1M289.8 139.0h.1M293.7 139.9h.1M299.6 151.2h.1M298.7 151.3h.1M288.2 164.9h.1M280.5 162.2h.1M295.0 152.7h.1M288.3 149.2h.1M292.6 155.9h.1M285.3 153.9h.1M293.1 146.3h.1M280.4 156.1h.1M288.7 146.0h.1M279.0 149.5h.1M300.7 149.0h.1M286.0 145.3h.1M274.2 144.8h.1M295.9 150.8h.1M293.9 149.2h.1M296.5 139.9h.1M280.4 164.2h.1M290.1 164.5h.1M296.2 164.0h.1M286.5 160.1h.1M290.2 149.4h.1M286.3 142.3h.1M285.8 141.7h.1M296.6 135.6h.1M282.8 147.4h.1M288.0 135.7h.1M291.5 151.1h.1M288.0 152.4h.1M293.2 145.6h.1M275.0 145.6h.1M295.1 149.6h.1M280.2 154.9h.1M286.4 147.3h.1M285.6 164.3h.1M290.8 142.7h.1M286.6 144.9h.1M285.0 146.1h.1M292.2 148.4h.1M301.0 151.9h.1M283.9 154.6h.1M283.5 147.3h.1M284.0 163.3h.1M279.9 134.6h.1M280.0 152.3h.1M284.7 150.4h.1M292.3 138.7h.1M284.5 138.1h.1M282.5 150.9h.1M287.0 159.5h.1M282.6 153.3h.1M305.1 149.3h.1M297.6 147.3h.1M287.9 145.8h.1M276.9 146.6h.1M284.1 155.2h.1M281.9 158.8h.1M282.1 154.4h.1M273.8 144.2h.1M284.3 154.6h.1M283.9 158.4h.1M283.4 134.7h.1M279.4 152.5h.1M290.0 145.4h.1M282.2 150.8h.1M273.2 139.3h.1M281.1 141.1h.1M292.7 148.9h.1M295.3 145.3h.1M280.4 145.7h.1M286.5 142.5h.1M291.1 153.4h.1M293.4 158.6h.1M284.6 141.8h.1M289.4 151.9h.1M284.8 146.1h.1M276.0 151.9h.1M293.4 159.0h.1M287.1 151.9h.1M290.2 148.8h.1M286.2 141.1h.1M282.0 159.0h.1M284.4 163.3h.1M289.7 133.9h.1M279.4 154.5h.1M297.4 148.3h.1M302.1 139.2h.1M273.0 164.0h.1M293.4 154.1h.1M291.4 143.2h.1M288.7 145.9h.1M286.4 137.4h.1M293.3 150.3h.1M288.2 135.8h.1M297.0 147.1h.1M289.6 159.2h.1M278.4 154.1h.1M286.5 157.7h.1M287.6 150.8h.1M283.9 156.0h.1M279.8 148.7h.1M300.1 139.3h.1M287.1 153.7h.1M287.4 149.2h.1M277.3 143.1h.1M291.2 140.6h.1M286.9 159.7h.1M294.6 136.1h.1M298.4 142.8h.1M283.5 152.7h.1M283.0 154.7h.1M295.0 151.7h.1M294.5 137.2h.1M289.6 158.7h.1M292.3 148.8h.1M285.7 137.6h.1M287.5 158.6h.1M287.6 148.9h.1M274.1 134.5h.1M292.4 127.8h.1M292.6 148.4h.1M281.8 144.5h.1M284.2 151.9h.1M289.6 150.9h.1M292.2 143.2h.1M287.7 153.2h.1M284.7 151.5h.1M290.3 140.9h.1M288.4 156.2h.1M281.3 151.3h.1M285.6 148.2h.1M285.3 152.6h.1M291.9 143.0h.1M279.3 143.1h.1M282.5 148.8h.1M285.2 141.9h.1M287.8 162.2h.1M302.7 151.7h.1M286.5 155.7h.1M294.3 164.5h.1M292.6 161.7h.1M298.6 142.7h.1M291.3 163.4h.1M281.5 146.4h.1M285.4 148.1h.1M297.2 151.6h.1M301.3 150.6h.1M295.8 149.7h.1M302.9 152.5h.1M292.0 162.5h.1M282.4 131.8h.1M288.3 137.9h.1M289.5 139.2h.1M293.5 152.4h.1M293.1 150.9h.1M282.1 153.2h.1M295.2 165.6h.1M284.1 150.2h.1M289.4 138.2h.1M291.8 153.5h.1M292.1 165.0h.1M284.2 149.5h.1M286.8 151.3h.1M293.6 152.7h.1M284.7 154.9h.1M280.2 148.8h.1M271.5 146.1h.1M287.8 162.9h.1M281.9 162.7h.1M287.7 150.2h.1M280.8 145.2h.1M284.8 144.9h.1M285.3 140.5h.1M293.7 139.8h.1M282.0 147.7h.1M280.0 144.0h.1M288.3 152.3h.1M292.9 145.8h.1M281.8 142.4h.1M290.8 146.8h.1M287.7 129.3h.1M290.8 153.0h.1M275.7 148.0h.1M288.2 161.3h.1M286.0 146.3h.1M288.9 148.7h.1M283.2 142.4h.1M273.6 152.3h.1M287.4 160.1h.1M296.3 147.2h.1M288.8 154.8h.1M288.0 142.2h.1M289.8 144.9h.1M296.6 147.5h.1M283.2 142.6h.1M278.2 156.0h.1M280.5 156.9h.1M283.2 159.7h.1M288.1 142.4h.1M292.8 145.1h.1M282.8 149.6h.1M281.0 155.3h.1M293.2 139.5h.1M294.4 147.7h.1M282.6 158.4h.1M292.4 150.7h.1M286.3 149.0h.1M284.4 140.5h.1M286.7 147.1h.1M282.0 155.6h.1M276.6 158.2h.1M278.4 136.0h.1M282.6 153.1h.1M289.4 146.8h.1M290.0 142.1h.1M293.0 164.9h.1M282.4 155.2h.1M287.3 140.8h.1M278.2 141.3h.1M281.1 151.2h.1M294.0 137.5h.1M286.6 148.0h.1M299.5 153.8h.1M291.8 138.8h.1M284.4 151.1h.1M283.0 153.2h.1M274.1 144.2h.1M295.9 152.7h.1M293.8 155.1h.1M310.6 153.1h.1M300.8 144.1h.1M289.6 156.6h.1M280.7 146.9h.1M276.1 151.3h.1M285.0 150.1h.1M287.3 149.5h.1M278.0 133.0h.1M291.9 158.1h.1M293.7 153.5h.1M281.1 150.6h.1M285.8 154.6h.1M278.4 146.1h.1M294.0 148.3h.1M281.7 153.7h.1M280.1 131.8h.1M274.7 143.4h.1M280.8 144.6h.1M276.2 147.0h.1M294.3 145.1h.1M291.5 143.1h.1M279.5 151.5h.1M281.6 156.0h.1M286.9 153.2h.1M288.1 157.9h.1M280.5 153.7h.1M296.1 161.7h.1M291.5 162.6h.1M300.5 145.7h.1M269.4 142.8h.1M277.1 144.6h.1M292.1 146.7h.1M288.8 155.5h.1M285.6 153.8h.1M279.9 151.3h.1M290.7 144.0h.1M284.1 146.1h.1M296.2 147.9h.1M294.6 151.4h.1M293.4 124.7h.1M275.4 151.6h.1M289.5 153.6h.1M298.9 143.6h.1M299.4 161.3h.1M295.5 155.9h.1M294.9 155.3h.1M282.4 136.4h.1M297.0 156.1h.1M299.7 150.8h.1M290.2 151.2h.1M290.8 130.6h.1M286.5 136.7h.1M288.7 147.0h.1M285.5 138.5h.1M290.6 160.3h.1M286.3 140.3h.1M277.5 155.7h.1M283.4 152.5h.1M288.8 150.0h.1M297.0 161.8h.1M293.7 145.9h.1M295.9 140.1h.1M287.1 152.5h.1M294.5 160.2h.1M282.8 145.1h.1M283.1 158.2h.1M293.3 154.5h.1M289.0 149.7h.1M282.3 151.4h.1M293.7 150.8h.1M297.0 144.6h.1M292.5 150.9h.1M296.0 153.1h.1M293.5 143.6h.1M293.5 128.1h.1M282.2 155.0h.1M275.3 144.0h.1M285.2 154.3h.1M266.3 142.6h.1M283.8 152.9h.1M280.1 147.8h.1M288.2 147.0h.1M282.8 149.2h.1M287.4 152.6h.1M281.6 135.1h.1M285.7 160.0h.1M297.2 158.1h.1M280.7 152.4h.1M276.0 136.1h.1M296.6 156.7h.1M292.5 149.7h.1M287.2 163.3h.1M284.8 145.9h.1M289.4 148.1h.1M285.0 157.8h.1M293.7 131.9h.1M285.4 146.4h.1M283.3 148.2h.1M291.0 130.5h.1M282.1 141.8h.1M291.0 151.6h.1M279.7 152.5h.1M283.9 163.4h.1M288.6 157.6h.1M282.8 138.6h.1M293.8 156.2h.1M286.8 152.9h.1M288.8 150.6h.1M274.5 140.2h.1M291.1 165.2h.1M288.0 164.3h.1M274.4 152.2h.1M289.0 143.0h.1M289.6 140.3h.1M282.7 140.4h.1M280.2 157.1h.1M278.2 135.6h.1M287.5 159.2h.1M287.6 148.3h.1M286.0 152.7h.1M300.6 156.1h.1M288.4 155.9h.1M277.0 148.4h.1M289.4 152.9h.1M293.4 150.9h.1M281.5 150.1h.1M301.0 150.6h.1M283.7 141.5h.1M288.3 152.4h.1M284.9 138.5h.1M284.8 159.2h.1M268.6 146.7h.1M293.0 140.1h.1M273.0 155.3h.1M295.5 155.5h.1M280.1 150.7h.1M283.9 137.2h.1M303.7 139.0h.1M281.0 154.3h.1M279.2 152.0h.1M286.1 152.3h.1M290.0 154.7h.1M297.6 142.6h.1M270.2 159.1h.1M286.9 144.6h.1M291.2 150.2h.1M293.2 143.1h.1M282.3 139.8h.1M287.9 143.5h.1M299.6 142.1h.1M289.8 146.5h.1M301.2 162.7h.1M279.5 152.3h.1M282.7 145.2h.1M287.6 153.3h.1M280.7 145.1h.1M291.6 159.3h.1M280.0 156.5h.1M289.6 146.9h.1M277.5 149.5h.1M281.8 150.5h.1M289.0 141.5h.1M291.3 140.3h.1M281.1 148.8h.1M277.5 142.4h.1M291.0 149.7h.1M280.8 157.0h.1M290.0 148.1h.1M295.9 154.8h.1M291.6 164.6h.1M277.4 146.4h.1M295.5 161.9h.1M294.7 143.1h.1M283.5 140.4h.1M284.6 151.5h.1M296.7 148.6h.1M289.5 137.8h.1M290.2 160.7h.1M294.6 157.1h.1M290.9 141.9h.1M305.9 148.3h.1M296.5 149.3h.1M288.5 139.7h.1M288.3 152.7h.1M285.5 138.7h.1M295.4 135.6h.1M279.7 162.0h.1M293.3 144.8h.1M283.6 143.7h.1M275.4 148.1h.1M293.9 144.0h.1M289.4 153.8h.1M285.5 157.0h.1M287.4 157.4h.1M296.3 131.4h.1M296.5 156.5h.1M287.3 151.5h.1M287.7 150.7h.1M289.5 159.7h.1M293.5 155.2h.1M289.1 135.6h.1M284.6 152.1h.1M286.1 148.6h.1M289.5 159.3h.1M286.7 132.7h.1M285.1 155.3h.1M295.7 151.2h.1M290.4 155.5h.1M293.6 153.3h.1M281.9 132.6h.1M293.1 155.8h.1M287.8 149.7h.1M286.0 143.4h.1M283.2 157.9h.1M283.5 149.6h.1M284.6 163.8h.1M288.4 159.0h.1M287.1 140.7h.1M300.8 156.5h.1M290.8 150.0h.1M289.3 149.8h.1M287.1 148.8h.1M282.5 158.5h.1M282.4 143.3h.1M290.0 153.6h.1M277.8 137.2h.1M298.3 152.7h.1M298.0 139.5h.1M278.0 139.4h.1M295.6 149.6h.1M294.9 140.6h.1M295.1 159.2h.1M292.2 140.8h.1M298.5 163.4h.1M282.5 156.8h.1M284.7 150.8h.1M291.7 155.3h.1M288.1 151.7h.1M293.1 154.2h.1M294.5 145.1h.1M286.3 153.2h.1M290.2 147.2h.1M294.0 149.4h.1M274.0 145.1h.1M284.1 145.6h.1M282.1 157.1h.1M286.8 149.7h.1M279.7 156.4h.1M279.4 147.5h.1M289.2 149.3h.1M299.7 146.1h.1M279.7 160.8h.1M298.2 163.7h.1M294.0 149.3h.1M294.3 157.5h.1M296.4 138.0h.1M285.0 139.5h.1M295.1 156.2h.1M277.9 135.5h.1M289.9 158.5h.1M292.8 164.6h.1M278.8 149.4h.1M275.4 138.8h.1M290.5 142.7h.1M289.7 142.8h.1M292.3 157.2h.1M287.3 141.4h.1M279.2 143.3h.1M295.2 163.3h.1M292.9 139.9h.1M288.9 144.8h.1M302.0 161.6h.1M297.7 136.3h.1M286.9 129.8h.1M268.8 144.3h.1M280.2 151.9h.1M269.8 149.8h.1M286.3 145.5h.1M295.5 139.3h.1M276.6 157.3h.1M292.5 145.8h.1M286.0 144.6h.1M293.7 150.5h.1M290.2 162.4h.1M281.3 151.7h.1M287.6 147.5h.1M293.7 155.4h.1M300.5 132.1h.1M286.5 144.7h.1M298.5 150.0h.1M287.2 144.3h.1M291.8 143.6h.1M289.1 145.5h.1M283.5 142.0h.1M288.7 145.7h.1M284.9 150.9h.1M291.5 153.4h.1M280.9 141.1h.1M281.6 148.5h.1M293.5 143.4h.1M291.4 158.0h.1M291.6 165.0h.1M291.6 151.9h.1M294.7 153.8h.1M291.0 148.0h.1M293.9 154.4h.1M282.8 148.5h.1M291.2 139.5h.1M283.1 160.8h.1M286.4 155.6h.1M292.1 150.3h.1M288.0 154.4h.1M299.5 164.6h.1M292.3 146.4h.1M290.7 156.6h.1M288.6 151.9h.1M279.1 131.9h.1M288.2 147.3h.1M288.1 155.2h.1M299.3 153.4h.1M282.8 149.4h.1M287.1 139.8h.1M283.2 152.6h.1M288.9 151.9h.1M276.6 155.0h.1M289.8 165.7h.1M288.0 150.8h.1M289.1 159.8h.1M305.1 154.6h.1M291.1 154.8h.1M295.0 142.0h.1M302.5 140.2h.1M299.0 154.6h.1M290.1 149.4h.1M279.6 161.7h.1M290.7 157.5h.1M277.1 157.6h.1M282.2 144.0h.1M284.0 150.4h.1M280.6 157.9h.1M287.9 145.9h.1M285.5 150.8h.1M283.0 161.1h.1M290.3 150.4h.1M283.1 152.8h.1M296.3 161.1h.1M292.0 154.6h.1M285.0 138.3h.1M290.8 151.8h.1M283.4 151.0h.1M283.8 153.7h.1M277.4 160.6h.1M290.9 152.1h.1M300.4 145.2h.1M273.3 158.1h.1M303.6 152.4h.1M275.2 162.0h.1M273.1 153.6h.1M274.0 159.4h.1M280.2 144.0h.1M283.9 149.3h.1M275.3 151.3h.1M286.5 143.8h.1M293.1 154.2h.1M282.7 147.6h.1M288.6 147.7h.1M291.8 144.9h.1M299.2 150.0h.1M287.2 136.8h.1M292.5 158.4h.1M291.1 154.3h.1M288.1 155.6h.1M285.5 161.4h.1M290.1 153.1h.1M292.3 148.2h.1M279.0 162.1h.1M285.3 147.5h.1M290.0 152.1h.1M289.7 132.3h.1M289.9 146.1h.1M298.6 150.5h.1M294.7 156.2h.1M279.4 155.1h.1M298.2 158.8h.1M283.1 145.8h.1M282.2 145.8h.1M294.9 152.4h.1M285.6 143.8h.1M276.5 147.1h.1M291.8 151.0h.1M290.7 133.5h.1M291.3 137.0h.1M278.4 153.9h.1M293.0 144.3h.1M283.6 156.8h.1M293.7 146.2h.1M279.5 141.5h.1M281.3 155.6h.1M274.6 148.1h.1M282.5 153.4h.1M294.8 144.6h.1M289.2 143.5h.1M283.9 147.5h.1M296.8 143.6h.1M289.1 148.7h.1M292.8 141.6h.1M289.9 153.1h.1M287.0 156.8h.1M288.6 154.2h.1M290.6 139.4h.1M295.2 160.6h.1M291.7 135.4h.1M293.5 151.9h.1M280.3 151.0h.1M275.2 156.6h.1M289.8 144.4h.1M288.7 145.9h.1M290.6 160.0h.1M281.0 159.8h.1M288.6 141.5h.1M280.6 147.8h.1M288.2 143.5h.1M287.1 128.1h.1M286.5 159.7h.1M289.7 144.6h.1M284.3 150.6h.1M287.5 152.3h.1M292.3 139.2h.1M297.7 157.8h.1M290.3 144.5h.1M293.0 137.8h.1M291.5 153.0h.1M298.7 151.5h.1M301.5 145.5h.1M283.4 149.6h.1M292.2 164.5h.1M289.6 156.0h.1M298.1 150.2h.1M271.4 147.1h.1M276.1 146.4h.1M296.8 133.6h.1M289.5 160.5h.1M292.1 145.9h.1M290.4 131.7h.1M289.5 138.2h.1M290.4 138.6h.1M284.9 131.4h.1M274.1 143.7h.1M289.8 145.0h.1M287.2 164.0h.1M283.9 149.4h.1M283.6 145.1h.1M296.3 148.7h.1M282.7 151.7h.1M280.6 158.5h.1M292.0 161.2h.1M297.4 133.5h.1M279.0 137.6h.1M281.0 149.9h.1M290.2 145.9h.1M291.3 159.3h.1M297.0 145.3h.1M287.2 145.3h.1M286.0 147.9h.1M283.6 161.9h.1M295.1 146.0h.1M283.6 150.7h.1M282.1 152.9h.1M286.1 157.9h.1M287.4 150.6h.1M290.2 157.7h.1M283.4 164.5h.1M299.2 156.9h.1M300.3 147.0h.1M280.1 149.0h.1M288.5 152.5h.1M280.9 147.9h.1M285.7 140.7h.1M279.4 142.2h.1M285.7 145.5h.1M289.4 133.5h.1M278.7 157.5h.1M274.3 145.4h.1M275.3 143.9h.1M295.7 160.6h.1M286.4 138.2h.1M288.0 141.5h.1M297.2 159.0h.1M280.9 149.5h.1M290.3 156.8h.1M283.1 151.1h.1M288.8 150.2h.1M275.1 144.7h.1M284.9 154.3h.1M287.1 152.3h.1M288.3 152.2h.1M278.0 146.6h.1M285.9 160.4h.1M293.4 150.8h.1M286.9 155.3h.1M293.2 140.3h.1M291.9 136.1h.1M289.2 156.5h.1M285.1 144.7h.1M288.0 143.1h.1M281.3 153.3h.1M292.0 161.6h.1M289.7 147.9h.1M295.4 147.7h.1M302.5 154.0h.1M293.2 154.9h.1M291.3 150.8h.1M288.8 134.8h.1M293.2 156.8h.1M296.7 143.6h.1M279.1 144.3h.1M278.5 152.1h.1M294.2 149.8h.1M290.7 151.9h.1M276.4 148.1h.1M283.8 159.0h.1M277.2 150.3h.1M279.9 147.3h.1M283.8 156.8h.1M283.0 153.2h.1M298.1 148.7h.1M279.1 142.0h.1M283.4 153.9h.1M288.0 149.1h.1M292.4 155.7h.1M282.2 145.3h.1M284.7 138.1h.1M290.2 145.3h.1M280.3 134.3h.1M294.0 156.2h.1M280.8 151.6h.1M283.2 154.0h.1M284.5 150.2h.1M300.3 163.6h.1M292.7 162.0h.1M289.9 160.3h.1M280.8 127.4h.1M280.1 142.6h.1M282.9 151.2h.1M298.2 157.9h.1M296.2 126.9h.1M288.5 163.9h.1M282.8 153.2h.1M275.8 164.0h.1M284.5 140.3h.1M291.0 143.8h.1M291.2 141.4h.1M290.1 145.0h.1M282.8 143.7h.1M290.9 135.4h.1M286.5 161.4h.1M293.4 154.9h.1M289.2 143.3h.1M292.7 132.7h.1M289.7 160.2h.1M284.4 130.8h.1M295.4 140.8h.1M280.6 139.4h.1M292.0 143.9h.1M284.6 154.1h.1M285.1 157.5h.1M289.3 152.9h.1M284.1 140.2h.1M280.8 161.3h.1M281.4 160.4h.1M280.1 156.9h.1M289.6 141.0h.1M287.0 143.6h.1M277.2 143.5h.1M288.4 144.8h.1M293.8 155.7h.1M280.0 151.9h.1M281.6 146.7h.1M293.6 160.0h.1M286.4 149.4h.1M294.7 145.3h.1M285.3 144.7h.1M278.0 138.9h.1M287.3 148.1h.1M287.2 142.6h.1M289.5 149.1h.1M281.9 153.3h.1M284.5 154.0h.1M301.0 146.2h.1M298.0 140.2h.1M280.1 156.1h.1M289.1 150.2h.1M290.0 152.4h.1M293.3 144.2h.1M287.5 143.3h.1M283.3 155.4h.1M288.2 135.2h.1M277.7 151.1h.1M271.0 137.5h.1M277.3 134.3h.1M297.9 150.6h.1M293.1 145.1h.1M290.8 134.9h.1M277.9 151.2h.1M281.0 150.9h.1M289.6 151.4h.1M282.0 145.9h.1M281.3 136.1h.1M280.4 156.2h.1M282.5 156.3h.1M274.9 153.3h.1M290.3 152.3h.1M282.8 160.2h.1M295.9 158.3h.1M298.5 155.9h.1M287.1 144.6h.1M294.4 158.6h.1M294.8 142.5h.1M288.9 153.3h.1M286.4 141.4h.1M296.0 148.6h.1M291.9 156.7h.1M286.3 147.3h.1M284.2 158.1h.1M287.6 145.9h.1M293.7 164.2h.1M292.1 148.6h.1M286.5 156.1h.1M288.6 149.7h.1M284.8 140.4h.1M287.0 146.4h.1M282.2 139.3h.1M289.4 136.6h.1M289.1 152.5h.1M285.5 160.7h.1M301.8 146.8h.1M286.4 142.6h.1M292.1 148.1h.1M289.4 148.2h.1M284.5 159.6h.1M294.8 148.7h.1M287.6 142.9h.1M290.8 139.8h.1M306.2 135.2h.1M281.8 149.4h.1M286.2 136.7h.1M291.3 156.0h.1M287.6 148.0h.1M282.2 143.9h.1M284.4 162.2h.1M286.1 135.1h.1M285.8 157.7h.1M287.9 150.9h.1M298.0 152.2h.1M289.1 149.8h.1M285.1 140.2h.1M292.1 155.1h.1M291.8 160.1h.1M280.6 132.6h.1M283.6 150.8h.1M280.5 148.9h.1M289.8 147.4h.1M293.2 153.4h.1M286.2 148.2h.1M295.7 146.4h.1M283.9 160.1h.1M285.5 141.6h.1M287.2 146.4h.1M288.8 146.3h.1M298.4 143.0h.1M280.4 145.4h.1M291.3 161.8h.1M288.1 142.7h.1M278.9 136.3h.1M280.1 129.0h.1M298.7 143.8h.1M295.8 138.9h.1M294.7 160.4h.1M286.8 153.7h.1M294.5 140.6h.1M287.7 148.0h.1M280.6 147.1h.1M285.9 151.0h.1M280.9 152.0h.1M283.9 154.3h.1M283.1 151.7h.1M291.0 149.7h.1M294.0 142.4h.1M294.9 150.5h.1M294.8 151.5h.1M280.7 138.2h.1M291.4 150.4h.1M292.9 139.0h.1M290.3 135.4h.1M281.5 149.1h.1M268.7 154.2h.1M288.6 157.7h.1M282.2 144.9h.1M293.5 137.1h.1M278.0 142.0h.1M291.2 147.5h.1M284.8 148.7h.1M279.0 153.7h.1M284.7 148.1h.1M286.6 158.7h.1M293.0 144.2h.1M292.8 153.7h.1M295.7 155.2h.1M292.5 153.0h.1M284.6 154.3h.1M284.8 140.4h.1M288.6 157.3h.1M285.3 145.3h.1M276.9 148.2h.1M274.2 141.0h.1M292.5 152.9h.1M288.3 145.9h.1M300.4 143.9h.1M284.3 155.6h.1M294.4 143.2h.1M288.5 152.8h.1M290.8 151.3h.1M288.0 154.3h.1M294.8 150.2h.1M290.9 139.4h.1M284.5 151.0h.1M286.9 152.9h.1M289.1 157.3h.1M284.8 158.2h.1M283.8 127.8h.1M287.5 145.3h.1M276.0 140.5h.1M290.2 155.0h.1M290.0 154.5h.1M267.4 154.5h.1M280.5 154.9h.1M287.4 153.0h.1M272.9 148.9h.1M290.4 144.9h.1M294.0 156.0h.1M290.6 149.9h.1M293.7 159.0h.1M286.9 146.1h.1M293.1 147.6h.1M292.1 143.2h.1M286.7 155.6h.1M288.1 142.8h.1M276.7 129.6h.1M278.8 143.0h.1M294.1 143.9h.1M294.3 149.8h.1M282.2 146.8h.1M277.6 160.8h.1M274.6 152.7h.1M295.1 158.3h.1M289.8 161.9h.1M300.0 158.9h.1M295.8 157.9h.1M300.8 145.9h.1M292.9 153.8h.1M283.9 149.1h.1M285.3 156.6h.1M294.8 145.0h.1M278.2 155.7h.1M291.2 145.7h.1M284.8 156.4h.1M295.9 160.6h.1M283.9 160.6h.1M282.7 146.6h.1M293.8 161.4h.1M266.5 135.3h.1M294.5 151.5h.1M289.4 137.9h.1M283.6 150.2h.1M291.8 139.9h.1M284.3 149.7h.1M291.6 144.0h.1M288.1 161.0h.1M281.3 157.5h.1M283.1 159.0h.1M299.5 154.2h.1M289.5 149.4h.1M286.3 148.3h.1M281.6 140.2h.1M284.1 143.4h.1M289.0 157.0h.1M279.6 146.7h.1M287.2 153.5h.1M285.8 142.5h.1M287.5 161.9h.1M295.4 149.5h.1M286.1 154.7h.1M289.2 159.7h.1M283.5 149.0h.1M276.1 146.5h.1M287.7 162.5h.1M284.6 156.7h.1M283.2 157.5h.1M296.5 159.0h.1M288.2 151.5h.1M282.6 146.5h.1M283.0 153.7h.1M297.8 135.4h.1M292.7 151.2h.1M275.9 160.0h.1M291.4 148.5h.1M283.7 147.4h.1M294.8 141.5h.1M292.1 155.4h.1M281.9 148.9h.1M287.3 155.7h.1M291.6 144.9h.1M286.7 155.1h.1M290.2 151.4h.1M282.9 152.6h.1M295.9 158.5h.1M296.9 143.8h.1M283.2 149.0h.1M278.2 159.9h.1M284.4 160.8h.1M293.1 156.5h.1M288.8 140.9h.1M287.1 152.1h.1M288.7 146.9h.1M277.8 147.7h.1M287.2 137.2h.1M286.8 132.6h.1M283.3 158.8h.1M292.6 157.2h.1M283.2 138.0h.1M283.3 147.3h.1M292.0 150.8h.1M291.6 145.4h.1M287.9 154.6h.1M289.0 147.0h.1M290.0 138.5h.1M289.7 146.7h.1M281.1 154.1h.1M292.9 142.4h.1M300.6 156.7h.1M290.0 159.2h.1M285.8 155.4h.1M295.2 155.1h.1M291.6 149.5h.1M282.6 154.9h.1M286.9 144.0h.1M283.7 130.3h.1M294.2 144.3h.1M278.9 162.6h.1M295.7 159.0h.1M283.1 141.1h.1M289.4 148.3h.1M284.6 144.0h.1M290.0 140.1h.1M295.1 147.3h.1M291.6 156.8h.1M279.6 150.6h.1M285.8 148.0h.1M288.4 131.7h.1M284.2 140.2h.1M284.9 150.3h.1M282.4 157.0h.1M287.2 151.6h.1M291.8 157.2h.1M281.0 130.3h.1M296.7 142.6h.1M295.7 144.3h.1M292.8 138.6h.1M291.6 136.6h.1M303.5 157.5h.1M280.6 139.2h.1M283.9 159.3h.1M301.6 157.6h.1M279.5 147.0h.1M289.6 138.2h.1M286.4 145.0h.1M281.4 143.9h.1M281.3 144.4h.1M286.1 143.4h.1M289.3 150.4h.1M290.7 147.5h.1M291.4 149.5h.1M288.0 149.7h.1M287.7 160.3h.1M283.3 150.1h.1M278.8 149.3h.1M293.0 148.6h.1M273.9 158.1h.1M291.1 155.9h.1M295.8 150.9h.1M279.3 148.8h.1M272.9 154.8h.1M281.9 158.8h.1M289.5 146.3h.1M281.2 153.6h.1M294.2 134.6h.1M291.7 144.3h.1M281.0 154.0h.1M292.5 136.6h.1M278.1 137.2h.1M284.5 152.1h.1M289.0 133.3h.1M296.2 147.2h.1M297.3 152.9h.1M278.0 164.9h.1M308.5 163.2h.1M281.7 143.6h.1M289.3 148.3h.1M297.7 153.2h.1M290.9 159.3h.1M295.4 162.2h.1M279.4 156.6h.1M280.1 152.9h.1M284.6 141.1h.1M283.8 158.9h.1M288.2 145.1h.1M285.3 158.4h.1M279.8 161.4h.1M288.9 137.8h.1M282.9 148.4h.1M289.6 159.2h.1M281.6 158.1h.1M291.8 160.1h.1M297.2 164.0h.1M295.4 157.2h.1M293.3 143.4h.1M290.7 148.5h.1M279.2 156.0h.1M281.8 158.2h.1M281.7 151.4h.1M283.9 144.0h.1M286.6 139.5h.1M281.2 150.9h.1M294.8 149.1h.1M284.6 146.0h.1M274.7 155.3h.1M285.6 156.3h.1M286.5 151.2h.1M285.1 133.1h.1M301.5 144.3h.1M293.5 144.8h.1M298.6 155.4h.1M283.4 144.8h.1M292.4 148.2h.1M289.1 140.7h.1M286.8 145.4h.1M288.8 157.2h.1M274.7 153.8h.1M293.7 143.0h.1M305.7 139.8h.1M297.2 158.9h.1M273.6 150.1h.1M288.7 155.2h.1M282.4 152.7h.1M283.3 151.2h.1M285.6 129.1h.1M295.1 157.9h.1M292.2 165.1h.1M281.9 150.8h.1M291.0 148.7h.1M288.4 152.0h.1M300.7 148.0h.1M277.7 134.6h.1M286.6 147.1h.1M281.1 150.1h.1M287.1 159.2h.1M274.1 141.9h.1M281.3 147.5h.1M286.6 150.4h.1M283.4 154.2h.1M286.5 155.7h.1M283.6 155.8h.1M281.2 140.1h.1M285.7 163.9h.1M287.5 135.6h.1M289.4 161.7h.1M275.9 157.7h.1M284.6 151.1h.1M295.0 141.3h.1M277.9 154.9h.1M288.1 146.3h.1M284.1 161.8h.1M294.4 125.4h.1M295.3 151.0h.1M289.0 128.0h.1M284.0 150.9h.1M277.0 147.6h.1M283.8 157.4h.1M281.8 140.5h.1M287.5 141.9h.1M297.4 131.9h.1M299.7 146.4h.1M289.3 151.7h.1M288.1 148.1h.1M286.4 141.9h.1M289.2 148.3h.1M286.0 155.0h.1M298.7 152.8h.1M282.4 133.4h.1M288.1 145.9h.1M283.3 142.6h.1M293.5 126.5h.1M299.1 155.3h.1M291.7 152.9h.1M288.6 141.3h.1M287.7 154.6h.1M291.1 152.2h.1M284.3 146.0h.1M298.1 152.8h.1M298.8 148.3h.1M294.0 144.3h.1M292.7 158.9h.1M284.8 136.8h.1M278.5 152.3h.1M282.8 146.6h.1M301.2 153.8h.1M284.8 142.2h.1M282.2 146.7h.1M294.2 154.2h.1M295.2 148.8h.1M288.9 148.8h.1M277.0 158.0h.1M287.0 158.0h.1M282.5 147.4h.1M293.4 160.3h.1M297.0 150.0h.1M290.4 149.8h.1M290.3 156.7h.1M297.6 143.9h.1M298.6 136.9h.1M279.9 148.9h.1M290.5 157.7h.1M280.0 147.6h.1M282.7 157.7h.1M295.0 160.5h.1M280.5 147.2h.1M286.6 150.3h.1M295.7 149.0h.1M290.6 155.8h.1M277.1 154.4h.1M287.0 151.8h.1M286.2 161.9h.1M281.9 153.6h.1M300.9 152.7h.1M288.1 144.0h.1M288.1 150.9h.1M294.4 161.7h.1M288.8 156.3h.1M279.3 151.3h.1M287.8 149.5h.1M290.5 142.4h.1M288.8 144.1h.1M294.6 159.1h.1M293.4 150.6h.1M291.2 151.1h.1M286.8 161.1h.1M288.1 146.8h.1M300.3 146.3h.1M277.3 162.5h.1M295.1 155.7h.1M290.8 136.9h.1M283.5 150.3h.1M287.8 143.8h.1M291.8 146.1h.1M278.9 148.4h.1M289.0 136.5h.1M291.7 144.3h.1M288.8 148.7h.1M296.9 146.4h.1M289.2 158.6h.1M282.4 138.8h.1M277.8 148.5h.1M276.6 161.4h.1M294.3 150.5h.1M286.7 153.3h.1M287.3 148.6h.1M286.6 153.4h.1M283.3 156.4h.1M299.2 149.0h.1M292.4 151.4h.1M297.5 152.6h.1M280.3 134.4h.1M291.8 158.2h.1M280.7 157.4h.1M282.4 152.5h.1M282.7 147.4h.1M294.5 153.6h.1M283.4 163.1h.1M292.4 144.7h.1M283.8 163.4h.1M288.8 144.7h.1M287.5 145.1h.1M282.5 149.4h.1M294.1 155.9h.1M288.3 148.7h.1M273.3 159.0h.1M286.8 153.2h.1M297.6 163.9h.1M273.6 138.9h.1M293.8 151.6h.1M289.5 156.2h.1M280.1 163.6h.1M287.9 133.0h.1M280.7 148.7h.1M278.2 134.0h.1M290.4 154.3h.1M289.8 146.0h.1M276.4 153.4h.1M284.5 159.2h.1M288.2 158.0h.1M277.9 149.0h.1M294.9 155.9h.1M290.5 146.6h.1M292.1 155.5h.1M281.9 146.6h.1M290.2 157.8h.1M288.7 144.0h.1M290.5 155.9h.1M285.2 138.3h.1M294.2 152.4h.1M297.8 141.2h.1M294.8 145.9h.1M279.3 158.6h.1M284.3 141.5h.1M290.7 131.1h.1M294.4 136.8h.1M283.5 152.5h.1M288.0 160.1h.1M289.9 151.6h.1M287.3 151.4h.1M294.4 160.0h.1M281.6 150.5h.1M291.2 162.2h.1M282.9 163.4h.1M290.7 148.2h.1M282.1 161.6h.1M286.2 156.8h.1M293.9 149.8h.1M281.8 150.7h.1M288.4 160.0h.1M292.1 140.4h.1M287.3 137.4h.1M286.2 160.7h.1M282.3 153.2h.1M292.8 159.6h.1M292.6 137.0h.1M299.0 139.6h.1M289.8 146.1h.1M294.9 147.7h.1M284.8 152.1h.1M291.0 146.7h.1M282.1 150.1h.1M289.5 149.1h.1M285.9 155.9h.1M294.1 159.8h.1M275.0 158.2h.1M286.9 162.6h.1M286.1 149.1h.1M292.2 146.8h.1M283.4 134.8h.1M285.3 136.5h.1M296.0 157.5h.1M284.0 154.7h.1M285.5 151.0h.1M295.2 148.0h.1M274.6 140.1h.1M290.5 131.9h.1M290.1 145.6h.1M289.6 148.4h.1M276.7 128.7h.1M279.0 161.8h.1M282.7 144.8h.1M282.5 154.2h.1" stroke="#000" stroke-width="1.3" stroke-linecap="round" fill="none"/>
<rect x="208.2" y="29.3" width="137" height="137" fill="none" stroke="#555" stroke-width="1.2"/>
<path d="M205 166.3h3.2M208.2 166.3v3.2M206.6 155.99h1.6M218.51 166.3v1.6M206.6 149.96h1.6M224.54 166.3v1.6M206.6 145.68h1.6M228.82 166.3v1.6M206.6 142.36h1.6M232.14 166.3v1.6M206.6 139.65h1.6M234.85 166.3v1.6M206.6 137.36h1.6M237.14 166.3v1.6M206.6 135.37h1.6M239.13 166.3v1.6M206.6 133.62h1.6M240.88 166.3v1.6M205 132.05h3.2M242.45 166.3v3.2M206.6 121.74h1.6M252.76 166.3v1.6M206.6 115.71h1.6M258.79 166.3v1.6M206.6 111.43h1.6M263.07 166.3v1.6M206.6 108.11h1.6M266.39 166.3v1.6M206.6 105.4h1.6M269.1 166.3v1.6M206.6 103.11h1.6M271.39 166.3v1.6M206.6 101.12h1.6M273.38 166.3v1.6M206.6 99.37h1.6M275.13 166.3v1.6M205 97.8h3.2M276.7 166.3v3.2M206.6 87.49h1.6M287.01 166.3v1.6M206.6 81.46h1.6M293.04 166.3v1.6M206.6 77.18h1.6M297.32 166.3v1.6M206.6 73.86h1.6M300.64 166.3v1.6M206.6 71.15h1.6M303.35 166.3v1.6M206.6 68.86h1.6M305.64 166.3v1.6M206.6 66.87h1.6M307.63 166.3v1.6M206.6 65.12h1.6M309.38 166.3v1.6M205 63.55h3.2M310.95 166.3v3.2M206.6 53.24h1.6M321.26 166.3v1.6M206.6 47.21h1.6M327.29 166.3v1.6M206.6 42.93h1.6M331.57 166.3v1.6M206.6 39.61h1.6M334.89 166.3v1.6M206.6 36.9h1.6M337.6 166.3v1.6M206.6 34.61h1.6M339.89 166.3v1.6M206.6 32.62h1.6M341.88 166.3v1.6M206.6 30.87h1.6M343.63 166.3v1.6M205 29.3h3.2M345.2 166.3v3.2" stroke="#333" stroke-width="0.9" fill="none"/>
<text x="192.5" y="169.9" class="t" font-size="6" fill="#333">10<tspan dy="-2.6" font-size="5">0</tspan></text>
<text x="206.5" y="177.8" class="t" font-size="6" fill="#333">10<tspan dy="-2.6" font-size="5">0</tspan></text>
<text x="192.5" y="135.65" class="t" font-size="6" fill="#333">10<tspan dy="-2.6" font-size="5">1</tspan></text>
<text x="240.75" y="177.8" class="t" font-size="6" fill="#333">10<tspan dy="-2.6" font-size="5">1</tspan></text>
<text x="192.5" y="101.4" class="t" font-size="6" fill="#333">10<tspan dy="-2.6" font-size="5">2</tspan></text>
<text x="275" y="177.8" class="t" font-size="6" fill="#333">10<tspan dy="-2.6" font-size="5">2</tspan></text>
<text x="192.5" y="67.15" class="t" font-size="6" fill="#333">10<tspan dy="-2.6" font-size="5">3</tspan></text>
<text x="309.25" y="177.8" class="t" font-size="6" fill="#333">10<tspan dy="-2.6" font-size="5">3</tspan></text>
<text x="192.5" y="32.9" class="t" font-size="6" fill="#333">10<tspan dy="-2.6" font-size="5">4</tspan></text>
<text x="343.5" y="177.8" class="t" font-size="6" fill="#333">10<tspan dy="-2.6" font-size="5">4</tspan></text>
<path d="M436.7 29.3V166.3 M379 127.2H516" stroke="#777" stroke-width="1" fill="none"/>
<path d="M415.9 103.4h.1M388.2 125.6h.1M415.6 125.1h.1M394.5 109.7h.1M403.3 114.5h.1M421.4 112.6h.1M390.4 107.4h.1M388.7 98.5h.1M389.8 122.3h.1M394.6 99.9h.1M425.6 112.9h.1M394.3 101.5h.1M398.1 96.9h.1M409.3 114.8h.1M407.1 108.3h.1M380.0 108.3h.1M406.0 111.2h.1M418.4 114.9h.1M416.7 115.8h.1M384.2 100.4h.1M404.0 109.8h.1M413.5 116.4h.1M409.8 94.8h.1M394.9 111.2h.1M404.5 95.4h.1M405.2 108.4h.1M396.5 117.0h.1M402.8 111.8h.1M402.7 108.6h.1M394.5 109.3h.1M397.9 98.0h.1M394.8 121.2h.1M416.7 96.6h.1M404.1 88.1h.1M411.0 103.9h.1M405.0 99.2h.1M411.4 113.4h.1M396.5 104.5h.1M403.9 96.7h.1M389.4 96.3h.1M404.3 95.4h.1M403.9 90.6h.1M384.0 107.3h.1M382.9 125.8h.1M390.3 98.1h.1M406.2 98.3h.1M393.2 104.9h.1M396.5 105.3h.1M380.1 107.1h.1M433.4 122.4h.1M397.8 106.7h.1M387.7 107.7h.1M385.3 107.7h.1M412.2 95.5h.1M399.5 96.7h.1M403.5 83.3h.1M403.9 100.4h.1M399.3 99.3h.1M407.2 106.7h.1M423.6 119.0h.1M395.9 84.4h.1M401.4 115.9h.1M407.7 126.7h.1M405.0 107.2h.1M414.7 108.8h.1M404.4 126.2h.1M397.0 115.9h.1M409.1 112.7h.1M385.8 98.7h.1M401.9 101.9h.1M404.4 116.4h.1M420.2 118.8h.1M394.7 109.5h.1M399.3 123.0h.1M400.8 125.5h.1M388.0 88.0h.1M399.4 105.1h.1M397.7 102.8h.1M396.5 112.3h.1M403.4 136.3h.1M418.9 99.2h.1M396.7 100.0h.1M408.2 116.5h.1M403.2 98.0h.1M397.8 104.4h.1M408.0 120.6h.1M414.6 124.2h.1M408.7 126.7h.1M403.9 121.0h.1M406.6 105.7h.1M396.7 107.9h.1M411.0 122.5h.1M404.4 103.8h.1M399.2 116.6h.1M395.9 102.3h.1M404.4 119.5h.1M388.5 116.7h.1M396.4 94.4h.1M387.1 103.7h.1M415.8 103.2h.1M417.0 117.7h.1M405.5 105.2h.1M391.3 84.6h.1M399.9 107.7h.1M418.7 110.7h.1M408.7 94.8h.1M413.0 122.7h.1M425.1 121.1h.1M420.9 93.0h.1M412.4 109.2h.1M405.3 81.2h.1M398.3 98.4h.1M401.9 93.9h.1M409.5 106.2h.1M412.9 110.0h.1M405.3 110.4h.1M402.4 102.2h.1M408.1 102.2h.1M421.1 113.4h.1M407.8 102.1h.1M387.0 124.7h.1M402.4 106.8h.1M404.6 106.5h.1M413.1 115.3h.1M391.9 104.5h.1M395.9 119.3h.1M391.1 117.7h.1M416.9 111.5h.1M404.0 95.3h.1M409.6 107.0h.1M410.8 105.6h.1M400.4 111.3h.1M383.4 110.7h.1M419.3 105.9h.1M383.8 107.2h.1M403.9 106.9h.1M406.7 99.0h.1M399.5 105.7h.1M404.8 100.9h.1M403.5 108.2h.1M404.4 93.8h.1M406.1 128.4h.1M384.1 120.2h.1M385.2 111.8h.1M412.6 102.5h.1M389.3 113.8h.1M403.9 104.4h.1M416.9 119.6h.1M404.6 109.4h.1M389.8 107.7h.1M402.4 85.9h.1M400.8 99.3h.1M400.3 111.0h.1M406.7 94.9h.1M395.1 105.8h.1M404.9 117.7h.1M414.4 124.2h.1M398.0 102.4h.1M406.8 74.4h.1M416.1 108.3h.1M406.9 114.6h.1M396.9 90.6h.1M388.0 106.9h.1M405.8 125.6h.1M399.8 107.3h.1M402.1 110.0h.1M435.7 96.5h.1M408.0 116.0h.1M459.3 119.6h.1M459.1 113.5h.1M461.1 105.7h.1M458.2 122.0h.1M457.0 127.4h.1M465.7 117.8h.1M456.6 112.5h.1M458.5 143.6h.1M461.9 121.5h.1M454.5 113.1h.1M456.7 132.0h.1M459.3 139.2h.1M459.1 103.3h.1M458.0 105.4h.1M456.3 116.1h.1M460.2 128.0h.1M462.1 104.8h.1M451.2 136.3h.1M454.5 122.9h.1M458.3 142.0h.1M459.8 121.3h.1M463.0 126.3h.1M461.2 130.9h.1M456.1 114.5h.1M453.4 105.0h.1M460.7 116.0h.1M455.0 99.6h.1M453.3 103.0h.1M463.2 118.7h.1M455.2 124.8h.1M456.5 131.3h.1M459.8 137.4h.1M446.2 110.8h.1M472.7 101.7h.1M466.4 138.3h.1M469.2 121.5h.1M458.2 121.2h.1M459.4 101.2h.1M464.0 105.7h.1M459.3 129.0h.1M460.5 110.8h.1M456.4 135.7h.1M454.0 106.7h.1M465.6 137.0h.1M461.9 103.1h.1M459.5 100.0h.1M455.7 116.1h.1M470.9 111.1h.1M456.8 109.9h.1M448.0 126.8h.1M461.4 129.7h.1M446.3 104.1h.1M465.8 130.6h.1M455.5 137.7h.1M458.7 136.1h.1M458.9 118.2h.1M457.2 114.1h.1M451.4 119.5h.1M461.5 124.0h.1M460.2 108.7h.1M454.3 100.4h.1M462.8 122.4h.1M462.3 123.6h.1M453.6 120.9h.1M458.8 103.4h.1M449.9 97.9h.1M444.3 114.7h.1M463.4 124.8h.1M458.8 132.0h.1M465.4 113.1h.1M459.9 100.4h.1M460.6 105.1h.1M461.0 112.5h.1M462.0 127.9h.1M462.3 97.0h.1M452.8 111.8h.1M461.2 110.0h.1M447.4 118.6h.1M460.4 115.5h.1M470.6 106.9h.1M470.1 130.6h.1M467.2 135.3h.1M455.4 131.5h.1M462.4 126.3h.1M454.1 130.0h.1M464.3 126.1h.1M457.9 121.6h.1M455.6 98.4h.1M461.0 122.2h.1M464.7 126.4h.1M450.9 113.1h.1M457.5 131.6h.1M460.2 120.4h.1M460.4 105.5h.1M454.6 133.5h.1M458.6 109.0h.1M455.2 125.1h.1M463.9 105.9h.1M460.9 103.8h.1M467.6 126.2h.1M455.3 111.6h.1M454.9 114.3h.1M460.3 115.4h.1M465.4 123.4h.1M460.4 140.2h.1M457.5 115.8h.1M449.8 122.8h.1M457.0 115.9h.1M460.4 141.6h.1M465.1 122.6h.1M451.3 109.6h.1M461.9 113.0h.1M461.0 141.3h.1M470.8 121.6h.1M465.4 145.3h.1M450.6 108.6h.1M456.0 130.0h.1M457.9 117.3h.1M455.3 120.7h.1M456.2 123.0h.1M451.4 131.6h.1M456.5 118.3h.1M454.3 125.8h.1M457.5 112.3h.1M456.2 114.1h.1M459.9 127.8h.1M459.2 131.1h.1M459.0 121.6h.1M457.8 142.9h.1M451.6 110.5h.1M457.8 103.9h.1M465.8 134.6h.1M458.8 126.2h.1M459.2 112.3h.1M461.5 140.5h.1M459.2 118.9h.1M455.6 152.8h.1M457.3 99.5h.1M453.7 112.0h.1M453.3 130.3h.1" stroke="#777" stroke-width="1.3" stroke-linecap="round" fill="none"/>
<path d="M399.8 111.0h.1M389.2 121.0h.1M412.6 112.9h.1M401.6 140.1h.1M407.6 131.7h.1M392.7 124.3h.1M401.9 99.8h.1M409.7 129.4h.1M402.1 109.3h.1M387.3 132.3h.1M393.4 135.6h.1M397.2 135.4h.1M404.3 122.5h.1M402.6 112.0h.1M407.6 125.5h.1M399.1 126.1h.1M389.7 87.2h.1M408.3 114.0h.1M403.2 129.6h.1M387.2 118.0h.1M399.0 136.4h.1M390.2 123.0h.1M419.1 127.8h.1M398.2 127.5h.1M400.3 127.6h.1M407.9 136.8h.1M389.7 118.8h.1M405.5 111.3h.1M399.0 106.4h.1M403.5 123.6h.1M388.5 108.4h.1M404.0 110.2h.1M388.0 124.8h.1M400.7 118.2h.1M403.2 120.0h.1M404.6 141.3h.1M407.3 126.1h.1M386.8 116.1h.1M414.1 121.9h.1M398.7 110.0h.1M400.9 123.5h.1M408.2 127.8h.1M414.6 137.7h.1M393.6 126.7h.1M400.3 123.5h.1M401.7 125.8h.1M411.2 124.7h.1M403.2 117.7h.1M418.0 100.9h.1M406.4 116.5h.1M395.5 126.8h.1M395.3 128.7h.1M399.0 124.0h.1M400.1 119.9h.1M394.9 115.9h.1M402.3 118.3h.1M407.7 107.6h.1M397.6 144.4h.1M408.6 118.5h.1M405.8 123.5h.1M403.5 126.9h.1M412.1 111.6h.1M411.9 110.1h.1M391.0 114.4h.1M402.4 121.8h.1M404.8 129.9h.1M391.4 114.5h.1M388.0 115.8h.1M399.3 112.3h.1M392.5 124.3h.1M398.6 123.8h.1M390.3 130.7h.1M405.7 135.4h.1M391.0 127.3h.1M388.9 119.3h.1M397.7 116.2h.1M400.7 124.9h.1M391.6 120.0h.1M403.0 126.2h.1M390.7 131.2h.1M414.1 114.9h.1M403.5 128.4h.1M404.0 123.1h.1M401.0 105.7h.1M400.9 131.6h.1M387.6 121.2h.1M402.7 114.7h.1M405.6 128.9h.1M393.2 132.6h.1M401.7 110.9h.1M391.2 119.8h.1M407.3 107.3h.1M400.6 118.5h.1M412.8 124.1h.1M407.1 123.7h.1M396.0 121.5h.1M402.1 138.1h.1M415.3 130.9h.1M411.0 125.4h.1M396.3 125.1h.1M392.2 122.0h.1M395.4 115.6h.1M393.3 112.5h.1M396.2 120.2h.1M423.8 128.4h.1M403.9 115.3h.1M412.3 100.3h.1M392.2 129.0h.1M403.9 119.2h.1M407.4 129.9h.1M386.2 124.6h.1M394.5 110.1h.1M387.2 110.5h.1M388.7 116.6h.1M393.2 97.8h.1M406.1 144.1h.1M407.9 116.2h.1M396.0 117.6h.1M391.9 107.3h.1M412.3 123.1h.1M399.9 130.3h.1M398.1 139.4h.1M414.6 116.7h.1M398.2 138.8h.1M389.7 126.0h.1M408.4 106.8h.1M395.9 135.2h.1M387.9 116.0h.1M408.0 128.6h.1M392.8 127.3h.1M395.3 119.4h.1M405.1 118.1h.1M409.6 130.2h.1M383.7 114.7h.1M403.0 112.0h.1M407.8 135.5h.1M410.9 120.7h.1M399.6 139.8h.1M393.6 106.6h.1M403.7 121.5h.1M388.0 122.8h.1M411.3 112.2h.1M396.3 137.4h.1M388.6 121.7h.1M402.6 102.4h.1M409.2 128.4h.1M404.8 106.1h.1M390.4 123.6h.1M412.2 127.3h.1M403.7 148.1h.1M400.1 116.9h.1M399.0 123.1h.1M408.8 116.3h.1M403.9 115.3h.1M400.4 129.8h.1M401.7 134.6h.1M401.8 131.0h.1M400.8 94.0h.1M399.8 131.2h.1M401.6 120.5h.1M411.5 109.3h.1M391.6 112.8h.1M385.9 98.2h.1M393.7 127.8h.1M403.2 120.4h.1M396.6 123.7h.1M400.1 113.4h.1M405.5 111.8h.1M402.8 128.7h.1M403.8 130.7h.1M406.4 121.3h.1M404.1 120.6h.1M396.4 129.4h.1M396.6 142.5h.1M399.0 125.5h.1M391.4 121.5h.1M396.6 119.0h.1M391.4 127.9h.1M394.5 119.7h.1M385.8 124.9h.1M388.6 128.5h.1M410.0 115.4h.1M387.9 135.7h.1M402.8 145.5h.1M404.1 114.8h.1M407.7 131.8h.1M396.6 103.8h.1M401.8 131.1h.1M398.5 102.7h.1M401.6 137.4h.1M402.4 133.1h.1M406.8 103.5h.1M399.5 116.2h.1M395.4 101.0h.1M393.9 143.6h.1M391.2 139.7h.1M399.8 124.9h.1M404.7 110.2h.1M396.8 124.6h.1M403.8 124.6h.1M409.5 135.1h.1M394.1 145.8h.1M408.7 134.4h.1M401.7 134.5h.1M392.4 122.8h.1M393.1 120.4h.1M401.9 133.0h.1M399.0 122.8h.1M405.0 118.0h.1M384.7 110.3h.1M408.9 109.7h.1M408.9 115.0h.1M390.8 109.9h.1M394.4 108.5h.1M415.4 120.2h.1M406.3 110.1h.1M398.4 123.6h.1M397.2 123.3h.1M400.0 124.9h.1M406.0 107.7h.1M397.5 129.5h.1M403.6 109.2h.1M395.2 116.0h.1M383.8 125.8h.1M400.8 112.7h.1M395.5 147.2h.1M409.4 126.2h.1M402.2 124.4h.1M405.3 136.0h.1M389.6 100.0h.1M406.1 135.1h.1M386.0 111.6h.1M407.4 113.0h.1M401.6 99.3h.1M407.5 133.3h.1M412.4 121.4h.1M409.2 104.8h.1M392.4 120.7h.1M391.4 135.2h.1M402.2 112.5h.1M402.0 124.7h.1M402.7 111.0h.1M392.1 119.8h.1M390.8 143.6h.1M400.3 122.3h.1M412.2 115.0h.1M392.1 135.6h.1M402.9 102.5h.1M403.5 122.6h.1M397.3 131.1h.1M404.4 129.0h.1M383.6 147.0h.1M398.7 139.5h.1M387.7 111.4h.1M393.5 128.7h.1M407.4 116.3h.1M383.2 117.1h.1M389.0 140.6h.1M393.9 124.2h.1M392.4 122.2h.1M399.9 122.4h.1M398.3 110.1h.1M400.9 107.7h.1M399.8 118.9h.1M399.9 125.0h.1M413.1 121.6h.1M391.6 139.7h.1M401.7 129.9h.1M398.7 117.1h.1M405.7 120.2h.1M392.9 140.6h.1M402.8 130.5h.1M399.1 109.8h.1M409.6 113.7h.1M386.6 118.2h.1M418.5 126.9h.1M403.3 125.7h.1M396.8 129.2h.1M393.3 100.5h.1M391.8 123.6h.1M394.3 133.6h.1M400.0 128.1h.1M392.5 122.4h.1M402.9 118.2h.1M395.8 118.6h.1M404.5 110.8h.1M392.8 121.3h.1M400.7 135.5h.1M393.2 122.0h.1M408.7 138.6h.1M399.4 118.6h.1M402.0 116.7h.1M413.6 135.0h.1M401.5 109.9h.1M393.8 117.5h.1M398.4 107.0h.1M396.0 122.0h.1M405.2 111.7h.1M414.7 113.5h.1M414.1 113.8h.1M398.9 115.5h.1M400.2 129.9h.1M409.0 135.8h.1M405.8 160.7h.1M381.1 125.6h.1M393.0 135.0h.1M396.2 112.3h.1M394.4 124.9h.1M400.5 119.6h.1M404.0 123.9h.1M390.3 126.0h.1M406.8 118.8h.1M400.0 117.3h.1M405.5 114.4h.1M414.8 116.8h.1M396.1 127.0h.1M384.7 105.2h.1M396.1 140.6h.1M399.5 133.4h.1M396.2 113.0h.1M398.1 133.9h.1M391.8 127.9h.1M404.2 111.1h.1M411.4 113.1h.1M406.1 126.4h.1M392.4 113.7h.1M400.4 124.3h.1M403.5 117.4h.1M460.8 153.6h.1M454.6 140.5h.1M463.0 141.9h.1M456.0 156.4h.1M469.6 144.7h.1M462.7 150.0h.1M459.0 156.4h.1M457.8 148.2h.1M470.9 143.4h.1M459.7 160.2h.1M462.2 143.6h.1M452.4 150.4h.1M464.0 138.0h.1M459.8 164.6h.1M454.2 142.3h.1M452.7 163.6h.1M465.9 143.6h.1M459.1 144.5h.1M463.1 133.5h.1M463.9 135.6h.1M469.1 147.9h.1M467.9 156.1h.1M456.2 140.3h.1M457.5 146.6h.1M445.8 156.1h.1M459.1 146.4h.1M460.9 140.8h.1M448.6 148.4h.1M459.0 145.9h.1M459.1 143.5h.1M458.4 154.9h.1M459.9 127.9h.1M451.4 163.3h.1M459.0 149.6h.1M472.6 135.7h.1M458.4 151.8h.1M455.5 148.1h.1M457.1 158.4h.1M468.6 156.0h.1M449.9 146.1h.1M471.3 153.4h.1M455.2 162.3h.1M462.3 162.5h.1M463.8 152.3h.1M453.4 148.1h.1M456.8 140.2h.1M464.0 151.8h.1M458.1 154.5h.1M448.6 149.6h.1M461.9 127.6h.1M451.2 143.8h.1M462.2 141.7h.1M458.6 148.6h.1M448.9 145.5h.1M464.5 146.6h.1M459.9 145.4h.1M466.3 155.4h.1M459.5 138.9h.1M454.4 149.5h.1M446.2 139.6h.1M458.5 154.2h.1M451.3 151.0h.1M455.4 149.4h.1M444.2 156.5h.1M446.4 153.4h.1M458.9 159.5h.1M460.5 134.1h.1M472.0 148.1h.1M467.2 140.6h.1M451.8 161.3h.1M464.6 152.6h.1M457.2 144.9h.1M446.8 156.8h.1M462.3 146.4h.1M453.5 149.2h.1M451.4 145.1h.1M452.0 158.8h.1M458.2 148.4h.1M456.2 160.8h.1M456.1 140.1h.1M458.6 149.0h.1M462.8 138.8h.1M454.4 156.5h.1M455.1 146.5h.1M459.4 137.7h.1M461.0 155.6h.1M462.8 156.7h.1M468.2 147.7h.1M442.3 141.3h.1M466.0 150.9h.1M461.1 163.8h.1M465.8 138.8h.1M452.7 131.2h.1M459.9 147.5h.1M468.3 134.5h.1M468.9 131.5h.1M466.9 150.5h.1M460.7 152.1h.1M452.9 156.0h.1M458.1 151.6h.1M445.6 154.2h.1M456.4 148.8h.1M450.4 162.8h.1M456.7 144.7h.1M456.6 141.4h.1M462.1 163.0h.1M463.1 154.6h.1M461.5 147.3h.1M461.6 149.5h.1M460.7 142.6h.1M469.4 139.9h.1M457.5 130.4h.1M455.7 130.7h.1M452.6 152.6h.1M459.5 143.6h.1M464.0 140.7h.1M470.5 142.6h.1M457.2 153.9h.1M464.4 161.9h.1M457.4 147.5h.1M464.4 138.6h.1M451.1 142.3h.1M461.8 145.3h.1M463.1 154.5h.1M446.9 149.0h.1M457.4 155.3h.1M452.4 134.9h.1M459.7 151.2h.1M461.5 165.0h.1M459.5 152.0h.1M463.2 145.0h.1M460.7 151.2h.1M462.9 157.6h.1M457.4 151.1h.1M463.5 158.4h.1M450.9 132.7h.1M463.6 150.9h.1M454.8 150.5h.1M457.1 152.0h.1M460.3 147.8h.1M460.8 146.9h.1M465.7 151.6h.1M456.1 136.0h.1M461.0 142.6h.1M451.6 145.6h.1M449.8 151.4h.1M469.5 147.5h.1M457.9 141.0h.1M463.6 156.8h.1M459.4 150.7h.1M450.1 149.1h.1M464.8 152.6h.1M464.3 149.6h.1M464.7 160.2h.1M469.4 146.6h.1M457.8 138.2h.1M459.8 152.0h.1M454.7 153.2h.1M456.4 156.0h.1M454.1 153.9h.1M453.6 147.0h.1M455.5 163.2h.1M459.8 142.2h.1M453.7 141.6h.1M455.0 154.8h.1M453.8 141.4h.1M449.6 159.7h.1M453.7 139.4h.1M457.5 150.0h.1M461.3 149.9h.1M465.5 143.5h.1M464.2 130.6h.1M457.8 150.8h.1M456.2 150.7h.1M457.1 148.0h.1M458.3 143.3h.1M451.1 135.5h.1M462.5 141.6h.1M458.8 130.5h.1M457.4 164.8h.1M452.8 144.7h.1M467.2 160.0h.1M469.3 146.8h.1M451.9 162.8h.1M470.4 142.3h.1M456.9 141.1h.1M463.7 140.4h.1M447.8 149.0h.1M459.6 139.4h.1M465.6 134.3h.1M458.5 162.7h.1M465.9 161.1h.1M460.3 141.7h.1M465.9 156.9h.1M472.2 125.4h.1M453.1 150.3h.1M446.1 155.7h.1M452.4 159.3h.1M461.6 150.7h.1M464.5 163.1h.1M463.0 144.6h.1M460.5 125.3h.1M457.9 159.1h.1M453.7 149.6h.1M458.9 148.7h.1M456.9 154.5h.1M444.5 154.9h.1M465.6 135.3h.1M455.6 149.6h.1M449.4 141.6h.1M462.4 145.6h.1M461.2 159.5h.1M470.7 147.6h.1M455.2 142.5h.1M452.9 149.5h.1M465.7 147.0h.1M456.2 149.0h.1M466.2 156.7h.1M462.1 148.6h.1M448.2 144.4h.1M451.2 146.3h.1M450.5 138.4h.1M467.3 162.2h.1M463.6 154.6h.1M462.5 130.3h.1M450.2 147.2h.1M460.8 160.5h.1M435.0 132.6h.1M459.2 144.7h.1M466.1 152.3h.1M462.1 156.0h.1M451.9 138.9h.1M458.2 163.7h.1M450.9 153.9h.1M455.9 161.9h.1M454.2 139.0h.1M477.9 143.1h.1M453.7 139.4h.1M455.1 152.1h.1M459.2 139.1h.1M471.4 149.2h.1M451.8 163.2h.1M467.0 156.6h.1M464.8 142.3h.1M452.9 153.4h.1M456.0 139.1h.1M471.5 156.3h.1M445.1 137.1h.1M449.0 155.5h.1M444.5 158.2h.1M452.6 135.7h.1M458.7 157.9h.1M451.3 161.7h.1M461.0 163.9h.1M460.0 162.7h.1M462.8 155.5h.1M457.2 155.7h.1M457.5 142.8h.1M466.3 150.1h.1M459.4 158.9h.1M465.8 155.4h.1M452.8 149.4h.1M459.2 138.4h.1M458.2 155.5h.1M451.4 150.7h.1M455.3 140.0h.1M447.1 164.5h.1M452.6 153.0h.1M473.0 145.0h.1M459.1 144.2h.1M449.3 162.3h.1M463.3 145.5h.1M466.2 145.7h.1M471.8 130.5h.1M462.7 147.0h.1M464.9 143.4h.1M459.9 158.5h.1M453.0 162.5h.1M460.3 160.0h.1M456.9 134.4h.1M450.2 152.5h.1M470.6 163.6h.1M457.2 147.1h.1M452.3 147.7h.1M456.1 148.9h.1M465.3 135.3h.1M457.3 145.6h.1M453.9 147.7h.1M467.6 151.6h.1M453.5 150.3h.1M464.0 149.7h.1M459.1 145.6h.1M465.9 162.1h.1M463.7 157.0h.1M464.1 151.9h.1M459.0 164.0h.1M457.7 141.8h.1M436.8 157.5h.1M456.6 157.1h.1M456.9 148.5h.1M465.1 132.6h.1M475.0 134.7h.1M459.2 162.2h.1M475.6 138.7h.1M458.2 156.6h.1M466.4 147.9h.1M466.9 145.5h.1M446.9 152.8h.1M470.7 162.5h.1M451.4 157.2h.1M458.0 162.2h.1M452.8 139.5h.1M454.2 143.9h.1M450.8 161.3h.1M456.2 149.6h.1M468.8 146.6h.1M450.9 135.0h.1M466.0 145.1h.1M461.9 144.4h.1M464.0 154.7h.1M462.1 148.4h.1M464.7 132.3h.1M463.9 130.3h.1M451.8 160.0h.1M448.8 135.8h.1M465.7 134.5h.1M462.3 136.4h.1M470.0 143.4h.1M459.3 152.3h.1M457.6 148.6h.1M452.6 142.6h.1M445.9 144.5h.1M460.9 141.0h.1M469.1 146.3h.1M457.8 142.1h.1M464.3 149.9h.1M464.4 138.6h.1M448.0 144.9h.1M460.8 151.2h.1M451.3 139.7h.1M460.1 144.0h.1M462.8 153.8h.1M457.0 146.3h.1M458.5 145.6h.1M466.3 146.6h.1M472.8 149.7h.1M452.2 122.8h.1M456.3 151.3h.1M453.8 146.4h.1M462.2 133.6h.1M454.7 160.5h.1M466.5 146.9h.1M466.7 145.0h.1M458.1 149.4h.1M451.7 148.0h.1M459.3 135.7h.1M458.6 151.7h.1M454.4 153.5h.1M467.3 137.6h.1M457.8 155.1h.1M451.5 149.4h.1M462.9 154.0h.1M448.8 153.2h.1M466.2 149.1h.1M457.3 165.5h.1M468.5 148.0h.1M459.4 133.7h.1M448.7 155.9h.1M454.3 132.0h.1M460.7 148.6h.1M455.2 145.1h.1M457.3 126.1h.1M462.2 131.5h.1M455.3 140.2h.1M451.2 125.2h.1M458.8 137.6h.1M463.1 143.1h.1M457.6 155.9h.1M451.7 131.3h.1M455.0 146.9h.1M455.0 146.6h.1M461.1 144.5h.1M462.0 157.4h.1M460.7 144.9h.1M463.0 126.4h.1M452.2 145.8h.1M451.0 139.7h.1M448.4 144.3h.1M463.9 151.4h.1M459.7 123.9h.1M452.0 146.7h.1M463.0 148.8h.1M455.6 135.7h.1M454.8 127.6h.1M452.1 159.6h.1M459.5 155.6h.1M460.6 131.7h.1M459.8 140.0h.1M456.8 139.0h.1M457.0 144.3h.1M457.7 135.1h.1M456.0 153.1h.1M440.8 148.6h.1M455.1 156.2h.1M455.1 146.7h.1M460.1 163.0h.1M455.6 136.9h.1M456.6 154.6h.1M455.4 153.8h.1M452.4 146.8h.1M447.3 151.6h.1M454.0 144.4h.1M458.8 134.0h.1M459.7 145.4h.1M465.9 156.2h.1M468.4 125.5h.1M458.5 163.6h.1M459.6 133.6h.1M455.4 154.4h.1M458.7 135.7h.1M451.9 154.1h.1M455.2 139.9h.1M458.8 149.7h.1" stroke="#444" stroke-width="1.3" stroke-linecap="round" fill="none"/>
<path d="M384.8 151.6h.1M395.6 161.5h.1M394.4 139.7h.1M387.7 135.8h.1M389.6 158.2h.1M388.6 142.6h.1M384.5 143.4h.1M409.9 144.9h.1M396.5 152.0h.1M396.5 152.5h.1M399.7 156.1h.1M402.8 138.1h.1M385.1 135.4h.1M416.5 156.3h.1M382.5 146.7h.1M381.3 155.5h.1M396.4 154.6h.1M405.2 159.3h.1M404.2 147.8h.1M386.9 153.3h.1M387.7 145.4h.1M394.7 149.4h.1M388.2 148.0h.1M418.4 160.4h.1M406.0 144.6h.1M392.9 140.5h.1M393.4 146.0h.1M407.9 139.5h.1M388.1 155.7h.1M390.3 159.4h.1M394.9 158.4h.1M410.9 157.5h.1M388.5 150.0h.1M382.8 138.4h.1M383.9 143.3h.1M388.7 161.7h.1M381.4 139.6h.1M386.6 142.4h.1M399.4 149.2h.1M397.0 144.8h.1M391.2 141.7h.1M398.2 148.7h.1M395.0 151.1h.1M393.6 150.5h.1M386.2 157.0h.1M402.2 154.4h.1M394.3 165.5h.1M392.6 149.2h.1M391.1 144.5h.1M396.0 146.6h.1M393.7 152.0h.1M382.9 164.0h.1M388.9 154.7h.1M383.3 149.4h.1M382.2 141.7h.1M419.0 149.1h.1M393.5 143.2h.1M401.7 158.7h.1M392.9 145.0h.1M393.5 146.9h.1M384.8 142.3h.1M387.6 155.8h.1M387.7 142.7h.1M393.1 143.4h.1M400.6 161.2h.1M403.2 158.1h.1M410.9 161.4h.1M400.3 154.6h.1M425.9 143.5h.1M384.2 155.1h.1M381.0 142.8h.1M397.3 165.3h.1M402.9 152.6h.1M403.8 146.5h.1M395.2 159.3h.1M407.6 153.9h.1M395.5 159.0h.1M391.2 152.9h.1M393.5 163.0h.1M395.9 157.3h.1M400.9 149.8h.1M383.3 153.4h.1M384.9 163.3h.1M406.2 153.1h.1M391.5 146.6h.1M406.3 154.6h.1M401.2 158.6h.1M398.0 157.7h.1M406.6 140.7h.1M393.6 142.7h.1M401.4 150.6h.1M402.9 161.0h.1M405.2 155.2h.1M409.6 160.7h.1M402.0 155.0h.1M408.2 151.8h.1M410.0 145.1h.1M389.6 155.1h.1M395.0 142.7h.1M409.1 161.5h.1M400.4 137.5h.1M386.8 164.4h.1M399.6 151.4h.1M399.1 146.4h.1M390.2 154.5h.1M391.6 154.5h.1M404.0 153.7h.1M402.1 141.1h.1M384.7 126.8h.1M386.5 162.2h.1M392.3 153.4h.1M395.3 160.0h.1M394.5 130.6h.1M387.2 149.6h.1M398.2 144.0h.1M387.0 162.4h.1M395.3 142.2h.1M395.0 157.7h.1M394.0 158.0h.1M398.5 133.5h.1M396.8 152.2h.1M392.0 153.1h.1M410.3 150.3h.1M394.1 157.7h.1M420.1 164.7h.1M403.6 164.2h.1M382.9 161.6h.1M385.6 147.3h.1M390.0 135.1h.1M394.1 147.4h.1M385.2 156.0h.1M390.5 151.7h.1M399.3 152.4h.1M388.9 160.9h.1M403.9 161.7h.1M387.9 150.9h.1M412.8 152.0h.1M394.7 139.0h.1M382.1 163.4h.1M401.8 151.4h.1M397.2 128.2h.1M380.6 153.1h.1M413.7 151.2h.1M390.8 159.9h.1M400.5 153.1h.1M420.9 157.5h.1M388.4 147.8h.1M388.1 161.0h.1M399.4 142.4h.1M405.5 154.9h.1M386.6 150.0h.1M408.8 161.3h.1M406.9 156.7h.1M384.3 155.4h.1M382.4 154.9h.1M407.2 157.5h.1M383.2 158.6h.1M395.3 144.2h.1M399.6 152.8h.1M403.5 150.5h.1M395.6 150.0h.1M387.4 153.8h.1M403.2 153.1h.1M399.7 140.9h.1M405.8 150.7h.1M385.1 162.4h.1M410.2 159.1h.1M400.2 135.5h.1M392.1 147.5h.1M401.1 156.5h.1M394.3 140.6h.1M398.4 157.2h.1M397.8 144.3h.1M397.3 156.3h.1M387.7 136.4h.1M385.0 152.0h.1M390.9 134.2h.1M396.8 147.8h.1M394.0 135.0h.1M398.3 146.1h.1M388.4 148.9h.1M389.3 162.5h.1M389.1 156.5h.1M389.1 165.0h.1M394.4 153.7h.1M390.5 159.1h.1M407.8 143.8h.1M388.1 153.1h.1M385.8 148.4h.1M399.0 143.6h.1M410.9 162.3h.1M393.4 146.8h.1M383.3 156.2h.1M402.3 150.0h.1M384.8 161.7h.1M394.3 157.1h.1M392.3 138.3h.1M383.5 156.2h.1M398.2 159.8h.1M393.4 163.5h.1M397.6 158.4h.1M392.0 147.9h.1M398.0 147.0h.1M401.6 149.0h.1M399.3 143.8h.1M384.7 163.8h.1M402.6 146.4h.1M405.4 165.1h.1M384.9 158.2h.1M402.6 148.4h.1M395.4 146.8h.1M402.5 151.1h.1M413.1 153.9h.1M406.8 163.0h.1M396.5 156.7h.1M383.8 144.7h.1M388.0 151.4h.1M391.8 140.4h.1M388.9 147.9h.1M400.7 140.7h.1M412.8 148.5h.1M406.1 160.9h.1M382.6 155.1h.1M419.0 150.5h.1M394.9 146.1h.1M390.9 145.3h.1M396.3 152.0h.1M417.3 156.1h.1M395.0 159.3h.1M400.4 139.4h.1M399.2 136.8h.1M405.2 157.0h.1M388.1 162.0h.1M387.3 153.1h.1M401.4 160.5h.1M404.5 138.7h.1M388.7 150.0h.1M399.1 148.1h.1M404.9 148.0h.1M398.8 157.6h.1M391.1 128.2h.1M415.7 148.2h.1M409.5 162.6h.1M401.5 149.6h.1M393.8 142.4h.1M382.9 155.8h.1M390.9 140.4h.1M395.6 160.8h.1M385.8 145.9h.1M405.3 165.6h.1M383.1 156.1h.1M411.2 141.4h.1M391.3 151.5h.1M387.6 151.6h.1M392.4 158.2h.1M400.1 139.7h.1M405.4 161.0h.1M384.5 143.9h.1M401.5 135.6h.1M390.8 150.8h.1M382.1 145.5h.1M383.9 153.3h.1M381.8 151.5h.1M396.4 165.5h.1M396.6 165.4h.1M390.6 152.9h.1M391.7 165.4h.1M400.4 162.4h.1M391.8 155.8h.1M389.6 144.6h.1M396.9 159.0h.1M405.4 157.3h.1M382.0 139.9h.1M395.3 142.3h.1M392.6 164.5h.1M394.3 150.8h.1M403.9 160.5h.1M388.9 150.2h.1M380.2 140.8h.1M392.7 146.6h.1M382.3 131.3h.1M410.8 157.9h.1M408.3 139.5h.1M394.8 145.2h.1M393.0 143.2h.1M390.1 138.9h.1M413.4 152.4h.1M399.6 146.2h.1M405.8 150.4h.1M390.9 130.4h.1M401.5 153.0h.1M388.1 144.5h.1M389.0 148.2h.1M413.8 145.3h.1M400.8 137.1h.1M387.5 155.0h.1M404.0 152.9h.1M387.4 152.2h.1M396.5 149.5h.1M405.6 146.1h.1M387.6 148.1h.1M401.8 145.1h.1M382.3 148.3h.1M381.7 150.1h.1M394.9 151.9h.1M395.9 139.8h.1M391.7 154.0h.1M412.7 159.2h.1M383.3 159.4h.1M388.0 150.6h.1M392.1 145.8h.1M400.1 156.4h.1M409.3 159.2h.1M395.0 151.8h.1M402.7 149.1h.1M398.8 165.7h.1M424.1 150.6h.1M388.3 152.0h.1M394.5 153.0h.1M397.2 153.1h.1M401.6 150.8h.1M388.2 152.6h.1M385.5 160.5h.1M415.7 162.3h.1M396.3 147.6h.1M386.7 145.9h.1M392.4 156.4h.1M398.4 162.0h.1M406.8 156.2h.1M397.6 164.8h.1M384.1 142.4h.1M388.6 150.1h.1M394.9 158.2h.1M389.7 151.1h.1M395.1 157.1h.1M410.5 145.4h.1M381.3 164.3h.1M402.5 156.0h.1M416.7 132.4h.1M396.8 142.2h.1M403.7 140.8h.1M400.6 155.5h.1M400.6 139.6h.1M385.3 152.0h.1M394.8 142.8h.1M402.5 141.9h.1M395.1 144.8h.1M405.9 136.0h.1M397.8 157.8h.1M389.3 136.8h.1M399.2 153.5h.1M390.5 153.2h.1M402.7 147.1h.1M391.0 148.5h.1M391.4 149.0h.1M404.4 156.4h.1M399.3 144.9h.1M389.8 141.8h.1M401.6 162.6h.1M385.5 157.8h.1M399.3 137.8h.1M410.6 153.2h.1M390.9 157.7h.1M402.3 162.0h.1M418.5 152.5h.1M413.0 153.1h.1M393.2 145.6h.1M393.4 156.9h.1M384.5 163.8h.1M402.2 158.1h.1M401.1 155.1h.1M407.4 151.0h.1M400.4 150.0h.1M384.8 155.8h.1M397.2 151.7h.1M409.0 141.2h.1M398.7 142.5h.1M400.0 156.2h.1M411.9 149.3h.1M389.8 150.0h.1M393.0 151.9h.1M404.0 134.4h.1M390.6 137.3h.1M390.5 143.0h.1M401.2 148.8h.1M387.1 157.6h.1M391.3 149.9h.1M397.6 151.6h.1M386.2 134.1h.1M389.2 141.3h.1M396.6 154.8h.1M397.0 154.3h.1M387.0 162.7h.1M389.2 159.2h.1M403.6 148.0h.1M390.1 153.6h.1M394.4 146.4h.1M393.3 158.7h.1M388.2 145.8h.1M401.6 157.1h.1M391.8 156.6h.1M410.6 144.0h.1M392.2 152.6h.1M396.0 139.5h.1M397.6 161.9h.1M390.3 150.7h.1M383.9 146.6h.1M385.4 142.4h.1M388.7 145.4h.1M401.1 149.7h.1M391.3 149.6h.1M384.7 152.8h.1M395.5 133.6h.1M383.5 146.9h.1M391.5 131.6h.1M392.6 150.6h.1M379.9 140.3h.1M403.3 158.4h.1M397.4 160.1h.1M391.4 159.7h.1M383.8 157.1h.1M386.1 152.0h.1M404.3 158.4h.1M387.4 154.1h.1M392.3 138.4h.1M400.5 154.3h.1M403.9 142.0h.1M401.8 163.4h.1M381.8 151.8h.1M400.7 155.5h.1M403.7 135.9h.1M392.2 154.3h.1M398.7 132.0h.1M390.7 141.0h.1M396.8 154.8h.1M398.6 135.5h.1M395.9 146.4h.1M398.9 160.5h.1M384.6 150.5h.1M380.2 153.5h.1M398.7 150.8h.1M381.3 135.9h.1M401.6 149.6h.1M400.7 139.3h.1M424.0 150.4h.1M391.5 152.2h.1M391.1 150.5h.1M393.1 154.4h.1M381.0 159.4h.1M404.0 133.8h.1M385.5 152.9h.1M386.7 164.3h.1M389.4 161.3h.1M399.2 139.7h.1M401.5 145.7h.1M401.9 160.7h.1M394.1 163.7h.1M386.0 148.4h.1M394.2 149.8h.1M383.7 159.5h.1M379.6 163.0h.1M404.0 142.8h.1M380.8 136.4h.1M405.4 145.9h.1M393.6 137.3h.1M390.9 145.0h.1M394.8 163.3h.1M409.8 156.4h.1M380.5 147.6h.1M398.7 161.9h.1M389.7 138.7h.1M384.1 157.1h.1M384.9 156.5h.1M384.9 163.6h.1M394.5 141.6h.1M402.6 158.4h.1M398.2 151.2h.1M391.8 149.9h.1M410.9 136.9h.1M388.3 151.5h.1M394.8 151.3h.1M391.1 153.0h.1M400.8 150.5h.1M399.0 141.8h.1M400.4 150.4h.1M397.2 163.4h.1M388.1 149.4h.1M403.7 144.5h.1M389.7 164.1h.1M388.4 163.3h.1M401.5 148.5h.1M389.8 153.8h.1M394.9 156.8h.1M419.4 139.2h.1M403.0 147.5h.1M389.6 133.0h.1M389.5 161.3h.1M404.2 134.0h.1M398.1 150.4h.1M385.9 139.6h.1M401.1 151.3h.1M407.2 147.4h.1M406.9 156.8h.1M410.6 149.0h.1M382.3 160.3h.1M400.7 154.8h.1M413.9 141.7h.1M399.0 149.1h.1M393.2 152.6h.1M407.6 159.8h.1M381.2 163.8h.1M394.0 150.2h.1M399.1 155.1h.1M390.5 152.0h.1M395.5 155.1h.1M403.7 142.7h.1M402.8 146.2h.1M394.4 159.8h.1M383.4 164.1h.1M380.2 154.9h.1M386.1 149.7h.1M389.8 156.8h.1M387.5 146.1h.1M392.9 139.4h.1M393.5 154.7h.1M400.9 163.5h.1M382.3 148.9h.1M389.2 143.7h.1M400.6 147.4h.1M388.0 154.4h.1M404.5 162.8h.1M388.7 152.2h.1M397.1 156.8h.1M408.8 159.4h.1M405.4 155.3h.1M396.2 158.2h.1M396.2 157.4h.1M401.9 158.8h.1M391.0 145.0h.1M384.5 146.9h.1M404.4 145.9h.1M397.6 150.9h.1M392.7 148.6h.1M384.1 163.5h.1M389.0 157.3h.1M391.6 149.2h.1M397.5 163.0h.1M403.0 144.2h.1M395.5 142.5h.1M398.7 144.8h.1M382.7 165.1h.1M396.1 152.5h.1M406.1 163.6h.1M388.5 142.1h.1M401.4 155.1h.1M409.2 149.7h.1M401.9 134.7h.1M390.3 154.7h.1M395.6 139.8h.1M387.8 146.0h.1M405.7 145.2h.1M385.5 134.1h.1M414.4 143.0h.1M417.9 142.2h.1M413.5 148.1h.1M404.4 147.8h.1M387.9 153.7h.1M392.2 157.0h.1M404.3 156.5h.1M398.6 152.6h.1M388.9 144.1h.1M392.8 153.6h.1M387.1 154.5h.1M394.3 149.3h.1M407.2 155.6h.1M401.8 159.1h.1M391.5 159.7h.1M408.1 133.6h.1M381.3 138.6h.1M389.2 160.8h.1M400.0 138.2h.1M413.0 134.3h.1M402.5 143.7h.1M394.8 161.5h.1M389.3 146.8h.1M405.2 155.7h.1M398.0 143.6h.1M389.3 150.6h.1M394.6 163.0h.1M388.7 162.6h.1M392.8 144.3h.1M388.8 147.9h.1M383.1 137.2h.1M393.0 136.6h.1M391.8 148.6h.1M396.4 156.5h.1M395.0 163.6h.1M392.6 151.9h.1M387.7 159.1h.1M393.8 134.8h.1M394.7 157.9h.1M395.2 159.1h.1M402.5 160.6h.1M394.5 161.0h.1M402.6 163.7h.1M415.2 141.8h.1M402.4 148.6h.1M386.0 146.4h.1M399.6 164.7h.1M390.2 150.3h.1M396.8 145.5h.1M390.0 162.0h.1M386.5 156.0h.1M394.2 132.5h.1M391.0 141.7h.1M389.7 142.1h.1M399.6 157.7h.1M388.4 156.2h.1M392.4 135.3h.1M406.5 157.7h.1M402.9 163.8h.1M394.9 154.0h.1M392.8 158.4h.1M396.9 152.5h.1M382.4 149.0h.1M387.4 157.8h.1M405.2 152.0h.1M385.6 142.0h.1M410.4 149.7h.1M401.3 141.8h.1M390.3 141.6h.1M402.4 146.4h.1M399.2 139.5h.1M407.6 149.9h.1M388.8 154.2h.1M402.1 160.9h.1M394.0 156.0h.1M386.4 146.8h.1M387.6 161.0h.1M400.4 154.1h.1M386.6 148.0h.1M411.9 152.0h.1M402.1 159.5h.1M384.7 164.8h.1M383.1 159.2h.1M393.6 160.7h.1M403.5 159.9h.1M401.0 158.2h.1M384.6 151.8h.1M402.1 147.1h.1M404.4 148.6h.1M388.2 144.2h.1M401.0 159.7h.1M389.1 140.5h.1M382.3 151.9h.1M406.3 144.8h.1M405.8 145.3h.1M386.1 159.6h.1M404.6 161.9h.1M389.1 144.5h.1M398.4 147.8h.1M382.3 154.0h.1M399.6 159.4h.1M405.2 158.2h.1M396.2 165.7h.1M402.5 141.0h.1M397.9 151.3h.1M404.1 146.6h.1M389.5 138.4h.1M390.6 162.7h.1M392.0 144.1h.1M383.9 135.8h.1M392.2 160.4h.1M423.2 147.3h.1M400.5 143.6h.1M387.1 150.8h.1M394.8 145.5h.1M401.8 146.3h.1M405.1 159.9h.1M409.1 145.1h.1M390.5 150.5h.1M404.4 146.0h.1M394.4 159.9h.1M403.9 151.4h.1M393.7 163.4h.1M394.5 140.8h.1M398.1 146.6h.1M388.8 150.2h.1M394.9 153.5h.1M398.6 148.4h.1M389.9 147.2h.1M390.4 149.2h.1M404.5 139.9h.1M396.3 148.8h.1M387.9 155.4h.1M399.1 144.1h.1M392.0 162.0h.1M404.1 149.4h.1M392.3 158.0h.1M394.5 141.4h.1M400.6 147.0h.1M380.2 153.3h.1M396.8 154.7h.1M394.4 157.0h.1M383.3 147.0h.1M403.9 142.6h.1M398.2 151.3h.1M390.4 161.5h.1M403.8 149.1h.1M408.0 137.2h.1M389.5 146.2h.1M409.1 142.7h.1M391.1 133.7h.1M397.7 151.7h.1M404.7 157.7h.1M402.6 142.3h.1M391.7 165.4h.1M393.2 158.7h.1M411.4 160.3h.1M394.7 150.9h.1M404.8 157.3h.1M394.6 150.7h.1M387.0 142.5h.1M397.2 162.8h.1M399.5 143.1h.1M397.3 162.3h.1M407.1 165.1h.1M401.9 154.2h.1M412.4 149.3h.1M400.9 160.4h.1M386.3 147.8h.1M405.7 160.5h.1M384.9 158.5h.1M393.6 152.0h.1M382.7 148.0h.1M403.7 143.7h.1M408.5 151.4h.1M381.9 142.0h.1M386.4 151.5h.1M388.1 154.5h.1M393.5 157.3h.1M392.1 162.2h.1M381.3 140.1h.1M380.3 144.3h.1M396.8 146.1h.1M379.7 150.2h.1M394.3 162.6h.1M396.4 163.9h.1M400.9 146.8h.1M393.5 152.1h.1M396.4 150.5h.1M408.3 150.4h.1M394.4 161.5h.1M406.4 135.1h.1M383.1 156.5h.1M400.3 159.2h.1M394.1 140.3h.1M412.0 145.4h.1M414.5 145.8h.1M406.5 146.1h.1M392.6 139.8h.1M399.1 153.3h.1M387.8 137.9h.1M389.2 162.2h.1M387.3 159.5h.1M397.5 130.6h.1M389.6 144.7h.1M390.2 155.1h.1M391.4 149.2h.1M390.4 153.7h.1M390.7 141.3h.1M405.6 140.8h.1M389.7 135.7h.1M401.1 154.4h.1M390.7 154.4h.1M391.2 145.6h.1M388.0 154.1h.1M389.0 161.8h.1M398.7 161.1h.1M388.2 158.4h.1M395.7 158.1h.1M401.1 155.8h.1M413.4 164.3h.1M403.9 162.7h.1M381.4 143.9h.1M411.1 157.5h.1M394.7 153.2h.1M385.4 150.1h.1M385.3 154.4h.1M390.9 155.9h.1M386.0 163.9h.1M389.9 143.6h.1M406.7 150.1h.1M395.1 143.1h.1M402.5 155.3h.1M398.2 143.8h.1M393.6 155.6h.1M407.4 153.4h.1M407.0 153.3h.1M391.1 157.7h.1M402.2 149.8h.1M391.1 159.8h.1M389.8 149.6h.1M398.7 153.1h.1M395.2 152.2h.1M393.4 160.5h.1M386.4 144.6h.1M401.1 164.7h.1M400.7 154.1h.1M389.2 159.4h.1M398.9 144.9h.1M382.6 160.9h.1M398.7 147.7h.1M412.2 159.7h.1M392.2 154.2h.1M384.7 142.9h.1M404.5 157.3h.1M393.3 152.5h.1M394.5 148.7h.1M399.6 152.1h.1M391.3 161.2h.1M401.3 155.2h.1M387.7 148.7h.1M387.2 148.7h.1M397.2 151.4h.1M398.6 138.0h.1M396.6 145.5h.1M400.8 148.5h.1M393.9 134.3h.1M398.9 151.9h.1M394.4 150.8h.1M403.6 152.8h.1M399.8 152.2h.1M405.3 136.9h.1M392.2 142.3h.1M392.2 157.6h.1M390.0 149.2h.1M389.8 156.0h.1M396.5 155.3h.1M403.9 140.1h.1M394.2 141.9h.1M409.5 143.7h.1M399.0 136.3h.1M400.9 152.6h.1M390.1 163.0h.1M395.5 165.2h.1M387.7 158.6h.1M389.6 146.7h.1M414.2 143.4h.1M391.3 155.1h.1M387.6 145.0h.1M391.2 142.8h.1M400.7 159.1h.1M405.6 155.2h.1M380.1 154.2h.1M399.1 150.8h.1M394.2 161.6h.1M392.3 159.4h.1M387.7 136.3h.1M386.8 159.4h.1M394.0 155.1h.1M388.0 161.3h.1M389.9 158.3h.1M402.6 134.1h.1M382.6 152.7h.1M407.9 159.8h.1M391.9 144.2h.1M401.3 135.6h.1M385.0 164.3h.1M392.5 153.9h.1M390.9 157.4h.1M387.3 145.0h.1M404.3 163.0h.1M398.7 150.7h.1M404.4 150.8h.1M380.6 141.4h.1M394.2 154.1h.1M391.3 156.0h.1M380.8 143.6h.1M405.6 147.6h.1M396.2 157.4h.1M399.0 140.9h.1M409.8 156.2h.1M390.4 161.4h.1M410.6 152.8h.1M408.8 152.0h.1M403.2 163.5h.1M384.4 153.2h.1M383.5 140.3h.1M420.0 160.5h.1M390.0 156.3h.1M396.9 159.8h.1M394.3 150.5h.1M383.9 133.4h.1M384.6 133.6h.1M387.9 151.2h.1M404.5 146.6h.1M385.4 143.1h.1M399.6 143.2h.1M394.5 162.3h.1M390.9 155.1h.1M386.0 153.2h.1M388.0 145.8h.1M384.2 156.9h.1M390.4 143.6h.1M386.1 148.5h.1M380.6 153.5h.1M408.0 150.5h.1M402.6 149.5h.1M390.9 161.5h.1M389.4 144.7h.1M383.2 140.3h.1M390.6 139.7h.1M404.5 140.4h.1M396.3 143.6h.1M394.5 162.1h.1M394.2 159.3h.1M405.2 149.5h.1M402.0 147.9h.1M388.4 162.8h.1M411.3 156.2h.1M388.4 162.5h.1M384.6 152.5h.1M388.3 156.4h.1M403.4 151.7h.1M409.8 128.6h.1M415.0 157.9h.1M384.9 153.2h.1M387.6 151.6h.1M390.1 146.3h.1M407.2 146.7h.1M385.7 152.8h.1M394.6 161.1h.1M383.4 155.2h.1M396.5 154.4h.1M386.4 160.0h.1M423.4 145.9h.1M402.2 162.2h.1M389.7 148.7h.1M402.7 158.3h.1M394.1 146.7h.1M388.7 161.4h.1M399.5 141.9h.1M408.9 148.3h.1M406.6 148.4h.1M383.9 145.4h.1M393.3 142.6h.1M399.9 138.5h.1M397.6 161.8h.1M396.8 151.3h.1M389.5 132.7h.1M394.1 152.8h.1M388.0 157.4h.1M392.4 154.4h.1M388.1 147.1h.1M388.4 150.8h.1M388.0 128.4h.1M386.9 131.4h.1M402.9 139.1h.1M408.4 158.6h.1M389.0 163.7h.1M406.9 146.3h.1M398.2 149.1h.1M398.3 153.9h.1M392.4 144.4h.1M393.4 162.9h.1M392.2 147.7h.1M413.1 146.5h.1M380.8 146.1h.1M396.7 135.9h.1M396.9 151.0h.1M387.4 156.0h.1M397.8 159.2h.1M394.4 149.3h.1M405.6 146.6h.1M386.1 147.0h.1M396.6 130.0h.1M389.2 163.1h.1M406.5 165.1h.1M386.2 137.7h.1M383.9 136.9h.1M395.3 163.7h.1M404.3 151.1h.1M390.8 148.6h.1M393.9 152.9h.1M394.1 150.2h.1M384.9 163.2h.1M393.2 138.6h.1M385.5 160.9h.1M398.8 129.4h.1M396.5 149.8h.1M392.5 152.0h.1M387.2 159.3h.1M394.6 152.1h.1M382.6 158.0h.1M402.0 148.9h.1M416.6 161.7h.1M396.9 146.8h.1M409.4 148.8h.1M409.5 149.5h.1M391.9 163.6h.1M395.3 154.1h.1M396.1 150.2h.1M404.6 138.1h.1M388.0 161.5h.1M401.6 148.8h.1M386.3 155.1h.1M400.8 149.9h.1M394.2 155.4h.1M390.7 136.7h.1M399.2 136.0h.1M392.9 150.1h.1M396.9 136.4h.1M416.2 158.7h.1M382.0 152.7h.1M387.5 163.0h.1M387.1 159.2h.1M394.6 158.4h.1M389.9 146.2h.1M392.4 155.1h.1M386.5 160.9h.1M387.2 161.9h.1M413.0 154.9h.1M418.9 151.2h.1M392.9 145.8h.1M395.4 149.3h.1M390.6 162.8h.1M401.8 163.5h.1M398.6 150.7h.1M392.5 146.8h.1M412.2 159.7h.1M423.3 164.4h.1M392.8 158.5h.1M384.6 140.9h.1M400.5 137.3h.1M386.3 161.1h.1M394.0 148.1h.1M405.2 152.1h.1M398.5 151.5h.1M386.3 153.0h.1M403.3 143.4h.1M386.6 160.9h.1M409.6 146.2h.1M394.6 141.9h.1M386.2 153.2h.1M402.4 163.8h.1M412.3 155.4h.1M398.2 161.4h.1M417.0 155.2h.1M381.9 162.6h.1M404.7 147.2h.1M379.8 156.6h.1M384.1 151.4h.1M402.6 144.6h.1M397.1 136.4h.1M392.8 158.6h.1M398.8 152.7h.1M387.7 156.8h.1M409.4 139.1h.1M395.7 155.1h.1M382.0 158.6h.1M394.0 140.5h.1M382.9 159.1h.1M401.3 154.1h.1M401.8 144.8h.1M404.8 154.3h.1M400.2 132.5h.1M407.0 162.4h.1M409.6 159.4h.1M391.8 157.5h.1M390.0 159.5h.1M390.1 164.4h.1M394.6 139.2h.1M392.6 154.3h.1M392.4 158.0h.1M411.4 159.3h.1M395.3 148.7h.1M390.4 151.9h.1M409.1 159.3h.1M383.7 158.4h.1M400.0 136.1h.1M401.0 153.1h.1M382.4 150.2h.1M381.3 155.3h.1M382.8 153.3h.1M386.5 146.6h.1M405.9 155.1h.1M393.7 140.5h.1M397.9 142.7h.1M386.3 142.8h.1M389.4 154.5h.1M400.7 159.9h.1M397.9 164.0h.1M391.7 140.0h.1M403.9 150.1h.1M388.8 163.2h.1M389.2 152.8h.1M390.3 165.6h.1M402.3 147.9h.1M380.3 148.3h.1M398.6 153.5h.1M394.4 150.1h.1M393.1 152.8h.1M405.8 152.7h.1M405.0 154.9h.1M386.3 132.6h.1M407.1 142.1h.1M388.6 139.3h.1M394.9 150.7h.1M387.0 157.1h.1M384.7 144.2h.1M379.8 137.4h.1M391.7 158.9h.1M400.8 148.2h.1M390.9 151.8h.1M400.4 157.4h.1M402.7 161.4h.1M408.9 147.7h.1M404.4 143.1h.1M394.9 141.2h.1M397.1 143.7h.1M393.3 153.8h.1M383.0 156.9h.1M410.9 146.9h.1M386.1 150.9h.1M400.0 149.0h.1M408.8 138.9h.1M396.7 152.3h.1M389.3 155.9h.1M398.4 154.0h.1M409.6 145.2h.1M385.6 152.3h.1M386.1 146.0h.1M389.8 149.3h.1M402.1 135.5h.1M402.4 159.4h.1M389.3 149.7h.1M395.4 127.7h.1M403.3 150.3h.1M383.4 158.7h.1M398.8 144.2h.1M401.2 143.5h.1M381.2 162.0h.1M394.0 159.5h.1M389.2 150.7h.1M396.9 142.1h.1M398.9 142.9h.1M393.7 162.8h.1M415.6 150.3h.1M412.4 150.7h.1M403.8 146.4h.1M395.3 153.5h.1M414.3 148.0h.1M388.7 162.7h.1M392.9 157.1h.1M385.8 143.5h.1M384.3 147.7h.1M390.8 165.4h.1M390.3 159.8h.1M398.2 151.4h.1M400.5 161.3h.1M400.4 158.2h.1M383.6 144.4h.1M410.0 163.2h.1M392.3 141.7h.1M392.4 149.8h.1M399.1 160.6h.1M394.8 165.2h.1M398.5 143.7h.1M385.5 148.0h.1M388.8 146.2h.1M390.7 155.5h.1M393.7 149.7h.1M389.3 158.3h.1M385.5 140.0h.1M396.4 140.5h.1M399.1 143.6h.1M389.2 147.2h.1M399.0 143.9h.1M389.3 156.6h.1M411.8 142.0h.1M398.2 157.8h.1M403.1 142.9h.1M392.7 163.6h.1M393.1 155.2h.1M395.3 149.4h.1M395.8 140.1h.1M393.3 152.3h.1M386.5 152.7h.1M400.4 158.7h.1M395.2 153.6h.1M413.2 152.4h.1M387.0 140.2h.1M391.1 146.9h.1M394.1 153.0h.1M386.4 150.1h.1M388.4 142.1h.1M396.0 148.0h.1M395.8 158.1h.1M404.6 149.6h.1M396.8 142.1h.1M404.3 151.4h.1M399.7 151.0h.1M396.1 152.4h.1M380.1 147.2h.1M400.9 152.2h.1M406.8 157.1h.1M407.7 134.8h.1M398.0 148.7h.1M394.9 142.5h.1M381.7 146.6h.1M401.8 148.8h.1M396.9 165.5h.1M392.1 159.4h.1M382.2 155.2h.1M381.7 142.5h.1M390.1 155.3h.1M402.5 157.7h.1M394.4 137.6h.1M386.3 136.4h.1M402.2 164.7h.1M404.9 162.4h.1M397.0 153.1h.1M392.4 162.2h.1M397.3 161.3h.1M400.0 126.5h.1M384.3 155.8h.1M406.4 163.7h.1M395.2 155.7h.1M416.7 146.2h.1M386.4 165.2h.1M395.0 133.9h.1M398.5 142.2h.1M389.1 158.6h.1M396.4 160.5h.1M396.6 147.2h.1M387.1 138.9h.1M394.3 162.9h.1M383.6 165.3h.1M390.4 134.7h.1M389.1 152.9h.1M387.9 157.1h.1M384.3 151.8h.1M397.7 165.3h.1M394.2 155.5h.1M411.6 157.5h.1M393.5 139.2h.1M399.7 147.2h.1M396.9 152.6h.1M416.7 165.0h.1M387.4 159.3h.1M399.9 132.0h.1M386.5 152.9h.1M396.0 163.4h.1M391.7 151.1h.1M414.3 138.9h.1M385.1 164.4h.1M398.8 162.3h.1M396.4 163.1h.1M395.7 136.3h.1M384.8 147.4h.1M395.0 130.4h.1M395.9 162.4h.1M391.2 158.2h.1M382.7 128.6h.1M389.4 158.9h.1M392.3 162.6h.1M392.9 144.8h.1M381.0 150.3h.1M405.4 139.3h.1M393.1 156.9h.1M408.3 162.4h.1M397.2 155.3h.1M390.3 149.4h.1M385.0 154.8h.1M383.0 157.5h.1M387.7 160.4h.1M384.4 138.8h.1M392.0 152.3h.1M411.2 151.6h.1M397.1 141.6h.1M398.1 144.9h.1M397.7 145.2h.1M394.5 139.7h.1M391.3 151.1h.1M392.5 148.4h.1M386.1 153.8h.1M387.9 151.1h.1M395.5 159.4h.1M395.3 156.9h.1M396.3 129.5h.1M387.8 163.9h.1M383.2 152.9h.1M414.7 152.3h.1M399.4 147.8h.1M403.1 161.4h.1M397.0 149.4h.1M401.8 163.3h.1M404.3 141.7h.1M394.2 165.1h.1M399.9 141.1h.1M402.9 160.3h.1M380.1 147.6h.1M394.9 141.2h.1M398.4 147.9h.1M386.3 153.9h.1M389.2 146.4h.1M405.6 157.5h.1M399.0 164.2h.1M394.3 139.1h.1M389.8 133.9h.1M396.5 151.9h.1M426.7 154.4h.1M396.2 153.5h.1M385.5 159.7h.1M405.1 134.1h.1M399.7 152.4h.1M386.1 144.4h.1M408.2 150.8h.1M407.1 139.1h.1M387.7 157.3h.1M388.1 151.2h.1M398.8 146.5h.1M394.7 138.8h.1M405.3 161.1h.1M389.3 158.3h.1M397.6 145.7h.1M382.6 143.8h.1M405.1 147.8h.1M398.1 136.7h.1M395.2 156.6h.1M400.4 137.0h.1M396.0 149.3h.1M401.5 147.6h.1M394.0 161.1h.1M405.1 139.9h.1M392.0 154.2h.1M390.3 158.6h.1M386.0 142.0h.1M393.6 162.0h.1M395.1 160.4h.1M392.9 137.7h.1M385.5 138.4h.1M404.1 154.2h.1M396.6 146.9h.1M406.3 153.5h.1M398.9 151.7h.1M390.7 157.2h.1M388.8 147.9h.1M397.1 149.4h.1M397.3 163.4h.1M389.5 134.6h.1M408.3 148.8h.1M398.4 148.1h.1M396.8 163.9h.1M390.4 164.4h.1M411.2 147.9h.1M407.1 143.3h.1M386.9 154.3h.1M406.6 157.7h.1M397.6 155.2h.1M392.6 141.9h.1M406.2 150.3h.1M389.1 158.2h.1M396.1 156.2h.1M407.1 158.3h.1M397.1 144.6h.1M382.1 148.7h.1M388.9 153.8h.1M397.5 124.5h.1M388.4 150.2h.1M395.4 157.8h.1M401.8 156.9h.1M389.8 148.5h.1M383.3 151.2h.1M398.4 159.6h.1M411.0 151.6h.1M394.0 138.5h.1M399.4 157.2h.1M400.5 136.6h.1M398.5 144.7h.1M399.8 155.8h.1M400.7 160.9h.1M388.0 158.4h.1M399.4 160.4h.1M387.8 154.0h.1M385.2 160.5h.1M387.2 153.9h.1M405.9 144.7h.1M404.0 156.4h.1M396.9 154.2h.1M411.1 161.7h.1M388.3 164.1h.1M391.1 144.5h.1M398.1 147.9h.1M381.7 146.5h.1M391.6 148.6h.1M399.9 147.4h.1M391.8 145.4h.1M380.6 148.1h.1M416.0 154.1h.1M393.9 143.2h.1M390.1 143.3h.1M388.8 140.5h.1M379.8 162.0h.1M384.4 146.8h.1M396.8 154.2h.1M383.7 141.3h.1M391.1 148.1h.1M416.2 126.8h.1M401.1 154.1h.1M402.4 148.1h.1M398.4 139.8h.1M393.1 148.5h.1M387.7 135.2h.1M410.8 152.3h.1M408.6 162.8h.1M405.5 161.0h.1M385.2 150.6h.1M395.1 148.9h.1M401.8 150.1h.1M396.1 141.3h.1M394.9 156.1h.1M384.5 143.4h.1M405.9 161.7h.1M385.1 150.9h.1M390.4 159.6h.1M393.3 150.0h.1M391.1 162.6h.1M392.5 152.7h.1M387.7 145.6h.1M396.2 151.0h.1M384.6 143.9h.1M394.1 160.0h.1M395.0 150.7h.1M392.5 145.0h.1M393.4 153.4h.1M389.7 165.2h.1M415.5 147.3h.1M408.8 157.5h.1M400.6 147.9h.1M392.4 159.5h.1M409.6 156.5h.1M393.7 131.6h.1M393.8 153.7h.1M397.9 135.3h.1M389.4 161.5h.1M402.3 156.9h.1M395.8 147.2h.1M403.1 148.6h.1M397.4 135.5h.1M404.5 148.4h.1M400.0 150.3h.1M394.8 145.5h.1M380.4 164.6h.1M414.7 156.5h.1M386.8 143.0h.1M388.5 151.4h.1M414.6 151.4h.1M397.7 148.7h.1M390.9 157.7h.1M402.8 144.8h.1M399.0 148.5h.1M389.8 165.5h.1M402.8 163.6h.1M381.3 161.8h.1M405.5 153.6h.1M421.2 150.7h.1M388.4 155.9h.1M384.9 162.9h.1M397.3 153.5h.1M402.3 152.8h.1M400.4 164.4h.1M410.6 158.6h.1M413.4 155.3h.1M401.7 146.4h.1M385.8 151.9h.1M392.7 154.5h.1M396.9 155.4h.1M393.2 153.6h.1M406.8 163.4h.1M401.8 154.5h.1M398.0 151.2h.1M395.6 150.2h.1M404.4 156.7h.1M388.1 158.3h.1M383.8 158.7h.1M391.1 158.4h.1M385.5 148.4h.1M390.3 165.0h.1M394.5 133.3h.1M388.7 159.9h.1M402.3 159.8h.1M404.5 145.9h.1M400.9 148.7h.1M380.1 162.0h.1M397.1 162.2h.1M398.0 147.6h.1M384.6 147.0h.1M399.7 158.3h.1M387.2 165.7h.1M399.2 154.1h.1M390.3 157.1h.1M415.3 145.0h.1M397.2 151.1h.1M390.2 129.6h.1M396.6 134.8h.1M395.3 164.3h.1M393.7 156.2h.1M386.5 146.4h.1M387.6 163.5h.1M410.0 151.5h.1M387.5 148.1h.1M410.9 145.5h.1M387.5 151.3h.1M395.2 148.6h.1M396.3 159.2h.1M395.7 164.1h.1M390.3 153.3h.1M397.5 141.0h.1M401.0 162.5h.1M403.8 142.9h.1M393.4 163.7h.1M394.9 161.7h.1M393.8 152.1h.1M397.3 146.3h.1M383.6 159.0h.1M395.4 144.9h.1M389.7 125.5h.1M390.4 139.6h.1M394.5 162.7h.1M383.2 157.0h.1M395.2 144.4h.1M410.1 149.2h.1M410.3 149.7h.1M406.4 141.5h.1M399.5 143.9h.1M413.9 152.7h.1M395.1 156.7h.1M404.1 148.3h.1M401.0 160.9h.1M397.3 153.3h.1M387.4 147.1h.1M398.4 147.0h.1M413.4 151.2h.1M398.9 152.0h.1M392.5 156.7h.1M397.6 164.8h.1M392.1 150.8h.1M394.9 160.6h.1M387.8 160.8h.1M402.7 147.9h.1M392.2 132.4h.1M394.0 153.7h.1M394.9 155.6h.1M380.3 165.2h.1M409.3 133.1h.1M411.9 158.9h.1M389.2 151.2h.1M420.0 156.7h.1M396.3 164.3h.1M391.4 156.4h.1M398.3 158.9h.1M399.7 156.2h.1M390.3 142.2h.1M399.4 155.9h.1M383.2 149.4h.1M402.7 156.5h.1M389.4 136.2h.1M381.3 160.1h.1M395.0 155.5h.1M383.3 151.8h.1M404.2 149.6h.1M410.0 162.5h.1M384.4 156.5h.1M390.5 160.2h.1M384.0 157.5h.1M383.9 148.6h.1M386.6 156.2h.1M394.2 161.3h.1M381.4 148.9h.1M402.6 157.8h.1M416.5 154.6h.1M385.7 165.5h.1M395.4 153.3h.1M389.9 152.3h.1M412.1 157.2h.1M394.6 164.3h.1M410.5 137.6h.1M395.9 148.4h.1M403.6 156.0h.1M405.8 158.1h.1M390.5 145.9h.1M408.6 144.2h.1M408.0 151.3h.1M392.8 158.3h.1M396.0 157.8h.1M384.3 148.7h.1M410.7 157.0h.1M386.4 150.2h.1M396.0 150.3h.1M390.1 161.2h.1M391.3 153.1h.1M404.4 159.6h.1M397.2 158.2h.1M406.4 149.3h.1M395.5 147.6h.1M406.3 155.1h.1M385.3 152.7h.1M406.9 154.4h.1M405.2 143.3h.1M382.5 149.8h.1M386.1 159.0h.1M394.4 140.2h.1M385.3 141.0h.1M407.8 158.6h.1M412.1 157.6h.1M397.8 148.1h.1M398.2 152.8h.1M393.1 148.7h.1M382.6 152.3h.1M380.5 162.3h.1M388.2 160.7h.1M388.5 157.2h.1M399.1 151.7h.1M413.9 163.1h.1M413.3 156.6h.1M405.0 156.3h.1M404.4 160.8h.1M390.9 147.9h.1M397.9 158.7h.1M395.4 150.5h.1M402.8 147.4h.1M405.1 159.2h.1M400.5 144.6h.1M385.4 141.4h.1M386.3 160.8h.1M405.7 151.1h.1M399.0 156.2h.1M407.6 153.8h.1M396.8 147.2h.1M385.2 147.1h.1M394.0 142.3h.1M385.7 157.9h.1M404.2 155.3h.1M384.8 155.4h.1M389.2 164.2h.1M393.4 150.1h.1M392.1 155.8h.1M389.5 152.4h.1M402.5 148.2h.1M391.3 155.5h.1M412.3 165.0h.1M386.5 154.1h.1M398.0 149.0h.1M401.5 153.2h.1M411.9 152.4h.1M390.0 161.6h.1M406.0 153.6h.1M397.2 139.9h.1M393.3 159.7h.1M410.5 137.8h.1M409.5 140.1h.1M404.5 160.6h.1M403.5 153.0h.1M383.5 163.0h.1M388.3 165.6h.1M393.2 157.9h.1M393.5 142.2h.1M405.1 144.2h.1M406.8 164.2h.1M382.6 153.5h.1M387.3 145.3h.1M398.9 159.9h.1M398.5 137.0h.1M408.6 160.3h.1M407.9 157.5h.1M406.7 164.6h.1M385.0 135.9h.1M408.7 142.0h.1M386.8 147.2h.1M411.5 158.1h.1M401.1 164.9h.1M403.0 141.0h.1M401.4 149.1h.1M382.8 160.4h.1M404.2 141.4h.1M401.3 159.6h.1M401.5 159.7h.1M393.1 161.9h.1M405.0 154.4h.1M389.9 157.7h.1M383.1 163.4h.1M406.2 157.2h.1M393.3 164.1h.1M389.6 162.1h.1M391.4 160.8h.1M410.5 150.9h.1M399.0 160.7h.1M391.3 163.0h.1M385.9 148.9h.1M387.4 145.8h.1M394.3 158.4h.1M381.3 160.3h.1M392.2 146.9h.1M392.4 157.7h.1M391.6 135.5h.1M386.7 157.9h.1M396.2 156.4h.1M410.2 154.8h.1M412.7 153.4h.1M385.6 158.1h.1M394.1 152.9h.1M400.7 149.5h.1M392.0 161.2h.1M388.5 152.7h.1M386.1 161.1h.1M384.5 165.2h.1M396.8 143.9h.1M394.6 150.5h.1M386.9 146.8h.1M410.2 151.9h.1M392.9 163.7h.1M411.3 147.3h.1M391.5 146.8h.1M392.7 155.9h.1M385.4 161.3h.1M382.7 143.3h.1M385.7 135.4h.1M401.8 154.2h.1M402.7 145.5h.1M403.0 154.3h.1M382.5 146.5h.1M408.8 149.1h.1M399.0 147.9h.1M385.7 154.7h.1M392.3 162.3h.1M393.8 154.9h.1M396.9 158.1h.1M400.7 164.3h.1M385.8 153.5h.1M394.1 146.9h.1M403.5 158.5h.1M395.3 143.4h.1M391.9 153.2h.1M384.2 151.7h.1M399.1 139.0h.1M395.1 161.3h.1M398.6 140.7h.1M384.5 154.3h.1M388.7 135.4h.1M390.4 159.8h.1M391.8 153.4h.1M397.9 145.5h.1M395.4 133.8h.1M397.7 153.2h.1M393.1 161.8h.1M405.2 151.5h.1M402.4 154.5h.1M398.1 146.5h.1M392.1 151.0h.1M379.9 155.1h.1M397.7 163.5h.1M384.2 148.1h.1M383.3 153.8h.1M393.3 159.7h.1M392.5 150.2h.1M394.4 154.3h.1M387.5 161.8h.1M394.0 158.1h.1M410.8 160.5h.1M394.5 148.1h.1M385.8 139.9h.1M386.7 144.8h.1M388.6 149.4h.1M408.5 157.9h.1M399.4 149.2h.1M408.4 145.8h.1M398.5 149.0h.1M410.6 156.1h.1M396.6 158.7h.1M399.4 156.1h.1M383.6 147.2h.1M390.1 156.8h.1M400.9 162.3h.1M386.5 158.3h.1M384.3 149.5h.1M388.9 149.6h.1M386.5 150.0h.1M395.6 161.0h.1M393.8 157.8h.1M402.4 137.7h.1M389.0 158.7h.1M390.8 138.3h.1M386.3 147.6h.1M414.6 165.3h.1M387.1 153.4h.1M400.4 150.6h.1M399.8 127.9h.1M385.0 159.3h.1M402.0 150.4h.1M398.7 152.1h.1M387.5 140.6h.1M380.0 143.7h.1M390.8 152.2h.1M389.7 134.4h.1M384.9 159.6h.1M386.1 159.5h.1M398.9 142.8h.1M387.1 144.1h.1M384.3 153.7h.1M395.7 152.7h.1M407.3 144.8h.1M384.5 151.7h.1M383.4 142.6h.1M407.3 137.6h.1M391.5 156.8h.1M406.8 140.3h.1M393.3 152.9h.1M388.7 154.2h.1M400.9 165.1h.1M394.2 149.6h.1M389.7 163.1h.1M398.8 146.2h.1M397.2 143.3h.1M393.6 144.0h.1M396.3 165.5h.1M406.4 148.0h.1M394.3 146.9h.1M395.5 134.3h.1M413.9 153.3h.1M407.0 157.4h.1M407.9 145.5h.1M381.8 142.6h.1M413.5 143.5h.1M397.8 135.0h.1M395.6 141.7h.1M400.0 149.1h.1M404.3 159.9h.1M381.7 143.7h.1M410.9 148.0h.1M397.7 151.5h.1M388.5 144.4h.1M385.3 155.8h.1M392.4 138.6h.1M409.4 151.0h.1M394.7 160.2h.1M395.9 161.9h.1M387.1 139.8h.1M409.6 137.6h.1M388.5 161.0h.1M398.1 133.5h.1M388.9 161.4h.1M392.5 155.2h.1M399.8 151.1h.1M387.0 158.5h.1M399.6 148.1h.1M401.3 158.6h.1M400.9 164.8h.1M405.0 157.1h.1M393.3 140.0h.1M391.4 152.2h.1M404.8 151.9h.1M383.9 155.5h.1M385.8 144.4h.1M382.6 146.9h.1M387.1 146.7h.1M406.4 140.9h.1M407.6 154.9h.1M390.4 145.6h.1M380.8 165.3h.1M387.4 147.1h.1M396.5 135.0h.1M409.6 153.4h.1M392.6 163.6h.1M403.7 163.6h.1M402.3 144.9h.1M381.0 148.3h.1M405.7 149.1h.1M407.2 156.7h.1M400.2 147.4h.1M394.0 126.1h.1M406.4 162.1h.1M400.3 157.8h.1M396.6 141.1h.1M399.2 150.4h.1M408.9 147.4h.1M385.7 142.6h.1M393.0 153.9h.1M390.4 141.0h.1M397.4 150.5h.1M396.4 158.4h.1M391.4 160.2h.1M393.8 153.4h.1M407.1 157.4h.1M405.5 157.8h.1M394.6 146.5h.1M395.9 133.8h.1M392.0 142.6h.1M386.9 134.7h.1M399.1 153.0h.1M405.3 155.7h.1M384.2 159.7h.1M404.9 148.3h.1M396.4 141.4h.1M393.7 157.5h.1M401.8 159.6h.1M390.5 160.1h.1M407.9 153.6h.1M392.9 147.4h.1M402.7 159.3h.1M399.9 160.2h.1M396.1 148.6h.1M391.9 165.5h.1M407.0 133.7h.1M385.6 157.0h.1M410.8 140.1h.1M382.6 149.0h.1M400.3 153.8h.1M401.5 159.7h.1M395.0 158.3h.1M385.4 159.8h.1M386.2 155.5h.1M403.4 145.9h.1M387.7 156.5h.1M395.0 149.6h.1M397.0 158.9h.1M388.8 152.1h.1M384.8 153.9h.1M382.9 136.9h.1M391.1 156.1h.1M404.7 148.0h.1M393.8 155.1h.1M392.3 149.2h.1M408.1 165.4h.1M399.1 147.6h.1M400.4 157.8h.1M404.4 151.5h.1M397.7 146.1h.1M404.1 158.3h.1M397.3 146.0h.1M382.1 151.8h.1M384.9 159.8h.1M409.1 149.2h.1M407.4 151.5h.1M387.1 149.0h.1M405.0 163.5h.1M392.7 157.7h.1M395.8 147.8h.1M407.9 153.9h.1M400.4 159.0h.1M395.9 144.9h.1M407.4 157.1h.1M389.1 147.4h.1M423.7 148.1h.1M402.1 150.3h.1M387.1 139.4h.1M413.9 154.8h.1M382.9 148.2h.1M400.6 142.8h.1M398.2 146.5h.1M386.4 139.2h.1M400.6 155.7h.1M402.5 141.4h.1M394.8 155.0h.1M388.8 152.4h.1M381.1 126.9h.1M382.3 150.9h.1M384.0 145.8h.1M384.9 143.1h.1M394.6 141.1h.1M380.5 131.6h.1M387.8 142.0h.1M414.1 158.3h.1M399.3 142.6h.1M401.0 148.8h.1M420.1 154.2h.1M397.4 146.3h.1M399.4 148.1h.1M399.8 153.3h.1M412.9 148.6h.1M415.6 157.3h.1M397.6 140.6h.1M393.9 138.7h.1M404.4 152.6h.1M392.9 155.9h.1M391.2 148.6h.1M399.7 150.1h.1M386.8 155.6h.1M409.2 152.3h.1M386.6 148.8h.1M401.4 156.5h.1M392.2 158.4h.1M393.4 147.2h.1M391.8 150.6h.1M404.7 159.1h.1M403.2 153.8h.1M395.1 148.1h.1M406.2 155.0h.1M381.9 153.4h.1M399.1 150.8h.1M382.0 148.1h.1M402.8 141.8h.1M393.7 144.9h.1M395.9 151.5h.1M386.4 145.3h.1M387.8 140.7h.1M383.4 161.8h.1M393.5 138.5h.1M396.5 144.7h.1M394.7 162.1h.1M394.2 145.9h.1M392.7 148.2h.1M395.7 138.2h.1M401.3 152.3h.1M386.8 134.9h.1M399.7 159.8h.1M405.3 147.7h.1M381.8 157.7h.1M387.5 147.5h.1M391.4 139.7h.1M384.7 145.4h.1M390.2 165.2h.1M388.9 154.4h.1M410.3 150.5h.1M397.7 163.9h.1M409.6 136.4h.1M393.3 148.9h.1M394.9 161.4h.1M393.5 143.6h.1M392.8 156.1h.1M420.4 148.8h.1M406.8 165.6h.1M396.5 158.1h.1M390.7 150.0h.1M404.1 146.7h.1M398.0 139.5h.1M392.2 143.3h.1M402.8 133.3h.1M397.7 150.5h.1M387.8 155.7h.1M402.1 156.0h.1M393.4 142.6h.1M389.5 146.2h.1M394.3 156.1h.1M400.7 145.7h.1M397.8 160.5h.1M405.9 160.9h.1M391.6 151.1h.1M394.5 148.2h.1M393.2 150.1h.1M398.8 144.6h.1M407.3 152.9h.1M408.5 143.6h.1M382.0 148.5h.1M397.4 151.6h.1M400.5 158.4h.1M394.7 163.2h.1M386.8 153.9h.1M404.3 143.3h.1M393.0 151.4h.1M402.7 140.6h.1M381.4 148.8h.1M408.6 131.5h.1M405.1 149.9h.1M382.4 147.6h.1M399.1 160.2h.1M407.3 150.9h.1M397.3 130.4h.1M397.8 141.7h.1M396.6 148.1h.1M411.2 158.6h.1M400.2 136.1h.1M383.3 149.2h.1M408.3 138.5h.1M404.9 165.7h.1M394.9 148.2h.1M393.5 143.0h.1M409.1 153.6h.1M401.1 145.2h.1M393.1 147.6h.1M407.0 152.9h.1M391.9 146.8h.1M393.3 146.5h.1M391.6 152.7h.1M420.9 146.5h.1M382.5 157.2h.1M404.5 165.4h.1M387.7 146.8h.1M404.0 151.2h.1M411.3 157.2h.1M391.9 159.2h.1M389.6 148.9h.1M400.7 142.2h.1M409.7 158.2h.1M393.4 150.4h.1M399.7 150.3h.1M389.1 151.4h.1M385.3 146.3h.1M385.8 135.2h.1M410.6 163.2h.1M403.9 155.8h.1M396.2 156.9h.1M394.0 159.5h.1M407.1 145.6h.1M395.0 149.7h.1M393.8 150.2h.1M390.4 140.7h.1M387.1 147.3h.1M394.8 156.3h.1M399.8 129.4h.1M386.4 164.1h.1M404.1 144.4h.1M404.1 153.3h.1M395.6 144.1h.1M385.7 158.0h.1M401.3 150.2h.1M397.9 157.5h.1M389.6 148.0h.1M384.6 154.1h.1M389.8 144.6h.1M405.9 147.5h.1M407.4 145.4h.1M391.7 150.3h.1M396.8 157.1h.1M410.1 163.3h.1M381.7 144.4h.1M390.1 160.3h.1M392.7 144.6h.1M398.9 144.6h.1M380.6 151.3h.1M403.4 160.4h.1M394.0 152.9h.1M390.1 157.5h.1M403.0 152.5h.1M385.8 162.6h.1M403.5 155.5h.1M392.1 156.8h.1M407.4 156.4h.1M381.0 155.1h.1M401.6 143.7h.1M403.3 162.2h.1M415.9 147.2h.1M416.0 144.9h.1M398.4 162.7h.1M395.2 148.5h.1M391.5 138.7h.1M407.5 146.9h.1M382.7 151.5h.1M402.3 148.6h.1M404.7 150.5h.1M403.1 163.1h.1M402.8 160.1h.1M385.6 145.1h.1M394.0 153.1h.1M391.3 148.5h.1M386.4 163.4h.1M398.2 138.9h.1M384.6 158.0h.1M393.1 159.5h.1M408.6 149.2h.1M393.7 148.2h.1M393.1 156.0h.1M402.3 138.3h.1M382.8 145.9h.1M397.8 139.1h.1M405.9 156.9h.1M400.4 143.0h.1M387.4 149.3h.1M402.8 132.8h.1M390.6 146.9h.1M402.3 162.2h.1M385.1 156.4h.1M384.0 165.2h.1M409.5 126.0h.1M392.7 126.4h.1M382.2 156.7h.1M389.7 139.6h.1M408.7 160.7h.1M399.4 157.3h.1M394.3 156.6h.1M402.4 161.1h.1M398.7 158.8h.1M405.7 155.5h.1M390.4 157.7h.1M399.7 155.5h.1M388.8 153.8h.1M380.5 153.3h.1M401.4 154.7h.1M391.0 159.6h.1M393.5 151.8h.1M381.4 146.1h.1M403.6 138.2h.1M399.0 165.1h.1M387.6 148.3h.1M402.3 151.6h.1M393.9 142.9h.1M404.3 154.6h.1M386.6 142.4h.1M388.1 139.5h.1M385.9 154.5h.1M388.1 146.8h.1M386.1 151.6h.1M399.1 149.9h.1M389.9 145.4h.1M389.8 143.8h.1M387.5 157.0h.1M395.7 164.0h.1M395.5 148.0h.1M393.9 158.9h.1M408.3 160.9h.1M400.3 140.6h.1M396.7 159.4h.1M384.7 140.2h.1M406.5 156.3h.1M382.8 138.1h.1M395.8 148.4h.1M399.8 151.1h.1M390.8 146.7h.1M387.6 154.4h.1M402.9 157.7h.1M405.3 153.6h.1M389.3 154.3h.1M406.7 165.2h.1M397.4 159.5h.1M383.0 156.0h.1M401.9 147.3h.1M393.3 141.6h.1M390.1 146.5h.1M398.1 161.0h.1M397.9 153.4h.1M387.0 159.1h.1M389.1 139.3h.1M400.6 134.6h.1M401.6 153.5h.1M411.3 128.2h.1M394.1 149.3h.1M396.1 136.7h.1M387.0 153.0h.1M413.6 156.3h.1M397.0 140.0h.1M399.1 162.6h.1M407.1 155.2h.1M401.7 150.5h.1M387.4 142.6h.1M391.7 143.3h.1M405.8 149.1h.1M397.9 160.5h.1M390.0 151.1h.1M392.6 136.1h.1M405.0 135.7h.1M383.3 154.4h.1M393.3 149.4h.1M405.5 160.2h.1M404.7 157.0h.1M384.8 160.4h.1M393.7 163.4h.1M398.2 160.6h.1M397.2 155.4h.1M392.5 133.6h.1M389.3 159.0h.1M392.2 160.7h.1M396.2 157.6h.1M395.0 141.0h.1M410.7 156.9h.1M398.3 162.5h.1M401.9 156.8h.1M400.7 149.2h.1M391.9 133.0h.1M403.0 144.5h.1M404.9 153.3h.1M401.1 162.1h.1M390.0 150.8h.1M402.8 141.7h.1M390.7 165.2h.1M402.6 157.5h.1M385.2 164.2h.1M396.9 153.6h.1M407.6 141.7h.1M387.3 156.0h.1M399.6 155.9h.1M393.9 161.1h.1M390.1 151.7h.1M393.1 150.3h.1M390.1 142.4h.1M390.0 151.8h.1M406.9 165.0h.1M381.0 155.8h.1M389.2 162.4h.1M405.3 152.9h.1M396.0 134.9h.1M381.3 144.4h.1M398.6 139.4h.1M389.7 150.1h.1M399.8 163.1h.1M381.7 158.2h.1M401.0 156.7h.1M395.1 157.4h.1M394.2 149.6h.1M402.0 160.3h.1M395.9 158.7h.1M379.7 162.4h.1M390.6 163.7h.1M395.0 152.1h.1M400.4 136.7h.1M385.3 161.6h.1M390.1 148.5h.1M399.3 149.9h.1M380.1 149.3h.1M393.6 150.3h.1M403.6 142.7h.1M390.9 156.1h.1M396.4 164.8h.1M395.6 152.2h.1M398.9 141.7h.1M398.7 149.1h.1M393.1 150.7h.1M390.8 150.3h.1M391.6 155.6h.1M400.1 151.5h.1M386.2 152.5h.1M407.3 152.9h.1M400.0 156.4h.1M410.8 161.7h.1M395.8 155.5h.1M400.8 154.0h.1M421.1 156.3h.1M409.2 145.4h.1M389.6 144.5h.1M395.7 138.6h.1M390.6 142.5h.1M391.6 143.6h.1M388.7 151.7h.1M396.1 154.6h.1M386.3 149.2h.1M402.7 152.7h.1M396.1 145.7h.1M401.3 143.6h.1M388.4 142.7h.1M399.0 148.5h.1M418.6 164.6h.1M403.9 129.5h.1M401.0 158.8h.1M403.5 159.1h.1M407.4 148.4h.1M408.3 157.9h.1M391.5 145.6h.1M398.1 155.1h.1M409.7 147.8h.1M404.0 149.9h.1M391.2 152.0h.1M401.0 152.0h.1M400.6 146.4h.1M391.6 147.7h.1M389.5 163.7h.1M381.4 156.0h.1M386.0 160.9h.1M411.3 149.5h.1M397.0 148.2h.1M405.2 154.7h.1M397.7 163.5h.1M393.6 154.9h.1M410.2 140.0h.1M394.1 161.7h.1M397.9 156.3h.1M389.0 136.9h.1M390.6 154.9h.1M391.6 150.3h.1M407.2 156.6h.1M391.9 150.1h.1M401.4 157.1h.1M395.8 132.5h.1M394.3 145.4h.1M399.7 149.1h.1M392.3 157.3h.1M389.0 153.8h.1M389.2 144.7h.1M397.2 149.6h.1M397.0 141.1h.1M406.4 144.1h.1M398.4 147.3h.1M403.1 155.5h.1M393.8 149.6h.1M405.5 147.5h.1M389.9 153.2h.1M393.3 161.8h.1M405.5 143.8h.1M390.9 147.3h.1M408.2 153.2h.1M407.9 148.0h.1M387.3 146.1h.1M408.1 151.6h.1M388.4 145.2h.1M388.4 156.2h.1M402.9 143.0h.1M394.5 135.4h.1M398.4 153.0h.1M399.3 163.7h.1M399.0 160.8h.1M386.4 140.7h.1M390.4 164.5h.1M387.5 147.1h.1M407.9 142.3h.1M388.1 160.2h.1M403.6 145.1h.1M387.4 142.9h.1M397.6 163.1h.1M397.9 159.2h.1M398.1 151.3h.1M393.2 163.0h.1M392.4 140.2h.1M394.3 162.5h.1M407.8 159.1h.1M387.7 150.2h.1M393.3 144.3h.1M383.6 153.9h.1M410.8 142.3h.1M402.7 154.6h.1M393.1 149.9h.1M384.2 151.0h.1M385.4 155.1h.1M391.0 143.6h.1M390.5 152.8h.1M391.6 153.7h.1M392.9 137.8h.1M396.8 150.4h.1M394.2 151.0h.1M400.9 161.9h.1M382.1 160.0h.1M402.0 134.1h.1M387.0 148.1h.1M386.9 158.0h.1M393.8 157.8h.1M397.8 143.3h.1M399.5 154.7h.1M395.4 155.7h.1M391.9 131.6h.1M394.4 149.4h.1M389.7 142.9h.1M405.2 143.3h.1M383.6 143.0h.1M399.5 144.5h.1M386.8 153.9h.1M385.9 155.3h.1M392.0 156.4h.1M412.5 149.1h.1M400.3 151.7h.1M392.7 144.8h.1M405.8 145.7h.1M395.6 146.3h.1M399.1 142.1h.1M385.1 152.6h.1M380.6 152.8h.1M403.3 149.1h.1M381.3 150.2h.1M394.4 148.3h.1M396.6 151.8h.1M389.4 153.4h.1M409.7 159.6h.1M408.1 146.8h.1M382.1 162.0h.1M394.9 139.1h.1M392.4 159.6h.1M398.1 141.8h.1M386.1 157.8h.1M402.2 148.6h.1M386.9 153.3h.1M406.1 151.9h.1M402.7 139.6h.1M406.6 152.5h.1M396.5 151.8h.1M388.3 165.5h.1M393.2 124.3h.1M392.8 151.2h.1M398.7 130.0h.1M385.2 141.6h.1M404.6 155.1h.1M398.7 148.5h.1M397.7 152.0h.1M402.0 150.4h.1M391.4 138.5h.1M403.2 141.0h.1M390.7 145.8h.1M398.6 151.5h.1M386.9 153.7h.1M388.4 157.3h.1M390.0 165.1h.1M406.9 139.2h.1M385.3 151.5h.1M400.5 160.6h.1M419.9 142.9h.1M398.9 157.4h.1M401.9 156.2h.1M395.2 155.4h.1M396.5 148.7h.1M401.3 157.2h.1M418.1 148.9h.1M388.3 147.6h.1M399.8 151.8h.1M396.7 165.4h.1M415.1 142.9h.1M409.7 160.3h.1M413.6 162.7h.1M400.5 151.3h.1M398.8 148.9h.1M395.5 158.0h.1M391.6 146.8h.1M387.6 136.9h.1M402.4 139.4h.1M398.1 146.9h.1M380.3 145.5h.1M400.1 151.1h.1M421.3 161.0h.1M394.4 148.1h.1M385.0 149.6h.1M407.5 155.5h.1M385.5 146.7h.1M396.3 157.4h.1M397.8 164.6h.1M390.0 157.3h.1M397.8 158.9h.1M384.1 158.7h.1M398.7 127.2h.1M399.7 147.4h.1M384.3 162.0h.1M401.9 140.9h.1M383.0 150.6h.1M397.3 160.6h.1M388.1 163.4h.1M383.5 154.4h.1M390.2 152.7h.1M396.5 156.5h.1M401.8 133.3h.1M400.8 154.7h.1M386.8 144.4h.1M394.0 149.8h.1M402.7 134.0h.1M394.9 150.3h.1M393.5 157.0h.1M392.3 156.2h.1M397.9 144.8h.1M396.3 142.5h.1M394.2 156.1h.1M404.7 161.3h.1M393.6 157.4h.1M389.9 157.5h.1M392.7 151.7h.1M386.8 151.4h.1M390.6 139.4h.1M390.9 141.0h.1M384.5 153.1h.1M393.9 153.4h.1M395.3 145.6h.1M404.4 159.3h.1M394.8 156.6h.1M392.2 153.5h.1M404.6 146.9h.1M408.1 149.1h.1M397.3 136.4h.1M386.7 142.2h.1M399.6 157.6h.1M384.0 127.5h.1M397.3 143.3h.1M386.3 156.9h.1M381.5 126.2h.1M404.8 138.4h.1M391.7 144.4h.1M390.1 152.6h.1M380.4 163.2h.1M397.1 148.6h.1M404.8 150.7h.1M394.5 149.4h.1M398.1 161.9h.1M413.0 144.3h.1M396.1 163.9h.1M390.8 155.5h.1M401.3 153.1h.1M393.3 155.1h.1M389.8 133.3h.1M387.2 158.4h.1M381.2 152.7h.1M400.9 158.6h.1M399.7 164.7h.1M399.6 159.0h.1M395.5 131.8h.1M391.7 160.7h.1M403.7 162.4h.1M402.0 134.1h.1M402.4 150.7h.1M390.9 161.6h.1M393.9 147.0h.1M405.0 157.9h.1M382.0 154.2h.1M392.3 157.8h.1M382.6 158.6h.1M406.6 143.8h.1M401.3 159.4h.1M397.6 158.0h.1M394.6 157.5h.1M401.6 151.5h.1M401.3 155.1h.1M398.6 151.1h.1M412.0 139.9h.1M385.9 141.2h.1M412.3 150.8h.1M395.6 149.5h.1M403.0 162.3h.1M416.7 153.9h.1M404.4 162.7h.1M412.5 150.6h.1M395.6 142.8h.1M401.7 136.7h.1M403.4 153.9h.1M382.3 158.0h.1M397.2 162.9h.1M397.0 128.4h.1M400.5 144.5h.1M410.4 153.1h.1M401.5 150.9h.1M397.8 132.9h.1M396.1 152.3h.1M395.7 149.1h.1M382.1 161.9h.1M393.0 142.1h.1M382.1 142.6h.1M386.1 152.7h.1M385.2 161.8h.1M405.9 141.6h.1M408.4 165.3h.1M398.7 149.3h.1M391.9 163.2h.1M399.9 144.5h.1M399.9 144.3h.1M395.8 151.8h.1M397.5 165.6h.1M390.9 153.7h.1M393.9 139.5h.1M381.8 150.2h.1M397.3 162.2h.1M400.9 165.3h.1M408.6 144.0h.1M380.7 156.3h.1M403.2 162.8h.1M412.5 156.9h.1M392.0 164.4h.1M387.7 147.3h.1M388.1 162.4h.1M387.8 140.3h.1M384.2 163.7h.1M389.7 162.3h.1M390.4 151.7h.1M401.8 143.5h.1M401.7 151.6h.1M395.2 147.5h.1M392.0 145.4h.1M389.6 157.7h.1M387.2 159.2h.1M394.6 157.2h.1M397.9 162.1h.1M410.0 132.5h.1M388.2 148.7h.1M396.0 147.5h.1M384.6 149.9h.1M389.2 141.3h.1M382.0 148.3h.1M393.9 149.3h.1M399.7 158.1h.1M391.5 156.6h.1M407.8 143.0h.1M394.0 141.7h.1M402.8 137.8h.1M391.8 147.8h.1M394.3 147.5h.1M410.8 147.9h.1M385.8 160.3h.1M401.1 154.8h.1M392.4 156.1h.1M403.2 157.3h.1M415.4 162.7h.1M402.7 163.0h.1M392.2 153.1h.1M391.5 148.5h.1M395.4 136.5h.1M395.6 163.1h.1M386.7 153.9h.1M386.3 150.3h.1M405.0 144.6h.1M400.9 153.4h.1M390.8 129.5h.1M392.9 160.6h.1M400.0 145.7h.1M392.3 158.1h.1M396.1 136.8h.1M401.6 149.7h.1M386.0 144.1h.1M390.7 143.6h.1M400.2 162.2h.1M392.2 158.8h.1M403.3 158.0h.1M386.5 149.5h.1M400.7 155.4h.1M417.2 161.2h.1M401.2 161.5h.1M385.8 149.8h.1M416.4 157.7h.1M402.3 147.2h.1M404.8 139.5h.1M387.6 153.8h.1M393.8 153.2h.1M392.9 146.4h.1M411.9 154.4h.1M406.6 148.5h.1M392.1 160.3h.1M400.4 148.4h.1M407.1 145.5h.1M403.5 152.8h.1M384.2 154.7h.1M406.2 149.4h.1M383.8 139.8h.1M390.5 156.4h.1M380.6 154.3h.1M391.4 152.7h.1M401.9 147.5h.1M395.4 153.5h.1M405.0 151.3h.1M404.4 145.1h.1M392.9 154.2h.1M389.8 151.3h.1M407.3 156.7h.1M401.6 151.2h.1M404.6 157.6h.1M406.7 138.5h.1M392.2 153.0h.1M388.5 137.9h.1M390.2 152.6h.1M388.7 157.9h.1M386.5 150.5h.1M393.8 155.6h.1M391.9 155.3h.1M399.0 150.2h.1M400.5 138.6h.1M406.7 145.1h.1M397.9 155.8h.1M397.1 159.2h.1M399.5 149.3h.1M396.5 146.1h.1M398.5 152.3h.1M389.6 147.2h.1M396.2 157.5h.1M382.7 133.7h.1M405.1 141.4h.1M396.8 161.5h.1M399.5 154.6h.1M385.8 143.2h.1M389.1 165.1h.1M395.1 144.1h.1M404.9 146.5h.1M404.9 159.4h.1M401.7 142.2h.1M393.7 136.7h.1M398.9 157.8h.1M395.9 156.1h.1M390.5 149.0h.1M389.8 155.9h.1M385.6 137.2h.1M394.4 154.7h.1M392.8 156.9h.1M403.0 157.1h.1M394.3 155.2h.1M390.5 149.3h.1M387.8 131.2h.1M391.6 130.6h.1M408.9 161.2h.1M411.4 143.1h.1M404.0 145.0h.1M382.0 151.0h.1M409.8 157.5h.1M400.3 129.7h.1M398.4 158.8h.1M390.1 165.3h.1M390.7 150.8h.1M392.3 152.6h.1M391.2 146.4h.1M385.3 145.8h.1M392.7 164.4h.1M395.6 151.2h.1M395.7 147.3h.1M383.9 158.7h.1M401.1 147.1h.1M381.6 156.1h.1M387.9 149.0h.1M383.1 156.6h.1M395.6 136.6h.1M386.6 162.7h.1M406.2 161.0h.1M391.6 153.8h.1M402.5 148.4h.1M386.0 165.2h.1M388.4 144.4h.1M398.9 156.7h.1M389.7 158.3h.1M385.6 159.2h.1M394.6 151.3h.1M405.2 149.5h.1M399.2 145.2h.1M417.1 135.9h.1M401.6 138.6h.1M389.8 153.3h.1M396.1 145.2h.1M383.2 160.4h.1M391.4 163.5h.1M408.4 135.5h.1M399.2 135.8h.1M383.6 150.0h.1M387.8 154.6h.1M380.5 140.7h.1M415.9 147.9h.1M390.2 134.9h.1M383.0 158.9h.1M395.3 154.8h.1M385.0 156.7h.1M385.9 158.7h.1M383.7 164.8h.1M392.6 163.2h.1M392.7 159.8h.1M398.4 161.8h.1M386.0 140.7h.1M389.1 158.4h.1M398.2 146.6h.1M406.4 158.2h.1M413.4 154.2h.1M405.6 154.4h.1M382.9 159.3h.1M391.3 155.9h.1M400.8 150.9h.1M382.2 155.0h.1M393.9 151.4h.1M387.7 148.4h.1M390.6 146.6h.1M382.6 154.6h.1M397.8 153.9h.1M386.8 159.9h.1M382.7 149.7h.1M383.7 165.6h.1M382.0 162.8h.1M399.3 131.0h.1M401.3 139.6h.1M387.6 149.1h.1M386.9 154.4h.1M413.9 158.2h.1M402.1 156.9h.1M408.1 150.4h.1M395.6 141.0h.1M396.7 148.9h.1M409.3 146.6h.1M415.3 154.4h.1M398.4 156.5h.1M396.0 153.3h.1M404.1 157.5h.1M402.1 153.0h.1M393.8 165.0h.1M389.0 147.8h.1M388.4 148.2h.1M409.8 158.2h.1M391.3 156.4h.1M392.0 157.1h.1M391.6 153.2h.1M383.4 140.4h.1M399.8 156.0h.1M394.5 146.1h.1M399.1 159.9h.1M408.4 156.4h.1M393.1 153.8h.1M395.9 148.9h.1M388.4 162.1h.1M403.5 152.7h.1M399.2 139.6h.1M405.2 162.4h.1M382.6 162.0h.1M410.0 156.4h.1M383.1 145.7h.1M385.1 150.3h.1M409.7 161.3h.1M390.1 154.4h.1M400.6 162.9h.1M410.9 154.1h.1M383.1 159.7h.1M394.6 158.6h.1M384.2 159.6h.1M408.1 147.9h.1M397.6 143.5h.1M397.9 149.2h.1M402.3 147.9h.1M390.1 147.0h.1M383.1 160.3h.1M384.3 161.7h.1M390.2 144.9h.1M406.2 132.3h.1M394.9 134.7h.1M390.3 152.2h.1M395.6 151.9h.1M388.0 142.3h.1M403.1 153.5h.1M402.3 161.7h.1M387.4 153.1h.1M411.0 158.2h.1M383.2 134.1h.1M399.1 157.7h.1M391.9 147.5h.1M402.8 153.9h.1M403.1 138.3h.1M395.6 145.8h.1M397.6 144.6h.1M381.5 143.2h.1M380.7 154.1h.1M394.9 150.7h.1M397.7 151.8h.1M389.8 163.6h.1M400.8 157.4h.1M405.2 156.5h.1M398.4 154.8h.1M413.0 163.3h.1M394.1 157.9h.1M394.6 149.6h.1M395.1 150.7h.1M399.6 159.1h.1M399.2 153.2h.1M391.3 152.9h.1M400.9 150.9h.1M389.2 151.9h.1M394.1 157.3h.1M398.1 162.8h.1M393.5 157.4h.1M398.5 159.7h.1M385.3 161.9h.1M394.3 138.4h.1M398.5 141.5h.1M413.1 160.3h.1M386.9 156.9h.1M396.2 148.5h.1M390.0 160.0h.1M400.5 146.7h.1M387.3 142.3h.1M402.8 156.4h.1M384.9 156.7h.1M410.9 159.6h.1M392.7 149.0h.1M395.9 161.0h.1M397.5 147.9h.1M398.5 152.1h.1M405.0 153.1h.1M389.1 151.0h.1M381.9 137.5h.1M390.2 126.7h.1M385.7 165.2h.1M403.9 154.3h.1M384.3 163.6h.1M390.4 150.2h.1M397.4 142.2h.1M409.0 145.5h.1M380.3 163.7h.1M393.8 145.3h.1M404.0 158.2h.1M379.8 163.6h.1M401.8 136.9h.1M394.1 155.9h.1M385.9 155.6h.1M390.8 153.6h.1M398.3 162.2h.1M409.4 149.3h.1M387.2 161.7h.1M410.3 155.1h.1M410.9 158.0h.1M381.2 148.6h.1M395.6 165.1h.1M400.6 159.7h.1M409.3 147.3h.1M401.9 153.9h.1M391.3 150.8h.1M390.6 157.3h.1M402.0 160.9h.1M387.8 136.6h.1M397.6 157.8h.1M395.5 163.1h.1M387.3 157.7h.1M416.9 152.5h.1M396.6 160.5h.1M415.4 144.7h.1M405.4 148.2h.1M405.1 147.0h.1M389.1 143.0h.1M389.9 156.2h.1M395.8 155.8h.1M393.9 156.9h.1M383.6 161.3h.1M416.3 149.4h.1M417.5 153.5h.1M400.8 142.1h.1M396.8 143.9h.1M392.6 139.9h.1M385.3 162.0h.1M399.0 156.2h.1M394.8 143.5h.1M400.6 149.1h.1M404.2 142.7h.1M415.5 134.3h.1M394.8 162.1h.1M397.3 156.3h.1M398.3 152.2h.1M385.5 152.1h.1M410.4 147.4h.1M400.1 146.3h.1M382.8 148.4h.1M395.2 145.5h.1M406.4 149.7h.1M401.3 155.3h.1M389.3 147.9h.1M398.2 149.9h.1M389.3 163.6h.1M384.1 148.9h.1M391.4 165.0h.1M383.2 158.3h.1M404.0 143.6h.1M404.8 149.7h.1M390.8 126.3h.1M396.7 146.5h.1M408.9 156.2h.1M380.2 146.8h.1M394.5 152.5h.1M400.2 150.1h.1M400.5 149.2h.1M390.6 151.7h.1M388.3 149.8h.1M404.7 158.9h.1M396.8 147.2h.1M393.2 153.1h.1M403.5 149.9h.1M388.6 147.9h.1M398.1 156.5h.1M397.1 154.3h.1M398.0 163.6h.1M404.2 148.0h.1M398.5 139.3h.1M388.4 155.9h.1M389.0 161.2h.1M382.3 159.1h.1M384.1 154.2h.1M398.1 152.7h.1M395.0 150.9h.1M394.5 154.7h.1M418.5 157.8h.1M395.3 149.9h.1M402.0 141.1h.1M382.5 156.4h.1M391.4 146.8h.1M388.7 155.1h.1M396.3 149.2h.1M384.5 137.2h.1M388.2 151.0h.1M388.2 152.6h.1M397.1 160.2h.1M382.7 158.3h.1M396.3 156.0h.1M399.4 155.9h.1M395.8 164.2h.1M405.9 144.1h.1M397.0 155.4h.1M403.3 146.4h.1M395.2 150.6h.1M401.4 155.3h.1M387.4 153.4h.1M402.6 155.9h.1M383.6 149.8h.1M407.4 158.1h.1M389.1 155.5h.1M392.6 150.6h.1M392.5 160.2h.1M399.7 158.0h.1M390.5 150.6h.1M400.9 159.5h.1M398.2 140.2h.1M383.8 155.8h.1M406.6 155.0h.1M412.6 141.3h.1M386.6 149.3h.1M383.3 160.0h.1M388.8 144.9h.1M392.8 151.3h.1M414.8 150.1h.1M382.3 147.4h.1M412.4 146.7h.1M394.5 152.5h.1M391.3 149.9h.1M391.2 155.5h.1M392.8 151.7h.1M393.1 140.4h.1M395.2 147.4h.1M397.3 147.5h.1M392.0 155.4h.1M400.8 149.7h.1M395.1 155.6h.1M394.0 153.2h.1M387.5 130.2h.1M384.8 146.3h.1M390.2 151.1h.1M385.8 158.3h.1M383.1 150.0h.1M403.1 142.9h.1M392.7 150.9h.1M386.5 146.4h.1M394.2 160.6h.1M408.2 144.3h.1M404.9 152.3h.1M393.3 163.9h.1M397.8 153.4h.1M388.3 152.6h.1M390.0 159.1h.1M392.0 153.7h.1M389.5 160.5h.1M399.5 160.5h.1M383.6 153.7h.1M399.6 138.0h.1M385.4 156.2h.1M395.8 159.3h.1M406.4 163.8h.1M411.1 146.7h.1M380.8 145.4h.1M400.6 155.6h.1M408.3 153.1h.1M394.8 154.5h.1M407.6 148.2h.1M387.0 152.8h.1M394.8 152.7h.1M416.0 131.5h.1M401.8 163.0h.1M403.6 148.8h.1M393.2 136.7h.1M392.8 137.8h.1M403.3 152.4h.1M395.5 137.6h.1M410.5 149.2h.1M387.6 142.6h.1M386.4 149.0h.1M399.0 148.1h.1M400.6 156.2h.1M408.2 165.1h.1M412.0 140.7h.1M383.4 150.4h.1M391.2 142.8h.1M402.6 157.9h.1M399.1 153.6h.1M393.9 151.1h.1M400.6 162.3h.1M399.3 149.2h.1M395.7 152.2h.1M392.0 142.7h.1M385.8 136.9h.1M393.0 148.6h.1M398.0 164.5h.1M392.6 145.6h.1M401.1 157.2h.1M399.4 154.9h.1M384.1 148.3h.1M395.3 146.1h.1M404.8 137.3h.1M400.6 149.6h.1M392.1 157.2h.1M382.3 159.4h.1M396.1 154.0h.1M396.9 153.6h.1M405.7 138.1h.1M394.2 140.7h.1M395.1 146.4h.1M398.2 148.5h.1M407.8 139.3h.1M404.0 146.4h.1M413.1 149.8h.1M390.3 153.7h.1M404.7 152.6h.1M397.2 140.1h.1M409.2 144.1h.1M390.6 161.3h.1M402.0 143.5h.1M401.4 154.9h.1M393.1 139.6h.1M390.6 152.0h.1M388.5 148.3h.1M381.9 145.3h.1M398.7 160.5h.1M395.7 154.0h.1M396.3 164.5h.1M393.9 140.7h.1M398.0 130.3h.1M388.8 150.7h.1M386.2 152.2h.1M398.6 164.5h.1M398.2 149.0h.1M399.9 157.1h.1M398.8 163.9h.1M383.6 128.4h.1M384.1 151.1h.1M388.3 147.3h.1M412.1 142.0h.1M400.5 147.1h.1M384.6 150.3h.1M402.0 143.2h.1M390.7 148.6h.1M401.4 162.1h.1M395.1 139.9h.1M397.7 158.0h.1M406.0 145.9h.1M389.4 155.9h.1M407.8 163.2h.1M415.5 154.4h.1M384.8 152.1h.1M405.8 156.9h.1M381.3 137.8h.1M406.7 152.3h.1M392.8 162.6h.1M405.8 127.2h.1M400.7 136.0h.1M387.7 158.6h.1M386.0 158.3h.1M383.5 153.0h.1M385.1 165.2h.1M395.8 142.3h.1M399.8 151.5h.1M390.7 145.3h.1M401.0 159.3h.1M399.1 148.8h.1M383.7 148.6h.1M401.2 133.5h.1M394.6 154.6h.1M387.5 160.0h.1M391.5 152.4h.1M409.7 130.3h.1M404.8 139.7h.1M393.1 156.9h.1M401.4 147.6h.1M380.9 152.4h.1M390.7 152.5h.1M391.1 158.3h.1M382.2 146.8h.1M406.5 158.7h.1M391.4 163.3h.1M407.2 151.4h.1M379.9 158.2h.1M403.8 151.0h.1M402.6 147.5h.1M385.1 154.7h.1M397.9 149.9h.1M397.5 145.4h.1M401.3 150.9h.1M391.1 150.1h.1M386.5 161.3h.1M385.4 164.4h.1M396.6 136.6h.1M389.3 134.9h.1M394.8 145.3h.1M392.4 140.9h.1M396.4 134.0h.1M407.5 144.6h.1M398.1 149.7h.1M392.3 161.9h.1M390.0 156.7h.1M404.9 158.0h.1M390.2 154.0h.1M385.4 136.7h.1M399.7 158.2h.1M400.1 160.3h.1M396.6 137.8h.1M403.9 143.3h.1M396.2 155.0h.1M397.4 156.6h.1M404.7 158.3h.1M421.1 159.6h.1M416.5 149.3h.1M397.0 143.9h.1M407.6 139.5h.1M400.5 160.1h.1M399.5 165.6h.1M396.4 145.4h.1" stroke="#000" stroke-width="1.3" stroke-linecap="round" fill="none"/>
<rect x="379" y="29.3" width="137" height="137" fill="none" stroke="#555" stroke-width="1.2"/>
<path d="M375.8 166.3h3.2M379 166.3v3.2M377.4 155.99h1.6M389.31 166.3v1.6M377.4 149.96h1.6M395.34 166.3v1.6M377.4 145.68h1.6M399.62 166.3v1.6M377.4 142.36h1.6M402.94 166.3v1.6M377.4 139.65h1.6M405.65 166.3v1.6M377.4 137.36h1.6M407.94 166.3v1.6M377.4 135.37h1.6M409.93 166.3v1.6M377.4 133.62h1.6M411.68 166.3v1.6M375.8 132.05h3.2M413.25 166.3v3.2M377.4 121.74h1.6M423.56 166.3v1.6M377.4 115.71h1.6M429.59 166.3v1.6M377.4 111.43h1.6M433.87 166.3v1.6M377.4 108.11h1.6M437.19 166.3v1.6M377.4 105.4h1.6M439.9 166.3v1.6M377.4 103.11h1.6M442.19 166.3v1.6M377.4 101.12h1.6M444.18 166.3v1.6M377.4 99.37h1.6M445.93 166.3v1.6M375.8 97.8h3.2M447.5 166.3v3.2M377.4 87.49h1.6M457.81 166.3v1.6M377.4 81.46h1.6M463.84 166.3v1.6M377.4 77.18h1.6M468.12 166.3v1.6M377.4 73.86h1.6M471.44 166.3v1.6M377.4 71.15h1.6M474.15 166.3v1.6M377.4 68.86h1.6M476.44 166.3v1.6M377.4 66.87h1.6M478.43 166.3v1.6M377.4 65.12h1.6M480.18 166.3v1.6M375.8 63.55h3.2M481.75 166.3v3.2M377.4 53.24h1.6M492.06 166.3v1.6M377.4 47.21h1.6M498.09 166.3v1.6M377.4 42.93h1.6M502.37 166.3v1.6M377.4 39.61h1.6M505.69 166.3v1.6M377.4 36.9h1.6M508.4 166.3v1.6M377.4 34.61h1.6M510.69 166.3v1.6M377.4 32.62h1.6M512.68 166.3v1.6M377.4 30.87h1.6M514.43 166.3v1.6M375.8 29.3h3.2M516 166.3v3.2" stroke="#333" stroke-width="0.9" fill="none"/>
<text x="363.3" y="169.9" class="t" font-size="6" fill="#333">10<tspan dy="-2.6" font-size="5">0</tspan></text>
<text x="377.3" y="177.8" class="t" font-size="6" fill="#333">10<tspan dy="-2.6" font-size="5">0</tspan></text>
<text x="363.3" y="135.65" class="t" font-size="6" fill="#333">10<tspan dy="-2.6" font-size="5">1</tspan></text>
<text x="411.55" y="177.8" class="t" font-size="6" fill="#333">10<tspan dy="-2.6" font-size="5">1</tspan></text>
<text x="363.3" y="101.4" class="t" font-size="6" fill="#333">10<tspan dy="-2.6" font-size="5">2</tspan></text>
<text x="445.8" y="177.8" class="t" font-size="6" fill="#333">10<tspan dy="-2.6" font-size="5">2</tspan></text>
<text x="363.3" y="67.15" class="t" font-size="6" fill="#333">10<tspan dy="-2.6" font-size="5">3</tspan></text>
<text x="480.05" y="177.8" class="t" font-size="6" fill="#333">10<tspan dy="-2.6" font-size="5">3</tspan></text>
<text x="363.3" y="32.9" class="t" font-size="6" fill="#333">10<tspan dy="-2.6" font-size="5">4</tspan></text>
<text x="514.3" y="177.8" class="t" font-size="6" fill="#333">10<tspan dy="-2.6" font-size="5">4</tspan></text>
<text x="43" y="47.3" font-size="17.6" text-anchor="start">1%</text>
<text x="165.5" y="47.3" font-size="17.6" text-anchor="end">51%</text>
<text x="165.5" y="160.3" font-size="17.6" text-anchor="end">42%</text>
<text x="214.3" y="47.3" font-size="17.6" text-anchor="start">1.4%</text>
<text x="344.3" y="47.3" font-size="17.6" text-anchor="end">3.2%</text>
<text x="340.8" y="160.4" font-size="17.6" text-anchor="end">34%</text>
<text x="383.8" y="47.3" font-size="17.6" text-anchor="start">2.2%</text>
<text x="505" y="47.3" font-size="17.6" text-anchor="end">0.5%</text>
<text x="505.5" y="160" font-size="17.6" text-anchor="end">6%</text>
<text x="63" y="19.3" font-size="17.5">Lymphoma</text>
<text x="226" y="19.3" font-size="17.5">Hyperplasia</text>
<text x="384.2" y="19.8" font-size="17.5">Normal PBMCs</text>
<text x="-0.5" y="17.3" class="b" font-size="23.5" font-weight="bold">A</text>
<path d="M8 121V190H75" stroke="#000" stroke-width="2.2" fill="none"/>
<path d="M8 107L13.5 127.5L8 123L2.5 127.5Z" fill="#000"/>
<path d="M89.5 190.2L69.5 195.2L73.5 190.2L69.5 185.2Z" fill="#000"/>
<text transform="translate(14.1 105.3) rotate(-90)" font-size="17.8">CD70</text>
<text x="94.3" y="196.8" font-size="17.6">CD19</text>
<text x="-0.5" y="239.8" class="b" font-size="23.5" font-weight="bold">B</text>
<path d="M68 247.2V360.6" stroke="#000" stroke-width="1.3" fill="none"/>
<path d="M67.3 360.6H144.5" stroke="#000" stroke-width="1.8" fill="none"/>
<text transform="translate(64 365.5) scale(0.9 1)" font-size="14.6" text-anchor="end">0</text>
<text transform="translate(64 327.7) scale(0.9 1)" font-size="14.6" text-anchor="end">25</text>
<text transform="translate(64 289.9) scale(0.9 1)" font-size="14.6" text-anchor="end">50</text>
<text transform="translate(64 252.1) scale(0.9 1)" font-size="14.6" text-anchor="end">75</text>
<path d="M65.3 360.6H68M65.3 322.8H68M65.3 285H68M65.3 247.2H68" stroke="#000" stroke-width="1.3" fill="none"/>
<path d="M86.7 299.1H126.2" stroke="#000" stroke-width="2.2"/>
<circle cx="106.3" cy="260.7" r="2.2" fill="#fff" stroke="#000" stroke-width="1.4"/>
<circle cx="114.1" cy="257.9" r="2.2" fill="#fff" stroke="#000" stroke-width="1.4"/>
<circle cx="98.6" cy="272.6" r="2.2" fill="#fff" stroke="#000" stroke-width="1.4"/>
<circle cx="106.3" cy="277.8" r="2.2" fill="#fff" stroke="#000" stroke-width="1.4"/>
<circle cx="98.7" cy="300.5" r="2.2" fill="#fff" stroke="#000" stroke-width="1.4"/>
<circle cx="106.3" cy="308.2" r="2.2" fill="#fff" stroke="#000" stroke-width="1.4"/>
<circle cx="114.1" cy="306.7" r="2.2" fill="#fff" stroke="#000" stroke-width="1.4"/>
<circle cx="106.3" cy="317.2" r="2.2" fill="#fff" stroke="#000" stroke-width="1.4"/>
<circle cx="98.6" cy="327.9" r="2.2" fill="#fff" stroke="#000" stroke-width="1.4"/>
<circle cx="114.1" cy="329.2" r="2.2" fill="#fff" stroke="#000" stroke-width="1.4"/>
<circle cx="106.3" cy="333.7" r="2.2" fill="#fff" stroke="#000" stroke-width="1.4"/>
<text x="69" y="384.3" font-size="13.9">NHL B cells</text>
<text transform="translate(14.2 305.8) rotate(-90)" font-size="14" text-anchor="middle">CD70 expression</text>
<text transform="translate(33.4 305.3) rotate(-90)" font-size="14" text-anchor="middle">(% of CD19+ cells)</text>
<text x="148.6" y="239.6" class="b" font-size="24" font-weight="bold">C</text>
<path d="M171 305L166.1 420.3" stroke="#000" stroke-width="1.6" fill="none"/>
<path d="M171 307.3H401.4" stroke="#000" stroke-width="1.7" fill="none"/>
<path d="M165 242L171 307.3" stroke="#000" stroke-width="1.6" fill="none"/>
<path d="M228.2 307.3V329.6 M285.7 307.3V329.6 M343 307.3V329.6 M400.7 307.3V329.6" stroke="#000" stroke-width="1.6" fill="none"/>
<path d="M216 307.3L216 307.3L225 305L232 302.5L239 300.4L245 300.2L252 300.6L260 301.2L270 300.8L284 302.7L295 304.3L303 305.6L318 307.3L318 307.3Z" fill="#fff" stroke="none"/>
<path d="M216 307.3L225 305L232 302.5L239 300.4L245 300.2L252 300.6L260 301.2L270 300.8L284 302.7L295 304.3L303 305.6L318 307.3" fill="none" stroke="#333" stroke-width="1.1" stroke-linejoin="round"/>
<path d="M170.1 329.6H401.4" stroke="#000" stroke-width="1.7" fill="none"/>
<path d="M164 265.2L170.1 329.6" stroke="#000" stroke-width="1.6" fill="none"/>
<path d="M228.2 329.6V352 M285.7 329.6V352 M343 329.6V352 M400.7 329.6V352" stroke="#000" stroke-width="1.6" fill="none"/>
<path d="M184 329.6L184 329.2L199 327.7L206 326L211.5 324.2L216 321.5L220.2 318.2L227.1 313L235.8 309L240 307.8L244.4 307.3L253 307.8L256.9 310L262.1 312.5L272.5 315.6L284.6 319L295 322.5L307.1 325.6L319.2 327.7L327 329.2L332 329.6L332 329.6Z" fill="#fff" stroke="none"/>
<path d="M184 329.2L199 327.7L206 326L211.5 324.2L216 321.5L220.2 318.2L227.1 313L235.8 309L240 307.8L244.4 307.3L253 307.8L256.9 310L262.1 312.5L272.5 315.6L284.6 319L295 322.5L307.1 325.6L319.2 327.7L327 329.2L332 329.6" fill="none" stroke="#000" stroke-width="1.3" stroke-linejoin="round"/>
<path d="M169.3 352H401.4" stroke="#000" stroke-width="1.7" fill="none"/>
<path d="M163.1 288.4L169.3 352" stroke="#000" stroke-width="1.6" fill="none"/>
<path d="M228.2 352V374.4 M285.7 352V374.4 M343 352V374.4 M400.7 352V374.4" stroke="#000" stroke-width="1.6" fill="none"/>
<path d="M184 352L184 351.5L200 348.8L208 346.5L215.4 344.2L220 342.6L224 339L228 336L231.4 334.7L236 333L242.7 332.1L248 331.5L254 331.2L258 332L262 331.3L266 332.2L270 331.8L274 331L279 332.5L283 331.5L288 333L292.3 335L300 337.5L310.8 341L320 344.5L329.2 347.2L337 349.3L344.6 350.8L350 351.8L350 352Z" fill="#fff" stroke="none"/>
<path d="M184 351.5L200 348.8L208 346.5L215.4 344.2L220 342.6L224 339L228 336L231.4 334.7L236 333L242.7 332.1L248 331.5L254 331.2L258 332L262 331.3L266 332.2L270 331.8L274 331L279 332.5L283 331.5L288 333L292.3 335L300 337.5L310.8 341L320 344.5L329.2 347.2L337 349.3L344.6 350.8L350 351.8" fill="none" stroke="#000" stroke-width="1.3" stroke-linejoin="round"/>
<path d="M168.4 374.4H401.4" stroke="#000" stroke-width="1.7" fill="none"/>
<path d="M162 311L168.4 374.4" stroke="#000" stroke-width="1.6" fill="none"/>
<path d="M228.2 374.4V396.9 M285.7 374.4V396.9 M343 374.4V396.9 M400.7 374.4V396.9" stroke="#000" stroke-width="1.6" fill="none"/>
<path d="M171.2 374.4L171.2 373.5L180 372L189.6 369.2L196 367L201.9 364.6L207 361L211.2 356.9L214 353L217.3 349.2L219.5 345.5L221.9 341.5L225 338L228 336L230.8 335L233 335.5L236 337.5L238.8 340L243 344.2L249 349.5L255.4 355L261 359.6L267.7 364.2L274 366.5L280 368.8L286 370.6L292.3 372.5L300.4 373.2L310.8 374.1L322 374.4L322 374.4Z" fill="#fff" stroke="none"/>
<path d="M171.2 373.5L180 372L189.6 369.2L196 367L201.9 364.6L207 361L211.2 356.9L214 353L217.3 349.2L219.5 345.5L221.9 341.5L225 338L228 336L230.8 335L233 335.5L236 337.5L238.8 340L243 344.2L249 349.5L255.4 355L261 359.6L267.7 364.2L274 366.5L280 368.8L286 370.6L292.3 372.5L300.4 373.2L310.8 374.1L322 374.4" fill="none" stroke="#000" stroke-width="1.3" stroke-linejoin="round"/>
<path d="M167.4 396.9H401.4" stroke="#000" stroke-width="1.7" fill="none"/>
<path d="M160.6 334.5L167.4 396.9" stroke="#000" stroke-width="1.6" fill="none"/>
<path d="M228.2 396.9V419.5 M285.7 396.9V419.5 M343 396.9V419.5 M400.7 396.9V419.5" stroke="#000" stroke-width="1.6" fill="none"/>
<path d="M171.2 396.9L171.2 396.3L183 394.5L195.8 392.3L202 390.3L208.1 387.7L213 384.5L218.8 380L223 376L226.5 373.2L229.6 371.7L233 372L237.3 373.2L242 376L246.5 378.5L250 380.5L254.2 383.1L260 385.3L266.5 387.7L274 390.3L281.9 392.9L288 394.4L294.2 395.6L303.5 396.6L310 396.9L310 396.9Z" fill="#fff" stroke="none"/>
<path d="M171.2 396.3L183 394.5L195.8 392.3L202 390.3L208.1 387.7L213 384.5L218.8 380L223 376L226.5 373.2L229.6 371.7L233 372L237.3 373.2L242 376L246.5 378.5L250 380.5L254.2 383.1L260 385.3L266.5 387.7L274 390.3L281.9 392.9L288 394.4L294.2 395.6L303.5 396.6L310 396.9" fill="none" stroke="#000" stroke-width="1.3" stroke-linejoin="round"/>
<path d="M166.3 419.5H401.4" stroke="#000" stroke-width="1.7" fill="none"/>
<path d="M159.5 358.6L166.3 419.5" stroke="#000" stroke-width="1.6" fill="none"/>
<path d="M171 419.5L171 418.8L183 418L195.8 416.9L204 414.6L211.2 411.4L216 407.5L221.9 401.5L226 398L230.2 396.3L234 397.5L238.8 400L243 403.5L248.1 407.7L252 409.2L257.3 410.2L262 411L266.5 412.3L271 414.5L275.8 416.9L280 418.3L285 419.2L290 419.5L290 419.5Z" fill="#fff" stroke="none"/>
<path d="M171 418.8L183 418L195.8 416.9L204 414.6L211.2 411.4L216 407.5L221.9 401.5L226 398L230.2 396.3L234 397.5L238.8 400L243 403.5L248.1 407.7L252 409.2L257.3 410.2L262 411L266.5 412.3L271 414.5L275.8 416.9L280 418.3L285 419.2L290 419.5" fill="none" stroke="#000" stroke-width="1.3" stroke-linejoin="round"/>
<text x="392.5" y="304.9" font-size="14.3" text-anchor="end">20.8%</text>
<text x="392.5" y="327.3" font-size="14.3" text-anchor="end">24.6%</text>
<text x="392.5" y="349.7" font-size="14.3" text-anchor="end">39.6%</text>
<text x="392.5" y="372" font-size="14.3" text-anchor="end">3.1%</text>
<text x="392.5" y="394.5" font-size="14.3" text-anchor="end">2.9%</text>
<text x="392.5" y="416.9" font-size="14.3" text-anchor="end">2.7%</text>
<text x="464.5" y="307.8" font-size="14.1" text-anchor="middle">OKT3</text>
<text x="464.5" y="329.6" font-size="14.1" text-anchor="middle">OKT3 + CD70<tspan dy="-5" font-size="8">-</tspan><tspan dy="5">LB</tspan></text>
<text x="464.5" y="351" font-size="14.1" text-anchor="middle">OKT3 + CD70<tspan dy="-5" font-size="8">+</tspan><tspan dy="5">LB</tspan></text>
<text x="464.5" y="372.1" font-size="14.1" text-anchor="middle">R + CD70<tspan dy="-5" font-size="8">-</tspan><tspan dy="5">LB</tspan></text>
<text x="464.5" y="393.8" font-size="14.1" text-anchor="middle">R + CD70<tspan dy="-5" font-size="8">+</tspan><tspan dy="5">LB</tspan></text>
<text x="464.5" y="415" font-size="14.1" text-anchor="middle">Resting</text>
<path d="M280.8 430V438.5H352.8V430" stroke="#000" stroke-width="1.5" fill="none"/>
<text x="300.3" y="453.2" font-size="14.5">Foxp3</text>
<text x="-0.5" y="441.5" class="b" font-size="23.5" font-weight="bold">D</text>
<path d="M86.7 445.2V641.5" stroke="#000" stroke-width="2.3" fill="none"/>
<path d="M85.7 636.3H459" stroke="#000" stroke-width="2.6" fill="none"/>
<text x="75.4" y="639.6" font-size="14.6" text-anchor="end">0.00</text>
<text x="75.4" y="612.3" font-size="14.6" text-anchor="end">1.00</text>
<text x="75.4" y="585" font-size="14.6" text-anchor="end">2.00</text>
<text x="75.4" y="557.7" font-size="14.6" text-anchor="end">3.00</text>
<text x="75.4" y="530.4" font-size="14.6" text-anchor="end">4.00</text>
<text x="75.4" y="503.1" font-size="14.6" text-anchor="end">5.00</text>
<text x="75.4" y="475.8" font-size="14.6" text-anchor="end">6.00</text>
<text x="75.4" y="448.5" font-size="14.6" text-anchor="end">7.00</text>
<path d="M82 636.3H86.7M82 609H86.7M82 581.7H86.7M82 554.4H86.7M82 527.1H86.7M82 499.8H86.7M82 472.5H86.7M82 445.2H86.7M133.1 636.3V641.5M179.5 636.3V641.5M225.9 636.3V641.5M272.3 636.3V641.5M318.7 636.3V641.5M365.1 636.3V641.5M411.5 636.3V641.5M457.9 636.3V641.5" stroke="#000" stroke-width="2.2" fill="none"/>
<rect x="100" y="556" width="20.6" height="80.3" fill="#000"/>
<path d="M110.4 556V545 M104.5 545.2H116.3" stroke="#000" stroke-width="2.3" fill="none"/>
<text transform="translate(106.4 658.3) rotate(-46)" font-size="15.4" text-anchor="end">NIL</text>
<rect x="146.4" y="484.4" width="20.6" height="151.9" fill="#000"/>
<path d="M156.8 484.4V467.1 M150.9 467.3H162.7" stroke="#000" stroke-width="2.3" fill="none"/>
<text transform="translate(150.1 661) rotate(-46)" font-size="15.4" text-anchor="end">LB</text>
<rect x="192.8" y="488.6" width="20.6" height="147.7" fill="#000"/>
<path d="M203.2 488.6V463.7 M197.3 463.9H209.1" stroke="#000" stroke-width="2.3" fill="none"/>
<text transform="translate(199.6 657.7) rotate(-46)" font-size="15.4" text-anchor="end">LB/IgG</text>
<rect x="239.2" y="538.1" width="20.6" height="98.2" fill="#000"/>
<path d="M249.6 538.1V530.5 M243.7 530.7H255.5" stroke="#000" stroke-width="2.3" fill="none"/>
<text transform="translate(246 656.8) rotate(-46)" font-size="15.4" text-anchor="end">LB/anti-CD70</text>
<rect x="285.6" y="516.5" width="20.6" height="119.8" fill="#000"/>
<path d="M296 516.5V492 M290.1 492.2H301.9" stroke="#000" stroke-width="2.3" fill="none"/>
<text transform="translate(292 655.8) rotate(-46)" font-size="15.4" text-anchor="end">LB/anti-CD80</text>
<rect x="332" y="519.5" width="20.6" height="116.8" fill="#000"/>
<path d="M342.4 519.5V496.1 M336.5 496.3H348.3" stroke="#000" stroke-width="2.3" fill="none"/>
<text transform="translate(338.4 657.1) rotate(-46)" font-size="15.4" text-anchor="end">LB/anti-CD86</text>
<rect x="378.4" y="519.5" width="20.6" height="116.8" fill="#000"/>
<path d="M388.8 519.5V487.3 M382.9 487.5H394.7" stroke="#000" stroke-width="2.3" fill="none"/>
<text transform="translate(386 655.8) rotate(-46)" font-size="15.4" text-anchor="end">LB/anti-CD80CD86</text>
<rect x="424.8" y="563" width="20.6" height="73.3" fill="#000"/>
<path d="M435.2 563V540.3 M429.3 540.5H441.1" stroke="#000" stroke-width="2.3" fill="none"/>
<text transform="translate(436 651.6) rotate(-46)" font-size="15.4" text-anchor="end">LB/anti-CD70+CD80CD86</text>
<path d="M248.6 520.2L248.6 515.2M248.6 520.2L253.36 518.65M248.6 520.2L251.54 524.25M248.6 520.2L245.66 524.25M248.6 520.2L243.84 518.65" stroke="#000" stroke-width="2.1" fill="none"/>
<path d="M425.3 530.2L425.3 525.2M425.3 530.2L430.06 528.65M425.3 530.2L428.24 534.25M425.3 530.2L422.36 534.25M425.3 530.2L420.54 528.65" stroke="#000" stroke-width="2.1" fill="none"/>
<path d="M438.2 530.2L438.2 525.2M438.2 530.2L442.96 528.65M438.2 530.2L441.14 534.25M438.2 530.2L435.26 534.25M438.2 530.2L433.44 528.65" stroke="#000" stroke-width="2.1" fill="none"/>
<text transform="translate(12.3 538.6) rotate(-90)" font-size="14.5" text-anchor="middle">Fol<tspan dx="1.8">xp3 induction</tspan></text>
<text transform="translate(33.8 540) rotate(-90)" font-size="14.5" text-anchor="middle">(fold change)</text>
</svg>
</body></html>
